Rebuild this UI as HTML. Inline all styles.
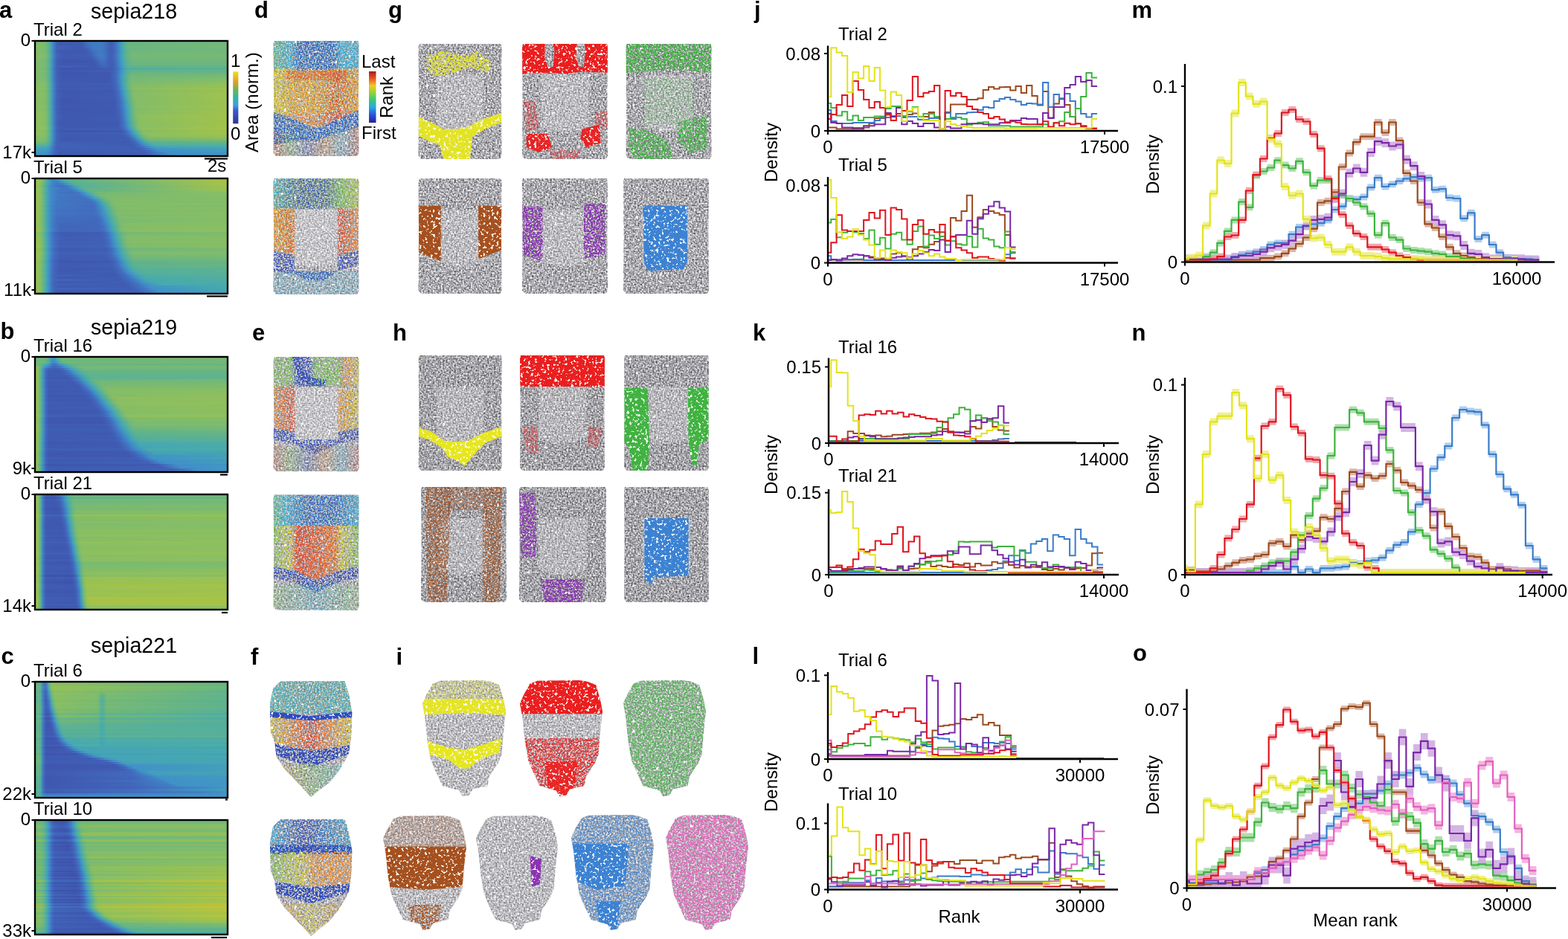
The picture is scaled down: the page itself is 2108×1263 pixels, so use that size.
<!DOCTYPE html>
<html><head><meta charset="utf-8"><style>
html,body{margin:0;padding:0;background:#fff;width:2108px;height:1263px;overflow:hidden}
svg{display:block}
text{font-family:"Liberation Sans",Arial,Helvetica,sans-serif;fill:#000}
.b{font-weight:bold}
</style></head><body>
<svg width="2108" height="1263" viewBox="0 0 2108 1263">
<defs><linearGradient id="h0_0"><stop offset="0" stop-color="#80bc6b"/><stop offset="0.0429" stop-color="#7fbc6c"/><stop offset="0.0571" stop-color="#76b975"/><stop offset="0.0714" stop-color="#5db290"/><stop offset="0.0857" stop-color="#439fba"/><stop offset="0.1" stop-color="#4178c2"/><stop offset="0.114" stop-color="#4061b7"/><stop offset="0.229" stop-color="#3f59b1"/><stop offset="0.286" stop-color="#417ac3"/><stop offset="0.343" stop-color="#417bc3"/><stop offset="0.357" stop-color="#4276c2"/><stop offset="0.386" stop-color="#4061b7"/><stop offset="0.4" stop-color="#4061b6"/><stop offset="0.414" stop-color="#416abd"/><stop offset="0.429" stop-color="#4180c4"/><stop offset="0.443" stop-color="#4299c0"/><stop offset="0.457" stop-color="#49abaa"/><stop offset="0.471" stop-color="#5db291"/><stop offset="0.486" stop-color="#6ab681"/><stop offset="1" stop-color="#72b879"/></linearGradient><linearGradient id="h0_1"><stop offset="0" stop-color="#80bc6b"/><stop offset="0.0429" stop-color="#7ebb6d"/><stop offset="0.0571" stop-color="#75b976"/><stop offset="0.0714" stop-color="#5cb191"/><stop offset="0.0857" stop-color="#439fba"/><stop offset="0.1" stop-color="#4178c2"/><stop offset="0.114" stop-color="#4061b7"/><stop offset="0.129" stop-color="#3f59b1"/><stop offset="0.243" stop-color="#3f5bb3"/><stop offset="0.286" stop-color="#4276c2"/><stop offset="0.343" stop-color="#417ac3"/><stop offset="0.357" stop-color="#4275c2"/><stop offset="0.386" stop-color="#4061b6"/><stop offset="0.4" stop-color="#4060b6"/><stop offset="0.414" stop-color="#416abd"/><stop offset="0.429" stop-color="#417fc4"/><stop offset="0.443" stop-color="#4298c1"/><stop offset="0.457" stop-color="#48abac"/><stop offset="0.471" stop-color="#5bb192"/><stop offset="0.486" stop-color="#69b582"/><stop offset="1" stop-color="#72b879"/></linearGradient><linearGradient id="h0_2"><stop offset="0" stop-color="#82bd69"/><stop offset="0.0429" stop-color="#81bc6a"/><stop offset="0.0571" stop-color="#78ba73"/><stop offset="0.0714" stop-color="#5eb28f"/><stop offset="0.0857" stop-color="#44a0b9"/><stop offset="0.1" stop-color="#417ac3"/><stop offset="0.114" stop-color="#4062b8"/><stop offset="0.243" stop-color="#3f5ab2"/><stop offset="0.3" stop-color="#417bc3"/><stop offset="0.343" stop-color="#417cc3"/><stop offset="0.357" stop-color="#4177c2"/><stop offset="0.386" stop-color="#4062b7"/><stop offset="0.4" stop-color="#4062b7"/><stop offset="0.414" stop-color="#426bbe"/><stop offset="0.429" stop-color="#4180c4"/><stop offset="0.443" stop-color="#4299c0"/><stop offset="0.457" stop-color="#4aabaa"/><stop offset="0.471" stop-color="#5db290"/><stop offset="0.486" stop-color="#6bb680"/><stop offset="1" stop-color="#74b977"/></linearGradient><linearGradient id="h0_3"><stop offset="0" stop-color="#80bc6b"/><stop offset="0.0429" stop-color="#7fbc6c"/><stop offset="0.0571" stop-color="#76b975"/><stop offset="0.0714" stop-color="#5db290"/><stop offset="0.0857" stop-color="#439fba"/><stop offset="0.1" stop-color="#4178c2"/><stop offset="0.114" stop-color="#4061b7"/><stop offset="0.243" stop-color="#3f58b1"/><stop offset="0.271" stop-color="#4061b7"/><stop offset="0.3" stop-color="#4276c2"/><stop offset="0.343" stop-color="#417bc3"/><stop offset="0.386" stop-color="#4061b7"/><stop offset="0.4" stop-color="#4060b6"/><stop offset="0.414" stop-color="#416abd"/><stop offset="0.429" stop-color="#417ec4"/><stop offset="0.443" stop-color="#4197c2"/><stop offset="0.457" stop-color="#48abad"/><stop offset="0.471" stop-color="#5bb193"/><stop offset="0.486" stop-color="#69b582"/><stop offset="1" stop-color="#72b879"/></linearGradient><linearGradient id="h0_4"><stop offset="0" stop-color="#7ebb6d"/><stop offset="0.0429" stop-color="#7dbb6e"/><stop offset="0.0571" stop-color="#74b977"/><stop offset="0.0714" stop-color="#5bb192"/><stop offset="0.0857" stop-color="#439ebb"/><stop offset="0.1" stop-color="#4277c2"/><stop offset="0.114" stop-color="#4060b6"/><stop offset="0.129" stop-color="#3f58b1"/><stop offset="0.257" stop-color="#3f58b0"/><stop offset="0.314" stop-color="#4276c2"/><stop offset="0.343" stop-color="#4179c2"/><stop offset="0.357" stop-color="#4274c1"/><stop offset="0.386" stop-color="#4060b6"/><stop offset="0.4" stop-color="#405fb5"/><stop offset="0.414" stop-color="#4168bc"/><stop offset="0.443" stop-color="#4195c4"/><stop offset="0.457" stop-color="#46a9b0"/><stop offset="0.471" stop-color="#59b096"/><stop offset="0.486" stop-color="#66b585"/><stop offset="0.514" stop-color="#70b77b"/><stop offset="1" stop-color="#70b77b"/></linearGradient><linearGradient id="h0_5"><stop offset="0" stop-color="#81bc6a"/><stop offset="0.0429" stop-color="#80bc6b"/><stop offset="0.0571" stop-color="#77b974"/><stop offset="0.0714" stop-color="#5eb28f"/><stop offset="0.0857" stop-color="#43a0b9"/><stop offset="0.1" stop-color="#4179c3"/><stop offset="0.114" stop-color="#4062b7"/><stop offset="0.143" stop-color="#3f58b1"/><stop offset="0.271" stop-color="#3f5ab2"/><stop offset="0.329" stop-color="#417ac3"/><stop offset="0.357" stop-color="#4276c2"/><stop offset="0.386" stop-color="#4061b7"/><stop offset="0.4" stop-color="#4061b7"/><stop offset="0.414" stop-color="#416abd"/><stop offset="0.429" stop-color="#417ec4"/><stop offset="0.443" stop-color="#4197c2"/><stop offset="0.457" stop-color="#47aaae"/><stop offset="0.471" stop-color="#5bb194"/><stop offset="0.486" stop-color="#69b582"/><stop offset="0.514" stop-color="#73b878"/><stop offset="1" stop-color="#73b878"/></linearGradient><linearGradient id="h0_6"><stop offset="0" stop-color="#85bd66"/><stop offset="0.0429" stop-color="#83bd68"/><stop offset="0.0571" stop-color="#7aba71"/><stop offset="0.0714" stop-color="#60b38c"/><stop offset="0.0857" stop-color="#44a2b7"/><stop offset="0.1" stop-color="#417cc3"/><stop offset="0.114" stop-color="#4164b9"/><stop offset="0.143" stop-color="#3f5ab2"/><stop offset="0.286" stop-color="#405eb5"/><stop offset="0.329" stop-color="#417ac3"/><stop offset="0.343" stop-color="#417dc3"/><stop offset="0.357" stop-color="#4179c2"/><stop offset="0.386" stop-color="#4063b8"/><stop offset="0.4" stop-color="#4062b8"/><stop offset="0.414" stop-color="#426bbe"/><stop offset="0.429" stop-color="#4180c4"/><stop offset="0.443" stop-color="#4298c1"/><stop offset="0.457" stop-color="#49abab"/><stop offset="0.471" stop-color="#5cb191"/><stop offset="0.486" stop-color="#6bb680"/><stop offset="0.5" stop-color="#74b977"/><stop offset="1" stop-color="#77b974"/></linearGradient><linearGradient id="h0_7"><stop offset="0" stop-color="#83bd68"/><stop offset="0.0429" stop-color="#82bc69"/><stop offset="0.0571" stop-color="#79ba72"/><stop offset="0.0714" stop-color="#5fb28e"/><stop offset="0.0857" stop-color="#44a1b8"/><stop offset="0.1" stop-color="#417bc3"/><stop offset="0.114" stop-color="#4063b8"/><stop offset="0.129" stop-color="#3f5bb3"/><stop offset="0.286" stop-color="#3f5bb2"/><stop offset="0.343" stop-color="#417ac3"/><stop offset="0.357" stop-color="#4177c2"/><stop offset="0.386" stop-color="#4062b8"/><stop offset="0.4" stop-color="#4062b7"/><stop offset="0.414" stop-color="#426bbe"/><stop offset="0.429" stop-color="#417fc4"/><stop offset="0.443" stop-color="#4197c2"/><stop offset="0.457" stop-color="#47aaad"/><stop offset="0.471" stop-color="#5bb193"/><stop offset="0.486" stop-color="#6ab681"/><stop offset="0.514" stop-color="#75b976"/><stop offset="1" stop-color="#75b976"/></linearGradient><linearGradient id="h0_8"><stop offset="0" stop-color="#7ebb6d"/><stop offset="0.0429" stop-color="#7cbb6f"/><stop offset="0.0571" stop-color="#73b878"/><stop offset="0.0714" stop-color="#5bb193"/><stop offset="0.0857" stop-color="#439dbc"/><stop offset="0.1" stop-color="#4276c2"/><stop offset="0.114" stop-color="#4060b6"/><stop offset="0.143" stop-color="#3f56af"/><stop offset="0.3" stop-color="#3f59b1"/><stop offset="0.343" stop-color="#4272c1"/><stop offset="0.357" stop-color="#4272c1"/><stop offset="0.386" stop-color="#405fb6"/><stop offset="0.4" stop-color="#405fb5"/><stop offset="0.414" stop-color="#4167bb"/><stop offset="0.443" stop-color="#4193c6"/><stop offset="0.457" stop-color="#45a7b2"/><stop offset="0.471" stop-color="#56af99"/><stop offset="0.486" stop-color="#64b488"/><stop offset="0.514" stop-color="#6fb77c"/><stop offset="1" stop-color="#6fb77c"/></linearGradient><linearGradient id="h0_9"><stop offset="0" stop-color="#7cbb6f"/><stop offset="0.0429" stop-color="#7aba71"/><stop offset="0.0571" stop-color="#71b87a"/><stop offset="0.0714" stop-color="#5ab195"/><stop offset="0.0857" stop-color="#439cbd"/><stop offset="0.1" stop-color="#4275c2"/><stop offset="0.114" stop-color="#405fb5"/><stop offset="0.143" stop-color="#3e55ae"/><stop offset="0.3" stop-color="#3f56af"/><stop offset="0.343" stop-color="#426cbe"/><stop offset="0.357" stop-color="#426ec0"/><stop offset="0.386" stop-color="#405eb5"/><stop offset="0.4" stop-color="#405db4"/><stop offset="0.414" stop-color="#4166ba"/><stop offset="0.429" stop-color="#4178c2"/><stop offset="0.443" stop-color="#4091c8"/><stop offset="0.457" stop-color="#45a5b4"/><stop offset="0.486" stop-color="#61b38b"/><stop offset="0.514" stop-color="#6cb67f"/><stop offset="1" stop-color="#6db67e"/></linearGradient><linearGradient id="h0_10"><stop offset="0" stop-color="#7ebb6d"/><stop offset="0.0429" stop-color="#7cbb6f"/><stop offset="0.0571" stop-color="#73b878"/><stop offset="0.0714" stop-color="#5bb193"/><stop offset="0.0857" stop-color="#439ebb"/><stop offset="0.1" stop-color="#4276c2"/><stop offset="0.114" stop-color="#4060b6"/><stop offset="0.129" stop-color="#3f58b0"/><stop offset="0.314" stop-color="#3f59b1"/><stop offset="0.357" stop-color="#426cbf"/><stop offset="0.386" stop-color="#405fb5"/><stop offset="0.4" stop-color="#405eb5"/><stop offset="0.414" stop-color="#4167bb"/><stop offset="0.429" stop-color="#4178c2"/><stop offset="0.443" stop-color="#4091c8"/><stop offset="0.457" stop-color="#45a4b5"/><stop offset="0.486" stop-color="#60b38d"/><stop offset="0.514" stop-color="#6ab681"/><stop offset="1" stop-color="#6ab681"/></linearGradient><linearGradient id="h0_11"><stop offset="0" stop-color="#80bc6b"/><stop offset="0.0429" stop-color="#7fbc6c"/><stop offset="0.0571" stop-color="#76b975"/><stop offset="0.0714" stop-color="#5db291"/><stop offset="0.0857" stop-color="#439fba"/><stop offset="0.1" stop-color="#4178c2"/><stop offset="0.114" stop-color="#4061b7"/><stop offset="0.314" stop-color="#3f58b1"/><stop offset="0.357" stop-color="#4168bc"/><stop offset="0.4" stop-color="#405fb5"/><stop offset="0.414" stop-color="#4167bb"/><stop offset="0.429" stop-color="#4177c2"/><stop offset="0.443" stop-color="#408fc7"/><stop offset="0.471" stop-color="#4eada4"/><stop offset="0.486" stop-color="#5bb193"/><stop offset="0.5" stop-color="#62b38a"/><stop offset="1" stop-color="#64b487"/></linearGradient><linearGradient id="h0_12"><stop offset="0" stop-color="#78ba73"/><stop offset="0.0429" stop-color="#76b975"/><stop offset="0.0571" stop-color="#6eb77d"/><stop offset="0.0714" stop-color="#57b098"/><stop offset="0.0857" stop-color="#429abf"/><stop offset="0.1" stop-color="#4272c1"/><stop offset="0.114" stop-color="#405db4"/><stop offset="0.143" stop-color="#3e53ad"/><stop offset="0.343" stop-color="#3f58b0"/><stop offset="0.371" stop-color="#405db4"/><stop offset="0.4" stop-color="#3f5ab2"/><stop offset="0.429" stop-color="#426fc0"/><stop offset="0.443" stop-color="#4185c5"/><stop offset="0.457" stop-color="#4299c0"/><stop offset="0.471" stop-color="#46a8b1"/><stop offset="0.486" stop-color="#50ada1"/><stop offset="1" stop-color="#59b095"/></linearGradient><linearGradient id="h0_13"><stop offset="0" stop-color="#7fbc6c"/><stop offset="0.0429" stop-color="#7ebb6d"/><stop offset="0.0571" stop-color="#75b976"/><stop offset="0.0714" stop-color="#5cb191"/><stop offset="0.0857" stop-color="#439ebb"/><stop offset="0.1" stop-color="#4177c2"/><stop offset="0.114" stop-color="#4061b7"/><stop offset="0.143" stop-color="#3f57b0"/><stop offset="0.4" stop-color="#405eb4"/><stop offset="0.414" stop-color="#4166ba"/><stop offset="0.429" stop-color="#4275c2"/><stop offset="0.443" stop-color="#408cc7"/><stop offset="0.471" stop-color="#4baca8"/><stop offset="0.486" stop-color="#58b097"/><stop offset="0.514" stop-color="#61b38b"/><stop offset="1" stop-color="#61b38a"/></linearGradient><linearGradient id="h0_14"><stop offset="0" stop-color="#7cbb6f"/><stop offset="0.0429" stop-color="#7aba71"/><stop offset="0.0571" stop-color="#71b87a"/><stop offset="0.0714" stop-color="#5ab195"/><stop offset="0.0857" stop-color="#439cbd"/><stop offset="0.1" stop-color="#4275c2"/><stop offset="0.114" stop-color="#405fb5"/><stop offset="0.143" stop-color="#3e55ae"/><stop offset="0.386" stop-color="#3f58b0"/><stop offset="0.414" stop-color="#4165b9"/><stop offset="0.429" stop-color="#4275c2"/><stop offset="0.443" stop-color="#408dc7"/><stop offset="0.457" stop-color="#44a1b8"/><stop offset="0.471" stop-color="#4fada3"/><stop offset="0.486" stop-color="#5db290"/><stop offset="0.514" stop-color="#69b582"/><stop offset="1" stop-color="#69b682"/></linearGradient><linearGradient id="h0_15"><stop offset="0" stop-color="#7dbb6e"/><stop offset="0.0429" stop-color="#7cbb6f"/><stop offset="0.0571" stop-color="#73b878"/><stop offset="0.0714" stop-color="#5bb193"/><stop offset="0.0857" stop-color="#439dbc"/><stop offset="0.1" stop-color="#4276c2"/><stop offset="0.114" stop-color="#4060b6"/><stop offset="0.143" stop-color="#3f56af"/><stop offset="0.386" stop-color="#3f58b0"/><stop offset="0.414" stop-color="#4166ba"/><stop offset="0.429" stop-color="#4177c2"/><stop offset="0.443" stop-color="#4091c8"/><stop offset="0.457" stop-color="#45a5b4"/><stop offset="0.486" stop-color="#64b487"/><stop offset="0.5" stop-color="#70b77b"/><stop offset="1" stop-color="#76b975"/></linearGradient><linearGradient id="h0_16"><stop offset="0" stop-color="#7ebb6d"/><stop offset="0.0429" stop-color="#7dbb6e"/><stop offset="0.0571" stop-color="#74b977"/><stop offset="0.0714" stop-color="#5bb192"/><stop offset="0.0857" stop-color="#439ebb"/><stop offset="0.1" stop-color="#4277c2"/><stop offset="0.114" stop-color="#4060b6"/><stop offset="0.129" stop-color="#3f58b1"/><stop offset="0.386" stop-color="#3f58b0"/><stop offset="0.414" stop-color="#4165ba"/><stop offset="0.429" stop-color="#4276c2"/><stop offset="0.443" stop-color="#4090c8"/><stop offset="0.457" stop-color="#45a5b4"/><stop offset="0.486" stop-color="#67b584"/><stop offset="0.5" stop-color="#74b977"/><stop offset="1" stop-color="#7cbb6f"/></linearGradient><linearGradient id="h0_17"><stop offset="0" stop-color="#7fbc6c"/><stop offset="0.0429" stop-color="#7ebb6d"/><stop offset="0.0571" stop-color="#75b976"/><stop offset="0.0714" stop-color="#5cb191"/><stop offset="0.0857" stop-color="#439ebb"/><stop offset="0.1" stop-color="#4177c2"/><stop offset="0.114" stop-color="#4061b6"/><stop offset="0.143" stop-color="#3f57b0"/><stop offset="0.386" stop-color="#3f58b0"/><stop offset="0.414" stop-color="#4164b9"/><stop offset="0.429" stop-color="#4274c1"/><stop offset="0.443" stop-color="#408ec7"/><stop offset="0.457" stop-color="#44a3b6"/><stop offset="0.486" stop-color="#68b583"/><stop offset="0.5" stop-color="#77b974"/><stop offset="1" stop-color="#83bd68"/></linearGradient><linearGradient id="h0_18"><stop offset="0" stop-color="#83bd68"/><stop offset="0.0429" stop-color="#82bd69"/><stop offset="0.0571" stop-color="#79ba72"/><stop offset="0.0714" stop-color="#5fb28e"/><stop offset="0.0857" stop-color="#44a0b9"/><stop offset="0.1" stop-color="#417ac3"/><stop offset="0.114" stop-color="#4062b7"/><stop offset="0.129" stop-color="#3f5ab2"/><stop offset="0.386" stop-color="#3f59b1"/><stop offset="0.414" stop-color="#4164b9"/><stop offset="0.429" stop-color="#4273c1"/><stop offset="0.443" stop-color="#408cc7"/><stop offset="0.457" stop-color="#44a3b6"/><stop offset="0.486" stop-color="#69b682"/><stop offset="0.5" stop-color="#7aba71"/><stop offset="1" stop-color="#8bbf60"/></linearGradient><linearGradient id="h0_19"><stop offset="0" stop-color="#88be63"/><stop offset="0.0429" stop-color="#86be65"/><stop offset="0.0571" stop-color="#7dbb6e"/><stop offset="0.0714" stop-color="#62b38a"/><stop offset="0.0857" stop-color="#44a2b7"/><stop offset="0.1" stop-color="#417cc3"/><stop offset="0.114" stop-color="#4063b8"/><stop offset="0.129" stop-color="#3f5bb3"/><stop offset="0.4" stop-color="#405db4"/><stop offset="0.414" stop-color="#4164b9"/><stop offset="0.429" stop-color="#4272c1"/><stop offset="0.443" stop-color="#408bc7"/><stop offset="0.457" stop-color="#44a2b7"/><stop offset="0.471" stop-color="#54af9c"/><stop offset="0.486" stop-color="#6ab681"/><stop offset="0.5" stop-color="#7dbb6e"/><stop offset="1" stop-color="#93c059"/></linearGradient><linearGradient id="h0_20"><stop offset="0" stop-color="#86be65"/><stop offset="0.0429" stop-color="#84bd67"/><stop offset="0.0571" stop-color="#7bbb70"/><stop offset="0.0714" stop-color="#60b38c"/><stop offset="0.0857" stop-color="#44a1b8"/><stop offset="0.1" stop-color="#4179c3"/><stop offset="0.114" stop-color="#4061b7"/><stop offset="0.129" stop-color="#3f59b1"/><stop offset="0.4" stop-color="#3f5ab2"/><stop offset="0.429" stop-color="#426dbf"/><stop offset="0.443" stop-color="#4185c5"/><stop offset="0.457" stop-color="#439dbc"/><stop offset="0.471" stop-color="#4fada3"/><stop offset="0.486" stop-color="#64b487"/><stop offset="0.5" stop-color="#79ba72"/><stop offset="0.514" stop-color="#83bd68"/><stop offset="1" stop-color="#94c057"/></linearGradient><linearGradient id="h0_21"><stop offset="0" stop-color="#8bbf60"/><stop offset="0.0429" stop-color="#8abe61"/><stop offset="0.0571" stop-color="#81bc6a"/><stop offset="0.0714" stop-color="#64b487"/><stop offset="0.0857" stop-color="#45a4b5"/><stop offset="0.1" stop-color="#417dc3"/><stop offset="0.114" stop-color="#4164b9"/><stop offset="0.143" stop-color="#3f5ab2"/><stop offset="0.4" stop-color="#405db4"/><stop offset="0.414" stop-color="#4062b8"/><stop offset="0.429" stop-color="#426ec0"/><stop offset="0.443" stop-color="#4185c5"/><stop offset="0.457" stop-color="#439dbc"/><stop offset="0.471" stop-color="#50ada2"/><stop offset="0.486" stop-color="#66b585"/><stop offset="0.5" stop-color="#7dbb6e"/><stop offset="0.514" stop-color="#88be63"/><stop offset="1" stop-color="#9dc24f"/></linearGradient><linearGradient id="h0_22"><stop offset="0" stop-color="#85be66"/><stop offset="0.0429" stop-color="#84bd67"/><stop offset="0.0571" stop-color="#7bba70"/><stop offset="0.0714" stop-color="#5fb28d"/><stop offset="0.0857" stop-color="#44a0b9"/><stop offset="0.1" stop-color="#4178c2"/><stop offset="0.114" stop-color="#4060b6"/><stop offset="0.129" stop-color="#3f58b0"/><stop offset="0.4" stop-color="#3f58b1"/><stop offset="0.429" stop-color="#4168bc"/><stop offset="0.443" stop-color="#417cc3"/><stop offset="0.457" stop-color="#4196c3"/><stop offset="0.471" stop-color="#47aaad"/><stop offset="0.486" stop-color="#5eb28f"/><stop offset="0.5" stop-color="#73b878"/><stop offset="0.514" stop-color="#81bc6a"/><stop offset="1" stop-color="#99c153"/></linearGradient><linearGradient id="h0_23"><stop offset="0" stop-color="#89be62"/><stop offset="0.0429" stop-color="#87be64"/><stop offset="0.0571" stop-color="#7ebc6d"/><stop offset="0.0714" stop-color="#62b389"/><stop offset="0.0857" stop-color="#44a2b7"/><stop offset="0.1" stop-color="#417bc3"/><stop offset="0.114" stop-color="#4062b8"/><stop offset="0.143" stop-color="#3f58b1"/><stop offset="0.4" stop-color="#3f5ab2"/><stop offset="0.414" stop-color="#405eb5"/><stop offset="0.429" stop-color="#4168bc"/><stop offset="0.443" stop-color="#417bc3"/><stop offset="0.457" stop-color="#4195c4"/><stop offset="0.471" stop-color="#46aaaf"/><stop offset="0.486" stop-color="#5eb28f"/><stop offset="0.5" stop-color="#74b977"/><stop offset="0.514" stop-color="#83bd68"/><stop offset="1" stop-color="#9ec24f"/></linearGradient><linearGradient id="h0_24"><stop offset="0" stop-color="#8bbf60"/><stop offset="0.0429" stop-color="#89be62"/><stop offset="0.0571" stop-color="#81bc6a"/><stop offset="0.0714" stop-color="#64b487"/><stop offset="0.0857" stop-color="#44a3b6"/><stop offset="0.1" stop-color="#417cc3"/><stop offset="0.114" stop-color="#4063b8"/><stop offset="0.143" stop-color="#3f59b1"/><stop offset="0.4" stop-color="#3f5bb2"/><stop offset="0.429" stop-color="#4167bb"/><stop offset="0.443" stop-color="#4179c3"/><stop offset="0.457" stop-color="#4093c6"/><stop offset="0.471" stop-color="#46a8b1"/><stop offset="0.5" stop-color="#73b878"/><stop offset="0.514" stop-color="#84bd67"/><stop offset="1" stop-color="#a0c24d"/></linearGradient><linearGradient id="h0_25"><stop offset="0" stop-color="#89be62"/><stop offset="0.0429" stop-color="#87be64"/><stop offset="0.0571" stop-color="#7ebb6d"/><stop offset="0.0714" stop-color="#62b38a"/><stop offset="0.0857" stop-color="#44a2b7"/><stop offset="0.1" stop-color="#417ac3"/><stop offset="0.114" stop-color="#4062b7"/><stop offset="0.143" stop-color="#3f58b0"/><stop offset="0.414" stop-color="#3f5cb3"/><stop offset="0.429" stop-color="#4164b9"/><stop offset="0.443" stop-color="#4274c1"/><stop offset="0.457" stop-color="#408dc7"/><stop offset="0.471" stop-color="#44a4b5"/><stop offset="0.5" stop-color="#6eb77d"/><stop offset="0.514" stop-color="#80bc6b"/><stop offset="1" stop-color="#9ec24f"/></linearGradient><linearGradient id="h0_26"><stop offset="0" stop-color="#86be65"/><stop offset="0.0429" stop-color="#85bd66"/><stop offset="0.0571" stop-color="#7cbb6f"/><stop offset="0.0714" stop-color="#60b38c"/><stop offset="0.0857" stop-color="#44a0b9"/><stop offset="0.1" stop-color="#4178c2"/><stop offset="0.114" stop-color="#4060b6"/><stop offset="0.143" stop-color="#3f56af"/><stop offset="0.414" stop-color="#3f5ab2"/><stop offset="0.443" stop-color="#426fc0"/><stop offset="0.457" stop-color="#4188c6"/><stop offset="0.471" stop-color="#439fba"/><stop offset="0.486" stop-color="#52ae9f"/><stop offset="0.5" stop-color="#68b583"/><stop offset="0.514" stop-color="#7bbb70"/><stop offset="0.529" stop-color="#85bd66"/><stop offset="1" stop-color="#9bc151"/></linearGradient><linearGradient id="h0_27"><stop offset="0" stop-color="#86be65"/><stop offset="0.0429" stop-color="#84bd67"/><stop offset="0.0571" stop-color="#7bbb70"/><stop offset="0.0714" stop-color="#60b38d"/><stop offset="0.0857" stop-color="#44a0b9"/><stop offset="0.1" stop-color="#4178c2"/><stop offset="0.114" stop-color="#4060b6"/><stop offset="0.143" stop-color="#3f56af"/><stop offset="0.414" stop-color="#3f59b1"/><stop offset="0.443" stop-color="#426cbf"/><stop offset="0.457" stop-color="#4184c5"/><stop offset="0.471" stop-color="#439cbd"/><stop offset="0.486" stop-color="#4fada3"/><stop offset="0.5" stop-color="#64b487"/><stop offset="0.514" stop-color="#79ba72"/><stop offset="0.529" stop-color="#84bd67"/><stop offset="1" stop-color="#9bc151"/></linearGradient><linearGradient id="h0_28"><stop offset="0" stop-color="#88be63"/><stop offset="0.0429" stop-color="#86be65"/><stop offset="0.0571" stop-color="#7dbb6e"/><stop offset="0.0714" stop-color="#61b38b"/><stop offset="0.0857" stop-color="#44a1b8"/><stop offset="0.1" stop-color="#4179c2"/><stop offset="0.114" stop-color="#4061b7"/><stop offset="0.143" stop-color="#3f57b0"/><stop offset="0.414" stop-color="#3f5ab1"/><stop offset="0.443" stop-color="#426cbe"/><stop offset="0.457" stop-color="#4182c5"/><stop offset="0.471" stop-color="#429bbe"/><stop offset="0.486" stop-color="#4daca5"/><stop offset="0.5" stop-color="#63b488"/><stop offset="0.514" stop-color="#79ba72"/><stop offset="0.529" stop-color="#85bd66"/><stop offset="1" stop-color="#9dc250"/></linearGradient><linearGradient id="h0_29"><stop offset="0" stop-color="#8abf61"/><stop offset="0.0429" stop-color="#89be62"/><stop offset="0.0571" stop-color="#80bc6b"/><stop offset="0.0714" stop-color="#63b488"/><stop offset="0.0857" stop-color="#44a3b6"/><stop offset="0.1" stop-color="#417bc3"/><stop offset="0.114" stop-color="#4062b8"/><stop offset="0.143" stop-color="#3f58b0"/><stop offset="0.414" stop-color="#3f5ab2"/><stop offset="0.443" stop-color="#426bbe"/><stop offset="0.457" stop-color="#4181c4"/><stop offset="0.471" stop-color="#429abf"/><stop offset="0.486" stop-color="#4caca7"/><stop offset="0.514" stop-color="#7aba71"/><stop offset="0.529" stop-color="#87be64"/><stop offset="1" stop-color="#9fc24d"/></linearGradient><linearGradient id="h0_30"><stop offset="0" stop-color="#87be64"/><stop offset="0.0429" stop-color="#85bd66"/><stop offset="0.0571" stop-color="#7cbb6f"/><stop offset="0.0714" stop-color="#60b38c"/><stop offset="0.0857" stop-color="#44a0b9"/><stop offset="0.1" stop-color="#4177c2"/><stop offset="0.114" stop-color="#4060b6"/><stop offset="0.143" stop-color="#3f56af"/><stop offset="0.414" stop-color="#3f58b0"/><stop offset="0.443" stop-color="#4167bb"/><stop offset="0.457" stop-color="#417bc3"/><stop offset="0.471" stop-color="#4195c4"/><stop offset="0.486" stop-color="#46aaaf"/><stop offset="0.5" stop-color="#5db290"/><stop offset="0.514" stop-color="#73b878"/><stop offset="0.529" stop-color="#82bd69"/><stop offset="1" stop-color="#9cc151"/></linearGradient><linearGradient id="h0_31"><stop offset="0" stop-color="#8abe62"/><stop offset="0.0429" stop-color="#88be63"/><stop offset="0.0571" stop-color="#7fbc6c"/><stop offset="0.0714" stop-color="#62b389"/><stop offset="0.0857" stop-color="#44a2b7"/><stop offset="0.1" stop-color="#417ac3"/><stop offset="0.114" stop-color="#4061b7"/><stop offset="0.143" stop-color="#3f57b0"/><stop offset="0.414" stop-color="#3f59b1"/><stop offset="0.443" stop-color="#4168bb"/><stop offset="0.457" stop-color="#417ac3"/><stop offset="0.471" stop-color="#4194c5"/><stop offset="0.486" stop-color="#46a9b0"/><stop offset="0.5" stop-color="#5db290"/><stop offset="0.514" stop-color="#74b977"/><stop offset="0.529" stop-color="#84bd67"/><stop offset="1" stop-color="#9fc24e"/></linearGradient><linearGradient id="h0_32"><stop offset="0" stop-color="#8abe61"/><stop offset="0.0429" stop-color="#89be63"/><stop offset="0.0571" stop-color="#80bc6b"/><stop offset="0.0714" stop-color="#63b489"/><stop offset="0.0857" stop-color="#44a2b7"/><stop offset="0.1" stop-color="#417ac3"/><stop offset="0.114" stop-color="#4061b7"/><stop offset="0.129" stop-color="#3f59b1"/><stop offset="0.414" stop-color="#3f59b1"/><stop offset="0.443" stop-color="#4166ba"/><stop offset="0.457" stop-color="#4178c2"/><stop offset="0.471" stop-color="#4092c7"/><stop offset="0.486" stop-color="#45a7b2"/><stop offset="0.514" stop-color="#72b879"/><stop offset="0.529" stop-color="#83bd68"/><stop offset="1" stop-color="#9fc24e"/></linearGradient><linearGradient id="h0_33"><stop offset="0" stop-color="#8cbf5f"/><stop offset="0.0429" stop-color="#8bbf60"/><stop offset="0.0571" stop-color="#82bd69"/><stop offset="0.0714" stop-color="#65b486"/><stop offset="0.0857" stop-color="#44a4b5"/><stop offset="0.1" stop-color="#417cc3"/><stop offset="0.114" stop-color="#4063b8"/><stop offset="0.143" stop-color="#3f59b1"/><stop offset="0.414" stop-color="#3f5ab2"/><stop offset="0.443" stop-color="#4166ba"/><stop offset="0.457" stop-color="#4177c2"/><stop offset="0.471" stop-color="#4090c8"/><stop offset="0.486" stop-color="#45a6b3"/><stop offset="0.514" stop-color="#72b879"/><stop offset="0.529" stop-color="#84bd67"/><stop offset="0.557" stop-color="#8fbf5d"/><stop offset="1" stop-color="#a1c24b"/></linearGradient><linearGradient id="h0_34"><stop offset="0" stop-color="#8cbf60"/><stop offset="0.0429" stop-color="#8abf61"/><stop offset="0.0571" stop-color="#81bc6a"/><stop offset="0.0714" stop-color="#64b487"/><stop offset="0.0857" stop-color="#44a3b6"/><stop offset="0.1" stop-color="#417bc3"/><stop offset="0.114" stop-color="#4062b8"/><stop offset="0.143" stop-color="#3f58b0"/><stop offset="0.429" stop-color="#3f5cb3"/><stop offset="0.443" stop-color="#4164b9"/><stop offset="0.457" stop-color="#4273c1"/><stop offset="0.471" stop-color="#408cc7"/><stop offset="0.486" stop-color="#44a3b6"/><stop offset="0.5" stop-color="#56af99"/><stop offset="0.514" stop-color="#6eb77d"/><stop offset="0.529" stop-color="#81bc6a"/><stop offset="0.543" stop-color="#8bbf60"/><stop offset="1" stop-color="#a1c24c"/></linearGradient><linearGradient id="h0_35"><stop offset="0" stop-color="#8cbf5f"/><stop offset="0.0429" stop-color="#8bbf60"/><stop offset="0.0571" stop-color="#82bd69"/><stop offset="0.0714" stop-color="#65b486"/><stop offset="0.0857" stop-color="#44a4b5"/><stop offset="0.1" stop-color="#417cc3"/><stop offset="0.114" stop-color="#4062b8"/><stop offset="0.143" stop-color="#3f58b1"/><stop offset="0.429" stop-color="#3f5cb3"/><stop offset="0.443" stop-color="#4063b8"/><stop offset="0.457" stop-color="#4271c1"/><stop offset="0.471" stop-color="#408ac6"/><stop offset="0.486" stop-color="#44a1b8"/><stop offset="0.5" stop-color="#54af9c"/><stop offset="0.514" stop-color="#6bb680"/><stop offset="0.529" stop-color="#80bc6b"/><stop offset="0.543" stop-color="#8bbf60"/><stop offset="1" stop-color="#a1c24b"/></linearGradient><linearGradient id="h0_36"><stop offset="0" stop-color="#8abe62"/><stop offset="0.0429" stop-color="#88be63"/><stop offset="0.0571" stop-color="#7fbc6c"/><stop offset="0.0714" stop-color="#62b389"/><stop offset="0.0857" stop-color="#44a2b7"/><stop offset="0.1" stop-color="#4179c2"/><stop offset="0.114" stop-color="#4061b6"/><stop offset="0.129" stop-color="#3f58b1"/><stop offset="0.429" stop-color="#3f5ab1"/><stop offset="0.443" stop-color="#4060b6"/><stop offset="0.457" stop-color="#426dbf"/><stop offset="0.471" stop-color="#4184c5"/><stop offset="0.486" stop-color="#439cbd"/><stop offset="0.5" stop-color="#4fada3"/><stop offset="0.514" stop-color="#65b486"/><stop offset="0.529" stop-color="#7bbb70"/><stop offset="0.543" stop-color="#88be63"/><stop offset="1" stop-color="#9fc24e"/></linearGradient><linearGradient id="h0_37"><stop offset="0" stop-color="#8bbf60"/><stop offset="0.0429" stop-color="#8abf61"/><stop offset="0.0571" stop-color="#81bc6a"/><stop offset="0.0714" stop-color="#64b487"/><stop offset="0.0857" stop-color="#44a3b6"/><stop offset="0.1" stop-color="#417ac3"/><stop offset="0.114" stop-color="#4062b7"/><stop offset="0.129" stop-color="#3f59b1"/><stop offset="0.429" stop-color="#3f5ab2"/><stop offset="0.457" stop-color="#426cbe"/><stop offset="0.471" stop-color="#4182c5"/><stop offset="0.486" stop-color="#429abf"/><stop offset="0.5" stop-color="#4daca6"/><stop offset="0.514" stop-color="#63b488"/><stop offset="0.529" stop-color="#7bbb70"/><stop offset="0.543" stop-color="#88be63"/><stop offset="1" stop-color="#a0c24c"/></linearGradient><linearGradient id="h0_38"><stop offset="0" stop-color="#8fbf5d"/><stop offset="0.0429" stop-color="#8dbf5e"/><stop offset="0.0571" stop-color="#85bd66"/><stop offset="0.0714" stop-color="#67b584"/><stop offset="0.0857" stop-color="#45a5b4"/><stop offset="0.1" stop-color="#417dc3"/><stop offset="0.114" stop-color="#4063b8"/><stop offset="0.143" stop-color="#3f59b1"/><stop offset="0.429" stop-color="#3f5bb3"/><stop offset="0.457" stop-color="#426bbe"/><stop offset="0.471" stop-color="#417fc4"/><stop offset="0.486" stop-color="#4298c1"/><stop offset="0.5" stop-color="#4aabaa"/><stop offset="0.514" stop-color="#61b38b"/><stop offset="0.529" stop-color="#79ba72"/><stop offset="0.543" stop-color="#89be62"/><stop offset="1" stop-color="#a4c349"/></linearGradient><linearGradient id="h0_39"><stop offset="0" stop-color="#91c05b"/><stop offset="0.0429" stop-color="#8fbf5c"/><stop offset="0.0571" stop-color="#87be64"/><stop offset="0.0714" stop-color="#6ab681"/><stop offset="0.0857" stop-color="#45a6b3"/><stop offset="0.1" stop-color="#417fc4"/><stop offset="0.114" stop-color="#4165b9"/><stop offset="0.129" stop-color="#3f5cb3"/><stop offset="0.443" stop-color="#405fb5"/><stop offset="0.457" stop-color="#4167bb"/><stop offset="0.471" stop-color="#4178c2"/><stop offset="0.486" stop-color="#4090c8"/><stop offset="0.5" stop-color="#45a5b4"/><stop offset="0.529" stop-color="#72b879"/><stop offset="0.543" stop-color="#86be65"/><stop offset="0.557" stop-color="#90bf5c"/><stop offset="1" stop-color="#a6c347"/></linearGradient><linearGradient id="h0_40"><stop offset="0" stop-color="#88be63"/><stop offset="0.0429" stop-color="#87be64"/><stop offset="0.0571" stop-color="#7ebb6d"/><stop offset="0.0714" stop-color="#61b38b"/><stop offset="0.0857" stop-color="#44a0b9"/><stop offset="0.1" stop-color="#4177c2"/><stop offset="0.114" stop-color="#405fb6"/><stop offset="0.143" stop-color="#3e55ae"/><stop offset="0.443" stop-color="#3f58b0"/><stop offset="0.471" stop-color="#4167bb"/><stop offset="0.5" stop-color="#4193c6"/><stop offset="0.514" stop-color="#46a8b1"/><stop offset="0.543" stop-color="#71b87a"/><stop offset="0.557" stop-color="#82bd69"/><stop offset="1" stop-color="#9dc24f"/></linearGradient><linearGradient id="h0_41"><stop offset="0" stop-color="#8ebf5d"/><stop offset="0.0429" stop-color="#8dbf5f"/><stop offset="0.0571" stop-color="#85bd66"/><stop offset="0.0714" stop-color="#67b584"/><stop offset="0.0857" stop-color="#45a5b4"/><stop offset="0.1" stop-color="#417ec4"/><stop offset="0.114" stop-color="#4165b9"/><stop offset="0.129" stop-color="#3f5cb3"/><stop offset="0.457" stop-color="#405eb5"/><stop offset="0.486" stop-color="#4273c1"/><stop offset="0.5" stop-color="#408ac6"/><stop offset="0.514" stop-color="#44a0b9"/><stop offset="0.529" stop-color="#53ae9e"/><stop offset="0.543" stop-color="#6ab681"/><stop offset="0.557" stop-color="#80bc6b"/><stop offset="0.571" stop-color="#8cbf5f"/><stop offset="1" stop-color="#a2c34b"/></linearGradient><linearGradient id="h0_42"><stop offset="0" stop-color="#89be62"/><stop offset="0.0429" stop-color="#88be63"/><stop offset="0.0571" stop-color="#7fbc6c"/><stop offset="0.0714" stop-color="#63b488"/><stop offset="0.0857" stop-color="#44a3b6"/><stop offset="0.1" stop-color="#417dc3"/><stop offset="0.114" stop-color="#4164b9"/><stop offset="0.143" stop-color="#3f5ab2"/><stop offset="0.457" stop-color="#3f5cb3"/><stop offset="0.486" stop-color="#4169bc"/><stop offset="0.5" stop-color="#417ac3"/><stop offset="0.514" stop-color="#4092c7"/><stop offset="0.529" stop-color="#45a6b3"/><stop offset="0.557" stop-color="#6db77e"/><stop offset="0.571" stop-color="#7fbc6c"/><stop offset="0.6" stop-color="#8cbf5f"/><stop offset="1" stop-color="#99c153"/></linearGradient><linearGradient id="h0_43"><stop offset="0" stop-color="#84bd67"/><stop offset="0.0429" stop-color="#82bd69"/><stop offset="0.0571" stop-color="#79ba72"/><stop offset="0.0714" stop-color="#5fb28d"/><stop offset="0.0857" stop-color="#44a1b8"/><stop offset="0.1" stop-color="#417ac3"/><stop offset="0.114" stop-color="#4063b8"/><stop offset="0.143" stop-color="#3f59b1"/><stop offset="0.471" stop-color="#3f5cb3"/><stop offset="0.5" stop-color="#426bbe"/><stop offset="0.529" stop-color="#4195c4"/><stop offset="0.543" stop-color="#46a8b1"/><stop offset="0.571" stop-color="#6bb680"/><stop offset="0.586" stop-color="#79ba72"/><stop offset="1" stop-color="#8cbf60"/></linearGradient><linearGradient id="h0_44"><stop offset="0" stop-color="#80bc6b"/><stop offset="0.0429" stop-color="#7ebc6d"/><stop offset="0.0571" stop-color="#76b975"/><stop offset="0.0714" stop-color="#5db290"/><stop offset="0.0857" stop-color="#439fba"/><stop offset="0.1" stop-color="#4179c2"/><stop offset="0.114" stop-color="#4062b7"/><stop offset="0.143" stop-color="#3f58b0"/><stop offset="0.486" stop-color="#3f5cb3"/><stop offset="0.514" stop-color="#426ec0"/><stop offset="0.529" stop-color="#4182c5"/><stop offset="0.543" stop-color="#4297c2"/><stop offset="0.557" stop-color="#46a9b0"/><stop offset="0.586" stop-color="#64b488"/><stop offset="0.6" stop-color="#6eb77d"/><stop offset="1" stop-color="#7aba71"/></linearGradient><linearGradient id="h0_45"><stop offset="0" stop-color="#75b976"/><stop offset="0.0429" stop-color="#73b878"/><stop offset="0.0571" stop-color="#6bb680"/><stop offset="0.0714" stop-color="#56af9a"/><stop offset="0.0857" stop-color="#429bbe"/><stop offset="0.1" stop-color="#4275c2"/><stop offset="0.114" stop-color="#4060b6"/><stop offset="0.486" stop-color="#3f59b1"/><stop offset="0.514" stop-color="#4164b9"/><stop offset="0.529" stop-color="#426fc0"/><stop offset="0.557" stop-color="#4195c4"/><stop offset="0.571" stop-color="#45a5b4"/><stop offset="0.6" stop-color="#59b096"/><stop offset="1" stop-color="#63b488"/></linearGradient><linearGradient id="h0_46"><stop offset="0" stop-color="#61b38c"/><stop offset="0.0429" stop-color="#60b38d"/><stop offset="0.0571" stop-color="#5bb193"/><stop offset="0.0714" stop-color="#4baca9"/><stop offset="0.0857" stop-color="#4195c4"/><stop offset="0.1" stop-color="#4274c1"/><stop offset="0.114" stop-color="#4062b8"/><stop offset="0.5" stop-color="#3f5cb3"/><stop offset="0.529" stop-color="#4167bb"/><stop offset="0.557" stop-color="#4183c5"/><stop offset="0.571" stop-color="#4194c5"/><stop offset="0.6" stop-color="#46aaae"/><stop offset="0.629" stop-color="#53ae9d"/><stop offset="1" stop-color="#57b099"/></linearGradient><linearGradient id="h0_47"><stop offset="0" stop-color="#4baca8"/><stop offset="0.0429" stop-color="#4aaba9"/><stop offset="0.0571" stop-color="#46aaae"/><stop offset="0.0714" stop-color="#43a0b9"/><stop offset="0.0857" stop-color="#408ac7"/><stop offset="0.1" stop-color="#426fc0"/><stop offset="0.114" stop-color="#4062b7"/><stop offset="0.514" stop-color="#405db4"/><stop offset="0.557" stop-color="#4270c0"/><stop offset="0.586" stop-color="#408bc7"/><stop offset="0.629" stop-color="#45a5b4"/><stop offset="1" stop-color="#49abab"/></linearGradient><linearGradient id="h0_48"><stop offset="0" stop-color="#44a3b6"/><stop offset="0.0571" stop-color="#439fba"/><stop offset="0.0714" stop-color="#4196c3"/><stop offset="0.0857" stop-color="#4182c5"/><stop offset="0.1" stop-color="#426bbe"/><stop offset="0.114" stop-color="#4060b6"/><stop offset="0.543" stop-color="#4060b6"/><stop offset="0.571" stop-color="#426bbe"/><stop offset="0.629" stop-color="#4193c6"/><stop offset="1" stop-color="#44a2b7"/></linearGradient><linearGradient id="h0_49"><stop offset="0" stop-color="#429bbe"/><stop offset="0.0571" stop-color="#4298c1"/><stop offset="0.0714" stop-color="#408fc8"/><stop offset="0.1" stop-color="#4169bc"/><stop offset="0.129" stop-color="#3f5bb2"/><stop offset="0.557" stop-color="#405fb5"/><stop offset="0.6" stop-color="#426ec0"/><stop offset="0.657" stop-color="#4090c8"/><stop offset="1" stop-color="#429bbe"/></linearGradient><linearGradient id="h0_50"><stop offset="0" stop-color="#4194c5"/><stop offset="0.0571" stop-color="#4091c8"/><stop offset="0.0714" stop-color="#4187c6"/><stop offset="0.1" stop-color="#4166ba"/><stop offset="0.129" stop-color="#3f59b1"/><stop offset="0.571" stop-color="#405db4"/><stop offset="0.7" stop-color="#4090c8"/><stop offset="1" stop-color="#4194c5"/></linearGradient><linearGradient id="h0_51"><stop offset="0" stop-color="#408cc7"/><stop offset="0.0571" stop-color="#4089c6"/><stop offset="0.0714" stop-color="#4180c4"/><stop offset="0.1" stop-color="#4062b7"/><stop offset="0.129" stop-color="#3f56af"/><stop offset="0.586" stop-color="#3f5bb3"/><stop offset="0.729" stop-color="#408bc7"/><stop offset="1" stop-color="#408cc7"/></linearGradient><linearGradient id="h1_0"><stop offset="0" stop-color="#9ac153"/><stop offset="0.0143" stop-color="#97c155"/><stop offset="0.0286" stop-color="#8ebf5e"/><stop offset="0.0429" stop-color="#75b976"/><stop offset="0.0571" stop-color="#54af9d"/><stop offset="0.0714" stop-color="#439cbd"/><stop offset="0.0857" stop-color="#4088c6"/><stop offset="0.1" stop-color="#4184c5"/><stop offset="0.114" stop-color="#408fc8"/><stop offset="0.143" stop-color="#48abad"/><stop offset="0.171" stop-color="#5ab194"/><stop offset="1" stop-color="#a6c347"/></linearGradient><linearGradient id="h1_1"><stop offset="0" stop-color="#9bc151"/><stop offset="0.0143" stop-color="#99c154"/><stop offset="0.0286" stop-color="#8fbf5d"/><stop offset="0.0429" stop-color="#78ba73"/><stop offset="0.0571" stop-color="#59b095"/><stop offset="0.0714" stop-color="#44a3b6"/><stop offset="0.0857" stop-color="#408fc8"/><stop offset="0.1" stop-color="#4181c4"/><stop offset="0.114" stop-color="#4180c4"/><stop offset="0.143" stop-color="#4297c2"/><stop offset="0.157" stop-color="#45a5b4"/><stop offset="0.186" stop-color="#57b098"/><stop offset="0.229" stop-color="#61b38b"/><stop offset="1" stop-color="#a8c346"/></linearGradient><linearGradient id="h1_2"><stop offset="0" stop-color="#9ac153"/><stop offset="0.0143" stop-color="#96c156"/><stop offset="0.0286" stop-color="#8bbf61"/><stop offset="0.0429" stop-color="#70b77b"/><stop offset="0.0571" stop-color="#51aea0"/><stop offset="0.0714" stop-color="#439dbc"/><stop offset="0.0857" stop-color="#408bc7"/><stop offset="0.1" stop-color="#417dc3"/><stop offset="0.114" stop-color="#4276c2"/><stop offset="0.143" stop-color="#417ec4"/><stop offset="0.157" stop-color="#408cc7"/><stop offset="0.186" stop-color="#45a8b1"/><stop offset="0.214" stop-color="#58b097"/><stop offset="1" stop-color="#a6c348"/></linearGradient><linearGradient id="h1_3"><stop offset="0" stop-color="#94c058"/><stop offset="0.0143" stop-color="#90bf5c"/><stop offset="0.0286" stop-color="#83bd68"/><stop offset="0.0429" stop-color="#65b486"/><stop offset="0.0571" stop-color="#48abac"/><stop offset="0.0714" stop-color="#4196c3"/><stop offset="0.0857" stop-color="#4184c5"/><stop offset="0.114" stop-color="#4272c1"/><stop offset="0.143" stop-color="#426ec0"/><stop offset="0.171" stop-color="#417ec4"/><stop offset="0.186" stop-color="#408ec7"/><stop offset="0.214" stop-color="#46a9b0"/><stop offset="0.243" stop-color="#57b099"/><stop offset="1" stop-color="#9ec24f"/></linearGradient><linearGradient id="h1_4"><stop offset="0" stop-color="#9cc151"/><stop offset="0.0143" stop-color="#98c154"/><stop offset="0.0286" stop-color="#8cbf60"/><stop offset="0.0429" stop-color="#6fb77c"/><stop offset="0.0571" stop-color="#4fada4"/><stop offset="0.0714" stop-color="#429bbe"/><stop offset="0.0857" stop-color="#408bc7"/><stop offset="0.143" stop-color="#4275c2"/><stop offset="0.171" stop-color="#4277c2"/><stop offset="0.2" stop-color="#408dc7"/><stop offset="0.229" stop-color="#46a9b0"/><stop offset="0.257" stop-color="#5db291"/><stop offset="1" stop-color="#a0c24d"/></linearGradient><linearGradient id="h1_5"><stop offset="0" stop-color="#9ac152"/><stop offset="0.0143" stop-color="#96c156"/><stop offset="0.0286" stop-color="#8abf61"/><stop offset="0.0429" stop-color="#6db77e"/><stop offset="0.0571" stop-color="#4daca5"/><stop offset="0.0714" stop-color="#429abf"/><stop offset="0.0857" stop-color="#4089c6"/><stop offset="0.114" stop-color="#417ac3"/><stop offset="0.186" stop-color="#4273c1"/><stop offset="0.2" stop-color="#4178c2"/><stop offset="0.229" stop-color="#4194c5"/><stop offset="0.257" stop-color="#4daca6"/><stop offset="0.286" stop-color="#63b488"/><stop offset="1" stop-color="#96c156"/></linearGradient><linearGradient id="h1_6"><stop offset="0" stop-color="#96c156"/><stop offset="0.0143" stop-color="#93c059"/><stop offset="0.0286" stop-color="#87be64"/><stop offset="0.0429" stop-color="#69b582"/><stop offset="0.0571" stop-color="#4baca9"/><stop offset="0.0714" stop-color="#4298c1"/><stop offset="0.0857" stop-color="#4186c6"/><stop offset="0.129" stop-color="#4274c1"/><stop offset="0.2" stop-color="#426ec0"/><stop offset="0.229" stop-color="#417ac3"/><stop offset="0.243" stop-color="#4089c6"/><stop offset="0.257" stop-color="#4299c0"/><stop offset="0.271" stop-color="#46a9b0"/><stop offset="0.3" stop-color="#61b38c"/><stop offset="0.329" stop-color="#72b879"/><stop offset="1" stop-color="#8abf61"/></linearGradient><linearGradient id="h1_7"><stop offset="0" stop-color="#9ac152"/><stop offset="0.0143" stop-color="#97c155"/><stop offset="0.0286" stop-color="#8bbf60"/><stop offset="0.0429" stop-color="#6eb77d"/><stop offset="0.0571" stop-color="#4eada4"/><stop offset="0.0714" stop-color="#429abf"/><stop offset="0.0857" stop-color="#408ac6"/><stop offset="0.114" stop-color="#417ac3"/><stop offset="0.229" stop-color="#4273c1"/><stop offset="0.257" stop-color="#4185c5"/><stop offset="0.271" stop-color="#4195c4"/><stop offset="0.286" stop-color="#45a5b4"/><stop offset="0.314" stop-color="#61b38b"/><stop offset="0.343" stop-color="#79ba72"/><stop offset="1" stop-color="#88be64"/></linearGradient><linearGradient id="h1_8"><stop offset="0" stop-color="#9ac153"/><stop offset="0.0143" stop-color="#96c156"/><stop offset="0.0286" stop-color="#8abf61"/><stop offset="0.0429" stop-color="#6db77e"/><stop offset="0.0571" stop-color="#4eada5"/><stop offset="0.0714" stop-color="#429abf"/><stop offset="0.0857" stop-color="#4089c6"/><stop offset="0.114" stop-color="#4178c2"/><stop offset="0.243" stop-color="#4270c1"/><stop offset="0.271" stop-color="#417dc3"/><stop offset="0.286" stop-color="#408cc7"/><stop offset="0.3" stop-color="#439dbc"/><stop offset="0.314" stop-color="#49abab"/><stop offset="0.343" stop-color="#69b582"/><stop offset="0.371" stop-color="#7dbb6e"/><stop offset="1" stop-color="#83bd68"/></linearGradient><linearGradient id="h1_9"><stop offset="0" stop-color="#99c153"/><stop offset="0.0143" stop-color="#96c056"/><stop offset="0.0286" stop-color="#8abf61"/><stop offset="0.0429" stop-color="#6db77e"/><stop offset="0.0571" stop-color="#4daca5"/><stop offset="0.0714" stop-color="#429abf"/><stop offset="0.0857" stop-color="#4088c6"/><stop offset="0.129" stop-color="#4274c1"/><stop offset="0.271" stop-color="#4271c1"/><stop offset="0.286" stop-color="#4177c2"/><stop offset="0.314" stop-color="#4195c4"/><stop offset="0.329" stop-color="#45a5b4"/><stop offset="0.357" stop-color="#62b389"/><stop offset="0.371" stop-color="#72b879"/><stop offset="0.4" stop-color="#80bc6b"/><stop offset="1" stop-color="#83bd68"/></linearGradient><linearGradient id="h1_10"><stop offset="0" stop-color="#98c154"/><stop offset="0.0143" stop-color="#95c057"/><stop offset="0.0286" stop-color="#89be62"/><stop offset="0.0429" stop-color="#6cb67f"/><stop offset="0.0571" stop-color="#4daca6"/><stop offset="0.0714" stop-color="#4299c0"/><stop offset="0.0857" stop-color="#4187c6"/><stop offset="0.114" stop-color="#4276c2"/><stop offset="0.286" stop-color="#426ec0"/><stop offset="0.3" stop-color="#4273c1"/><stop offset="0.314" stop-color="#417fc4"/><stop offset="0.329" stop-color="#4092c7"/><stop offset="0.343" stop-color="#44a2b7"/><stop offset="0.357" stop-color="#51aea1"/><stop offset="0.371" stop-color="#61b38a"/><stop offset="0.386" stop-color="#72b879"/><stop offset="0.414" stop-color="#81bc6a"/><stop offset="1" stop-color="#83bd68"/></linearGradient><linearGradient id="h1_11"><stop offset="0" stop-color="#9ac152"/><stop offset="0.0143" stop-color="#97c155"/><stop offset="0.0286" stop-color="#8bbf60"/><stop offset="0.0429" stop-color="#6eb77d"/><stop offset="0.0571" stop-color="#4eada4"/><stop offset="0.0714" stop-color="#429abf"/><stop offset="0.0857" stop-color="#4089c6"/><stop offset="0.114" stop-color="#4177c2"/><stop offset="0.3" stop-color="#426fc0"/><stop offset="0.314" stop-color="#4177c2"/><stop offset="0.329" stop-color="#4187c6"/><stop offset="0.343" stop-color="#4299c0"/><stop offset="0.357" stop-color="#46aaae"/><stop offset="0.386" stop-color="#6bb680"/><stop offset="0.4" stop-color="#7aba71"/><stop offset="0.429" stop-color="#85bd66"/><stop offset="1" stop-color="#86be65"/></linearGradient><linearGradient id="h1_12"><stop offset="0" stop-color="#96c056"/><stop offset="0.0143" stop-color="#92c059"/><stop offset="0.0286" stop-color="#86be65"/><stop offset="0.0429" stop-color="#69b582"/><stop offset="0.0571" stop-color="#4aaba9"/><stop offset="0.0714" stop-color="#4197c2"/><stop offset="0.1" stop-color="#4179c2"/><stop offset="0.3" stop-color="#426bbe"/><stop offset="0.314" stop-color="#4271c1"/><stop offset="0.343" stop-color="#4090c8"/><stop offset="0.357" stop-color="#44a1b8"/><stop offset="0.371" stop-color="#4eada4"/><stop offset="0.4" stop-color="#70b77b"/><stop offset="0.429" stop-color="#7fbc6c"/><stop offset="1" stop-color="#81bc6a"/></linearGradient><linearGradient id="h1_13"><stop offset="0" stop-color="#98c154"/><stop offset="0.0143" stop-color="#94c058"/><stop offset="0.0286" stop-color="#89be62"/><stop offset="0.0429" stop-color="#6bb680"/><stop offset="0.0571" stop-color="#4caca7"/><stop offset="0.0714" stop-color="#4298c1"/><stop offset="0.0857" stop-color="#4186c6"/><stop offset="0.114" stop-color="#4273c1"/><stop offset="0.3" stop-color="#426ec0"/><stop offset="0.314" stop-color="#4272c1"/><stop offset="0.343" stop-color="#408cc7"/><stop offset="0.357" stop-color="#439cbd"/><stop offset="0.371" stop-color="#49abab"/><stop offset="0.4" stop-color="#6cb67f"/><stop offset="0.414" stop-color="#7aba71"/><stop offset="0.443" stop-color="#84bd67"/><stop offset="1" stop-color="#85bd66"/></linearGradient><linearGradient id="h1_14"><stop offset="0" stop-color="#97c155"/><stop offset="0.0143" stop-color="#93c059"/><stop offset="0.0286" stop-color="#88be64"/><stop offset="0.0429" stop-color="#6ab681"/><stop offset="0.0571" stop-color="#4baca8"/><stop offset="0.0714" stop-color="#4298c1"/><stop offset="0.0857" stop-color="#4185c5"/><stop offset="0.114" stop-color="#4271c1"/><stop offset="0.3" stop-color="#426dbf"/><stop offset="0.329" stop-color="#4178c2"/><stop offset="0.357" stop-color="#4196c3"/><stop offset="0.371" stop-color="#45a6b3"/><stop offset="0.4" stop-color="#64b487"/><stop offset="0.429" stop-color="#7ebb6d"/><stop offset="1" stop-color="#84bd67"/></linearGradient><linearGradient id="h1_15"><stop offset="0" stop-color="#9bc152"/><stop offset="0.0143" stop-color="#97c155"/><stop offset="0.0286" stop-color="#8bbf60"/><stop offset="0.0429" stop-color="#6fb77c"/><stop offset="0.0571" stop-color="#4fada4"/><stop offset="0.0714" stop-color="#429abf"/><stop offset="0.0857" stop-color="#4188c6"/><stop offset="0.114" stop-color="#4274c1"/><stop offset="0.3" stop-color="#426ec0"/><stop offset="0.329" stop-color="#4178c2"/><stop offset="0.357" stop-color="#4194c5"/><stop offset="0.371" stop-color="#44a3b6"/><stop offset="0.414" stop-color="#74b977"/><stop offset="0.429" stop-color="#80bc6b"/><stop offset="1" stop-color="#89be62"/></linearGradient><linearGradient id="h1_16"><stop offset="0" stop-color="#99c154"/><stop offset="0.0143" stop-color="#95c057"/><stop offset="0.0286" stop-color="#89be62"/><stop offset="0.0429" stop-color="#6cb67f"/><stop offset="0.0571" stop-color="#4daca6"/><stop offset="0.0714" stop-color="#4299c0"/><stop offset="0.0857" stop-color="#4186c5"/><stop offset="0.114" stop-color="#4270c1"/><stop offset="0.314" stop-color="#426dbf"/><stop offset="0.329" stop-color="#4272c1"/><stop offset="0.357" stop-color="#408dc7"/><stop offset="0.386" stop-color="#49abab"/><stop offset="0.414" stop-color="#6db67e"/><stop offset="0.429" stop-color="#7bbb70"/><stop offset="1" stop-color="#87be64"/></linearGradient><linearGradient id="h1_17"><stop offset="0" stop-color="#97c155"/><stop offset="0.0143" stop-color="#94c058"/><stop offset="0.0286" stop-color="#88be63"/><stop offset="0.0429" stop-color="#6bb680"/><stop offset="0.0571" stop-color="#4caca7"/><stop offset="0.0714" stop-color="#4298c1"/><stop offset="0.0857" stop-color="#4185c5"/><stop offset="0.114" stop-color="#426ec0"/><stop offset="0.314" stop-color="#416abd"/><stop offset="0.343" stop-color="#4177c2"/><stop offset="0.357" stop-color="#4186c6"/><stop offset="0.371" stop-color="#4197c2"/><stop offset="0.386" stop-color="#45a7b2"/><stop offset="0.414" stop-color="#66b585"/><stop offset="0.429" stop-color="#76b975"/><stop offset="0.457" stop-color="#84bd67"/><stop offset="1" stop-color="#86be65"/></linearGradient><linearGradient id="h1_18"><stop offset="0" stop-color="#96c056"/><stop offset="0.0143" stop-color="#92c05a"/><stop offset="0.0286" stop-color="#86be65"/><stop offset="0.0429" stop-color="#69b582"/><stop offset="0.0571" stop-color="#4aaba9"/><stop offset="0.0714" stop-color="#4197c2"/><stop offset="0.0857" stop-color="#4182c5"/><stop offset="0.114" stop-color="#426cbe"/><stop offset="0.329" stop-color="#416abd"/><stop offset="0.343" stop-color="#4271c1"/><stop offset="0.371" stop-color="#4091c8"/><stop offset="0.386" stop-color="#44a1b8"/><stop offset="0.4" stop-color="#4fada3"/><stop offset="0.429" stop-color="#70b87b"/><stop offset="0.443" stop-color="#7cbb6f"/><stop offset="1" stop-color="#84bd67"/></linearGradient><linearGradient id="h1_19"><stop offset="0" stop-color="#97c155"/><stop offset="0.0143" stop-color="#94c058"/><stop offset="0.0286" stop-color="#88be63"/><stop offset="0.0429" stop-color="#6bb680"/><stop offset="0.0571" stop-color="#4caca7"/><stop offset="0.0714" stop-color="#4298c1"/><stop offset="0.0857" stop-color="#4184c5"/><stop offset="0.114" stop-color="#426cbf"/><stop offset="0.314" stop-color="#4167bb"/><stop offset="0.343" stop-color="#426fc0"/><stop offset="0.371" stop-color="#408dc7"/><stop offset="0.386" stop-color="#439ebb"/><stop offset="0.4" stop-color="#4baca8"/><stop offset="0.429" stop-color="#6eb77d"/><stop offset="0.443" stop-color="#7cbb6f"/><stop offset="1" stop-color="#86be65"/></linearGradient><linearGradient id="h1_20"><stop offset="0" stop-color="#98c154"/><stop offset="0.0143" stop-color="#95c057"/><stop offset="0.0286" stop-color="#89be62"/><stop offset="0.0429" stop-color="#6cb67f"/><stop offset="0.0571" stop-color="#4daca6"/><stop offset="0.0714" stop-color="#4298c1"/><stop offset="0.0857" stop-color="#4184c5"/><stop offset="0.1" stop-color="#4274c1"/><stop offset="0.129" stop-color="#4167bb"/><stop offset="0.329" stop-color="#4168bc"/><stop offset="0.357" stop-color="#4178c2"/><stop offset="0.371" stop-color="#4188c6"/><stop offset="0.386" stop-color="#429abf"/><stop offset="0.4" stop-color="#46aaaf"/><stop offset="0.429" stop-color="#6ab681"/><stop offset="0.443" stop-color="#7aba71"/><stop offset="0.471" stop-color="#86be65"/><stop offset="1" stop-color="#87be64"/></linearGradient><linearGradient id="h1_21"><stop offset="0" stop-color="#97c155"/><stop offset="0.0143" stop-color="#94c058"/><stop offset="0.0286" stop-color="#88be63"/><stop offset="0.0429" stop-color="#6bb680"/><stop offset="0.0571" stop-color="#4caca7"/><stop offset="0.0714" stop-color="#4297c2"/><stop offset="0.0857" stop-color="#4182c5"/><stop offset="0.1" stop-color="#4272c1"/><stop offset="0.143" stop-color="#4164b9"/><stop offset="0.343" stop-color="#4169bd"/><stop offset="0.357" stop-color="#4272c1"/><stop offset="0.386" stop-color="#4194c5"/><stop offset="0.4" stop-color="#45a5b4"/><stop offset="0.429" stop-color="#64b487"/><stop offset="0.443" stop-color="#75b976"/><stop offset="0.471" stop-color="#84bd67"/><stop offset="1" stop-color="#86be65"/></linearGradient><linearGradient id="h1_22"><stop offset="0" stop-color="#9dc24f"/><stop offset="0.0143" stop-color="#9ac153"/><stop offset="0.0286" stop-color="#8ebf5e"/><stop offset="0.0429" stop-color="#72b879"/><stop offset="0.0571" stop-color="#50ada1"/><stop offset="0.0714" stop-color="#429bbe"/><stop offset="0.0857" stop-color="#4187c6"/><stop offset="0.1" stop-color="#4276c2"/><stop offset="0.129" stop-color="#4168bc"/><stop offset="0.329" stop-color="#4167bb"/><stop offset="0.357" stop-color="#4272c1"/><stop offset="0.386" stop-color="#4193c6"/><stop offset="0.4" stop-color="#45a4b5"/><stop offset="0.443" stop-color="#78ba73"/><stop offset="0.457" stop-color="#84bd67"/><stop offset="1" stop-color="#8cbf60"/></linearGradient><linearGradient id="h1_23"><stop offset="0" stop-color="#9cc150"/><stop offset="0.0143" stop-color="#99c154"/><stop offset="0.0286" stop-color="#8dbf5e"/><stop offset="0.0429" stop-color="#70b87b"/><stop offset="0.0571" stop-color="#4fada2"/><stop offset="0.0714" stop-color="#429abf"/><stop offset="0.0857" stop-color="#4185c5"/><stop offset="0.1" stop-color="#4274c1"/><stop offset="0.129" stop-color="#4166ba"/><stop offset="0.343" stop-color="#4168bc"/><stop offset="0.357" stop-color="#426dc0"/><stop offset="0.386" stop-color="#408dc7"/><stop offset="0.4" stop-color="#439ebb"/><stop offset="0.414" stop-color="#4caca6"/><stop offset="0.443" stop-color="#72b879"/><stop offset="0.457" stop-color="#80bc6b"/><stop offset="0.486" stop-color="#8abe61"/><stop offset="1" stop-color="#8bbf61"/></linearGradient><linearGradient id="h1_24"><stop offset="0" stop-color="#8fbf5d"/><stop offset="0.0143" stop-color="#8bbf60"/><stop offset="0.0286" stop-color="#7ebc6d"/><stop offset="0.0429" stop-color="#62b38a"/><stop offset="0.0571" stop-color="#46a9b0"/><stop offset="0.0714" stop-color="#4091c8"/><stop offset="0.0857" stop-color="#4179c2"/><stop offset="0.1" stop-color="#4169bc"/><stop offset="0.129" stop-color="#3f5cb3"/><stop offset="0.343" stop-color="#405db4"/><stop offset="0.371" stop-color="#426bbe"/><stop offset="0.4" stop-color="#4090c8"/><stop offset="0.414" stop-color="#44a2b7"/><stop offset="0.429" stop-color="#4fada3"/><stop offset="0.443" stop-color="#5fb28d"/><stop offset="0.471" stop-color="#76b975"/><stop offset="1" stop-color="#7cbb6f"/></linearGradient><linearGradient id="h1_25"><stop offset="0" stop-color="#92c05a"/><stop offset="0.0143" stop-color="#8ebf5d"/><stop offset="0.0286" stop-color="#82bc69"/><stop offset="0.0429" stop-color="#64b487"/><stop offset="0.0571" stop-color="#47aaae"/><stop offset="0.0714" stop-color="#4093c6"/><stop offset="0.0857" stop-color="#417bc3"/><stop offset="0.1" stop-color="#416abd"/><stop offset="0.143" stop-color="#3f5bb3"/><stop offset="0.343" stop-color="#405db4"/><stop offset="0.371" stop-color="#4169bd"/><stop offset="0.4" stop-color="#408dc7"/><stop offset="0.414" stop-color="#439fba"/><stop offset="0.429" stop-color="#4daca6"/><stop offset="0.457" stop-color="#6db77e"/><stop offset="0.486" stop-color="#7dbb6e"/><stop offset="1" stop-color="#7fbc6c"/></linearGradient><linearGradient id="h1_26"><stop offset="0" stop-color="#98c154"/><stop offset="0.0143" stop-color="#94c058"/><stop offset="0.0286" stop-color="#89be62"/><stop offset="0.0429" stop-color="#6bb680"/><stop offset="0.0571" stop-color="#4caca7"/><stop offset="0.0714" stop-color="#4197c2"/><stop offset="0.0857" stop-color="#417fc4"/><stop offset="0.1" stop-color="#426dbf"/><stop offset="0.129" stop-color="#405fb6"/><stop offset="0.343" stop-color="#405fb5"/><stop offset="0.371" stop-color="#416abd"/><stop offset="0.4" stop-color="#408cc7"/><stop offset="0.414" stop-color="#439fba"/><stop offset="0.429" stop-color="#4daca6"/><stop offset="0.457" stop-color="#71b87a"/><stop offset="0.486" stop-color="#83bd68"/><stop offset="1" stop-color="#86be65"/></linearGradient><linearGradient id="h1_27"><stop offset="0" stop-color="#97c155"/><stop offset="0.0143" stop-color="#93c058"/><stop offset="0.0286" stop-color="#88be63"/><stop offset="0.0429" stop-color="#6ab681"/><stop offset="0.0571" stop-color="#4baca8"/><stop offset="0.0714" stop-color="#4196c3"/><stop offset="0.0857" stop-color="#417ec4"/><stop offset="0.1" stop-color="#426bbe"/><stop offset="0.143" stop-color="#3f5cb3"/><stop offset="0.357" stop-color="#4060b6"/><stop offset="0.386" stop-color="#4272c1"/><stop offset="0.4" stop-color="#4185c5"/><stop offset="0.414" stop-color="#4299c0"/><stop offset="0.429" stop-color="#47aaae"/><stop offset="0.457" stop-color="#6bb680"/><stop offset="0.486" stop-color="#81bc6a"/><stop offset="1" stop-color="#85bd66"/></linearGradient><linearGradient id="h1_28"><stop offset="0" stop-color="#99c153"/><stop offset="0.0143" stop-color="#96c056"/><stop offset="0.0286" stop-color="#8abf61"/><stop offset="0.0429" stop-color="#6db77e"/><stop offset="0.0571" stop-color="#4daca6"/><stop offset="0.0714" stop-color="#4197c2"/><stop offset="0.0857" stop-color="#417fc4"/><stop offset="0.1" stop-color="#426cbf"/><stop offset="0.129" stop-color="#405eb5"/><stop offset="0.357" stop-color="#4060b6"/><stop offset="0.386" stop-color="#426fc0"/><stop offset="0.414" stop-color="#4196c3"/><stop offset="0.429" stop-color="#45a7b2"/><stop offset="0.457" stop-color="#68b583"/><stop offset="0.471" stop-color="#78ba73"/><stop offset="0.514" stop-color="#87be64"/><stop offset="1" stop-color="#87be64"/></linearGradient><linearGradient id="h1_29"><stop offset="0" stop-color="#99c153"/><stop offset="0.0143" stop-color="#96c056"/><stop offset="0.0286" stop-color="#8abe61"/><stop offset="0.0429" stop-color="#6db77e"/><stop offset="0.0571" stop-color="#4daca6"/><stop offset="0.0714" stop-color="#4197c2"/><stop offset="0.0857" stop-color="#417fc4"/><stop offset="0.1" stop-color="#426cbe"/><stop offset="0.129" stop-color="#405eb4"/><stop offset="0.357" stop-color="#405fb5"/><stop offset="0.386" stop-color="#426cbf"/><stop offset="0.414" stop-color="#4091c8"/><stop offset="0.429" stop-color="#44a3b6"/><stop offset="0.471" stop-color="#73b878"/><stop offset="0.486" stop-color="#7ebb6d"/><stop offset="1" stop-color="#85bd66"/></linearGradient><linearGradient id="h1_30"><stop offset="0" stop-color="#a0c24d"/><stop offset="0.0143" stop-color="#9dc250"/><stop offset="0.0286" stop-color="#91c05b"/><stop offset="0.0429" stop-color="#75b976"/><stop offset="0.0571" stop-color="#52ae9f"/><stop offset="0.0714" stop-color="#439cbd"/><stop offset="0.0857" stop-color="#4184c5"/><stop offset="0.1" stop-color="#4270c0"/><stop offset="0.129" stop-color="#4062b7"/><stop offset="0.357" stop-color="#4062b7"/><stop offset="0.386" stop-color="#426ec0"/><stop offset="0.414" stop-color="#4091c8"/><stop offset="0.429" stop-color="#44a2b7"/><stop offset="0.471" stop-color="#75b976"/><stop offset="0.486" stop-color="#81bc6a"/><stop offset="1" stop-color="#8abe61"/></linearGradient><linearGradient id="h1_31"><stop offset="0" stop-color="#94c058"/><stop offset="0.0143" stop-color="#91c05b"/><stop offset="0.0286" stop-color="#85bd66"/><stop offset="0.0429" stop-color="#67b584"/><stop offset="0.0571" stop-color="#48abac"/><stop offset="0.0714" stop-color="#4193c6"/><stop offset="0.0857" stop-color="#417ac3"/><stop offset="0.1" stop-color="#4168bc"/><stop offset="0.129" stop-color="#3f5ab2"/><stop offset="0.371" stop-color="#405db4"/><stop offset="0.4" stop-color="#426ec0"/><stop offset="0.429" stop-color="#4195c4"/><stop offset="0.443" stop-color="#45a6b3"/><stop offset="0.471" stop-color="#62b38a"/><stop offset="0.486" stop-color="#6fb77c"/><stop offset="1" stop-color="#7aba71"/></linearGradient><linearGradient id="h1_32"><stop offset="0" stop-color="#97c155"/><stop offset="0.0143" stop-color="#93c058"/><stop offset="0.0286" stop-color="#87be64"/><stop offset="0.0429" stop-color="#6ab681"/><stop offset="0.0571" stop-color="#4aaba9"/><stop offset="0.0714" stop-color="#4195c4"/><stop offset="0.0857" stop-color="#417bc3"/><stop offset="0.1" stop-color="#4169bd"/><stop offset="0.129" stop-color="#3f5bb3"/><stop offset="0.371" stop-color="#405eb4"/><stop offset="0.4" stop-color="#426dbf"/><stop offset="0.429" stop-color="#4093c6"/><stop offset="0.443" stop-color="#44a3b6"/><stop offset="0.471" stop-color="#5fb28d"/><stop offset="0.5" stop-color="#75b976"/><stop offset="1" stop-color="#7aba71"/></linearGradient><linearGradient id="h1_33"><stop offset="0" stop-color="#a0c24d"/><stop offset="0.0143" stop-color="#9cc250"/><stop offset="0.0286" stop-color="#90c05c"/><stop offset="0.0429" stop-color="#74b877"/><stop offset="0.0571" stop-color="#51aea0"/><stop offset="0.0714" stop-color="#429bbe"/><stop offset="0.0857" stop-color="#4183c5"/><stop offset="0.1" stop-color="#426ec0"/><stop offset="0.129" stop-color="#4061b6"/><stop offset="0.371" stop-color="#4062b8"/><stop offset="0.4" stop-color="#4270c1"/><stop offset="0.429" stop-color="#4194c5"/><stop offset="0.443" stop-color="#45a4b5"/><stop offset="0.486" stop-color="#71b87a"/><stop offset="0.514" stop-color="#80bc6b"/><stop offset="1" stop-color="#82bd69"/></linearGradient><linearGradient id="h1_34"><stop offset="0" stop-color="#9bc152"/><stop offset="0.0143" stop-color="#97c155"/><stop offset="0.0286" stop-color="#8bbf60"/><stop offset="0.0429" stop-color="#6eb77d"/><stop offset="0.0571" stop-color="#4daca6"/><stop offset="0.0714" stop-color="#4197c2"/><stop offset="0.0857" stop-color="#417ec4"/><stop offset="0.1" stop-color="#426bbe"/><stop offset="0.129" stop-color="#405db4"/><stop offset="0.371" stop-color="#405eb5"/><stop offset="0.4" stop-color="#416abd"/><stop offset="0.414" stop-color="#4177c2"/><stop offset="0.429" stop-color="#408ac6"/><stop offset="0.443" stop-color="#429bbe"/><stop offset="0.457" stop-color="#47aaae"/><stop offset="0.486" stop-color="#64b487"/><stop offset="0.514" stop-color="#76b975"/><stop offset="1" stop-color="#79ba72"/></linearGradient><linearGradient id="h1_35"><stop offset="0" stop-color="#9bc152"/><stop offset="0.0143" stop-color="#97c155"/><stop offset="0.0286" stop-color="#8bbf60"/><stop offset="0.0429" stop-color="#6db77e"/><stop offset="0.0571" stop-color="#4daca6"/><stop offset="0.0714" stop-color="#4197c2"/><stop offset="0.0857" stop-color="#417dc4"/><stop offset="0.1" stop-color="#416abd"/><stop offset="0.129" stop-color="#405db4"/><stop offset="0.371" stop-color="#405db4"/><stop offset="0.4" stop-color="#4167bb"/><stop offset="0.414" stop-color="#4271c1"/><stop offset="0.443" stop-color="#4195c4"/><stop offset="0.457" stop-color="#45a5b4"/><stop offset="0.486" stop-color="#5fb28e"/><stop offset="0.514" stop-color="#72b879"/><stop offset="1" stop-color="#76b975"/></linearGradient><linearGradient id="h1_36"><stop offset="0" stop-color="#96c156"/><stop offset="0.0143" stop-color="#93c059"/><stop offset="0.0286" stop-color="#86be65"/><stop offset="0.0429" stop-color="#68b583"/><stop offset="0.0571" stop-color="#49abab"/><stop offset="0.0714" stop-color="#4194c5"/><stop offset="0.0857" stop-color="#4179c3"/><stop offset="0.1" stop-color="#4167bb"/><stop offset="0.129" stop-color="#3f5ab2"/><stop offset="0.386" stop-color="#405db4"/><stop offset="0.414" stop-color="#416abd"/><stop offset="0.443" stop-color="#408cc7"/><stop offset="0.471" stop-color="#47aaae"/><stop offset="0.486" stop-color="#55af9a"/><stop offset="0.514" stop-color="#68b583"/><stop offset="1" stop-color="#6eb77d"/></linearGradient><linearGradient id="h1_37"><stop offset="0" stop-color="#92c059"/><stop offset="0.0143" stop-color="#8fbf5d"/><stop offset="0.0286" stop-color="#81bc6a"/><stop offset="0.0429" stop-color="#63b488"/><stop offset="0.0571" stop-color="#46a9b0"/><stop offset="0.0714" stop-color="#4090c8"/><stop offset="0.0857" stop-color="#4275c2"/><stop offset="0.1" stop-color="#4164b9"/><stop offset="0.143" stop-color="#3f56af"/><stop offset="0.386" stop-color="#3f59b1"/><stop offset="0.414" stop-color="#4164b9"/><stop offset="0.429" stop-color="#426fc0"/><stop offset="0.457" stop-color="#4193c6"/><stop offset="0.486" stop-color="#4baca8"/><stop offset="0.514" stop-color="#5fb28e"/><stop offset="1" stop-color="#65b486"/></linearGradient><linearGradient id="h1_38"><stop offset="0" stop-color="#99c153"/><stop offset="0.0143" stop-color="#95c057"/><stop offset="0.0286" stop-color="#88be63"/><stop offset="0.0429" stop-color="#6ab681"/><stop offset="0.0571" stop-color="#4aaba9"/><stop offset="0.0714" stop-color="#4195c4"/><stop offset="0.0857" stop-color="#417ac3"/><stop offset="0.1" stop-color="#4168bc"/><stop offset="0.129" stop-color="#3f5bb3"/><stop offset="0.4" stop-color="#405fb6"/><stop offset="0.429" stop-color="#426fc0"/><stop offset="0.457" stop-color="#4092c7"/><stop offset="0.486" stop-color="#4aabaa"/><stop offset="0.514" stop-color="#5fb28d"/><stop offset="1" stop-color="#68b583"/></linearGradient><linearGradient id="h1_39"><stop offset="0" stop-color="#99c154"/><stop offset="0.0143" stop-color="#95c057"/><stop offset="0.0286" stop-color="#88be63"/><stop offset="0.0429" stop-color="#6ab681"/><stop offset="0.0571" stop-color="#4aabaa"/><stop offset="0.0714" stop-color="#4194c5"/><stop offset="0.0857" stop-color="#417ac3"/><stop offset="0.1" stop-color="#4167bb"/><stop offset="0.129" stop-color="#3f5bb2"/><stop offset="0.4" stop-color="#405eb4"/><stop offset="0.429" stop-color="#426bbe"/><stop offset="0.457" stop-color="#408bc7"/><stop offset="0.486" stop-color="#45a7b2"/><stop offset="0.514" stop-color="#5ab195"/><stop offset="0.543" stop-color="#62b389"/><stop offset="1" stop-color="#64b488"/></linearGradient><linearGradient id="h1_40"><stop offset="0" stop-color="#94c058"/><stop offset="0.0143" stop-color="#90bf5c"/><stop offset="0.0286" stop-color="#82bd69"/><stop offset="0.0429" stop-color="#64b487"/><stop offset="0.0571" stop-color="#46aaaf"/><stop offset="0.0714" stop-color="#4090c8"/><stop offset="0.0857" stop-color="#4275c2"/><stop offset="0.1" stop-color="#4164b9"/><stop offset="0.129" stop-color="#3f58b0"/><stop offset="0.4" stop-color="#3f5ab1"/><stop offset="0.443" stop-color="#426fc0"/><stop offset="0.471" stop-color="#4090c8"/><stop offset="0.5" stop-color="#46a9b0"/><stop offset="0.529" stop-color="#57b099"/><stop offset="1" stop-color="#5cb191"/></linearGradient><linearGradient id="h1_41"><stop offset="0" stop-color="#96c056"/><stop offset="0.0143" stop-color="#92c05a"/><stop offset="0.0286" stop-color="#84bd67"/><stop offset="0.0429" stop-color="#66b485"/><stop offset="0.0571" stop-color="#47aaae"/><stop offset="0.0714" stop-color="#4092c7"/><stop offset="0.0857" stop-color="#4276c2"/><stop offset="0.1" stop-color="#4165b9"/><stop offset="0.129" stop-color="#3f59b1"/><stop offset="0.414" stop-color="#405db4"/><stop offset="0.443" stop-color="#416abd"/><stop offset="0.471" stop-color="#4188c6"/><stop offset="0.486" stop-color="#4196c3"/><stop offset="0.514" stop-color="#48abac"/><stop offset="0.543" stop-color="#56af99"/><stop offset="1" stop-color="#5bb193"/></linearGradient><linearGradient id="h1_42"><stop offset="0" stop-color="#98c154"/><stop offset="0.0143" stop-color="#94c058"/><stop offset="0.0286" stop-color="#87be64"/><stop offset="0.0429" stop-color="#68b583"/><stop offset="0.0571" stop-color="#48abac"/><stop offset="0.0714" stop-color="#4093c6"/><stop offset="0.0857" stop-color="#4177c2"/><stop offset="0.1" stop-color="#4166ba"/><stop offset="0.129" stop-color="#3f5ab2"/><stop offset="0.414" stop-color="#3f5cb3"/><stop offset="0.457" stop-color="#426ec0"/><stop offset="0.486" stop-color="#408cc7"/><stop offset="0.529" stop-color="#48abac"/><stop offset="0.557" stop-color="#55af9b"/><stop offset="1" stop-color="#59b095"/></linearGradient><linearGradient id="h1_43"><stop offset="0" stop-color="#95c057"/><stop offset="0.0143" stop-color="#91c05b"/><stop offset="0.0286" stop-color="#83bd68"/><stop offset="0.0429" stop-color="#64b487"/><stop offset="0.0571" stop-color="#46aaaf"/><stop offset="0.0714" stop-color="#4090c8"/><stop offset="0.0857" stop-color="#4274c1"/><stop offset="0.1" stop-color="#4063b8"/><stop offset="0.414" stop-color="#3f58b0"/><stop offset="0.471" stop-color="#426dbf"/><stop offset="0.5" stop-color="#4188c6"/><stop offset="0.514" stop-color="#4195c4"/><stop offset="0.543" stop-color="#45a7b2"/><stop offset="0.586" stop-color="#51aea0"/><stop offset="1" stop-color="#54af9d"/></linearGradient><linearGradient id="h1_44"><stop offset="0" stop-color="#98c154"/><stop offset="0.0143" stop-color="#94c058"/><stop offset="0.0286" stop-color="#86be65"/><stop offset="0.0429" stop-color="#67b584"/><stop offset="0.0571" stop-color="#48abad"/><stop offset="0.0714" stop-color="#4092c7"/><stop offset="0.0857" stop-color="#4276c2"/><stop offset="0.1" stop-color="#4165b9"/><stop offset="0.129" stop-color="#3f59b1"/><stop offset="0.443" stop-color="#405db4"/><stop offset="0.486" stop-color="#4270c1"/><stop offset="0.529" stop-color="#4195c4"/><stop offset="0.571" stop-color="#48abac"/><stop offset="1" stop-color="#53ae9e"/></linearGradient><linearGradient id="h1_45"><stop offset="0" stop-color="#98c154"/><stop offset="0.0143" stop-color="#94c058"/><stop offset="0.0286" stop-color="#87be64"/><stop offset="0.0429" stop-color="#67b584"/><stop offset="0.0571" stop-color="#48abad"/><stop offset="0.0714" stop-color="#4092c7"/><stop offset="0.0857" stop-color="#4276c2"/><stop offset="0.1" stop-color="#4165b9"/><stop offset="0.443" stop-color="#3f5bb3"/><stop offset="0.5" stop-color="#4271c1"/><stop offset="0.543" stop-color="#4194c5"/><stop offset="0.586" stop-color="#46a9b0"/><stop offset="1" stop-color="#50ada1"/></linearGradient><linearGradient id="h1_46"><stop offset="0" stop-color="#98c154"/><stop offset="0.0143" stop-color="#94c058"/><stop offset="0.0286" stop-color="#86be65"/><stop offset="0.0429" stop-color="#67b584"/><stop offset="0.0571" stop-color="#47aaad"/><stop offset="0.0714" stop-color="#4091c8"/><stop offset="0.0857" stop-color="#4275c2"/><stop offset="0.1" stop-color="#4164b9"/><stop offset="0.129" stop-color="#3f59b1"/><stop offset="0.471" stop-color="#405fb5"/><stop offset="0.514" stop-color="#4271c1"/><stop offset="0.557" stop-color="#4092c7"/><stop offset="0.614" stop-color="#46aaaf"/><stop offset="1" stop-color="#4daca6"/></linearGradient><linearGradient id="h1_47"><stop offset="0" stop-color="#96c156"/><stop offset="0.0143" stop-color="#92c05a"/><stop offset="0.0286" stop-color="#84bd67"/><stop offset="0.0429" stop-color="#64b487"/><stop offset="0.0571" stop-color="#46a9b0"/><stop offset="0.0714" stop-color="#408fc8"/><stop offset="0.0857" stop-color="#4272c1"/><stop offset="0.1" stop-color="#4062b8"/><stop offset="0.471" stop-color="#3f5bb2"/><stop offset="0.529" stop-color="#426fc0"/><stop offset="0.571" stop-color="#408dc7"/><stop offset="0.657" stop-color="#46aaaf"/><stop offset="1" stop-color="#48abac"/></linearGradient><linearGradient id="h1_48"><stop offset="0" stop-color="#9ac152"/><stop offset="0.0143" stop-color="#96c056"/><stop offset="0.0286" stop-color="#88be63"/><stop offset="0.0429" stop-color="#68b583"/><stop offset="0.0571" stop-color="#48abac"/><stop offset="0.0714" stop-color="#4092c7"/><stop offset="0.0857" stop-color="#4275c2"/><stop offset="0.1" stop-color="#4164b9"/><stop offset="0.129" stop-color="#3f5ab2"/><stop offset="0.486" stop-color="#405db4"/><stop offset="0.543" stop-color="#4271c1"/><stop offset="0.6" stop-color="#4194c5"/><stop offset="1" stop-color="#48abac"/></linearGradient><linearGradient id="h1_49"><stop offset="0" stop-color="#9bc151"/><stop offset="0.0143" stop-color="#97c155"/><stop offset="0.0286" stop-color="#89be63"/><stop offset="0.0429" stop-color="#68b583"/><stop offset="0.0571" stop-color="#48abac"/><stop offset="0.0714" stop-color="#4092c7"/><stop offset="0.0857" stop-color="#4275c2"/><stop offset="0.1" stop-color="#4165b9"/><stop offset="0.5" stop-color="#405eb5"/><stop offset="0.571" stop-color="#4178c2"/><stop offset="0.614" stop-color="#4091c8"/><stop offset="1" stop-color="#46aaaf"/></linearGradient><linearGradient id="h1_50"><stop offset="0" stop-color="#99c153"/><stop offset="0.0143" stop-color="#95c057"/><stop offset="0.0286" stop-color="#86be65"/><stop offset="0.0429" stop-color="#65b486"/><stop offset="0.0571" stop-color="#46aaaf"/><stop offset="0.0714" stop-color="#408fc8"/><stop offset="0.0857" stop-color="#4272c1"/><stop offset="0.1" stop-color="#4063b8"/><stop offset="0.129" stop-color="#3f59b1"/><stop offset="0.529" stop-color="#405fb6"/><stop offset="0.643" stop-color="#4092c7"/><stop offset="1" stop-color="#45a6b3"/></linearGradient><linearGradient id="h1_51"><stop offset="0" stop-color="#95c057"/><stop offset="0.0143" stop-color="#90c05b"/><stop offset="0.0286" stop-color="#81bc6a"/><stop offset="0.0429" stop-color="#61b38b"/><stop offset="0.0571" stop-color="#45a6b3"/><stop offset="0.0714" stop-color="#408ac6"/><stop offset="0.0857" stop-color="#426ec0"/><stop offset="0.1" stop-color="#4060b6"/><stop offset="0.129" stop-color="#3f56af"/><stop offset="0.557" stop-color="#4061b7"/><stop offset="0.657" stop-color="#408ec7"/><stop offset="1" stop-color="#44a1b8"/></linearGradient><linearGradient id="h2_0"><stop offset="0" stop-color="#73b878"/><stop offset="0.0429" stop-color="#72b879"/><stop offset="0.0571" stop-color="#6bb680"/><stop offset="0.0714" stop-color="#54af9d"/><stop offset="0.0857" stop-color="#4299c0"/><stop offset="0.1" stop-color="#4194c5"/><stop offset="0.114" stop-color="#4aaba9"/><stop offset="0.129" stop-color="#68b583"/><stop offset="0.143" stop-color="#76b975"/><stop offset="1" stop-color="#78ba73"/></linearGradient><linearGradient id="h2_1"><stop offset="0" stop-color="#70b77b"/><stop offset="0.0429" stop-color="#6fb77c"/><stop offset="0.0571" stop-color="#68b583"/><stop offset="0.0714" stop-color="#51aea0"/><stop offset="0.0857" stop-color="#4197c2"/><stop offset="0.1" stop-color="#408ec7"/><stop offset="0.114" stop-color="#45a6b3"/><stop offset="0.129" stop-color="#5fb28e"/><stop offset="0.143" stop-color="#6eb77d"/><stop offset="1" stop-color="#74b877"/></linearGradient><linearGradient id="h2_2"><stop offset="0" stop-color="#71b87a"/><stop offset="0.0429" stop-color="#6db77e"/><stop offset="0.0571" stop-color="#64b487"/><stop offset="0.0714" stop-color="#4fada3"/><stop offset="0.0857" stop-color="#4194c5"/><stop offset="0.1" stop-color="#4186c6"/><stop offset="0.114" stop-color="#439cbd"/><stop offset="0.129" stop-color="#51aea0"/><stop offset="0.143" stop-color="#61b38b"/><stop offset="0.171" stop-color="#6fb77c"/><stop offset="1" stop-color="#72b879"/></linearGradient><linearGradient id="h2_3"><stop offset="0" stop-color="#71b87a"/><stop offset="0.0143" stop-color="#6eb77d"/><stop offset="0.0286" stop-color="#64b487"/><stop offset="0.0571" stop-color="#49abac"/><stop offset="0.0714" stop-color="#429bbe"/><stop offset="0.0857" stop-color="#417dc4"/><stop offset="0.1" stop-color="#426dbf"/><stop offset="0.114" stop-color="#417ac3"/><stop offset="0.129" stop-color="#4092c7"/><stop offset="0.157" stop-color="#4aaba9"/><stop offset="0.186" stop-color="#5db291"/><stop offset="0.229" stop-color="#67b584"/><stop offset="1" stop-color="#68b583"/></linearGradient><linearGradient id="h2_4"><stop offset="0" stop-color="#92c059"/><stop offset="0.0143" stop-color="#8bbf60"/><stop offset="0.0286" stop-color="#6fb77c"/><stop offset="0.0429" stop-color="#47aaad"/><stop offset="0.0571" stop-color="#4091c8"/><stop offset="0.0857" stop-color="#426cbf"/><stop offset="0.1" stop-color="#4165ba"/><stop offset="0.129" stop-color="#4273c1"/><stop offset="0.157" stop-color="#4196c3"/><stop offset="0.171" stop-color="#45a5b4"/><stop offset="0.214" stop-color="#6ab681"/><stop offset="0.243" stop-color="#76b975"/><stop offset="1" stop-color="#77b974"/></linearGradient><linearGradient id="h2_5"><stop offset="0" stop-color="#9ac153"/><stop offset="0.0143" stop-color="#90bf5c"/><stop offset="0.0286" stop-color="#67b584"/><stop offset="0.0429" stop-color="#429abf"/><stop offset="0.0571" stop-color="#426fc0"/><stop offset="0.0714" stop-color="#4061b7"/><stop offset="0.114" stop-color="#405db4"/><stop offset="0.143" stop-color="#4169bc"/><stop offset="0.171" stop-color="#408ac6"/><stop offset="0.186" stop-color="#439cbd"/><stop offset="0.2" stop-color="#47aaad"/><stop offset="0.229" stop-color="#62b389"/><stop offset="0.271" stop-color="#71b87a"/><stop offset="1" stop-color="#71b87a"/></linearGradient><linearGradient id="h2_6"><stop offset="0" stop-color="#96c156"/><stop offset="0.0143" stop-color="#8bbf60"/><stop offset="0.0286" stop-color="#60b38c"/><stop offset="0.0429" stop-color="#4093c6"/><stop offset="0.0571" stop-color="#4167bb"/><stop offset="0.0714" stop-color="#3f5ab2"/><stop offset="0.129" stop-color="#3f59b1"/><stop offset="0.157" stop-color="#4165ba"/><stop offset="0.171" stop-color="#4271c1"/><stop offset="0.2" stop-color="#4196c3"/><stop offset="0.214" stop-color="#45a5b4"/><stop offset="0.243" stop-color="#5bb193"/><stop offset="0.271" stop-color="#64b487"/><stop offset="1" stop-color="#65b486"/></linearGradient><linearGradient id="h2_7"><stop offset="0" stop-color="#9ac152"/><stop offset="0.0143" stop-color="#8fbf5d"/><stop offset="0.0286" stop-color="#63b488"/><stop offset="0.0429" stop-color="#4195c4"/><stop offset="0.0571" stop-color="#4169bc"/><stop offset="0.0714" stop-color="#3f5cb3"/><stop offset="0.143" stop-color="#3f5cb3"/><stop offset="0.171" stop-color="#4168bb"/><stop offset="0.2" stop-color="#4186c6"/><stop offset="0.214" stop-color="#4298c1"/><stop offset="0.229" stop-color="#45a6b3"/><stop offset="0.257" stop-color="#5ab194"/><stop offset="0.286" stop-color="#63b488"/><stop offset="1" stop-color="#64b487"/></linearGradient><linearGradient id="h2_8"><stop offset="0" stop-color="#98c154"/><stop offset="0.0143" stop-color="#8dbf5e"/><stop offset="0.0286" stop-color="#61b38b"/><stop offset="0.0429" stop-color="#4193c6"/><stop offset="0.0571" stop-color="#4168bb"/><stop offset="0.0714" stop-color="#3f5bb2"/><stop offset="0.157" stop-color="#3f5bb2"/><stop offset="0.186" stop-color="#4167bb"/><stop offset="0.214" stop-color="#4184c5"/><stop offset="0.229" stop-color="#4196c3"/><stop offset="0.257" stop-color="#4caca6"/><stop offset="0.286" stop-color="#5db290"/><stop offset="1" stop-color="#61b38b"/></linearGradient><linearGradient id="h2_9"><stop offset="0" stop-color="#95c057"/><stop offset="0.0143" stop-color="#8abf61"/><stop offset="0.0286" stop-color="#5fb28d"/><stop offset="0.0429" stop-color="#4092c7"/><stop offset="0.0571" stop-color="#4166ba"/><stop offset="0.0714" stop-color="#3f59b1"/><stop offset="0.171" stop-color="#3f59b1"/><stop offset="0.2" stop-color="#4166ba"/><stop offset="0.229" stop-color="#4184c5"/><stop offset="0.243" stop-color="#4196c3"/><stop offset="0.271" stop-color="#4daca6"/><stop offset="0.3" stop-color="#5eb28f"/><stop offset="1" stop-color="#62b38a"/></linearGradient><linearGradient id="h2_10"><stop offset="0" stop-color="#9bc151"/><stop offset="0.0143" stop-color="#90c05b"/><stop offset="0.0286" stop-color="#66b485"/><stop offset="0.0429" stop-color="#4197c2"/><stop offset="0.0571" stop-color="#416abd"/><stop offset="0.0714" stop-color="#405db4"/><stop offset="0.186" stop-color="#405db4"/><stop offset="0.214" stop-color="#426bbe"/><stop offset="0.243" stop-color="#408dc7"/><stop offset="0.271" stop-color="#49abab"/><stop offset="0.286" stop-color="#58b096"/><stop offset="0.314" stop-color="#6db67e"/><stop offset="1" stop-color="#72b879"/></linearGradient><linearGradient id="h2_11"><stop offset="0" stop-color="#97c156"/><stop offset="0.0143" stop-color="#8cbf5f"/><stop offset="0.0286" stop-color="#62b389"/><stop offset="0.0429" stop-color="#4195c4"/><stop offset="0.0571" stop-color="#4168bb"/><stop offset="0.0714" stop-color="#3f5ab2"/><stop offset="0.2" stop-color="#3f5bb2"/><stop offset="0.229" stop-color="#416abd"/><stop offset="0.257" stop-color="#408fc7"/><stop offset="0.286" stop-color="#4caca7"/><stop offset="0.314" stop-color="#68b583"/><stop offset="0.343" stop-color="#75b976"/><stop offset="1" stop-color="#76b975"/></linearGradient><linearGradient id="h2_12"><stop offset="0" stop-color="#97c156"/><stop offset="0.0143" stop-color="#8dbf5f"/><stop offset="0.0286" stop-color="#63b488"/><stop offset="0.0429" stop-color="#4195c4"/><stop offset="0.0571" stop-color="#4168bc"/><stop offset="0.0714" stop-color="#3f5ab2"/><stop offset="0.214" stop-color="#3f5bb3"/><stop offset="0.243" stop-color="#426cbf"/><stop offset="0.271" stop-color="#4092c7"/><stop offset="0.286" stop-color="#44a3b6"/><stop offset="0.314" stop-color="#60b38d"/><stop offset="0.343" stop-color="#76b975"/><stop offset="1" stop-color="#7cbb6f"/></linearGradient><linearGradient id="h2_13"><stop offset="0" stop-color="#95c057"/><stop offset="0.0143" stop-color="#8bbf60"/><stop offset="0.0286" stop-color="#62b38a"/><stop offset="0.0429" stop-color="#4194c5"/><stop offset="0.0571" stop-color="#4167bb"/><stop offset="0.0714" stop-color="#3f59b1"/><stop offset="0.229" stop-color="#3f5bb3"/><stop offset="0.257" stop-color="#426dbf"/><stop offset="0.286" stop-color="#4194c5"/><stop offset="0.3" stop-color="#45a5b4"/><stop offset="0.329" stop-color="#61b38a"/><stop offset="0.343" stop-color="#70b77b"/><stop offset="0.371" stop-color="#7cbb6f"/><stop offset="1" stop-color="#7dbb6e"/></linearGradient><linearGradient id="h2_14"><stop offset="0" stop-color="#99c153"/><stop offset="0.0143" stop-color="#90bf5c"/><stop offset="0.0286" stop-color="#67b584"/><stop offset="0.0429" stop-color="#4298c1"/><stop offset="0.0571" stop-color="#416abd"/><stop offset="0.0714" stop-color="#3f5cb3"/><stop offset="0.229" stop-color="#3f5bb2"/><stop offset="0.257" stop-color="#4166bb"/><stop offset="0.271" stop-color="#4273c1"/><stop offset="0.286" stop-color="#4187c6"/><stop offset="0.3" stop-color="#429abf"/><stop offset="0.314" stop-color="#47aaae"/><stop offset="0.343" stop-color="#6ab681"/><stop offset="0.371" stop-color="#82bc69"/><stop offset="1" stop-color="#86be65"/></linearGradient><linearGradient id="h2_15"><stop offset="0" stop-color="#97c155"/><stop offset="0.0143" stop-color="#8ebf5d"/><stop offset="0.0286" stop-color="#65b486"/><stop offset="0.0429" stop-color="#4197c2"/><stop offset="0.0571" stop-color="#4169bc"/><stop offset="0.0714" stop-color="#3f5ab2"/><stop offset="0.243" stop-color="#3f5ab2"/><stop offset="0.271" stop-color="#4167bb"/><stop offset="0.286" stop-color="#4274c1"/><stop offset="0.3" stop-color="#4188c6"/><stop offset="0.314" stop-color="#429bbe"/><stop offset="0.329" stop-color="#48abac"/><stop offset="0.357" stop-color="#6cb67f"/><stop offset="0.371" stop-color="#7bbb70"/><stop offset="0.4" stop-color="#87be64"/><stop offset="1" stop-color="#88be63"/></linearGradient><linearGradient id="h2_16"><stop offset="0" stop-color="#9ac152"/><stop offset="0.0143" stop-color="#91c05b"/><stop offset="0.0286" stop-color="#69b582"/><stop offset="0.0429" stop-color="#4299c0"/><stop offset="0.0571" stop-color="#416abd"/><stop offset="0.0714" stop-color="#3f5cb3"/><stop offset="0.257" stop-color="#3f5cb3"/><stop offset="0.286" stop-color="#416abd"/><stop offset="0.314" stop-color="#408fc8"/><stop offset="0.329" stop-color="#44a1b8"/><stop offset="0.343" stop-color="#4fada3"/><stop offset="0.371" stop-color="#75b976"/><stop offset="0.386" stop-color="#83bd68"/><stop offset="1" stop-color="#8dbf5e"/></linearGradient><linearGradient id="h2_17"><stop offset="0" stop-color="#96c056"/><stop offset="0.0143" stop-color="#8dbf5f"/><stop offset="0.0286" stop-color="#64b487"/><stop offset="0.0429" stop-color="#4196c3"/><stop offset="0.0571" stop-color="#4168bc"/><stop offset="0.0714" stop-color="#3f59b1"/><stop offset="0.257" stop-color="#3f57b0"/><stop offset="0.286" stop-color="#4061b7"/><stop offset="0.3" stop-color="#426bbe"/><stop offset="0.329" stop-color="#4093c6"/><stop offset="0.343" stop-color="#45a4b5"/><stop offset="0.371" stop-color="#65b486"/><stop offset="0.386" stop-color="#78ba73"/><stop offset="0.4" stop-color="#84bd67"/><stop offset="1" stop-color="#8cbf60"/></linearGradient><linearGradient id="h2_18"><stop offset="0" stop-color="#98c154"/><stop offset="0.0143" stop-color="#8fbf5c"/><stop offset="0.0286" stop-color="#68b583"/><stop offset="0.0429" stop-color="#4298c1"/><stop offset="0.0571" stop-color="#416abd"/><stop offset="0.0714" stop-color="#3f5bb2"/><stop offset="0.271" stop-color="#3f5ab2"/><stop offset="0.3" stop-color="#4167bb"/><stop offset="0.314" stop-color="#4274c1"/><stop offset="0.329" stop-color="#4088c6"/><stop offset="0.343" stop-color="#439bbe"/><stop offset="0.357" stop-color="#49abaa"/><stop offset="0.386" stop-color="#71b87a"/><stop offset="0.4" stop-color="#82bc69"/><stop offset="0.429" stop-color="#8fbf5d"/><stop offset="1" stop-color="#90bf5c"/></linearGradient><linearGradient id="h2_19"><stop offset="0" stop-color="#95c057"/><stop offset="0.0143" stop-color="#8cbf60"/><stop offset="0.0286" stop-color="#64b487"/><stop offset="0.0429" stop-color="#4196c3"/><stop offset="0.0571" stop-color="#4167bb"/><stop offset="0.0714" stop-color="#3f59b1"/><stop offset="0.286" stop-color="#3f59b1"/><stop offset="0.314" stop-color="#4169bc"/><stop offset="0.329" stop-color="#4178c2"/><stop offset="0.343" stop-color="#408dc7"/><stop offset="0.357" stop-color="#43a0b9"/><stop offset="0.371" stop-color="#4eada5"/><stop offset="0.4" stop-color="#73b878"/><stop offset="0.429" stop-color="#89be62"/><stop offset="1" stop-color="#8cbf5f"/></linearGradient><linearGradient id="h2_20"><stop offset="0" stop-color="#9bc151"/><stop offset="0.0143" stop-color="#92c05a"/><stop offset="0.0286" stop-color="#6bb680"/><stop offset="0.0429" stop-color="#429abf"/><stop offset="0.0571" stop-color="#426bbe"/><stop offset="0.0714" stop-color="#405db4"/><stop offset="0.286" stop-color="#3f5bb3"/><stop offset="0.314" stop-color="#4166bb"/><stop offset="0.329" stop-color="#4273c1"/><stop offset="0.343" stop-color="#4186c5"/><stop offset="0.357" stop-color="#4299c0"/><stop offset="0.371" stop-color="#46aaaf"/><stop offset="0.4" stop-color="#6db77e"/><stop offset="0.414" stop-color="#80bc6b"/><stop offset="0.429" stop-color="#8bbf61"/><stop offset="1" stop-color="#92c05a"/></linearGradient><linearGradient id="h2_21"><stop offset="0" stop-color="#99c154"/><stop offset="0.0143" stop-color="#8fbf5c"/><stop offset="0.0286" stop-color="#68b583"/><stop offset="0.0429" stop-color="#4298c1"/><stop offset="0.0571" stop-color="#416abd"/><stop offset="0.0714" stop-color="#3f5bb3"/><stop offset="0.3" stop-color="#3f5bb2"/><stop offset="0.329" stop-color="#4169bc"/><stop offset="0.357" stop-color="#408cc7"/><stop offset="0.371" stop-color="#439ebb"/><stop offset="0.386" stop-color="#4baca8"/><stop offset="0.414" stop-color="#71b87a"/><stop offset="0.429" stop-color="#81bc6a"/><stop offset="0.457" stop-color="#8ebf5e"/><stop offset="1" stop-color="#8fbf5d"/></linearGradient><linearGradient id="h2_22"><stop offset="0" stop-color="#99c153"/><stop offset="0.0143" stop-color="#90bf5c"/><stop offset="0.0286" stop-color="#68b583"/><stop offset="0.0429" stop-color="#4299c0"/><stop offset="0.0571" stop-color="#416abd"/><stop offset="0.0714" stop-color="#3f5cb3"/><stop offset="0.314" stop-color="#405db4"/><stop offset="0.343" stop-color="#426dc0"/><stop offset="0.371" stop-color="#4193c6"/><stop offset="0.386" stop-color="#45a4b5"/><stop offset="0.429" stop-color="#77ba74"/><stop offset="0.443" stop-color="#85bd66"/><stop offset="1" stop-color="#8fbf5d"/></linearGradient><linearGradient id="h2_23"><stop offset="0" stop-color="#99c153"/><stop offset="0.0143" stop-color="#90c05b"/><stop offset="0.0286" stop-color="#69b582"/><stop offset="0.0429" stop-color="#4299c0"/><stop offset="0.0571" stop-color="#416abd"/><stop offset="0.0714" stop-color="#3f5cb3"/><stop offset="0.314" stop-color="#3f5bb2"/><stop offset="0.343" stop-color="#4167bb"/><stop offset="0.357" stop-color="#4274c1"/><stop offset="0.371" stop-color="#4187c6"/><stop offset="0.386" stop-color="#429abf"/><stop offset="0.4" stop-color="#46aaaf"/><stop offset="0.429" stop-color="#6bb680"/><stop offset="0.443" stop-color="#7dbb6e"/><stop offset="0.457" stop-color="#88be63"/><stop offset="1" stop-color="#8ebf5d"/></linearGradient><linearGradient id="h2_24"><stop offset="0" stop-color="#94c058"/><stop offset="0.0143" stop-color="#8bbf60"/><stop offset="0.0286" stop-color="#63b488"/><stop offset="0.0429" stop-color="#4195c4"/><stop offset="0.0571" stop-color="#4167bb"/><stop offset="0.0714" stop-color="#3f58b1"/><stop offset="0.329" stop-color="#3f59b1"/><stop offset="0.357" stop-color="#4168bc"/><stop offset="0.386" stop-color="#408bc7"/><stop offset="0.4" stop-color="#439cbd"/><stop offset="0.414" stop-color="#49abab"/><stop offset="0.443" stop-color="#6bb680"/><stop offset="0.457" stop-color="#7bba70"/><stop offset="0.486" stop-color="#87be64"/><stop offset="1" stop-color="#89be62"/></linearGradient><linearGradient id="h2_25"><stop offset="0" stop-color="#9bc152"/><stop offset="0.0143" stop-color="#91c05a"/><stop offset="0.0286" stop-color="#6ab681"/><stop offset="0.0429" stop-color="#429abf"/><stop offset="0.0571" stop-color="#426bbe"/><stop offset="0.0714" stop-color="#3f5cb3"/><stop offset="0.329" stop-color="#3f5bb3"/><stop offset="0.357" stop-color="#4167bb"/><stop offset="0.371" stop-color="#4272c1"/><stop offset="0.386" stop-color="#4184c5"/><stop offset="0.4" stop-color="#4197c2"/><stop offset="0.414" stop-color="#45a7b2"/><stop offset="0.457" stop-color="#79ba72"/><stop offset="0.471" stop-color="#86be65"/><stop offset="1" stop-color="#8fbf5d"/></linearGradient><linearGradient id="h2_26"><stop offset="0" stop-color="#9fc24d"/><stop offset="0.0143" stop-color="#96c056"/><stop offset="0.0286" stop-color="#6fb77c"/><stop offset="0.0429" stop-color="#439dbc"/><stop offset="0.0571" stop-color="#426ec0"/><stop offset="0.0714" stop-color="#405fb6"/><stop offset="0.343" stop-color="#4060b6"/><stop offset="0.371" stop-color="#426ec0"/><stop offset="0.4" stop-color="#4092c7"/><stop offset="0.414" stop-color="#44a2b7"/><stop offset="0.429" stop-color="#4fada3"/><stop offset="0.457" stop-color="#75b976"/><stop offset="0.471" stop-color="#85bd66"/><stop offset="0.5" stop-color="#91c05a"/><stop offset="1" stop-color="#93c059"/></linearGradient><linearGradient id="h2_27"><stop offset="0" stop-color="#92c05a"/><stop offset="0.0143" stop-color="#89be62"/><stop offset="0.0286" stop-color="#61b38b"/><stop offset="0.0429" stop-color="#4193c6"/><stop offset="0.0571" stop-color="#4166ba"/><stop offset="0.0714" stop-color="#3f57b0"/><stop offset="0.343" stop-color="#3f56af"/><stop offset="0.371" stop-color="#4061b7"/><stop offset="0.4" stop-color="#417dc3"/><stop offset="0.414" stop-color="#4091c8"/><stop offset="0.443" stop-color="#4eada5"/><stop offset="0.471" stop-color="#6eb77d"/><stop offset="0.486" stop-color="#7bbb70"/><stop offset="1" stop-color="#84bd67"/></linearGradient><linearGradient id="h2_28"><stop offset="0" stop-color="#92c05a"/><stop offset="0.0143" stop-color="#88be63"/><stop offset="0.0286" stop-color="#60b38c"/><stop offset="0.0429" stop-color="#4093c6"/><stop offset="0.0571" stop-color="#4165ba"/><stop offset="0.0714" stop-color="#3f57af"/><stop offset="0.357" stop-color="#3f58b0"/><stop offset="0.386" stop-color="#4166bb"/><stop offset="0.414" stop-color="#4187c6"/><stop offset="0.429" stop-color="#4299c0"/><stop offset="0.443" stop-color="#46a9b0"/><stop offset="0.471" stop-color="#65b486"/><stop offset="0.486" stop-color="#74b877"/><stop offset="0.514" stop-color="#80bc6b"/><stop offset="1" stop-color="#81bc6a"/></linearGradient><linearGradient id="h2_29"><stop offset="0" stop-color="#92c059"/><stop offset="0.0143" stop-color="#89be62"/><stop offset="0.0286" stop-color="#60b38c"/><stop offset="0.0429" stop-color="#4093c6"/><stop offset="0.0571" stop-color="#4165ba"/><stop offset="0.0714" stop-color="#3f57b0"/><stop offset="0.357" stop-color="#3f56af"/><stop offset="0.4" stop-color="#426cbf"/><stop offset="0.429" stop-color="#4091c8"/><stop offset="0.457" stop-color="#4daca6"/><stop offset="0.486" stop-color="#6ab681"/><stop offset="0.514" stop-color="#7bba70"/><stop offset="1" stop-color="#7dbb6e"/></linearGradient><linearGradient id="h2_30"><stop offset="0" stop-color="#9bc152"/><stop offset="0.0143" stop-color="#91c05b"/><stop offset="0.0286" stop-color="#67b584"/><stop offset="0.0429" stop-color="#4298c1"/><stop offset="0.0571" stop-color="#416abd"/><stop offset="0.0714" stop-color="#3f5cb3"/><stop offset="0.371" stop-color="#405eb4"/><stop offset="0.4" stop-color="#426cbf"/><stop offset="0.429" stop-color="#408ec7"/><stop offset="0.457" stop-color="#49abab"/><stop offset="0.486" stop-color="#68b583"/><stop offset="0.514" stop-color="#7cbb6f"/><stop offset="1" stop-color="#80bc6b"/></linearGradient><linearGradient id="h2_31"><stop offset="0" stop-color="#98c154"/><stop offset="0.0143" stop-color="#8ebf5e"/><stop offset="0.0286" stop-color="#64b488"/><stop offset="0.0429" stop-color="#4195c4"/><stop offset="0.0571" stop-color="#4168bc"/><stop offset="0.0714" stop-color="#3f5bb2"/><stop offset="0.371" stop-color="#3f5ab2"/><stop offset="0.4" stop-color="#4166ba"/><stop offset="0.414" stop-color="#4271c1"/><stop offset="0.443" stop-color="#4194c5"/><stop offset="0.471" stop-color="#4daca6"/><stop offset="0.5" stop-color="#67b584"/><stop offset="0.529" stop-color="#75b976"/><stop offset="1" stop-color="#76b975"/></linearGradient><linearGradient id="h2_32"><stop offset="0" stop-color="#9bc151"/><stop offset="0.0143" stop-color="#91c05b"/><stop offset="0.0286" stop-color="#66b585"/><stop offset="0.0429" stop-color="#4197c2"/><stop offset="0.0571" stop-color="#416abd"/><stop offset="0.0714" stop-color="#405db4"/><stop offset="0.386" stop-color="#405eb5"/><stop offset="0.414" stop-color="#426dbf"/><stop offset="0.443" stop-color="#408dc7"/><stop offset="0.471" stop-color="#46aaaf"/><stop offset="0.5" stop-color="#61b38c"/><stop offset="0.514" stop-color="#6bb680"/><stop offset="1" stop-color="#73b878"/></linearGradient><linearGradient id="h2_33"><stop offset="0" stop-color="#9ac152"/><stop offset="0.0143" stop-color="#8fbf5c"/><stop offset="0.0286" stop-color="#64b487"/><stop offset="0.0429" stop-color="#4195c4"/><stop offset="0.0571" stop-color="#4169bc"/><stop offset="0.0714" stop-color="#3f5cb3"/><stop offset="0.386" stop-color="#3f5cb3"/><stop offset="0.414" stop-color="#4167bb"/><stop offset="0.457" stop-color="#4193c6"/><stop offset="0.486" stop-color="#4aabaa"/><stop offset="0.514" stop-color="#60b38c"/><stop offset="1" stop-color="#6bb680"/></linearGradient><linearGradient id="h2_34"><stop offset="0" stop-color="#98c154"/><stop offset="0.0143" stop-color="#8dbf5e"/><stop offset="0.0286" stop-color="#61b38a"/><stop offset="0.0429" stop-color="#4193c6"/><stop offset="0.0571" stop-color="#4168bb"/><stop offset="0.0714" stop-color="#3f5bb2"/><stop offset="0.386" stop-color="#3f59b1"/><stop offset="0.414" stop-color="#4062b8"/><stop offset="0.443" stop-color="#4178c2"/><stop offset="0.457" stop-color="#4089c6"/><stop offset="0.471" stop-color="#4298c1"/><stop offset="0.5" stop-color="#4daca6"/><stop offset="0.529" stop-color="#5eb28f"/><stop offset="1" stop-color="#63b489"/></linearGradient><linearGradient id="h2_35"><stop offset="0" stop-color="#98c154"/><stop offset="0.0143" stop-color="#8dbf5f"/><stop offset="0.0286" stop-color="#61b38b"/><stop offset="0.0429" stop-color="#4093c6"/><stop offset="0.0571" stop-color="#4167bb"/><stop offset="0.0714" stop-color="#3f5bb2"/><stop offset="0.4" stop-color="#3f5bb2"/><stop offset="0.443" stop-color="#4271c1"/><stop offset="0.471" stop-color="#4090c8"/><stop offset="0.5" stop-color="#46a9b0"/><stop offset="0.529" stop-color="#58b097"/><stop offset="1" stop-color="#5eb28e"/></linearGradient><linearGradient id="h2_36"><stop offset="0" stop-color="#97c155"/><stop offset="0.0143" stop-color="#8bbf60"/><stop offset="0.0286" stop-color="#5fb28e"/><stop offset="0.0429" stop-color="#4091c8"/><stop offset="0.0571" stop-color="#4166ba"/><stop offset="0.0714" stop-color="#3f5ab2"/><stop offset="0.414" stop-color="#3f5cb3"/><stop offset="0.443" stop-color="#416abd"/><stop offset="0.471" stop-color="#4186c6"/><stop offset="0.486" stop-color="#4195c4"/><stop offset="0.514" stop-color="#47aaae"/><stop offset="0.543" stop-color="#56af9a"/><stop offset="1" stop-color="#59b096"/></linearGradient><linearGradient id="h2_37"><stop offset="0" stop-color="#9ac152"/><stop offset="0.0143" stop-color="#8ebf5d"/><stop offset="0.0286" stop-color="#61b38b"/><stop offset="0.0429" stop-color="#4193c6"/><stop offset="0.0571" stop-color="#4168bc"/><stop offset="0.0714" stop-color="#3f5cb3"/><stop offset="0.414" stop-color="#405db4"/><stop offset="0.443" stop-color="#4168bc"/><stop offset="0.486" stop-color="#4091c8"/><stop offset="0.514" stop-color="#45a7b2"/><stop offset="0.543" stop-color="#53ae9e"/><stop offset="1" stop-color="#58b097"/></linearGradient><linearGradient id="h2_38"><stop offset="0" stop-color="#93c059"/><stop offset="0.0143" stop-color="#87be64"/><stop offset="0.0286" stop-color="#5bb194"/><stop offset="0.0429" stop-color="#408dc7"/><stop offset="0.0571" stop-color="#4063b8"/><stop offset="0.0714" stop-color="#3f57b0"/><stop offset="0.429" stop-color="#3f5ab2"/><stop offset="0.471" stop-color="#4273c1"/><stop offset="0.5" stop-color="#4091c8"/><stop offset="0.543" stop-color="#47aaae"/><stop offset="1" stop-color="#4eada4"/></linearGradient><linearGradient id="h2_39"><stop offset="0" stop-color="#96c056"/><stop offset="0.0143" stop-color="#89be62"/><stop offset="0.0286" stop-color="#5cb192"/><stop offset="0.0429" stop-color="#408ec7"/><stop offset="0.0571" stop-color="#4165b9"/><stop offset="0.0714" stop-color="#3f59b1"/><stop offset="0.429" stop-color="#3f5ab2"/><stop offset="0.471" stop-color="#426ec0"/><stop offset="0.5" stop-color="#4089c6"/><stop offset="0.543" stop-color="#45a7b2"/><stop offset="1" stop-color="#4caca7"/></linearGradient><linearGradient id="h2_40"><stop offset="0" stop-color="#98c154"/><stop offset="0.0143" stop-color="#8bbf60"/><stop offset="0.0286" stop-color="#5db290"/><stop offset="0.0429" stop-color="#408fc8"/><stop offset="0.0571" stop-color="#4166ba"/><stop offset="0.0714" stop-color="#3f5ab2"/><stop offset="0.443" stop-color="#3f5cb3"/><stop offset="0.486" stop-color="#4271c1"/><stop offset="0.514" stop-color="#408cc7"/><stop offset="0.557" stop-color="#45a6b3"/><stop offset="1" stop-color="#4aabaa"/></linearGradient><linearGradient id="h2_41"><stop offset="0" stop-color="#9ec24f"/><stop offset="0.0143" stop-color="#90c05b"/><stop offset="0.0286" stop-color="#61b38a"/><stop offset="0.0429" stop-color="#4093c6"/><stop offset="0.0571" stop-color="#4169bd"/><stop offset="0.0714" stop-color="#405eb4"/><stop offset="0.457" stop-color="#4060b6"/><stop offset="0.5" stop-color="#4275c2"/><stop offset="0.529" stop-color="#408fc8"/><stop offset="0.586" stop-color="#48abad"/><stop offset="1" stop-color="#4baca8"/></linearGradient><linearGradient id="h2_42"><stop offset="0" stop-color="#94c058"/><stop offset="0.0143" stop-color="#87be64"/><stop offset="0.0286" stop-color="#59b095"/><stop offset="0.0429" stop-color="#408bc7"/><stop offset="0.0571" stop-color="#4063b8"/><stop offset="0.0714" stop-color="#3f58b0"/><stop offset="0.471" stop-color="#3f5ab2"/><stop offset="0.514" stop-color="#426cbf"/><stop offset="0.557" stop-color="#4090c8"/><stop offset="0.614" stop-color="#45a4b5"/><stop offset="1" stop-color="#45a5b4"/></linearGradient><linearGradient id="h2_43"><stop offset="0" stop-color="#93c059"/><stop offset="0.0143" stop-color="#85bd66"/><stop offset="0.0286" stop-color="#58b097"/><stop offset="0.0429" stop-color="#4089c6"/><stop offset="0.0571" stop-color="#4062b8"/><stop offset="0.0714" stop-color="#3f57b0"/><stop offset="0.486" stop-color="#3f59b1"/><stop offset="0.529" stop-color="#416abd"/><stop offset="0.571" stop-color="#408cc7"/><stop offset="0.629" stop-color="#44a0b9"/><stop offset="1" stop-color="#44a1b8"/></linearGradient><linearGradient id="h2_44"><stop offset="0" stop-color="#95c057"/><stop offset="0.0143" stop-color="#87be64"/><stop offset="0.0286" stop-color="#59b096"/><stop offset="0.0429" stop-color="#408ac6"/><stop offset="0.0571" stop-color="#4063b8"/><stop offset="0.0714" stop-color="#3f58b1"/><stop offset="0.5" stop-color="#3f59b1"/><stop offset="0.557" stop-color="#4272c1"/><stop offset="0.6" stop-color="#4093c6"/><stop offset="1" stop-color="#44a0b9"/></linearGradient><linearGradient id="h2_45"><stop offset="0" stop-color="#9ac152"/><stop offset="0.0143" stop-color="#8cbf5f"/><stop offset="0.0286" stop-color="#5db291"/><stop offset="0.0429" stop-color="#408ec7"/><stop offset="0.0571" stop-color="#4166bb"/><stop offset="0.0714" stop-color="#3f5cb3"/><stop offset="0.529" stop-color="#405fb5"/><stop offset="0.571" stop-color="#4273c1"/><stop offset="0.614" stop-color="#4194c5"/><stop offset="1" stop-color="#44a1b8"/></linearGradient><linearGradient id="h2_46"><stop offset="0" stop-color="#96c056"/><stop offset="0.0143" stop-color="#88be63"/><stop offset="0.0286" stop-color="#59b096"/><stop offset="0.0429" stop-color="#408ac6"/><stop offset="0.0571" stop-color="#4164b9"/><stop offset="0.0714" stop-color="#3f59b1"/><stop offset="0.557" stop-color="#405eb5"/><stop offset="0.6" stop-color="#4273c1"/><stop offset="0.643" stop-color="#4091c8"/><stop offset="1" stop-color="#429bbe"/></linearGradient><linearGradient id="h2_47"><stop offset="0" stop-color="#9cc151"/><stop offset="0.0143" stop-color="#8dbf5e"/><stop offset="0.0286" stop-color="#5db291"/><stop offset="0.0429" stop-color="#408ec7"/><stop offset="0.0571" stop-color="#4167bb"/><stop offset="0.0714" stop-color="#3f5cb3"/><stop offset="0.586" stop-color="#4061b7"/><stop offset="0.671" stop-color="#4090c8"/><stop offset="1" stop-color="#439dbc"/></linearGradient><linearGradient id="h2_48"><stop offset="0" stop-color="#90bf5c"/><stop offset="0.0143" stop-color="#80bc6b"/><stop offset="0.0286" stop-color="#53ae9e"/><stop offset="0.0429" stop-color="#4183c5"/><stop offset="0.0571" stop-color="#405fb6"/><stop offset="0.0714" stop-color="#3e55ae"/><stop offset="0.629" stop-color="#3f5bb2"/><stop offset="0.743" stop-color="#4090c8"/><stop offset="1" stop-color="#4093c6"/></linearGradient><linearGradient id="h2_49"><stop offset="0" stop-color="#9bc152"/><stop offset="0.0143" stop-color="#8cbf5f"/><stop offset="0.0286" stop-color="#5bb193"/><stop offset="0.0429" stop-color="#408dc7"/><stop offset="0.0571" stop-color="#4166ba"/><stop offset="0.0714" stop-color="#3f5cb3"/><stop offset="0.657" stop-color="#405fb5"/><stop offset="0.757" stop-color="#408fc7"/><stop offset="1" stop-color="#4298c1"/></linearGradient><linearGradient id="h2_50"><stop offset="0" stop-color="#9ac152"/><stop offset="0.0143" stop-color="#8bbf60"/><stop offset="0.0286" stop-color="#5bb193"/><stop offset="0.0429" stop-color="#408cc7"/><stop offset="0.0571" stop-color="#4166ba"/><stop offset="0.0714" stop-color="#3f5cb3"/><stop offset="0.714" stop-color="#4062b7"/><stop offset="0.843" stop-color="#4092c7"/><stop offset="1" stop-color="#4196c3"/></linearGradient><linearGradient id="h2_51"><stop offset="0" stop-color="#92c05a"/><stop offset="0.0143" stop-color="#82bc69"/><stop offset="0.0286" stop-color="#53ae9e"/><stop offset="0.0429" stop-color="#4184c5"/><stop offset="0.0571" stop-color="#4060b6"/><stop offset="0.0714" stop-color="#3f56af"/><stop offset="0.786" stop-color="#4060b6"/><stop offset="0.871" stop-color="#4089c6"/><stop offset="1" stop-color="#408ec7"/></linearGradient><linearGradient id="h3_0"><stop offset="0" stop-color="#a7c347"/><stop offset="0.0143" stop-color="#9ec24f"/><stop offset="0.0286" stop-color="#62b38a"/><stop offset="0.0429" stop-color="#417ec4"/><stop offset="0.0571" stop-color="#4060b6"/><stop offset="0.1" stop-color="#405fb5"/><stop offset="0.114" stop-color="#4165b9"/><stop offset="0.129" stop-color="#4273c1"/><stop offset="0.143" stop-color="#408dc7"/><stop offset="0.157" stop-color="#45a4b5"/><stop offset="0.186" stop-color="#6bb680"/><stop offset="0.2" stop-color="#77b974"/><stop offset="1" stop-color="#7aba71"/></linearGradient><linearGradient id="h3_1"><stop offset="0" stop-color="#94c058"/><stop offset="0.0143" stop-color="#8bbf61"/><stop offset="0.0286" stop-color="#52ae9f"/><stop offset="0.0429" stop-color="#426dbf"/><stop offset="0.0571" stop-color="#3e54ae"/><stop offset="0.1" stop-color="#3e52ac"/><stop offset="0.129" stop-color="#4062b8"/><stop offset="0.143" stop-color="#4177c2"/><stop offset="0.157" stop-color="#4193c6"/><stop offset="0.171" stop-color="#46a9b0"/><stop offset="0.186" stop-color="#58b097"/><stop offset="0.2" stop-color="#62b38a"/><stop offset="1" stop-color="#66b585"/></linearGradient><linearGradient id="h3_2"><stop offset="0" stop-color="#a0c24c"/><stop offset="0.0143" stop-color="#97c155"/><stop offset="0.0286" stop-color="#5cb191"/><stop offset="0.0429" stop-color="#4178c2"/><stop offset="0.0571" stop-color="#3f5cb3"/><stop offset="0.1" stop-color="#3f59b1"/><stop offset="0.129" stop-color="#4167bb"/><stop offset="0.143" stop-color="#417cc3"/><stop offset="0.157" stop-color="#4298c1"/><stop offset="0.171" stop-color="#4caca7"/><stop offset="0.186" stop-color="#61b38b"/><stop offset="0.2" stop-color="#71b87a"/><stop offset="1" stop-color="#77b974"/></linearGradient><linearGradient id="h3_3"><stop offset="0" stop-color="#9cc250"/><stop offset="0.0143" stop-color="#93c059"/><stop offset="0.0286" stop-color="#59b096"/><stop offset="0.0429" stop-color="#4274c1"/><stop offset="0.0571" stop-color="#3f59b1"/><stop offset="0.114" stop-color="#3f59b1"/><stop offset="0.129" stop-color="#4062b7"/><stop offset="0.143" stop-color="#4273c1"/><stop offset="0.157" stop-color="#4091c8"/><stop offset="0.171" stop-color="#46a9b0"/><stop offset="0.186" stop-color="#5cb191"/><stop offset="0.2" stop-color="#6db77e"/><stop offset="1" stop-color="#75b976"/></linearGradient><linearGradient id="h3_4"><stop offset="0" stop-color="#9dc250"/><stop offset="0.0143" stop-color="#93c058"/><stop offset="0.0286" stop-color="#59b095"/><stop offset="0.0429" stop-color="#4275c2"/><stop offset="0.0571" stop-color="#3f5ab1"/><stop offset="0.114" stop-color="#3f58b0"/><stop offset="0.129" stop-color="#405fb5"/><stop offset="0.143" stop-color="#426ec0"/><stop offset="0.157" stop-color="#408cc7"/><stop offset="0.171" stop-color="#45a6b3"/><stop offset="0.186" stop-color="#5bb193"/><stop offset="0.2" stop-color="#6eb77d"/><stop offset="0.214" stop-color="#77b974"/><stop offset="1" stop-color="#78ba73"/></linearGradient><linearGradient id="h3_5"><stop offset="0" stop-color="#9ec24f"/><stop offset="0.0143" stop-color="#94c057"/><stop offset="0.0286" stop-color="#5ab194"/><stop offset="0.0429" stop-color="#4276c2"/><stop offset="0.0571" stop-color="#3f5ab2"/><stop offset="0.114" stop-color="#3f58b0"/><stop offset="0.129" stop-color="#405eb4"/><stop offset="0.143" stop-color="#426bbe"/><stop offset="0.157" stop-color="#4188c6"/><stop offset="0.171" stop-color="#45a4b5"/><stop offset="0.186" stop-color="#5bb193"/><stop offset="0.2" stop-color="#71b87a"/><stop offset="0.214" stop-color="#7bbb70"/><stop offset="1" stop-color="#7dbb6e"/></linearGradient><linearGradient id="h3_6"><stop offset="0" stop-color="#96c156"/><stop offset="0.0143" stop-color="#8dbf5e"/><stop offset="0.0286" stop-color="#54af9c"/><stop offset="0.0429" stop-color="#426fc0"/><stop offset="0.0571" stop-color="#3f56af"/><stop offset="0.114" stop-color="#3e53ad"/><stop offset="0.129" stop-color="#3f58b0"/><stop offset="0.143" stop-color="#4164b9"/><stop offset="0.157" stop-color="#417dc4"/><stop offset="0.171" stop-color="#439dbc"/><stop offset="0.186" stop-color="#54af9d"/><stop offset="0.2" stop-color="#6ab681"/><stop offset="0.214" stop-color="#76b975"/><stop offset="1" stop-color="#78ba73"/></linearGradient><linearGradient id="h3_7"><stop offset="0" stop-color="#9ec24f"/><stop offset="0.0143" stop-color="#94c057"/><stop offset="0.0286" stop-color="#5ab194"/><stop offset="0.0429" stop-color="#4276c2"/><stop offset="0.0571" stop-color="#3f5ab2"/><stop offset="0.114" stop-color="#3f57b0"/><stop offset="0.129" stop-color="#3f5bb2"/><stop offset="0.143" stop-color="#4166ba"/><stop offset="0.157" stop-color="#4180c4"/><stop offset="0.171" stop-color="#43a0b9"/><stop offset="0.186" stop-color="#59b096"/><stop offset="0.2" stop-color="#73b878"/><stop offset="0.214" stop-color="#81bc6a"/><stop offset="1" stop-color="#84bd67"/></linearGradient><linearGradient id="h3_8"><stop offset="0" stop-color="#9bc151"/><stop offset="0.0143" stop-color="#92c05a"/><stop offset="0.0286" stop-color="#58b097"/><stop offset="0.0429" stop-color="#4274c1"/><stop offset="0.0571" stop-color="#3f59b1"/><stop offset="0.129" stop-color="#3f58b0"/><stop offset="0.143" stop-color="#4062b8"/><stop offset="0.157" stop-color="#4179c3"/><stop offset="0.171" stop-color="#429abf"/><stop offset="0.186" stop-color="#54af9c"/><stop offset="0.2" stop-color="#6fb77c"/><stop offset="0.214" stop-color="#7fbc6c"/><stop offset="1" stop-color="#83bd68"/></linearGradient><linearGradient id="h3_9"><stop offset="0" stop-color="#adc344"/><stop offset="0.0143" stop-color="#a3c349"/><stop offset="0.0286" stop-color="#68b583"/><stop offset="0.0429" stop-color="#4184c5"/><stop offset="0.0571" stop-color="#4164b9"/><stop offset="0.129" stop-color="#4062b8"/><stop offset="0.143" stop-color="#426bbe"/><stop offset="0.157" stop-color="#4184c5"/><stop offset="0.171" stop-color="#44a3b6"/><stop offset="0.2" stop-color="#82bd69"/><stop offset="0.214" stop-color="#91c05a"/><stop offset="1" stop-color="#95c056"/></linearGradient><linearGradient id="h3_10"><stop offset="0" stop-color="#a0c24d"/><stop offset="0.0143" stop-color="#96c156"/><stop offset="0.0286" stop-color="#5cb192"/><stop offset="0.0429" stop-color="#4178c2"/><stop offset="0.0571" stop-color="#3f5bb3"/><stop offset="0.129" stop-color="#3f5ab1"/><stop offset="0.143" stop-color="#4061b6"/><stop offset="0.157" stop-color="#4273c1"/><stop offset="0.171" stop-color="#4196c3"/><stop offset="0.186" stop-color="#51aea0"/><stop offset="0.2" stop-color="#70b77b"/><stop offset="0.214" stop-color="#84bd67"/><stop offset="1" stop-color="#89be62"/></linearGradient><linearGradient id="h3_11"><stop offset="0" stop-color="#9dc24f"/><stop offset="0.0143" stop-color="#94c058"/><stop offset="0.0286" stop-color="#5ab194"/><stop offset="0.0429" stop-color="#4276c2"/><stop offset="0.0571" stop-color="#3f5ab2"/><stop offset="0.129" stop-color="#3f58b0"/><stop offset="0.143" stop-color="#405db4"/><stop offset="0.157" stop-color="#426dbf"/><stop offset="0.171" stop-color="#4091c8"/><stop offset="0.186" stop-color="#4caca7"/><stop offset="0.2" stop-color="#6bb680"/><stop offset="0.214" stop-color="#80bc6b"/><stop offset="1" stop-color="#87be64"/></linearGradient><linearGradient id="h3_12"><stop offset="0" stop-color="#9dc24f"/><stop offset="0.0143" stop-color="#94c058"/><stop offset="0.0286" stop-color="#5ab194"/><stop offset="0.0429" stop-color="#4276c2"/><stop offset="0.0571" stop-color="#3f5ab2"/><stop offset="0.129" stop-color="#3f58b0"/><stop offset="0.143" stop-color="#3f5cb3"/><stop offset="0.157" stop-color="#426bbe"/><stop offset="0.171" stop-color="#408cc7"/><stop offset="0.186" stop-color="#49abab"/><stop offset="0.2" stop-color="#69b582"/><stop offset="0.214" stop-color="#80bc6b"/><stop offset="0.229" stop-color="#87be64"/><stop offset="1" stop-color="#87be64"/></linearGradient><linearGradient id="h3_13"><stop offset="0" stop-color="#9cc151"/><stop offset="0.0143" stop-color="#93c059"/><stop offset="0.0286" stop-color="#59b096"/><stop offset="0.0429" stop-color="#4275c1"/><stop offset="0.0571" stop-color="#3f59b1"/><stop offset="0.129" stop-color="#3f56af"/><stop offset="0.143" stop-color="#3f5ab2"/><stop offset="0.157" stop-color="#4167bb"/><stop offset="0.171" stop-color="#4186c5"/><stop offset="0.186" stop-color="#46a8b1"/><stop offset="0.2" stop-color="#64b487"/><stop offset="0.214" stop-color="#7ebb6d"/><stop offset="1" stop-color="#86be65"/></linearGradient><linearGradient id="h3_14"><stop offset="0" stop-color="#9ac152"/><stop offset="0.0143" stop-color="#91c05b"/><stop offset="0.0286" stop-color="#58b097"/><stop offset="0.0429" stop-color="#4273c1"/><stop offset="0.0571" stop-color="#3f58b0"/><stop offset="0.143" stop-color="#3f58b0"/><stop offset="0.157" stop-color="#4063b8"/><stop offset="0.171" stop-color="#4180c4"/><stop offset="0.186" stop-color="#45a4b5"/><stop offset="0.2" stop-color="#61b38b"/><stop offset="0.214" stop-color="#7bbb70"/><stop offset="0.229" stop-color="#83bd68"/><stop offset="1" stop-color="#84bd67"/></linearGradient><linearGradient id="h3_15"><stop offset="0" stop-color="#9dc24f"/><stop offset="0.0143" stop-color="#94c058"/><stop offset="0.0286" stop-color="#5ab194"/><stop offset="0.0429" stop-color="#4276c2"/><stop offset="0.0571" stop-color="#3f5ab2"/><stop offset="0.143" stop-color="#3f59b1"/><stop offset="0.157" stop-color="#4062b8"/><stop offset="0.171" stop-color="#417dc3"/><stop offset="0.186" stop-color="#44a2b7"/><stop offset="0.2" stop-color="#60b38c"/><stop offset="0.214" stop-color="#7dbb6e"/><stop offset="0.229" stop-color="#86be65"/><stop offset="1" stop-color="#88be63"/></linearGradient><linearGradient id="h3_16"><stop offset="0" stop-color="#a1c24c"/><stop offset="0.0143" stop-color="#97c155"/><stop offset="0.0286" stop-color="#5db290"/><stop offset="0.0429" stop-color="#4179c2"/><stop offset="0.0571" stop-color="#3f5cb3"/><stop offset="0.143" stop-color="#3f5ab2"/><stop offset="0.157" stop-color="#4062b8"/><stop offset="0.171" stop-color="#417ac3"/><stop offset="0.186" stop-color="#44a0b9"/><stop offset="0.2" stop-color="#5fb28d"/><stop offset="0.214" stop-color="#7fbc6c"/><stop offset="0.229" stop-color="#8abf61"/><stop offset="1" stop-color="#8cbf60"/></linearGradient><linearGradient id="h3_17"><stop offset="0" stop-color="#9ec24f"/><stop offset="0.0143" stop-color="#94c057"/><stop offset="0.0286" stop-color="#5bb194"/><stop offset="0.0429" stop-color="#4276c2"/><stop offset="0.0571" stop-color="#3f5ab2"/><stop offset="0.143" stop-color="#3f58b0"/><stop offset="0.157" stop-color="#405eb5"/><stop offset="0.171" stop-color="#4271c1"/><stop offset="0.186" stop-color="#4298c1"/><stop offset="0.2" stop-color="#58b097"/><stop offset="0.214" stop-color="#78ba73"/><stop offset="0.229" stop-color="#87be64"/><stop offset="1" stop-color="#89be62"/></linearGradient><linearGradient id="h3_18"><stop offset="0" stop-color="#a3c34a"/><stop offset="0.0143" stop-color="#9ac153"/><stop offset="0.0286" stop-color="#5fb28e"/><stop offset="0.0429" stop-color="#417bc3"/><stop offset="0.0571" stop-color="#405db4"/><stop offset="0.143" stop-color="#3f5bb2"/><stop offset="0.157" stop-color="#4060b6"/><stop offset="0.171" stop-color="#4270c1"/><stop offset="0.186" stop-color="#4196c3"/><stop offset="0.2" stop-color="#56af99"/><stop offset="0.214" stop-color="#7aba71"/><stop offset="0.229" stop-color="#8bbf60"/><stop offset="1" stop-color="#8ebf5d"/></linearGradient><linearGradient id="h3_19"><stop offset="0" stop-color="#9ec24f"/><stop offset="0.0143" stop-color="#95c057"/><stop offset="0.0286" stop-color="#5bb193"/><stop offset="0.0429" stop-color="#4276c2"/><stop offset="0.0571" stop-color="#3f5ab2"/><stop offset="0.143" stop-color="#3f57b0"/><stop offset="0.157" stop-color="#3f5bb3"/><stop offset="0.171" stop-color="#4169bc"/><stop offset="0.186" stop-color="#408cc7"/><stop offset="0.2" stop-color="#4daca6"/><stop offset="0.214" stop-color="#70b77b"/><stop offset="0.229" stop-color="#85bd66"/><stop offset="1" stop-color="#8abe62"/></linearGradient><linearGradient id="h3_20"><stop offset="0" stop-color="#9fc24e"/><stop offset="0.0143" stop-color="#96c056"/><stop offset="0.0286" stop-color="#5bb192"/><stop offset="0.0429" stop-color="#4177c2"/><stop offset="0.0571" stop-color="#3f5bb2"/><stop offset="0.157" stop-color="#3f5bb2"/><stop offset="0.171" stop-color="#4166ba"/><stop offset="0.186" stop-color="#4186c6"/><stop offset="0.2" stop-color="#47aaad"/><stop offset="0.214" stop-color="#6cb67f"/><stop offset="0.229" stop-color="#85bd66"/><stop offset="1" stop-color="#8bbf60"/></linearGradient><linearGradient id="h3_21"><stop offset="0" stop-color="#a5c348"/><stop offset="0.0143" stop-color="#9cc150"/><stop offset="0.0286" stop-color="#61b38b"/><stop offset="0.0429" stop-color="#417dc3"/><stop offset="0.0571" stop-color="#405fb5"/><stop offset="0.157" stop-color="#405eb4"/><stop offset="0.171" stop-color="#4167bb"/><stop offset="0.186" stop-color="#4185c5"/><stop offset="0.2" stop-color="#46aaaf"/><stop offset="0.214" stop-color="#6eb77d"/><stop offset="0.229" stop-color="#8abe61"/><stop offset="0.243" stop-color="#91c05b"/><stop offset="1" stop-color="#91c05a"/></linearGradient><linearGradient id="h3_22"><stop offset="0" stop-color="#a1c24c"/><stop offset="0.0143" stop-color="#98c154"/><stop offset="0.0286" stop-color="#5db290"/><stop offset="0.0429" stop-color="#4179c3"/><stop offset="0.0571" stop-color="#3f5cb3"/><stop offset="0.157" stop-color="#3f5ab2"/><stop offset="0.171" stop-color="#4062b8"/><stop offset="0.186" stop-color="#417bc3"/><stop offset="0.2" stop-color="#44a2b7"/><stop offset="0.214" stop-color="#63b489"/><stop offset="0.229" stop-color="#83bd68"/><stop offset="0.243" stop-color="#8cbf5f"/><stop offset="1" stop-color="#8ebf5e"/></linearGradient><linearGradient id="h3_23"><stop offset="0" stop-color="#9dc250"/><stop offset="0.0143" stop-color="#93c058"/><stop offset="0.0286" stop-color="#5ab195"/><stop offset="0.0429" stop-color="#4275c2"/><stop offset="0.0571" stop-color="#3f5ab1"/><stop offset="0.157" stop-color="#3f57b0"/><stop offset="0.171" stop-color="#405db4"/><stop offset="0.186" stop-color="#4270c1"/><stop offset="0.2" stop-color="#4299c0"/><stop offset="0.214" stop-color="#5ab194"/><stop offset="0.229" stop-color="#7bbb70"/><stop offset="0.243" stop-color="#88be63"/><stop offset="1" stop-color="#89be62"/></linearGradient><linearGradient id="h3_24"><stop offset="0" stop-color="#9ec24f"/><stop offset="0.0143" stop-color="#95c057"/><stop offset="0.0286" stop-color="#5bb193"/><stop offset="0.0429" stop-color="#4276c2"/><stop offset="0.0571" stop-color="#3f5ab2"/><stop offset="0.157" stop-color="#3f58b0"/><stop offset="0.171" stop-color="#3f5cb3"/><stop offset="0.186" stop-color="#426cbf"/><stop offset="0.2" stop-color="#4194c5"/><stop offset="0.214" stop-color="#56af9a"/><stop offset="0.229" stop-color="#79ba72"/><stop offset="0.243" stop-color="#89be63"/><stop offset="1" stop-color="#8bbf60"/></linearGradient><linearGradient id="h3_25"><stop offset="0" stop-color="#a1c24c"/><stop offset="0.0143" stop-color="#98c154"/><stop offset="0.0286" stop-color="#5db290"/><stop offset="0.0429" stop-color="#4179c3"/><stop offset="0.0571" stop-color="#3f5cb3"/><stop offset="0.157" stop-color="#3f59b1"/><stop offset="0.171" stop-color="#405db4"/><stop offset="0.186" stop-color="#426bbe"/><stop offset="0.2" stop-color="#4090c8"/><stop offset="0.214" stop-color="#52ae9f"/><stop offset="0.229" stop-color="#78ba73"/><stop offset="0.243" stop-color="#8bbf60"/><stop offset="1" stop-color="#8ebf5d"/></linearGradient><linearGradient id="h3_26"><stop offset="0" stop-color="#a7c347"/><stop offset="0.0143" stop-color="#9ec24f"/><stop offset="0.0286" stop-color="#62b389"/><stop offset="0.0429" stop-color="#417ec4"/><stop offset="0.0571" stop-color="#4060b6"/><stop offset="0.171" stop-color="#405fb6"/><stop offset="0.186" stop-color="#426bbe"/><stop offset="0.2" stop-color="#408fc8"/><stop offset="0.214" stop-color="#51aea0"/><stop offset="0.229" stop-color="#7bbb70"/><stop offset="0.243" stop-color="#90bf5c"/><stop offset="1" stop-color="#95c057"/></linearGradient><linearGradient id="h3_27"><stop offset="0" stop-color="#9ec24f"/><stop offset="0.0143" stop-color="#94c058"/><stop offset="0.0286" stop-color="#5bb194"/><stop offset="0.0429" stop-color="#4276c2"/><stop offset="0.0571" stop-color="#3f5ab2"/><stop offset="0.171" stop-color="#3f59b1"/><stop offset="0.186" stop-color="#4063b8"/><stop offset="0.2" stop-color="#4180c4"/><stop offset="0.214" stop-color="#46a8b1"/><stop offset="0.229" stop-color="#6bb680"/><stop offset="0.243" stop-color="#85bd66"/><stop offset="1" stop-color="#8cbf60"/></linearGradient><linearGradient id="h3_28"><stop offset="0" stop-color="#9ec24f"/><stop offset="0.0143" stop-color="#94c057"/><stop offset="0.0286" stop-color="#5bb194"/><stop offset="0.0429" stop-color="#4276c2"/><stop offset="0.0571" stop-color="#3f5ab2"/><stop offset="0.171" stop-color="#3f58b1"/><stop offset="0.186" stop-color="#4060b6"/><stop offset="0.2" stop-color="#417ac3"/><stop offset="0.214" stop-color="#44a3b6"/><stop offset="0.229" stop-color="#65b486"/><stop offset="0.243" stop-color="#82bd69"/><stop offset="0.257" stop-color="#8abe61"/><stop offset="1" stop-color="#8bbf61"/></linearGradient><linearGradient id="h3_29"><stop offset="0" stop-color="#a3c34a"/><stop offset="0.0143" stop-color="#9ac153"/><stop offset="0.0286" stop-color="#5fb28e"/><stop offset="0.0429" stop-color="#417bc3"/><stop offset="0.0571" stop-color="#405eb4"/><stop offset="0.171" stop-color="#3f5bb3"/><stop offset="0.186" stop-color="#4062b7"/><stop offset="0.2" stop-color="#4178c2"/><stop offset="0.214" stop-color="#44a0b9"/><stop offset="0.229" stop-color="#62b38a"/><stop offset="0.243" stop-color="#82bc69"/><stop offset="0.257" stop-color="#8bbf61"/><stop offset="1" stop-color="#8cbf60"/></linearGradient><linearGradient id="h3_30"><stop offset="0" stop-color="#9bc151"/><stop offset="0.0143" stop-color="#92c05a"/><stop offset="0.0286" stop-color="#58b097"/><stop offset="0.0429" stop-color="#4273c1"/><stop offset="0.0571" stop-color="#3f59b1"/><stop offset="0.171" stop-color="#3f56af"/><stop offset="0.186" stop-color="#3f5bb2"/><stop offset="0.2" stop-color="#426cbe"/><stop offset="0.214" stop-color="#4194c5"/><stop offset="0.229" stop-color="#54af9d"/><stop offset="0.243" stop-color="#70b87b"/><stop offset="0.257" stop-color="#7cbb6f"/><stop offset="1" stop-color="#7ebb6d"/></linearGradient><linearGradient id="h3_31"><stop offset="0" stop-color="#9dc24f"/><stop offset="0.0143" stop-color="#94c058"/><stop offset="0.0286" stop-color="#5ab194"/><stop offset="0.0429" stop-color="#4276c2"/><stop offset="0.0571" stop-color="#3f5ab2"/><stop offset="0.171" stop-color="#3f57b0"/><stop offset="0.186" stop-color="#3f5bb2"/><stop offset="0.2" stop-color="#4169bd"/><stop offset="0.214" stop-color="#408fc7"/><stop offset="0.229" stop-color="#4eada4"/><stop offset="0.243" stop-color="#6bb680"/><stop offset="0.257" stop-color="#79ba72"/><stop offset="1" stop-color="#7bbb70"/></linearGradient><linearGradient id="h3_32"><stop offset="0" stop-color="#a2c34a"/><stop offset="0.0143" stop-color="#99c153"/><stop offset="0.0286" stop-color="#5eb28f"/><stop offset="0.0429" stop-color="#417ac3"/><stop offset="0.0571" stop-color="#405db4"/><stop offset="0.186" stop-color="#405db4"/><stop offset="0.2" stop-color="#416abd"/><stop offset="0.214" stop-color="#408dc7"/><stop offset="0.229" stop-color="#4daca5"/><stop offset="0.243" stop-color="#6eb77d"/><stop offset="0.257" stop-color="#7ebc6d"/><stop offset="1" stop-color="#81bc6a"/></linearGradient><linearGradient id="h3_33"><stop offset="0" stop-color="#a1c24c"/><stop offset="0.0143" stop-color="#98c154"/><stop offset="0.0286" stop-color="#5db290"/><stop offset="0.0429" stop-color="#4179c3"/><stop offset="0.0571" stop-color="#3f5cb3"/><stop offset="0.186" stop-color="#3f5bb3"/><stop offset="0.2" stop-color="#4166bb"/><stop offset="0.214" stop-color="#4187c6"/><stop offset="0.229" stop-color="#4aabaa"/><stop offset="0.243" stop-color="#6eb77d"/><stop offset="0.257" stop-color="#82bc69"/><stop offset="1" stop-color="#86be65"/></linearGradient><linearGradient id="h3_34"><stop offset="0" stop-color="#9fc24e"/><stop offset="0.0143" stop-color="#96c056"/><stop offset="0.0286" stop-color="#5cb192"/><stop offset="0.0429" stop-color="#4177c2"/><stop offset="0.0571" stop-color="#3f5bb3"/><stop offset="0.186" stop-color="#3f59b1"/><stop offset="0.2" stop-color="#4063b8"/><stop offset="0.214" stop-color="#4181c4"/><stop offset="0.229" stop-color="#46a9b0"/><stop offset="0.243" stop-color="#6cb67f"/><stop offset="0.257" stop-color="#85bd66"/><stop offset="1" stop-color="#8abe62"/></linearGradient><linearGradient id="h3_35"><stop offset="0" stop-color="#a1c24b"/><stop offset="0.0143" stop-color="#98c154"/><stop offset="0.0286" stop-color="#5eb28f"/><stop offset="0.0429" stop-color="#417ac3"/><stop offset="0.0571" stop-color="#405db4"/><stop offset="0.186" stop-color="#3f5bb2"/><stop offset="0.2" stop-color="#4062b8"/><stop offset="0.214" stop-color="#417ec4"/><stop offset="0.229" stop-color="#46a8b1"/><stop offset="0.243" stop-color="#6fb77c"/><stop offset="0.257" stop-color="#8bbf60"/><stop offset="1" stop-color="#92c05a"/></linearGradient><linearGradient id="h3_36"><stop offset="0" stop-color="#93c059"/><stop offset="0.0143" stop-color="#8abe61"/><stop offset="0.0286" stop-color="#52ae9f"/><stop offset="0.0429" stop-color="#426dbf"/><stop offset="0.0571" stop-color="#3e54ad"/><stop offset="0.186" stop-color="#3e52ac"/><stop offset="0.2" stop-color="#3f58b0"/><stop offset="0.214" stop-color="#426cbf"/><stop offset="0.229" stop-color="#429abf"/><stop offset="0.243" stop-color="#5fb28e"/><stop offset="0.257" stop-color="#7ebc6d"/><stop offset="0.271" stop-color="#87be64"/><stop offset="1" stop-color="#88be63"/></linearGradient><linearGradient id="h3_37"><stop offset="0" stop-color="#a3c34a"/><stop offset="0.0143" stop-color="#9ac152"/><stop offset="0.0286" stop-color="#5fb28d"/><stop offset="0.0429" stop-color="#417bc3"/><stop offset="0.0571" stop-color="#405eb4"/><stop offset="0.186" stop-color="#3f5bb2"/><stop offset="0.2" stop-color="#4060b6"/><stop offset="0.214" stop-color="#4275c2"/><stop offset="0.229" stop-color="#44a2b7"/><stop offset="0.243" stop-color="#6db77e"/><stop offset="0.257" stop-color="#92c05a"/><stop offset="0.271" stop-color="#9cc150"/><stop offset="1" stop-color="#9dc24f"/></linearGradient><linearGradient id="h3_38"><stop offset="0" stop-color="#9bc152"/><stop offset="0.0143" stop-color="#92c05a"/><stop offset="0.0286" stop-color="#59b096"/><stop offset="0.0429" stop-color="#4274c1"/><stop offset="0.0571" stop-color="#3f58b1"/><stop offset="0.186" stop-color="#3e55ae"/><stop offset="0.2" stop-color="#3f5ab1"/><stop offset="0.214" stop-color="#426bbe"/><stop offset="0.229" stop-color="#4297c2"/><stop offset="0.243" stop-color="#61b38b"/><stop offset="0.257" stop-color="#8bbf60"/><stop offset="0.271" stop-color="#98c155"/><stop offset="1" stop-color="#99c153"/></linearGradient><linearGradient id="h3_39"><stop offset="0" stop-color="#98c154"/><stop offset="0.0143" stop-color="#8fbf5d"/><stop offset="0.0286" stop-color="#56af99"/><stop offset="0.0429" stop-color="#4272c1"/><stop offset="0.0571" stop-color="#3f57af"/><stop offset="0.186" stop-color="#3e53ad"/><stop offset="0.2" stop-color="#3f57af"/><stop offset="0.214" stop-color="#4165ba"/><stop offset="0.229" stop-color="#4090c8"/><stop offset="0.243" stop-color="#5ab195"/><stop offset="0.257" stop-color="#87be64"/><stop offset="0.271" stop-color="#96c156"/><stop offset="1" stop-color="#98c154"/></linearGradient><linearGradient id="h3_40"><stop offset="0" stop-color="#a0c24d"/><stop offset="0.0143" stop-color="#97c155"/><stop offset="0.0286" stop-color="#5db290"/><stop offset="0.0429" stop-color="#4179c2"/><stop offset="0.0571" stop-color="#3f5cb3"/><stop offset="0.186" stop-color="#3f58b1"/><stop offset="0.2" stop-color="#3f5bb2"/><stop offset="0.214" stop-color="#4167bb"/><stop offset="0.229" stop-color="#408fc8"/><stop offset="0.243" stop-color="#5ab194"/><stop offset="0.257" stop-color="#8cbf5f"/><stop offset="0.271" stop-color="#9ec24e"/><stop offset="1" stop-color="#a1c24c"/></linearGradient><linearGradient id="h3_41"><stop offset="0" stop-color="#a2c24b"/><stop offset="0.0143" stop-color="#99c154"/><stop offset="0.0286" stop-color="#5fb28e"/><stop offset="0.0429" stop-color="#417bc3"/><stop offset="0.0571" stop-color="#405db4"/><stop offset="0.2" stop-color="#3f5bb3"/><stop offset="0.214" stop-color="#4166ba"/><stop offset="0.229" stop-color="#408ac7"/><stop offset="0.243" stop-color="#56af99"/><stop offset="0.257" stop-color="#8abf61"/><stop offset="0.271" stop-color="#a0c24d"/><stop offset="1" stop-color="#a4c349"/></linearGradient><linearGradient id="h3_42"><stop offset="0" stop-color="#9dc250"/><stop offset="0.0143" stop-color="#94c058"/><stop offset="0.0286" stop-color="#5bb193"/><stop offset="0.0429" stop-color="#4276c2"/><stop offset="0.0571" stop-color="#3f5ab2"/><stop offset="0.2" stop-color="#3f58b0"/><stop offset="0.214" stop-color="#4061b7"/><stop offset="0.229" stop-color="#4181c4"/><stop offset="0.243" stop-color="#4eada4"/><stop offset="0.257" stop-color="#82bd69"/><stop offset="0.271" stop-color="#9bc152"/><stop offset="1" stop-color="#9fc24d"/></linearGradient><linearGradient id="h3_43"><stop offset="0" stop-color="#9ac152"/><stop offset="0.0143" stop-color="#91c05a"/><stop offset="0.0286" stop-color="#58b096"/><stop offset="0.0429" stop-color="#4274c1"/><stop offset="0.0571" stop-color="#3f58b0"/><stop offset="0.2" stop-color="#3f56af"/><stop offset="0.214" stop-color="#405eb4"/><stop offset="0.229" stop-color="#417bc3"/><stop offset="0.243" stop-color="#48abad"/><stop offset="0.257" stop-color="#7cbb6f"/><stop offset="0.271" stop-color="#98c154"/><stop offset="1" stop-color="#9dc24f"/></linearGradient><linearGradient id="h3_44"><stop offset="0" stop-color="#9fc24e"/><stop offset="0.0143" stop-color="#96c056"/><stop offset="0.0286" stop-color="#5cb191"/><stop offset="0.0429" stop-color="#4178c2"/><stop offset="0.0571" stop-color="#3f5bb2"/><stop offset="0.2" stop-color="#3f58b1"/><stop offset="0.214" stop-color="#405fb6"/><stop offset="0.229" stop-color="#417bc3"/><stop offset="0.243" stop-color="#47aaad"/><stop offset="0.257" stop-color="#7fbc6c"/><stop offset="0.271" stop-color="#9cc150"/><stop offset="1" stop-color="#a2c34a"/></linearGradient><linearGradient id="h3_45"><stop offset="0" stop-color="#9ec24e"/><stop offset="0.0143" stop-color="#96c056"/><stop offset="0.0286" stop-color="#5cb192"/><stop offset="0.0429" stop-color="#4178c2"/><stop offset="0.0571" stop-color="#3f5bb2"/><stop offset="0.2" stop-color="#3f58b0"/><stop offset="0.214" stop-color="#405eb5"/><stop offset="0.229" stop-color="#4276c2"/><stop offset="0.243" stop-color="#45a7b2"/><stop offset="0.257" stop-color="#7bbb70"/><stop offset="0.271" stop-color="#9bc151"/><stop offset="1" stop-color="#a3c34a"/></linearGradient><linearGradient id="h3_46"><stop offset="0" stop-color="#a5c348"/><stop offset="0.0143" stop-color="#9cc151"/><stop offset="0.0286" stop-color="#61b38b"/><stop offset="0.0429" stop-color="#417dc3"/><stop offset="0.0571" stop-color="#405fb5"/><stop offset="0.2" stop-color="#3f5cb3"/><stop offset="0.214" stop-color="#4061b7"/><stop offset="0.229" stop-color="#4178c2"/><stop offset="0.243" stop-color="#46a8b1"/><stop offset="0.257" stop-color="#7ebb6d"/><stop offset="0.271" stop-color="#a1c24c"/><stop offset="0.286" stop-color="#a9c346"/><stop offset="1" stop-color="#a9c346"/></linearGradient><linearGradient id="h3_47"><stop offset="0" stop-color="#a2c24b"/><stop offset="0.0143" stop-color="#99c153"/><stop offset="0.0286" stop-color="#5fb28e"/><stop offset="0.0429" stop-color="#417bc3"/><stop offset="0.0571" stop-color="#405db4"/><stop offset="0.2" stop-color="#3f5ab2"/><stop offset="0.214" stop-color="#405eb5"/><stop offset="0.229" stop-color="#4272c1"/><stop offset="0.243" stop-color="#44a2b7"/><stop offset="0.257" stop-color="#77b974"/><stop offset="0.271" stop-color="#9dc24f"/><stop offset="0.286" stop-color="#a6c347"/><stop offset="1" stop-color="#a7c347"/></linearGradient><linearGradient id="h3_48"><stop offset="0" stop-color="#9fc24d"/><stop offset="0.0143" stop-color="#97c155"/><stop offset="0.0286" stop-color="#5db290"/><stop offset="0.0429" stop-color="#4179c2"/><stop offset="0.0571" stop-color="#3f5cb3"/><stop offset="0.2" stop-color="#3f58b1"/><stop offset="0.214" stop-color="#3f5cb3"/><stop offset="0.229" stop-color="#426dbf"/><stop offset="0.243" stop-color="#439dbc"/><stop offset="0.257" stop-color="#6fb77c"/><stop offset="0.271" stop-color="#99c153"/><stop offset="0.286" stop-color="#a4c349"/><stop offset="1" stop-color="#a5c348"/></linearGradient><linearGradient id="h3_49"><stop offset="0" stop-color="#a3c34a"/><stop offset="0.0143" stop-color="#9ac152"/><stop offset="0.0286" stop-color="#60b38c"/><stop offset="0.0429" stop-color="#417cc3"/><stop offset="0.0571" stop-color="#405eb5"/><stop offset="0.214" stop-color="#405db4"/><stop offset="0.229" stop-color="#426cbf"/><stop offset="0.243" stop-color="#429abf"/><stop offset="0.257" stop-color="#6ab681"/><stop offset="0.271" stop-color="#96c056"/><stop offset="0.286" stop-color="#a1c24b"/><stop offset="1" stop-color="#a3c34a"/></linearGradient><linearGradient id="h3_50"><stop offset="0" stop-color="#9ec24f"/><stop offset="0.0143" stop-color="#95c057"/><stop offset="0.0286" stop-color="#5bb193"/><stop offset="0.0429" stop-color="#4277c2"/><stop offset="0.0571" stop-color="#3f5ab2"/><stop offset="0.214" stop-color="#3f59b1"/><stop offset="0.229" stop-color="#4166ba"/><stop offset="0.243" stop-color="#408ec7"/><stop offset="0.257" stop-color="#58b097"/><stop offset="0.271" stop-color="#82bd69"/><stop offset="0.286" stop-color="#8fbf5d"/><stop offset="1" stop-color="#90c05b"/></linearGradient><linearGradient id="h3_51"><stop offset="0" stop-color="#9bc152"/><stop offset="0.0143" stop-color="#92c05a"/><stop offset="0.0286" stop-color="#58b097"/><stop offset="0.0429" stop-color="#4274c1"/><stop offset="0.0571" stop-color="#3f58b1"/><stop offset="0.214" stop-color="#3f57b0"/><stop offset="0.229" stop-color="#4062b7"/><stop offset="0.243" stop-color="#4185c5"/><stop offset="0.257" stop-color="#4daca5"/><stop offset="0.271" stop-color="#72b879"/><stop offset="0.286" stop-color="#81bc6a"/><stop offset="1" stop-color="#83bd68"/></linearGradient><linearGradient id="h4_0"><stop offset="0" stop-color="#62b38a"/><stop offset="0.0143" stop-color="#61b38a"/><stop offset="0.0286" stop-color="#57b098"/><stop offset="0.0429" stop-color="#417cc3"/><stop offset="0.0571" stop-color="#4177c2"/><stop offset="0.0714" stop-color="#5bb192"/><stop offset="0.0857" stop-color="#8cbf5f"/><stop offset="1" stop-color="#64b487"/></linearGradient><linearGradient id="h4_1"><stop offset="0" stop-color="#63b488"/><stop offset="0.0143" stop-color="#63b488"/><stop offset="0.0286" stop-color="#59b095"/><stop offset="0.0429" stop-color="#417dc4"/><stop offset="0.0571" stop-color="#4272c1"/><stop offset="0.0714" stop-color="#54af9d"/><stop offset="0.0857" stop-color="#8bbf60"/><stop offset="1" stop-color="#65b486"/></linearGradient><linearGradient id="h4_2"><stop offset="0" stop-color="#6db67e"/><stop offset="0.0143" stop-color="#6db67e"/><stop offset="0.0286" stop-color="#60b38c"/><stop offset="0.0429" stop-color="#4184c5"/><stop offset="0.0571" stop-color="#4272c1"/><stop offset="0.0714" stop-color="#50ada2"/><stop offset="0.0857" stop-color="#8fbf5d"/><stop offset="0.1" stop-color="#98c154"/><stop offset="1" stop-color="#6eb77d"/></linearGradient><linearGradient id="h4_3"><stop offset="0" stop-color="#67b584"/><stop offset="0.0143" stop-color="#67b584"/><stop offset="0.0286" stop-color="#5cb191"/><stop offset="0.0429" stop-color="#417fc4"/><stop offset="0.0571" stop-color="#416abd"/><stop offset="0.0714" stop-color="#45a6b3"/><stop offset="0.0857" stop-color="#84bd67"/><stop offset="0.1" stop-color="#93c059"/><stop offset="1" stop-color="#68b583"/></linearGradient><linearGradient id="h4_4"><stop offset="0" stop-color="#5eb28f"/><stop offset="0.0143" stop-color="#5eb28f"/><stop offset="0.0286" stop-color="#54af9d"/><stop offset="0.0429" stop-color="#4276c2"/><stop offset="0.0571" stop-color="#4060b6"/><stop offset="0.0714" stop-color="#4196c3"/><stop offset="0.0857" stop-color="#70b77b"/><stop offset="0.1" stop-color="#87be64"/><stop offset="0.329" stop-color="#7bba70"/><stop offset="1" stop-color="#5eb290"/></linearGradient><linearGradient id="h4_5"><stop offset="0" stop-color="#64b487"/><stop offset="0.0143" stop-color="#64b487"/><stop offset="0.0286" stop-color="#5ab195"/><stop offset="0.0429" stop-color="#417cc3"/><stop offset="0.0571" stop-color="#4062b7"/><stop offset="0.0714" stop-color="#4193c6"/><stop offset="0.0857" stop-color="#6fb77c"/><stop offset="0.1" stop-color="#8dbf5e"/><stop offset="0.329" stop-color="#81bc6a"/><stop offset="0.343" stop-color="#67b584"/><stop offset="0.357" stop-color="#6bb680"/><stop offset="0.371" stop-color="#7dbb6e"/><stop offset="1" stop-color="#63b488"/></linearGradient><linearGradient id="h4_6"><stop offset="0" stop-color="#62b38a"/><stop offset="0.0143" stop-color="#62b38a"/><stop offset="0.0286" stop-color="#57b098"/><stop offset="0.0429" stop-color="#4179c3"/><stop offset="0.0571" stop-color="#405eb4"/><stop offset="0.0714" stop-color="#4188c6"/><stop offset="0.0857" stop-color="#61b38a"/><stop offset="0.1" stop-color="#88be63"/><stop offset="0.314" stop-color="#80bc6b"/><stop offset="0.329" stop-color="#7bbb70"/><stop offset="0.343" stop-color="#59b096"/><stop offset="0.357" stop-color="#5db290"/><stop offset="0.371" stop-color="#78ba73"/><stop offset="1" stop-color="#60b38c"/></linearGradient><linearGradient id="h4_7"><stop offset="0" stop-color="#65b486"/><stop offset="0.0143" stop-color="#65b486"/><stop offset="0.0286" stop-color="#5ab194"/><stop offset="0.0429" stop-color="#417cc3"/><stop offset="0.0571" stop-color="#405eb5"/><stop offset="0.0714" stop-color="#4182c4"/><stop offset="0.0857" stop-color="#5cb192"/><stop offset="0.1" stop-color="#89be63"/><stop offset="0.314" stop-color="#83bd68"/><stop offset="0.329" stop-color="#7ebb6d"/><stop offset="0.343" stop-color="#5bb193"/><stop offset="0.357" stop-color="#5fb28d"/><stop offset="0.371" stop-color="#7bbb70"/><stop offset="1" stop-color="#62b389"/></linearGradient><linearGradient id="h4_8"><stop offset="0" stop-color="#5eb28f"/><stop offset="0.0143" stop-color="#5eb28f"/><stop offset="0.0286" stop-color="#53ae9d"/><stop offset="0.0429" stop-color="#4275c2"/><stop offset="0.0571" stop-color="#3f58b0"/><stop offset="0.0714" stop-color="#4272c1"/><stop offset="0.0857" stop-color="#4caca7"/><stop offset="0.1" stop-color="#7aba71"/><stop offset="0.114" stop-color="#83bd68"/><stop offset="0.314" stop-color="#78ba73"/><stop offset="0.329" stop-color="#73b878"/><stop offset="0.343" stop-color="#53ae9d"/><stop offset="0.357" stop-color="#58b097"/><stop offset="0.371" stop-color="#70b77b"/><stop offset="1" stop-color="#5ab194"/></linearGradient><linearGradient id="h4_9"><stop offset="0" stop-color="#65b486"/><stop offset="0.0143" stop-color="#65b486"/><stop offset="0.0286" stop-color="#5ab194"/><stop offset="0.0429" stop-color="#417cc3"/><stop offset="0.0571" stop-color="#3f5cb3"/><stop offset="0.0714" stop-color="#4272c1"/><stop offset="0.0857" stop-color="#49abab"/><stop offset="0.1" stop-color="#7dbb6e"/><stop offset="0.114" stop-color="#8abe61"/><stop offset="0.314" stop-color="#7fbc6c"/><stop offset="0.329" stop-color="#7aba71"/><stop offset="0.343" stop-color="#59b096"/><stop offset="0.357" stop-color="#5eb290"/><stop offset="0.371" stop-color="#77b974"/><stop offset="1" stop-color="#5fb28d"/></linearGradient><linearGradient id="h4_10"><stop offset="0" stop-color="#65b486"/><stop offset="0.0143" stop-color="#65b486"/><stop offset="0.0286" stop-color="#5ab194"/><stop offset="0.0429" stop-color="#417cc3"/><stop offset="0.0571" stop-color="#3f5bb3"/><stop offset="0.0714" stop-color="#426cbf"/><stop offset="0.0857" stop-color="#44a3b6"/><stop offset="0.1" stop-color="#73b878"/><stop offset="0.114" stop-color="#87be64"/><stop offset="0.329" stop-color="#78ba73"/><stop offset="0.343" stop-color="#58b097"/><stop offset="0.357" stop-color="#5cb191"/><stop offset="0.371" stop-color="#74b977"/><stop offset="1" stop-color="#5db290"/></linearGradient><linearGradient id="h4_11"><stop offset="0" stop-color="#6cb67f"/><stop offset="0.0143" stop-color="#6cb67f"/><stop offset="0.0286" stop-color="#5fb28d"/><stop offset="0.0429" stop-color="#4181c4"/><stop offset="0.0571" stop-color="#405eb5"/><stop offset="0.0714" stop-color="#426bbe"/><stop offset="0.0857" stop-color="#439dbc"/><stop offset="0.1" stop-color="#6eb77d"/><stop offset="0.114" stop-color="#89be62"/><stop offset="0.314" stop-color="#80bc6b"/><stop offset="0.329" stop-color="#7cbb6f"/><stop offset="0.343" stop-color="#5cb192"/><stop offset="0.357" stop-color="#60b38c"/><stop offset="0.371" stop-color="#79ba72"/><stop offset="1" stop-color="#60b38c"/></linearGradient><linearGradient id="h4_12"><stop offset="0" stop-color="#66b485"/><stop offset="0.0143" stop-color="#66b485"/><stop offset="0.0286" stop-color="#5ab194"/><stop offset="0.0429" stop-color="#417cc3"/><stop offset="0.0571" stop-color="#3f5ab2"/><stop offset="0.0714" stop-color="#4063b8"/><stop offset="0.0857" stop-color="#408ec7"/><stop offset="0.1" stop-color="#5cb191"/><stop offset="0.114" stop-color="#7ebb6d"/><stop offset="0.314" stop-color="#77b974"/><stop offset="0.329" stop-color="#73b878"/><stop offset="0.343" stop-color="#56af9a"/><stop offset="0.357" stop-color="#5ab194"/><stop offset="0.371" stop-color="#70b77b"/><stop offset="1" stop-color="#5ab195"/></linearGradient><linearGradient id="h4_13"><stop offset="0" stop-color="#67b584"/><stop offset="0.0143" stop-color="#67b584"/><stop offset="0.0286" stop-color="#5bb193"/><stop offset="0.0429" stop-color="#417cc3"/><stop offset="0.0571" stop-color="#3f5bb2"/><stop offset="0.0714" stop-color="#4060b6"/><stop offset="0.0857" stop-color="#4183c5"/><stop offset="0.1" stop-color="#52ae9f"/><stop offset="0.114" stop-color="#79ba72"/><stop offset="0.129" stop-color="#81bc6a"/><stop offset="0.329" stop-color="#71b87a"/><stop offset="0.343" stop-color="#56af9a"/><stop offset="0.357" stop-color="#59b095"/><stop offset="0.371" stop-color="#6eb77d"/><stop offset="1" stop-color="#59b096"/></linearGradient><linearGradient id="h4_14"><stop offset="0" stop-color="#5eb28e"/><stop offset="0.0143" stop-color="#5eb28f"/><stop offset="0.0286" stop-color="#53ae9d"/><stop offset="0.0429" stop-color="#4274c1"/><stop offset="0.0571" stop-color="#3e55ae"/><stop offset="0.0714" stop-color="#3f58b0"/><stop offset="0.0857" stop-color="#4271c1"/><stop offset="0.1" stop-color="#45a4b5"/><stop offset="0.114" stop-color="#66b485"/><stop offset="0.129" stop-color="#73b878"/><stop offset="0.329" stop-color="#64b487"/><stop offset="0.343" stop-color="#4daca6"/><stop offset="0.357" stop-color="#51aea1"/><stop offset="0.371" stop-color="#62b38a"/><stop offset="1" stop-color="#4fada3"/></linearGradient><linearGradient id="h4_15"><stop offset="0" stop-color="#70b77b"/><stop offset="0.0143" stop-color="#70b77b"/><stop offset="0.0286" stop-color="#61b38b"/><stop offset="0.0429" stop-color="#4183c5"/><stop offset="0.0571" stop-color="#405fb5"/><stop offset="0.0714" stop-color="#4061b7"/><stop offset="0.0857" stop-color="#4277c2"/><stop offset="0.1" stop-color="#45a6b3"/><stop offset="0.114" stop-color="#6fb77c"/><stop offset="0.129" stop-color="#83bd68"/><stop offset="0.329" stop-color="#75b976"/><stop offset="0.343" stop-color="#5ab194"/><stop offset="0.357" stop-color="#5db290"/><stop offset="0.371" stop-color="#72b879"/><stop offset="1" stop-color="#5cb192"/></linearGradient><linearGradient id="h4_16"><stop offset="0" stop-color="#5db291"/><stop offset="0.0143" stop-color="#5db291"/><stop offset="0.0286" stop-color="#51aea0"/><stop offset="0.0429" stop-color="#4272c1"/><stop offset="0.0571" stop-color="#3e54ad"/><stop offset="0.0714" stop-color="#3e54ad"/><stop offset="0.0857" stop-color="#4063b8"/><stop offset="0.1" stop-color="#408fc7"/><stop offset="0.114" stop-color="#53ae9e"/><stop offset="0.129" stop-color="#67b584"/><stop offset="0.329" stop-color="#5eb28e"/><stop offset="0.343" stop-color="#49abab"/><stop offset="0.357" stop-color="#4daca6"/><stop offset="0.371" stop-color="#5cb191"/><stop offset="1" stop-color="#4caca7"/></linearGradient><linearGradient id="h4_17"><stop offset="0" stop-color="#6ab681"/><stop offset="0.0143" stop-color="#6ab681"/><stop offset="0.0286" stop-color="#5db291"/><stop offset="0.0429" stop-color="#417ec4"/><stop offset="0.0571" stop-color="#3f5cb3"/><stop offset="0.0714" stop-color="#3f5cb3"/><stop offset="0.0857" stop-color="#4167bb"/><stop offset="0.1" stop-color="#408fc8"/><stop offset="0.114" stop-color="#53ae9d"/><stop offset="0.129" stop-color="#70b77b"/><stop offset="0.329" stop-color="#69b582"/><stop offset="0.343" stop-color="#53ae9d"/><stop offset="0.357" stop-color="#57b099"/><stop offset="0.371" stop-color="#67b584"/><stop offset="1" stop-color="#58b097"/></linearGradient><linearGradient id="h4_18"><stop offset="0" stop-color="#63b489"/><stop offset="0.0143" stop-color="#63b489"/><stop offset="0.0286" stop-color="#57b098"/><stop offset="0.0429" stop-color="#4177c2"/><stop offset="0.0571" stop-color="#3f58b0"/><stop offset="0.0714" stop-color="#3f57b0"/><stop offset="0.0857" stop-color="#405fb5"/><stop offset="0.1" stop-color="#417ec4"/><stop offset="0.114" stop-color="#45a8b1"/><stop offset="0.129" stop-color="#61b38c"/><stop offset="0.143" stop-color="#69b582"/><stop offset="0.329" stop-color="#60b38c"/><stop offset="0.343" stop-color="#4daca6"/><stop offset="0.357" stop-color="#50ada2"/><stop offset="0.371" stop-color="#5fb28e"/><stop offset="1" stop-color="#53ae9d"/></linearGradient><linearGradient id="h4_19"><stop offset="0" stop-color="#61b38b"/><stop offset="0.0143" stop-color="#61b38c"/><stop offset="0.0286" stop-color="#55af9b"/><stop offset="0.0429" stop-color="#4275c2"/><stop offset="0.0571" stop-color="#3f56af"/><stop offset="0.0714" stop-color="#3e55ae"/><stop offset="0.0857" stop-color="#3f5bb2"/><stop offset="0.1" stop-color="#4272c1"/><stop offset="0.114" stop-color="#439dbc"/><stop offset="0.129" stop-color="#57b098"/><stop offset="0.143" stop-color="#61b38b"/><stop offset="0.329" stop-color="#5cb192"/><stop offset="0.343" stop-color="#49abab"/><stop offset="0.357" stop-color="#4daca6"/><stop offset="0.371" stop-color="#5bb193"/><stop offset="1" stop-color="#52ae9f"/></linearGradient><linearGradient id="h4_20"><stop offset="0" stop-color="#62b38a"/><stop offset="0.0143" stop-color="#61b38a"/><stop offset="0.0286" stop-color="#55af9a"/><stop offset="0.0429" stop-color="#4275c2"/><stop offset="0.0571" stop-color="#3f57b0"/><stop offset="0.0857" stop-color="#3f5ab1"/><stop offset="0.1" stop-color="#426cbe"/><stop offset="0.114" stop-color="#4195c4"/><stop offset="0.129" stop-color="#50ada2"/><stop offset="0.143" stop-color="#5eb28f"/><stop offset="0.329" stop-color="#5ab194"/><stop offset="0.343" stop-color="#49abab"/><stop offset="0.357" stop-color="#4caca7"/><stop offset="0.371" stop-color="#5ab195"/><stop offset="1" stop-color="#53ae9d"/></linearGradient><linearGradient id="h4_21"><stop offset="0" stop-color="#61b38a"/><stop offset="0.0143" stop-color="#61b38b"/><stop offset="0.0286" stop-color="#55af9b"/><stop offset="0.0429" stop-color="#4275c2"/><stop offset="0.0571" stop-color="#3f57b0"/><stop offset="0.0857" stop-color="#3f58b0"/><stop offset="0.1" stop-color="#4166ba"/><stop offset="0.114" stop-color="#4089c6"/><stop offset="0.129" stop-color="#46a9b0"/><stop offset="0.143" stop-color="#58b097"/><stop offset="0.329" stop-color="#58b097"/><stop offset="0.343" stop-color="#47aaad"/><stop offset="0.357" stop-color="#4baca9"/><stop offset="0.371" stop-color="#58b097"/><stop offset="1" stop-color="#54af9d"/></linearGradient><linearGradient id="h4_22"><stop offset="0" stop-color="#66b585"/><stop offset="0.0143" stop-color="#66b585"/><stop offset="0.0286" stop-color="#59b096"/><stop offset="0.0429" stop-color="#4179c2"/><stop offset="0.0571" stop-color="#3f5ab2"/><stop offset="0.0857" stop-color="#3f5ab2"/><stop offset="0.1" stop-color="#4164b9"/><stop offset="0.114" stop-color="#4181c4"/><stop offset="0.129" stop-color="#44a3b6"/><stop offset="0.143" stop-color="#56af9a"/><stop offset="0.157" stop-color="#5cb192"/><stop offset="0.329" stop-color="#5ab195"/><stop offset="0.343" stop-color="#4aaba9"/><stop offset="0.357" stop-color="#4daca5"/><stop offset="0.371" stop-color="#5ab194"/><stop offset="1" stop-color="#58b097"/></linearGradient><linearGradient id="h4_23"><stop offset="0" stop-color="#64b488"/><stop offset="0.0143" stop-color="#63b488"/><stop offset="0.0286" stop-color="#57b098"/><stop offset="0.0429" stop-color="#4276c2"/><stop offset="0.0571" stop-color="#3f58b1"/><stop offset="0.0857" stop-color="#3f58b0"/><stop offset="0.1" stop-color="#405eb5"/><stop offset="0.114" stop-color="#4273c1"/><stop offset="0.129" stop-color="#4197c2"/><stop offset="0.143" stop-color="#4baca9"/><stop offset="0.157" stop-color="#56af9a"/><stop offset="0.329" stop-color="#56af9a"/><stop offset="0.343" stop-color="#47aaae"/><stop offset="0.357" stop-color="#4aabaa"/><stop offset="0.371" stop-color="#56af99"/><stop offset="1" stop-color="#56af99"/></linearGradient><linearGradient id="h4_24"><stop offset="0" stop-color="#6cb67f"/><stop offset="0.0143" stop-color="#6cb67f"/><stop offset="0.0286" stop-color="#5db291"/><stop offset="0.0429" stop-color="#417cc3"/><stop offset="0.0571" stop-color="#405db4"/><stop offset="0.1" stop-color="#4060b6"/><stop offset="0.114" stop-color="#426ec0"/><stop offset="0.129" stop-color="#408fc8"/><stop offset="0.143" stop-color="#46a9b0"/><stop offset="0.157" stop-color="#56af9a"/><stop offset="0.329" stop-color="#59b095"/><stop offset="0.343" stop-color="#4caca7"/><stop offset="0.357" stop-color="#4fada4"/><stop offset="0.371" stop-color="#5ab195"/><stop offset="1" stop-color="#5ab194"/></linearGradient><linearGradient id="h4_25"><stop offset="0" stop-color="#5db290"/><stop offset="0.0143" stop-color="#5db290"/><stop offset="0.0286" stop-color="#50ada1"/><stop offset="0.0429" stop-color="#426fc0"/><stop offset="0.0571" stop-color="#3e54ad"/><stop offset="0.1" stop-color="#3e54ae"/><stop offset="0.114" stop-color="#405fb5"/><stop offset="0.129" stop-color="#4273c1"/><stop offset="0.143" stop-color="#4093c6"/><stop offset="0.157" stop-color="#45a5b4"/><stop offset="0.171" stop-color="#4aabaa"/><stop offset="0.329" stop-color="#4baca9"/><stop offset="0.343" stop-color="#44a3b6"/><stop offset="0.357" stop-color="#45a5b4"/><stop offset="0.371" stop-color="#4baca8"/><stop offset="1" stop-color="#4caca8"/></linearGradient><linearGradient id="h4_26"><stop offset="0" stop-color="#65b486"/><stop offset="0.0143" stop-color="#64b487"/><stop offset="0.0286" stop-color="#57b098"/><stop offset="0.0429" stop-color="#4276c2"/><stop offset="0.0571" stop-color="#3f59b1"/><stop offset="0.1" stop-color="#3f58b1"/><stop offset="0.114" stop-color="#405eb5"/><stop offset="0.129" stop-color="#426dbf"/><stop offset="0.143" stop-color="#4089c6"/><stop offset="0.157" stop-color="#439fba"/><stop offset="0.171" stop-color="#49abaa"/><stop offset="0.329" stop-color="#4fada3"/><stop offset="0.343" stop-color="#45a8b1"/><stop offset="0.357" stop-color="#46aaaf"/><stop offset="0.371" stop-color="#50ada2"/><stop offset="1" stop-color="#50ada2"/></linearGradient><linearGradient id="h4_27"><stop offset="0" stop-color="#62b38a"/><stop offset="0.0143" stop-color="#62b38a"/><stop offset="0.0286" stop-color="#55af9c"/><stop offset="0.0429" stop-color="#4272c1"/><stop offset="0.0571" stop-color="#3f56af"/><stop offset="0.114" stop-color="#3f57b0"/><stop offset="0.129" stop-color="#405fb5"/><stop offset="0.143" stop-color="#426ec0"/><stop offset="0.157" stop-color="#4188c6"/><stop offset="0.171" stop-color="#439cbd"/><stop offset="0.186" stop-color="#46a8b1"/><stop offset="0.329" stop-color="#49abaa"/><stop offset="0.343" stop-color="#45a4b5"/><stop offset="0.357" stop-color="#45a6b3"/><stop offset="0.371" stop-color="#4aabaa"/><stop offset="1" stop-color="#4aaba9"/></linearGradient><linearGradient id="h4_28"><stop offset="0" stop-color="#6bb680"/><stop offset="0.0143" stop-color="#6ab681"/><stop offset="0.0286" stop-color="#5bb193"/><stop offset="0.0429" stop-color="#4179c2"/><stop offset="0.0571" stop-color="#3f5bb2"/><stop offset="0.129" stop-color="#405db4"/><stop offset="0.143" stop-color="#4165b9"/><stop offset="0.157" stop-color="#4275c2"/><stop offset="0.171" stop-color="#408dc7"/><stop offset="0.186" stop-color="#439fba"/><stop offset="0.2" stop-color="#47aaae"/><stop offset="0.229" stop-color="#4eada4"/><stop offset="0.329" stop-color="#4eada5"/><stop offset="0.343" stop-color="#47aaad"/><stop offset="1" stop-color="#4eada4"/></linearGradient><linearGradient id="h4_29"><stop offset="0" stop-color="#5fb28e"/><stop offset="0.0143" stop-color="#5eb28e"/><stop offset="0.0286" stop-color="#51aea0"/><stop offset="0.0429" stop-color="#426dc0"/><stop offset="0.0571" stop-color="#3e53ad"/><stop offset="0.143" stop-color="#3e55ae"/><stop offset="0.171" stop-color="#426bbe"/><stop offset="0.2" stop-color="#4194c5"/><stop offset="0.229" stop-color="#45a4b5"/><stop offset="1" stop-color="#45a6b3"/></linearGradient><linearGradient id="h4_30"><stop offset="0" stop-color="#67b584"/><stop offset="0.0143" stop-color="#67b584"/><stop offset="0.0286" stop-color="#58b097"/><stop offset="0.0429" stop-color="#4274c1"/><stop offset="0.0571" stop-color="#3f58b0"/><stop offset="0.157" stop-color="#3f5ab2"/><stop offset="0.186" stop-color="#426bbe"/><stop offset="0.214" stop-color="#4090c8"/><stop offset="0.243" stop-color="#45a4b5"/><stop offset="1" stop-color="#46aaaf"/></linearGradient><linearGradient id="h4_31"><stop offset="0" stop-color="#6bb680"/><stop offset="0.0143" stop-color="#6ab681"/><stop offset="0.0286" stop-color="#5bb193"/><stop offset="0.0429" stop-color="#4276c2"/><stop offset="0.0571" stop-color="#3f59b1"/><stop offset="0.186" stop-color="#3f5cb3"/><stop offset="0.214" stop-color="#426cbf"/><stop offset="0.243" stop-color="#408fc8"/><stop offset="0.271" stop-color="#44a4b5"/><stop offset="1" stop-color="#46aaaf"/></linearGradient><linearGradient id="h4_32"><stop offset="0" stop-color="#63b488"/><stop offset="0.0143" stop-color="#63b488"/><stop offset="0.0286" stop-color="#55af9b"/><stop offset="0.0429" stop-color="#4270c0"/><stop offset="0.0571" stop-color="#3e54ae"/><stop offset="0.214" stop-color="#3f57b0"/><stop offset="0.243" stop-color="#4167bb"/><stop offset="0.271" stop-color="#4185c5"/><stop offset="0.286" stop-color="#4194c5"/><stop offset="0.314" stop-color="#44a1b8"/><stop offset="1" stop-color="#44a3b6"/></linearGradient><linearGradient id="h4_33"><stop offset="0" stop-color="#71b87a"/><stop offset="0.0143" stop-color="#71b87a"/><stop offset="0.0286" stop-color="#5fb28e"/><stop offset="0.0429" stop-color="#417ac3"/><stop offset="0.0571" stop-color="#3f5bb3"/><stop offset="0.243" stop-color="#405eb4"/><stop offset="0.271" stop-color="#416abd"/><stop offset="0.314" stop-color="#4093c6"/><stop offset="0.357" stop-color="#45a6b3"/><stop offset="1" stop-color="#46a9b0"/></linearGradient><linearGradient id="h4_34"><stop offset="0" stop-color="#6eb77d"/><stop offset="0.0143" stop-color="#6db77e"/><stop offset="0.0286" stop-color="#5cb191"/><stop offset="0.0429" stop-color="#4276c2"/><stop offset="0.0571" stop-color="#3f59b1"/><stop offset="0.286" stop-color="#3f5cb3"/><stop offset="0.329" stop-color="#426ec0"/><stop offset="0.371" stop-color="#4194c5"/><stop offset="0.429" stop-color="#45a5b4"/><stop offset="1" stop-color="#45a6b3"/></linearGradient><linearGradient id="h4_35"><stop offset="0" stop-color="#73b878"/><stop offset="0.0143" stop-color="#73b878"/><stop offset="0.0286" stop-color="#60b38d"/><stop offset="0.0429" stop-color="#417ac3"/><stop offset="0.0571" stop-color="#3f5bb3"/><stop offset="0.343" stop-color="#4060b6"/><stop offset="0.371" stop-color="#426cbe"/><stop offset="0.414" stop-color="#4092c7"/><stop offset="0.457" stop-color="#45a5b4"/><stop offset="1" stop-color="#45a7b2"/></linearGradient><linearGradient id="h4_36"><stop offset="0" stop-color="#73b878"/><stop offset="0.0143" stop-color="#72b879"/><stop offset="0.0286" stop-color="#60b38d"/><stop offset="0.0429" stop-color="#4179c3"/><stop offset="0.0571" stop-color="#3f5bb3"/><stop offset="0.386" stop-color="#405fb5"/><stop offset="0.414" stop-color="#426dbf"/><stop offset="0.443" stop-color="#408cc7"/><stop offset="0.471" stop-color="#44a0b9"/><stop offset="1" stop-color="#45a6b3"/></linearGradient><linearGradient id="h4_37"><stop offset="0" stop-color="#67b584"/><stop offset="0.0143" stop-color="#67b584"/><stop offset="0.0286" stop-color="#57b098"/><stop offset="0.0429" stop-color="#4271c1"/><stop offset="0.0571" stop-color="#3f56af"/><stop offset="0.414" stop-color="#3f59b1"/><stop offset="0.443" stop-color="#4168bc"/><stop offset="0.486" stop-color="#4092c7"/><stop offset="1" stop-color="#439fba"/></linearGradient><linearGradient id="h4_38"><stop offset="0" stop-color="#66b485"/><stop offset="0.0143" stop-color="#65b486"/><stop offset="0.0286" stop-color="#57b099"/><stop offset="0.0429" stop-color="#4271c1"/><stop offset="0.0571" stop-color="#3f56af"/><stop offset="0.429" stop-color="#3f59b1"/><stop offset="0.471" stop-color="#416abd"/><stop offset="0.514" stop-color="#4093c6"/><stop offset="1" stop-color="#439ebb"/></linearGradient><linearGradient id="h4_39"><stop offset="0" stop-color="#66b585"/><stop offset="0.0143" stop-color="#66b585"/><stop offset="0.0286" stop-color="#57b098"/><stop offset="0.0429" stop-color="#4273c1"/><stop offset="0.0571" stop-color="#3f58b0"/><stop offset="0.457" stop-color="#405eb5"/><stop offset="0.5" stop-color="#426fc0"/><stop offset="0.543" stop-color="#4194c5"/><stop offset="1" stop-color="#439fba"/></linearGradient><linearGradient id="h4_40"><stop offset="0" stop-color="#69b582"/><stop offset="0.0143" stop-color="#69b582"/><stop offset="0.0286" stop-color="#59b095"/><stop offset="0.0429" stop-color="#4276c2"/><stop offset="0.0571" stop-color="#3f5bb2"/><stop offset="0.486" stop-color="#4166ba"/><stop offset="0.514" stop-color="#426ec0"/><stop offset="0.557" stop-color="#408ec7"/><stop offset="0.6" stop-color="#44a0b9"/><stop offset="1" stop-color="#44a1b8"/></linearGradient><linearGradient id="h4_41"><stop offset="0" stop-color="#68b583"/><stop offset="0.0143" stop-color="#67b584"/><stop offset="0.0286" stop-color="#58b096"/><stop offset="0.0429" stop-color="#4276c2"/><stop offset="0.0571" stop-color="#3f5bb2"/><stop offset="0.5" stop-color="#4169bd"/><stop offset="0.557" stop-color="#417dc3"/><stop offset="0.586" stop-color="#4090c8"/><stop offset="0.629" stop-color="#439fba"/><stop offset="1" stop-color="#44a0b9"/></linearGradient><linearGradient id="h4_42"><stop offset="0" stop-color="#5fb28e"/><stop offset="0.0143" stop-color="#5fb28e"/><stop offset="0.0286" stop-color="#51aea0"/><stop offset="0.0429" stop-color="#4270c0"/><stop offset="0.0571" stop-color="#3f57af"/><stop offset="0.514" stop-color="#4168bc"/><stop offset="0.6" stop-color="#4181c4"/><stop offset="0.629" stop-color="#4093c6"/><stop offset="1" stop-color="#429abf"/></linearGradient><linearGradient id="h4_43"><stop offset="0" stop-color="#5eb28f"/><stop offset="0.0143" stop-color="#5eb28f"/><stop offset="0.0286" stop-color="#50ada2"/><stop offset="0.0429" stop-color="#426fc0"/><stop offset="0.0571" stop-color="#3f57af"/><stop offset="0.5" stop-color="#4165ba"/><stop offset="0.629" stop-color="#4182c5"/><stop offset="0.657" stop-color="#4092c7"/><stop offset="1" stop-color="#4299c0"/></linearGradient><linearGradient id="h4_44"><stop offset="0" stop-color="#5cb192"/><stop offset="0.0143" stop-color="#5bb193"/><stop offset="0.0286" stop-color="#4eada4"/><stop offset="0.0429" stop-color="#426ec0"/><stop offset="0.0571" stop-color="#3f56af"/><stop offset="0.543" stop-color="#426ec0"/><stop offset="0.657" stop-color="#4181c4"/><stop offset="0.686" stop-color="#4091c8"/><stop offset="1" stop-color="#4297c2"/></linearGradient><linearGradient id="h4_45"><stop offset="0" stop-color="#5bb193"/><stop offset="0.0143" stop-color="#5bb194"/><stop offset="0.0286" stop-color="#4daca5"/><stop offset="0.0429" stop-color="#426ec0"/><stop offset="0.0571" stop-color="#3f57af"/><stop offset="0.5" stop-color="#4165ba"/><stop offset="0.686" stop-color="#4182c5"/><stop offset="0.714" stop-color="#4092c7"/><stop offset="1" stop-color="#4197c2"/></linearGradient><linearGradient id="h4_46"><stop offset="0" stop-color="#5ab194"/><stop offset="0.0143" stop-color="#5ab194"/><stop offset="0.0286" stop-color="#4daca5"/><stop offset="0.0429" stop-color="#426fc0"/><stop offset="0.0571" stop-color="#3f58b0"/><stop offset="0.5" stop-color="#4166bb"/><stop offset="0.7" stop-color="#417ec4"/><stop offset="0.743" stop-color="#4091c8"/><stop offset="1" stop-color="#4197c2"/></linearGradient><linearGradient id="h4_47"><stop offset="0" stop-color="#59b095"/><stop offset="0.0143" stop-color="#59b096"/><stop offset="0.0286" stop-color="#4caca7"/><stop offset="0.0429" stop-color="#426fc0"/><stop offset="0.0571" stop-color="#3f58b0"/><stop offset="0.486" stop-color="#4063b8"/><stop offset="1" stop-color="#4196c3"/></linearGradient><linearGradient id="h4_48"><stop offset="0" stop-color="#60b38d"/><stop offset="0.0143" stop-color="#60b38d"/><stop offset="0.0286" stop-color="#53ae9e"/><stop offset="0.0429" stop-color="#4178c2"/><stop offset="0.0571" stop-color="#405eb5"/><stop offset="0.5" stop-color="#426dbf"/><stop offset="0.843" stop-color="#4093c6"/><stop offset="1" stop-color="#439cbd"/></linearGradient><linearGradient id="h4_49"><stop offset="0" stop-color="#55af9c"/><stop offset="0.0143" stop-color="#54af9c"/><stop offset="0.0286" stop-color="#48abac"/><stop offset="0.0429" stop-color="#4270c0"/><stop offset="0.0571" stop-color="#3f5ab2"/><stop offset="0.529" stop-color="#426ec0"/><stop offset="0.871" stop-color="#4181c4"/><stop offset="1" stop-color="#4194c5"/></linearGradient><linearGradient id="h4_50"><stop offset="0" stop-color="#54af9d"/><stop offset="0.0143" stop-color="#54af9d"/><stop offset="0.0286" stop-color="#4baca8"/><stop offset="0.0429" stop-color="#4089c6"/><stop offset="0.0571" stop-color="#4277c2"/><stop offset="1" stop-color="#4193c6"/></linearGradient><linearGradient id="h4_51"><stop offset="0" stop-color="#55af9b"/><stop offset="0.0143" stop-color="#55af9b"/><stop offset="0.0286" stop-color="#4fada3"/><stop offset="0.0429" stop-color="#429abf"/><stop offset="0.0571" stop-color="#4092c7"/><stop offset="1" stop-color="#4193c6"/></linearGradient><linearGradient id="h5_0"><stop offset="0" stop-color="#6cb67f"/><stop offset="0.0286" stop-color="#6ab681"/><stop offset="0.0429" stop-color="#60b38d"/><stop offset="0.0571" stop-color="#48abad"/><stop offset="0.0714" stop-color="#408ec7"/><stop offset="0.0857" stop-color="#426bbe"/><stop offset="0.1" stop-color="#3f5ab2"/><stop offset="0.129" stop-color="#3e52ac"/><stop offset="0.157" stop-color="#3f57b0"/><stop offset="0.171" stop-color="#4063b8"/><stop offset="0.186" stop-color="#417cc3"/><stop offset="0.2" stop-color="#439dbc"/><stop offset="0.214" stop-color="#54af9d"/><stop offset="0.229" stop-color="#69b582"/><stop offset="0.243" stop-color="#74b877"/><stop offset="1" stop-color="#76b975"/></linearGradient><linearGradient id="h5_1"><stop offset="0" stop-color="#66b485"/><stop offset="0.0286" stop-color="#64b487"/><stop offset="0.0429" stop-color="#5bb193"/><stop offset="0.0571" stop-color="#45a8b1"/><stop offset="0.0714" stop-color="#4089c6"/><stop offset="0.0857" stop-color="#4168bc"/><stop offset="0.1" stop-color="#3f57af"/><stop offset="0.157" stop-color="#3e53ad"/><stop offset="0.171" stop-color="#405eb5"/><stop offset="0.186" stop-color="#4274c1"/><stop offset="0.2" stop-color="#4196c3"/><stop offset="0.214" stop-color="#4daca6"/><stop offset="0.229" stop-color="#61b38b"/><stop offset="0.243" stop-color="#6db77e"/><stop offset="1" stop-color="#70b77b"/></linearGradient><linearGradient id="h5_2"><stop offset="0" stop-color="#73b878"/><stop offset="0.0286" stop-color="#71b87a"/><stop offset="0.0429" stop-color="#65b486"/><stop offset="0.0571" stop-color="#4daca6"/><stop offset="0.0714" stop-color="#4093c6"/><stop offset="0.0857" stop-color="#426fc0"/><stop offset="0.1" stop-color="#405eb4"/><stop offset="0.143" stop-color="#3f56af"/><stop offset="0.171" stop-color="#4164b9"/><stop offset="0.186" stop-color="#417ac3"/><stop offset="0.2" stop-color="#429bbe"/><stop offset="0.214" stop-color="#53ae9e"/><stop offset="0.229" stop-color="#6bb680"/><stop offset="0.243" stop-color="#79ba72"/><stop offset="1" stop-color="#7ebb6d"/></linearGradient><linearGradient id="h5_3"><stop offset="0" stop-color="#7bbb70"/><stop offset="0.0286" stop-color="#79ba72"/><stop offset="0.0429" stop-color="#6db77e"/><stop offset="0.0571" stop-color="#52ae9e"/><stop offset="0.0714" stop-color="#4297c2"/><stop offset="0.0857" stop-color="#4276c2"/><stop offset="0.1" stop-color="#4062b7"/><stop offset="0.129" stop-color="#3f5ab2"/><stop offset="0.157" stop-color="#405db4"/><stop offset="0.171" stop-color="#4166bb"/><stop offset="0.186" stop-color="#417dc3"/><stop offset="0.2" stop-color="#439cbd"/><stop offset="0.214" stop-color="#55af9b"/><stop offset="0.229" stop-color="#71b87a"/><stop offset="0.243" stop-color="#81bc6a"/><stop offset="1" stop-color="#86be65"/></linearGradient><linearGradient id="h5_4"><stop offset="0" stop-color="#84bd67"/><stop offset="0.0286" stop-color="#82bd69"/><stop offset="0.0429" stop-color="#76b975"/><stop offset="0.0571" stop-color="#59b096"/><stop offset="0.0714" stop-color="#439dbc"/><stop offset="0.0857" stop-color="#417cc3"/><stop offset="0.1" stop-color="#4167bb"/><stop offset="0.143" stop-color="#405fb6"/><stop offset="0.171" stop-color="#416abd"/><stop offset="0.186" stop-color="#4180c4"/><stop offset="0.2" stop-color="#439ebb"/><stop offset="0.214" stop-color="#58b097"/><stop offset="0.229" stop-color="#77b974"/><stop offset="0.243" stop-color="#88be63"/><stop offset="1" stop-color="#8ebf5d"/></linearGradient><linearGradient id="h5_5"><stop offset="0" stop-color="#78ba73"/><stop offset="0.0286" stop-color="#76b975"/><stop offset="0.0429" stop-color="#6ab681"/><stop offset="0.0571" stop-color="#50ada2"/><stop offset="0.0714" stop-color="#4195c4"/><stop offset="0.0857" stop-color="#4273c1"/><stop offset="0.1" stop-color="#4060b6"/><stop offset="0.129" stop-color="#3f58b1"/><stop offset="0.157" stop-color="#3f5ab2"/><stop offset="0.171" stop-color="#4062b7"/><stop offset="0.186" stop-color="#4273c1"/><stop offset="0.2" stop-color="#4194c5"/><stop offset="0.214" stop-color="#4caca7"/><stop offset="0.229" stop-color="#67b584"/><stop offset="0.243" stop-color="#7bbb70"/><stop offset="1" stop-color="#83bd68"/></linearGradient><linearGradient id="h5_6"><stop offset="0" stop-color="#70b77b"/><stop offset="0.0286" stop-color="#6eb77d"/><stop offset="0.0429" stop-color="#62b389"/><stop offset="0.0571" stop-color="#4aabaa"/><stop offset="0.0714" stop-color="#4090c8"/><stop offset="0.0857" stop-color="#426dbf"/><stop offset="0.1" stop-color="#3f5cb3"/><stop offset="0.143" stop-color="#3e54ae"/><stop offset="0.171" stop-color="#3f5cb3"/><stop offset="0.186" stop-color="#426bbe"/><stop offset="0.2" stop-color="#408ac6"/><stop offset="0.214" stop-color="#45a7b2"/><stop offset="0.229" stop-color="#5eb28f"/><stop offset="0.243" stop-color="#72b879"/><stop offset="0.257" stop-color="#7aba71"/><stop offset="1" stop-color="#7bbb70"/></linearGradient><linearGradient id="h5_7"><stop offset="0" stop-color="#6db77e"/><stop offset="0.0286" stop-color="#6bb680"/><stop offset="0.0429" stop-color="#60b38c"/><stop offset="0.0571" stop-color="#48abac"/><stop offset="0.0714" stop-color="#408ec7"/><stop offset="0.0857" stop-color="#426bbe"/><stop offset="0.1" stop-color="#3f5ab2"/><stop offset="0.157" stop-color="#3e54ad"/><stop offset="0.171" stop-color="#3f59b1"/><stop offset="0.186" stop-color="#4167bb"/><stop offset="0.2" stop-color="#4184c5"/><stop offset="0.214" stop-color="#44a2b7"/><stop offset="0.229" stop-color="#59b096"/><stop offset="0.243" stop-color="#6db77e"/><stop offset="0.257" stop-color="#77b974"/><stop offset="1" stop-color="#79ba72"/></linearGradient><linearGradient id="h5_8"><stop offset="0" stop-color="#80bc6b"/><stop offset="0.0286" stop-color="#7ebb6d"/><stop offset="0.0429" stop-color="#72b879"/><stop offset="0.0571" stop-color="#55af9a"/><stop offset="0.0714" stop-color="#429abf"/><stop offset="0.0857" stop-color="#4179c2"/><stop offset="0.1" stop-color="#4164b9"/><stop offset="0.157" stop-color="#405eb4"/><stop offset="0.171" stop-color="#4063b8"/><stop offset="0.186" stop-color="#4270c0"/><stop offset="0.2" stop-color="#408ec7"/><stop offset="0.214" stop-color="#46aaae"/><stop offset="0.229" stop-color="#64b487"/><stop offset="0.243" stop-color="#7ebb6d"/><stop offset="0.257" stop-color="#89be62"/><stop offset="1" stop-color="#8bbf60"/></linearGradient><linearGradient id="h5_9"><stop offset="0" stop-color="#8abf61"/><stop offset="0.0286" stop-color="#89be62"/><stop offset="0.0429" stop-color="#7dbb6e"/><stop offset="0.0571" stop-color="#5db290"/><stop offset="0.0714" stop-color="#44a0b9"/><stop offset="0.0857" stop-color="#4181c4"/><stop offset="0.1" stop-color="#416abd"/><stop offset="0.157" stop-color="#4063b8"/><stop offset="0.171" stop-color="#4167bb"/><stop offset="0.186" stop-color="#4276c2"/><stop offset="0.2" stop-color="#4092c7"/><stop offset="0.214" stop-color="#4aaba9"/><stop offset="0.229" stop-color="#6ab681"/><stop offset="0.243" stop-color="#87be64"/><stop offset="0.257" stop-color="#92c05a"/><stop offset="1" stop-color="#95c057"/></linearGradient><linearGradient id="h5_10"><stop offset="0" stop-color="#7aba71"/><stop offset="0.0286" stop-color="#78ba73"/><stop offset="0.0429" stop-color="#6cb67f"/><stop offset="0.0571" stop-color="#51aea0"/><stop offset="0.0714" stop-color="#4196c3"/><stop offset="0.0857" stop-color="#4274c1"/><stop offset="0.1" stop-color="#4061b7"/><stop offset="0.157" stop-color="#3f5ab2"/><stop offset="0.171" stop-color="#405eb4"/><stop offset="0.186" stop-color="#4169bc"/><stop offset="0.2" stop-color="#4182c5"/><stop offset="0.214" stop-color="#44a1b8"/><stop offset="0.229" stop-color="#5ab195"/><stop offset="0.243" stop-color="#74b977"/><stop offset="0.257" stop-color="#82bd69"/><stop offset="1" stop-color="#87be64"/></linearGradient><linearGradient id="h5_11"><stop offset="0" stop-color="#68b583"/><stop offset="0.0286" stop-color="#66b585"/><stop offset="0.0429" stop-color="#5db290"/><stop offset="0.0571" stop-color="#46a9b0"/><stop offset="0.0714" stop-color="#408ac6"/><stop offset="0.0857" stop-color="#4169bc"/><stop offset="0.1" stop-color="#3f57b0"/><stop offset="0.171" stop-color="#3e53ad"/><stop offset="0.186" stop-color="#405db4"/><stop offset="0.2" stop-color="#4270c1"/><stop offset="0.214" stop-color="#4092c7"/><stop offset="0.229" stop-color="#49abab"/><stop offset="0.243" stop-color="#60b38c"/><stop offset="0.257" stop-color="#6fb77c"/><stop offset="1" stop-color="#74b977"/></linearGradient><linearGradient id="h5_12"><stop offset="0" stop-color="#6cb67f"/><stop offset="0.0286" stop-color="#6ab681"/><stop offset="0.0429" stop-color="#5fb28d"/><stop offset="0.0571" stop-color="#47aaae"/><stop offset="0.0714" stop-color="#408cc7"/><stop offset="0.0857" stop-color="#416abd"/><stop offset="0.1" stop-color="#3f59b1"/><stop offset="0.114" stop-color="#3e52ac"/><stop offset="0.171" stop-color="#3e54ae"/><stop offset="0.186" stop-color="#405db4"/><stop offset="0.2" stop-color="#4270c0"/><stop offset="0.214" stop-color="#4091c8"/><stop offset="0.229" stop-color="#48abac"/><stop offset="0.243" stop-color="#61b38b"/><stop offset="0.257" stop-color="#71b87a"/><stop offset="1" stop-color="#78ba73"/></linearGradient><linearGradient id="h5_13"><stop offset="0" stop-color="#8bbf61"/><stop offset="0.0286" stop-color="#89be62"/><stop offset="0.0429" stop-color="#7dbb6e"/><stop offset="0.0571" stop-color="#5db290"/><stop offset="0.0714" stop-color="#44a0b9"/><stop offset="0.0857" stop-color="#4181c4"/><stop offset="0.1" stop-color="#416abd"/><stop offset="0.157" stop-color="#4062b8"/><stop offset="0.186" stop-color="#426dbf"/><stop offset="0.2" stop-color="#4184c5"/><stop offset="0.214" stop-color="#44a1b8"/><stop offset="0.229" stop-color="#5bb193"/><stop offset="0.243" stop-color="#7cbb6f"/><stop offset="0.257" stop-color="#8ebf5d"/><stop offset="1" stop-color="#95c057"/></linearGradient><linearGradient id="h5_14"><stop offset="0" stop-color="#7aba71"/><stop offset="0.0286" stop-color="#78ba73"/><stop offset="0.0429" stop-color="#6cb67f"/><stop offset="0.0571" stop-color="#51aea0"/><stop offset="0.0714" stop-color="#4196c3"/><stop offset="0.0857" stop-color="#4274c1"/><stop offset="0.1" stop-color="#4061b6"/><stop offset="0.157" stop-color="#3f59b1"/><stop offset="0.186" stop-color="#4062b8"/><stop offset="0.2" stop-color="#4274c1"/><stop offset="0.214" stop-color="#4194c5"/><stop offset="0.229" stop-color="#4baca8"/><stop offset="0.243" stop-color="#67b584"/><stop offset="0.257" stop-color="#7dbb6e"/><stop offset="0.286" stop-color="#87be64"/><stop offset="1" stop-color="#87be64"/></linearGradient><linearGradient id="h5_15"><stop offset="0" stop-color="#63b488"/><stop offset="0.0286" stop-color="#62b38a"/><stop offset="0.0429" stop-color="#59b096"/><stop offset="0.0571" stop-color="#45a5b4"/><stop offset="0.0714" stop-color="#4185c5"/><stop offset="0.0857" stop-color="#4165ba"/><stop offset="0.1" stop-color="#3e54ad"/><stop offset="0.186" stop-color="#3e54ae"/><stop offset="0.2" stop-color="#4063b8"/><stop offset="0.214" stop-color="#417ec4"/><stop offset="0.229" stop-color="#439dbc"/><stop offset="0.243" stop-color="#53ae9e"/><stop offset="0.257" stop-color="#64b487"/><stop offset="0.271" stop-color="#6db77e"/><stop offset="1" stop-color="#6fb77c"/></linearGradient><linearGradient id="h5_16"><stop offset="0" stop-color="#77b974"/><stop offset="0.0286" stop-color="#75b976"/><stop offset="0.0429" stop-color="#69b582"/><stop offset="0.0571" stop-color="#4fada4"/><stop offset="0.0714" stop-color="#4194c5"/><stop offset="0.0857" stop-color="#4271c1"/><stop offset="0.1" stop-color="#405fb5"/><stop offset="0.171" stop-color="#3f58b1"/><stop offset="0.186" stop-color="#405eb5"/><stop offset="0.2" stop-color="#426cbe"/><stop offset="0.214" stop-color="#408ac6"/><stop offset="0.229" stop-color="#45a6b3"/><stop offset="0.243" stop-color="#5eb28f"/><stop offset="0.257" stop-color="#76b975"/><stop offset="0.271" stop-color="#81bc6a"/><stop offset="1" stop-color="#84bd67"/></linearGradient><linearGradient id="h5_17"><stop offset="0" stop-color="#6ab681"/><stop offset="0.0286" stop-color="#68b583"/><stop offset="0.0429" stop-color="#5eb28f"/><stop offset="0.0571" stop-color="#46a9b0"/><stop offset="0.0714" stop-color="#408bc7"/><stop offset="0.0857" stop-color="#4169bc"/><stop offset="0.1" stop-color="#3f58b0"/><stop offset="0.171" stop-color="#3e52ac"/><stop offset="0.186" stop-color="#3f56af"/><stop offset="0.2" stop-color="#4063b8"/><stop offset="0.214" stop-color="#417cc3"/><stop offset="0.229" stop-color="#439bbe"/><stop offset="0.243" stop-color="#52ae9f"/><stop offset="0.257" stop-color="#67b584"/><stop offset="0.271" stop-color="#74b877"/><stop offset="1" stop-color="#77b974"/></linearGradient><linearGradient id="h5_18"><stop offset="0" stop-color="#71b87a"/><stop offset="0.0286" stop-color="#6fb77c"/><stop offset="0.0429" stop-color="#63b489"/><stop offset="0.0571" stop-color="#4aabaa"/><stop offset="0.0714" stop-color="#4090c8"/><stop offset="0.0857" stop-color="#426cbf"/><stop offset="0.1" stop-color="#3f5bb3"/><stop offset="0.171" stop-color="#3e54ae"/><stop offset="0.2" stop-color="#4164b9"/><stop offset="0.214" stop-color="#417dc3"/><stop offset="0.229" stop-color="#439cbd"/><stop offset="0.243" stop-color="#54af9d"/><stop offset="0.257" stop-color="#6bb680"/><stop offset="0.271" stop-color="#7aba71"/><stop offset="1" stop-color="#7ebb6d"/></linearGradient><linearGradient id="h5_19"><stop offset="0" stop-color="#72b879"/><stop offset="0.0286" stop-color="#70b87b"/><stop offset="0.0429" stop-color="#64b487"/><stop offset="0.0571" stop-color="#4baca8"/><stop offset="0.0714" stop-color="#4091c8"/><stop offset="0.0857" stop-color="#426dc0"/><stop offset="0.1" stop-color="#3f5cb3"/><stop offset="0.171" stop-color="#3e55ae"/><stop offset="0.186" stop-color="#3f59b1"/><stop offset="0.2" stop-color="#4164b9"/><stop offset="0.214" stop-color="#417bc3"/><stop offset="0.229" stop-color="#429abf"/><stop offset="0.243" stop-color="#52ae9f"/><stop offset="0.257" stop-color="#6ab681"/><stop offset="0.271" stop-color="#7bba70"/><stop offset="1" stop-color="#80bc6b"/></linearGradient><linearGradient id="h5_20"><stop offset="0" stop-color="#70b77b"/><stop offset="0.0286" stop-color="#6eb77d"/><stop offset="0.0429" stop-color="#62b389"/><stop offset="0.0571" stop-color="#49abab"/><stop offset="0.0714" stop-color="#408fc8"/><stop offset="0.0857" stop-color="#426cbf"/><stop offset="0.1" stop-color="#3f5bb2"/><stop offset="0.171" stop-color="#3e53ad"/><stop offset="0.2" stop-color="#4061b6"/><stop offset="0.214" stop-color="#4275c2"/><stop offset="0.229" stop-color="#4195c4"/><stop offset="0.243" stop-color="#4daca6"/><stop offset="0.257" stop-color="#65b486"/><stop offset="0.271" stop-color="#77b974"/><stop offset="1" stop-color="#7dbb6e"/></linearGradient><linearGradient id="h5_21"><stop offset="0" stop-color="#80bc6b"/><stop offset="0.0286" stop-color="#7dbb6e"/><stop offset="0.0429" stop-color="#71b87a"/><stop offset="0.0571" stop-color="#54af9c"/><stop offset="0.0714" stop-color="#4299c0"/><stop offset="0.0857" stop-color="#4177c2"/><stop offset="0.1" stop-color="#4063b8"/><stop offset="0.186" stop-color="#405eb5"/><stop offset="0.2" stop-color="#4167bb"/><stop offset="0.214" stop-color="#417dc3"/><stop offset="0.229" stop-color="#439cbd"/><stop offset="0.243" stop-color="#54af9c"/><stop offset="0.257" stop-color="#71b87a"/><stop offset="0.271" stop-color="#85be66"/><stop offset="1" stop-color="#8cbf5f"/></linearGradient><linearGradient id="h5_22"><stop offset="0" stop-color="#78ba73"/><stop offset="0.0286" stop-color="#76b975"/><stop offset="0.0429" stop-color="#6ab681"/><stop offset="0.0571" stop-color="#4fada3"/><stop offset="0.0714" stop-color="#4194c5"/><stop offset="0.0857" stop-color="#4271c1"/><stop offset="0.1" stop-color="#405fb5"/><stop offset="0.186" stop-color="#3f5ab2"/><stop offset="0.2" stop-color="#4062b7"/><stop offset="0.214" stop-color="#4274c1"/><stop offset="0.229" stop-color="#4194c5"/><stop offset="0.243" stop-color="#4baca8"/><stop offset="0.257" stop-color="#66b585"/><stop offset="0.271" stop-color="#7cbb6f"/><stop offset="0.3" stop-color="#86be65"/><stop offset="1" stop-color="#86be65"/></linearGradient><linearGradient id="h5_23"><stop offset="0" stop-color="#72b879"/><stop offset="0.0286" stop-color="#70b77b"/><stop offset="0.0429" stop-color="#63b488"/><stop offset="0.0571" stop-color="#4aaba9"/><stop offset="0.0714" stop-color="#4090c8"/><stop offset="0.0857" stop-color="#426dbf"/><stop offset="0.1" stop-color="#3f5bb3"/><stop offset="0.186" stop-color="#3f56af"/><stop offset="0.2" stop-color="#405db4"/><stop offset="0.214" stop-color="#426dbf"/><stop offset="0.229" stop-color="#408cc7"/><stop offset="0.243" stop-color="#45a8b1"/><stop offset="0.257" stop-color="#5fb28e"/><stop offset="0.271" stop-color="#75b976"/><stop offset="0.286" stop-color="#7ebb6d"/><stop offset="1" stop-color="#80bc6b"/></linearGradient><linearGradient id="h5_24"><stop offset="0" stop-color="#7ebb6d"/><stop offset="0.0286" stop-color="#7cbb6f"/><stop offset="0.0429" stop-color="#70b77b"/><stop offset="0.0571" stop-color="#53ae9d"/><stop offset="0.0714" stop-color="#4298c1"/><stop offset="0.0857" stop-color="#4276c2"/><stop offset="0.1" stop-color="#4062b7"/><stop offset="0.186" stop-color="#3f5cb3"/><stop offset="0.2" stop-color="#4062b8"/><stop offset="0.214" stop-color="#4272c1"/><stop offset="0.229" stop-color="#4091c8"/><stop offset="0.243" stop-color="#48abac"/><stop offset="0.257" stop-color="#65b486"/><stop offset="0.271" stop-color="#7fbc6c"/><stop offset="0.286" stop-color="#8abe61"/><stop offset="1" stop-color="#8dbf5f"/></linearGradient><linearGradient id="h5_25"><stop offset="0" stop-color="#84bd67"/><stop offset="0.0286" stop-color="#81bc6a"/><stop offset="0.0429" stop-color="#75b976"/><stop offset="0.0571" stop-color="#57b099"/><stop offset="0.0714" stop-color="#429bbe"/><stop offset="0.0857" stop-color="#417ac3"/><stop offset="0.1" stop-color="#4165b9"/><stop offset="0.186" stop-color="#405eb5"/><stop offset="0.2" stop-color="#4164b9"/><stop offset="0.214" stop-color="#4273c1"/><stop offset="0.229" stop-color="#4091c8"/><stop offset="0.243" stop-color="#49abac"/><stop offset="0.257" stop-color="#67b584"/><stop offset="0.271" stop-color="#83bd68"/><stop offset="0.286" stop-color="#8ebf5d"/><stop offset="1" stop-color="#93c059"/></linearGradient><linearGradient id="h5_26"><stop offset="0" stop-color="#65b486"/><stop offset="0.0286" stop-color="#63b488"/><stop offset="0.0429" stop-color="#5bb194"/><stop offset="0.0571" stop-color="#45a6b3"/><stop offset="0.0714" stop-color="#4186c6"/><stop offset="0.0857" stop-color="#4166ba"/><stop offset="0.1" stop-color="#3e55ae"/><stop offset="0.2" stop-color="#3e53ad"/><stop offset="0.214" stop-color="#405fb6"/><stop offset="0.229" stop-color="#4276c2"/><stop offset="0.243" stop-color="#4197c2"/><stop offset="0.257" stop-color="#4daca5"/><stop offset="0.271" stop-color="#63b488"/><stop offset="0.286" stop-color="#71b87a"/><stop offset="1" stop-color="#78ba73"/></linearGradient><linearGradient id="h5_27"><stop offset="0" stop-color="#77b974"/><stop offset="0.0286" stop-color="#74b977"/><stop offset="0.0429" stop-color="#68b583"/><stop offset="0.0571" stop-color="#4daca5"/><stop offset="0.0714" stop-color="#4093c6"/><stop offset="0.0857" stop-color="#426fc0"/><stop offset="0.1" stop-color="#405eb4"/><stop offset="0.186" stop-color="#3f57af"/><stop offset="0.2" stop-color="#3f5bb2"/><stop offset="0.214" stop-color="#4167bb"/><stop offset="0.229" stop-color="#417fc4"/><stop offset="0.243" stop-color="#439ebb"/><stop offset="0.257" stop-color="#56af99"/><stop offset="0.271" stop-color="#71b87a"/><stop offset="0.286" stop-color="#82bd69"/><stop offset="1" stop-color="#8bbf60"/></linearGradient><linearGradient id="h5_28"><stop offset="0" stop-color="#6eb77d"/><stop offset="0.0286" stop-color="#6cb67f"/><stop offset="0.0429" stop-color="#60b38c"/><stop offset="0.0571" stop-color="#47aaad"/><stop offset="0.0714" stop-color="#408cc7"/><stop offset="0.0857" stop-color="#416abd"/><stop offset="0.1" stop-color="#3f59b1"/><stop offset="0.114" stop-color="#3e52ac"/><stop offset="0.186" stop-color="#3e52ac"/><stop offset="0.214" stop-color="#4060b6"/><stop offset="0.229" stop-color="#4275c2"/><stop offset="0.243" stop-color="#4196c3"/><stop offset="0.257" stop-color="#4daca6"/><stop offset="0.271" stop-color="#66b585"/><stop offset="0.286" stop-color="#79ba72"/><stop offset="1" stop-color="#85be66"/></linearGradient><linearGradient id="h5_29"><stop offset="0" stop-color="#78ba73"/><stop offset="0.0286" stop-color="#76b975"/><stop offset="0.0429" stop-color="#69b582"/><stop offset="0.0571" stop-color="#4eada4"/><stop offset="0.0714" stop-color="#4193c6"/><stop offset="0.0857" stop-color="#4270c0"/><stop offset="0.1" stop-color="#405eb5"/><stop offset="0.186" stop-color="#3f57b0"/><stop offset="0.2" stop-color="#3f5ab2"/><stop offset="0.214" stop-color="#4164b9"/><stop offset="0.229" stop-color="#4179c2"/><stop offset="0.243" stop-color="#4298c1"/><stop offset="0.257" stop-color="#51aea1"/><stop offset="0.271" stop-color="#6db77e"/><stop offset="0.286" stop-color="#82bc69"/><stop offset="1" stop-color="#90c05b"/></linearGradient><linearGradient id="h5_30"><stop offset="0" stop-color="#6ab681"/><stop offset="0.0286" stop-color="#68b583"/><stop offset="0.0429" stop-color="#5eb28f"/><stop offset="0.0571" stop-color="#46a9b0"/><stop offset="0.0714" stop-color="#408ac6"/><stop offset="0.0857" stop-color="#4168bc"/><stop offset="0.1" stop-color="#3f57b0"/><stop offset="0.2" stop-color="#3e52ac"/><stop offset="0.214" stop-color="#3f5bb2"/><stop offset="0.229" stop-color="#426cbe"/><stop offset="0.243" stop-color="#408cc7"/><stop offset="0.257" stop-color="#45a8b1"/><stop offset="0.271" stop-color="#5eb28e"/><stop offset="0.286" stop-color="#73b878"/><stop offset="0.3" stop-color="#7cbb6f"/><stop offset="1" stop-color="#87be64"/></linearGradient><linearGradient id="h5_31"><stop offset="0" stop-color="#7bba70"/><stop offset="0.0286" stop-color="#78ba73"/><stop offset="0.0429" stop-color="#6cb67f"/><stop offset="0.0571" stop-color="#50ada2"/><stop offset="0.0714" stop-color="#4195c4"/><stop offset="0.0857" stop-color="#4272c1"/><stop offset="0.1" stop-color="#405fb6"/><stop offset="0.2" stop-color="#3f5ab2"/><stop offset="0.214" stop-color="#4062b7"/><stop offset="0.229" stop-color="#4274c1"/><stop offset="0.243" stop-color="#4193c6"/><stop offset="0.257" stop-color="#4baca8"/><stop offset="0.271" stop-color="#69b582"/><stop offset="0.286" stop-color="#82bd69"/><stop offset="0.3" stop-color="#8cbf60"/><stop offset="1" stop-color="#97c155"/></linearGradient><linearGradient id="h5_32"><stop offset="0" stop-color="#7aba71"/><stop offset="0.0286" stop-color="#78ba73"/><stop offset="0.0429" stop-color="#6bb680"/><stop offset="0.0571" stop-color="#50ada2"/><stop offset="0.0714" stop-color="#4194c5"/><stop offset="0.0857" stop-color="#4271c1"/><stop offset="0.1" stop-color="#405fb5"/><stop offset="0.2" stop-color="#3f59b1"/><stop offset="0.214" stop-color="#4060b6"/><stop offset="0.229" stop-color="#4270c0"/><stop offset="0.243" stop-color="#4090c8"/><stop offset="0.257" stop-color="#47aaad"/><stop offset="0.271" stop-color="#64b487"/><stop offset="0.286" stop-color="#80bc6b"/><stop offset="0.3" stop-color="#8bbf60"/><stop offset="1" stop-color="#9ac153"/></linearGradient><linearGradient id="h5_33"><stop offset="0" stop-color="#77b974"/><stop offset="0.0286" stop-color="#75b976"/><stop offset="0.0429" stop-color="#68b583"/><stop offset="0.0571" stop-color="#4daca5"/><stop offset="0.0714" stop-color="#4092c7"/><stop offset="0.0857" stop-color="#426fc0"/><stop offset="0.1" stop-color="#405db4"/><stop offset="0.2" stop-color="#3f57b0"/><stop offset="0.214" stop-color="#405db4"/><stop offset="0.229" stop-color="#426bbe"/><stop offset="0.243" stop-color="#4089c6"/><stop offset="0.257" stop-color="#45a6b3"/><stop offset="0.271" stop-color="#5fb28d"/><stop offset="0.286" stop-color="#7aba71"/><stop offset="0.3" stop-color="#88be63"/><stop offset="1" stop-color="#99c153"/></linearGradient><linearGradient id="h5_34"><stop offset="0" stop-color="#6eb77d"/><stop offset="0.0286" stop-color="#6cb67f"/><stop offset="0.0429" stop-color="#60b38c"/><stop offset="0.0571" stop-color="#47aaae"/><stop offset="0.0714" stop-color="#408cc7"/><stop offset="0.0857" stop-color="#416abd"/><stop offset="0.1" stop-color="#3f59b1"/><stop offset="0.114" stop-color="#3e52ac"/><stop offset="0.2" stop-color="#3e52ac"/><stop offset="0.214" stop-color="#3f57b0"/><stop offset="0.229" stop-color="#4164b9"/><stop offset="0.243" stop-color="#417ec4"/><stop offset="0.257" stop-color="#439dbc"/><stop offset="0.271" stop-color="#56af9a"/><stop offset="0.286" stop-color="#6fb77c"/><stop offset="0.3" stop-color="#7fbc6c"/><stop offset="1" stop-color="#94c058"/></linearGradient><linearGradient id="h5_35"><stop offset="0" stop-color="#76b975"/><stop offset="0.0286" stop-color="#74b977"/><stop offset="0.0429" stop-color="#67b584"/><stop offset="0.0571" stop-color="#4daca6"/><stop offset="0.0714" stop-color="#4092c7"/><stop offset="0.0857" stop-color="#426ec0"/><stop offset="0.1" stop-color="#405db4"/><stop offset="0.2" stop-color="#3f56af"/><stop offset="0.214" stop-color="#3f5bb2"/><stop offset="0.229" stop-color="#4167bb"/><stop offset="0.243" stop-color="#4180c4"/><stop offset="0.257" stop-color="#439fba"/><stop offset="0.271" stop-color="#58b097"/><stop offset="0.286" stop-color="#75b976"/><stop offset="0.3" stop-color="#87be64"/><stop offset="1" stop-color="#9ec24f"/></linearGradient><linearGradient id="h5_36"><stop offset="0" stop-color="#6eb77d"/><stop offset="0.0286" stop-color="#6bb680"/><stop offset="0.0429" stop-color="#60b38c"/><stop offset="0.0571" stop-color="#46aaae"/><stop offset="0.0714" stop-color="#408bc7"/><stop offset="0.0857" stop-color="#416abd"/><stop offset="0.1" stop-color="#3f58b0"/><stop offset="0.2" stop-color="#3e52ac"/><stop offset="0.214" stop-color="#3e55ae"/><stop offset="0.229" stop-color="#4060b6"/><stop offset="0.243" stop-color="#4276c2"/><stop offset="0.257" stop-color="#4197c2"/><stop offset="0.271" stop-color="#4fada3"/><stop offset="0.286" stop-color="#6ab681"/><stop offset="0.3" stop-color="#7dbb6e"/><stop offset="1" stop-color="#99c154"/></linearGradient><linearGradient id="h5_37"><stop offset="0" stop-color="#6bb680"/><stop offset="0.0286" stop-color="#68b583"/><stop offset="0.0429" stop-color="#5eb28f"/><stop offset="0.0571" stop-color="#46a9b0"/><stop offset="0.0714" stop-color="#4089c6"/><stop offset="0.0857" stop-color="#4168bc"/><stop offset="0.1" stop-color="#3f57af"/><stop offset="0.214" stop-color="#3e53ad"/><stop offset="0.229" stop-color="#405db4"/><stop offset="0.243" stop-color="#4270c0"/><stop offset="0.257" stop-color="#4092c7"/><stop offset="0.271" stop-color="#49abab"/><stop offset="0.286" stop-color="#64b488"/><stop offset="0.3" stop-color="#79ba72"/><stop offset="0.314" stop-color="#82bc69"/><stop offset="1" stop-color="#98c154"/></linearGradient><linearGradient id="h5_38"><stop offset="0" stop-color="#7ebb6d"/><stop offset="0.0286" stop-color="#7cbb6f"/><stop offset="0.0429" stop-color="#6fb77c"/><stop offset="0.0571" stop-color="#52ae9f"/><stop offset="0.0714" stop-color="#4196c3"/><stop offset="0.0857" stop-color="#4274c1"/><stop offset="0.1" stop-color="#4061b7"/><stop offset="0.214" stop-color="#3f5cb3"/><stop offset="0.229" stop-color="#4166ba"/><stop offset="0.243" stop-color="#417bc3"/><stop offset="0.257" stop-color="#429abf"/><stop offset="0.271" stop-color="#54af9d"/><stop offset="0.286" stop-color="#73b878"/><stop offset="0.3" stop-color="#8bbf60"/><stop offset="0.314" stop-color="#93c059"/><stop offset="1" stop-color="#abc345"/></linearGradient><linearGradient id="h5_39"><stop offset="0" stop-color="#6eb77d"/><stop offset="0.0286" stop-color="#6cb67f"/><stop offset="0.0429" stop-color="#60b38c"/><stop offset="0.0571" stop-color="#46aaae"/><stop offset="0.0714" stop-color="#408bc7"/><stop offset="0.0857" stop-color="#4169bd"/><stop offset="0.1" stop-color="#3f58b0"/><stop offset="0.214" stop-color="#3e53ad"/><stop offset="0.229" stop-color="#3f5cb3"/><stop offset="0.243" stop-color="#426dbf"/><stop offset="0.257" stop-color="#408dc7"/><stop offset="0.271" stop-color="#46a9b0"/><stop offset="0.286" stop-color="#61b38b"/><stop offset="0.3" stop-color="#7aba71"/><stop offset="0.314" stop-color="#85bd66"/><stop offset="1" stop-color="#9ec24f"/></linearGradient><linearGradient id="h5_40"><stop offset="0" stop-color="#8abe62"/><stop offset="0.0286" stop-color="#88be63"/><stop offset="0.0429" stop-color="#7bbb70"/><stop offset="0.0571" stop-color="#5ab194"/><stop offset="0.0714" stop-color="#439dbc"/><stop offset="0.0857" stop-color="#417dc3"/><stop offset="0.1" stop-color="#4167bb"/><stop offset="0.214" stop-color="#4062b7"/><stop offset="0.229" stop-color="#416abd"/><stop offset="0.243" stop-color="#417fc4"/><stop offset="0.257" stop-color="#439cbd"/><stop offset="0.271" stop-color="#56af9a"/><stop offset="0.286" stop-color="#78ba73"/><stop offset="0.3" stop-color="#92c05a"/><stop offset="0.314" stop-color="#9dc250"/><stop offset="1" stop-color="#b7c33e"/></linearGradient><linearGradient id="h5_41"><stop offset="0" stop-color="#85bd66"/><stop offset="0.0286" stop-color="#82bd69"/><stop offset="0.0429" stop-color="#75b976"/><stop offset="0.0571" stop-color="#56af99"/><stop offset="0.0714" stop-color="#429abf"/><stop offset="0.0857" stop-color="#4179c2"/><stop offset="0.1" stop-color="#4164b9"/><stop offset="0.214" stop-color="#405eb5"/><stop offset="0.229" stop-color="#4166ba"/><stop offset="0.243" stop-color="#4178c2"/><stop offset="0.257" stop-color="#4196c3"/><stop offset="0.271" stop-color="#4fada3"/><stop offset="0.286" stop-color="#6fb77c"/><stop offset="0.3" stop-color="#8cbf60"/><stop offset="0.314" stop-color="#97c155"/><stop offset="1" stop-color="#b3c340"/></linearGradient><linearGradient id="h5_42"><stop offset="0" stop-color="#64b488"/><stop offset="0.0286" stop-color="#62b38a"/><stop offset="0.0429" stop-color="#59b096"/><stop offset="0.0571" stop-color="#45a4b5"/><stop offset="0.0714" stop-color="#4183c5"/><stop offset="0.0857" stop-color="#4164b9"/><stop offset="0.1" stop-color="#3e52ac"/><stop offset="0.229" stop-color="#3e53ad"/><stop offset="0.243" stop-color="#4061b7"/><stop offset="0.257" stop-color="#417bc3"/><stop offset="0.271" stop-color="#429bbe"/><stop offset="0.286" stop-color="#52ae9f"/><stop offset="0.3" stop-color="#69b582"/><stop offset="0.314" stop-color="#78ba73"/><stop offset="1" stop-color="#96c156"/></linearGradient><linearGradient id="h5_43"><stop offset="0" stop-color="#7fbc6c"/><stop offset="0.0286" stop-color="#7dbb6e"/><stop offset="0.0429" stop-color="#70b77b"/><stop offset="0.0571" stop-color="#53ae9e"/><stop offset="0.0714" stop-color="#4197c2"/><stop offset="0.0857" stop-color="#4274c1"/><stop offset="0.1" stop-color="#4061b7"/><stop offset="0.214" stop-color="#3f5bb2"/><stop offset="0.229" stop-color="#4061b7"/><stop offset="0.243" stop-color="#426fc0"/><stop offset="0.257" stop-color="#408dc7"/><stop offset="0.271" stop-color="#46a9b0"/><stop offset="0.286" stop-color="#63b488"/><stop offset="0.3" stop-color="#82bd69"/><stop offset="0.314" stop-color="#91c05a"/><stop offset="1" stop-color="#aec343"/></linearGradient><linearGradient id="h5_44"><stop offset="0" stop-color="#6fb77c"/><stop offset="0.0286" stop-color="#6db67e"/><stop offset="0.0429" stop-color="#61b38b"/><stop offset="0.0571" stop-color="#47aaae"/><stop offset="0.0714" stop-color="#408bc7"/><stop offset="0.0857" stop-color="#416abd"/><stop offset="0.1" stop-color="#3f58b0"/><stop offset="0.214" stop-color="#3e52ac"/><stop offset="0.229" stop-color="#3f57b0"/><stop offset="0.243" stop-color="#4164b9"/><stop offset="0.257" stop-color="#417dc3"/><stop offset="0.271" stop-color="#439cbd"/><stop offset="0.286" stop-color="#54af9c"/><stop offset="0.3" stop-color="#6fb77c"/><stop offset="0.314" stop-color="#81bc6a"/><stop offset="1" stop-color="#a0c24d"/></linearGradient><linearGradient id="h5_45"><stop offset="0" stop-color="#7dbb6e"/><stop offset="0.0286" stop-color="#7bba70"/><stop offset="0.0429" stop-color="#6db77e"/><stop offset="0.0571" stop-color="#51aea1"/><stop offset="0.0714" stop-color="#4195c4"/><stop offset="0.0857" stop-color="#4272c1"/><stop offset="0.1" stop-color="#4060b6"/><stop offset="0.214" stop-color="#3f59b1"/><stop offset="0.229" stop-color="#405eb4"/><stop offset="0.243" stop-color="#416abd"/><stop offset="0.257" stop-color="#4185c5"/><stop offset="0.271" stop-color="#44a2b7"/><stop offset="0.286" stop-color="#5cb192"/><stop offset="0.3" stop-color="#7bba70"/><stop offset="0.314" stop-color="#8dbf5e"/><stop offset="1" stop-color="#acc344"/></linearGradient><linearGradient id="h5_46"><stop offset="0" stop-color="#7dbb6e"/><stop offset="0.0286" stop-color="#7bbb70"/><stop offset="0.0429" stop-color="#6eb77d"/><stop offset="0.0571" stop-color="#51aea1"/><stop offset="0.0714" stop-color="#4195c4"/><stop offset="0.0857" stop-color="#4272c1"/><stop offset="0.1" stop-color="#4060b6"/><stop offset="0.214" stop-color="#3f59b1"/><stop offset="0.229" stop-color="#405db4"/><stop offset="0.243" stop-color="#4169bc"/><stop offset="0.257" stop-color="#4182c4"/><stop offset="0.271" stop-color="#439fba"/><stop offset="0.286" stop-color="#59b096"/><stop offset="0.3" stop-color="#78ba73"/><stop offset="0.314" stop-color="#8cbf5f"/><stop offset="1" stop-color="#acc344"/></linearGradient><linearGradient id="h5_47"><stop offset="0" stop-color="#64b487"/><stop offset="0.0286" stop-color="#63b489"/><stop offset="0.0429" stop-color="#59b095"/><stop offset="0.0571" stop-color="#45a4b5"/><stop offset="0.0714" stop-color="#4183c5"/><stop offset="0.0857" stop-color="#4164b9"/><stop offset="0.1" stop-color="#3e52ac"/><stop offset="0.229" stop-color="#3e52ac"/><stop offset="0.243" stop-color="#3f5ab2"/><stop offset="0.257" stop-color="#426cbf"/><stop offset="0.271" stop-color="#408dc7"/><stop offset="0.286" stop-color="#46a9b0"/><stop offset="0.3" stop-color="#5eb28e"/><stop offset="0.314" stop-color="#73b878"/><stop offset="0.329" stop-color="#7cbb6f"/><stop offset="1" stop-color="#97c155"/></linearGradient><linearGradient id="h5_48"><stop offset="0" stop-color="#7aba71"/><stop offset="0.0286" stop-color="#78ba73"/><stop offset="0.0429" stop-color="#6bb680"/><stop offset="0.0571" stop-color="#4eada4"/><stop offset="0.0714" stop-color="#4093c6"/><stop offset="0.0857" stop-color="#4270c0"/><stop offset="0.1" stop-color="#405eb4"/><stop offset="0.214" stop-color="#3f57af"/><stop offset="0.229" stop-color="#3f5ab2"/><stop offset="0.243" stop-color="#4164b9"/><stop offset="0.257" stop-color="#4179c3"/><stop offset="0.271" stop-color="#4298c1"/><stop offset="0.286" stop-color="#51aea1"/><stop offset="0.3" stop-color="#6fb77c"/><stop offset="0.314" stop-color="#87be64"/><stop offset="0.343" stop-color="#91c05a"/><stop offset="1" stop-color="#aac345"/></linearGradient><linearGradient id="h5_49"><stop offset="0" stop-color="#7aba71"/><stop offset="0.0286" stop-color="#78ba73"/><stop offset="0.0429" stop-color="#6ab681"/><stop offset="0.0571" stop-color="#4eada4"/><stop offset="0.0714" stop-color="#4093c6"/><stop offset="0.0857" stop-color="#4270c0"/><stop offset="0.1" stop-color="#405eb4"/><stop offset="0.214" stop-color="#3f56af"/><stop offset="0.229" stop-color="#3f59b1"/><stop offset="0.243" stop-color="#4063b8"/><stop offset="0.257" stop-color="#4276c2"/><stop offset="0.271" stop-color="#4196c3"/><stop offset="0.286" stop-color="#4eada5"/><stop offset="0.3" stop-color="#6bb680"/><stop offset="0.314" stop-color="#85bd66"/><stop offset="0.329" stop-color="#8fbf5d"/><stop offset="1" stop-color="#aac345"/></linearGradient><linearGradient id="h5_50"><stop offset="0" stop-color="#89be62"/><stop offset="0.0286" stop-color="#87be64"/><stop offset="0.0429" stop-color="#79ba72"/><stop offset="0.0571" stop-color="#59b096"/><stop offset="0.0714" stop-color="#439cbd"/><stop offset="0.0857" stop-color="#417bc3"/><stop offset="0.1" stop-color="#4166ba"/><stop offset="0.214" stop-color="#405eb5"/><stop offset="0.243" stop-color="#416abd"/><stop offset="0.257" stop-color="#417fc4"/><stop offset="0.271" stop-color="#439cbd"/><stop offset="0.286" stop-color="#55af9b"/><stop offset="0.3" stop-color="#77b974"/><stop offset="0.314" stop-color="#90c05b"/><stop offset="0.329" stop-color="#9bc151"/><stop offset="1" stop-color="#b6c33e"/></linearGradient><linearGradient id="h5_51"><stop offset="0" stop-color="#6fb77c"/><stop offset="0.0286" stop-color="#6db67e"/><stop offset="0.0429" stop-color="#61b38c"/><stop offset="0.0571" stop-color="#46aaaf"/><stop offset="0.0714" stop-color="#408bc7"/><stop offset="0.0857" stop-color="#4169bc"/><stop offset="0.1" stop-color="#3f58b0"/><stop offset="0.229" stop-color="#3e53ac"/><stop offset="0.243" stop-color="#3f5ab2"/><stop offset="0.257" stop-color="#416abd"/><stop offset="0.271" stop-color="#4188c6"/><stop offset="0.286" stop-color="#45a5b4"/><stop offset="0.3" stop-color="#5cb191"/><stop offset="0.314" stop-color="#76b975"/><stop offset="0.329" stop-color="#84bd67"/><stop offset="1" stop-color="#a0c24d"/></linearGradient><linearGradient id="h5_52"><stop offset="0" stop-color="#86be65"/><stop offset="0.0286" stop-color="#84bd67"/><stop offset="0.0429" stop-color="#77b974"/><stop offset="0.0571" stop-color="#57b098"/><stop offset="0.0714" stop-color="#429abf"/><stop offset="0.0857" stop-color="#4179c2"/><stop offset="0.1" stop-color="#4164b9"/><stop offset="0.229" stop-color="#405fb5"/><stop offset="0.243" stop-color="#4166ba"/><stop offset="0.257" stop-color="#4178c2"/><stop offset="0.271" stop-color="#4195c4"/><stop offset="0.286" stop-color="#4daca5"/><stop offset="0.3" stop-color="#6db77e"/><stop offset="0.314" stop-color="#8bbf61"/><stop offset="0.329" stop-color="#98c154"/><stop offset="1" stop-color="#b4c33f"/></linearGradient><linearGradient id="h5_53"><stop offset="0" stop-color="#70b77b"/><stop offset="0.0286" stop-color="#6eb77d"/><stop offset="0.0429" stop-color="#61b38a"/><stop offset="0.0571" stop-color="#47aaae"/><stop offset="0.0714" stop-color="#408cc7"/><stop offset="0.0857" stop-color="#416abd"/><stop offset="0.1" stop-color="#3f58b0"/><stop offset="0.229" stop-color="#3e52ac"/><stop offset="0.243" stop-color="#3f59b1"/><stop offset="0.257" stop-color="#4167bb"/><stop offset="0.271" stop-color="#4182c5"/><stop offset="0.286" stop-color="#44a0b9"/><stop offset="0.3" stop-color="#58b097"/><stop offset="0.314" stop-color="#72b879"/><stop offset="0.329" stop-color="#83bd68"/><stop offset="1" stop-color="#a1c24c"/></linearGradient><linearGradient id="h5_54"><stop offset="0" stop-color="#7aba71"/><stop offset="0.0286" stop-color="#77ba74"/><stop offset="0.0429" stop-color="#6ab681"/><stop offset="0.0571" stop-color="#4eada5"/><stop offset="0.0714" stop-color="#4092c7"/><stop offset="0.0857" stop-color="#426fc0"/><stop offset="0.1" stop-color="#405db4"/><stop offset="0.229" stop-color="#3f57b0"/><stop offset="0.243" stop-color="#405db4"/><stop offset="0.257" stop-color="#426bbe"/><stop offset="0.271" stop-color="#4186c6"/><stop offset="0.286" stop-color="#44a3b6"/><stop offset="0.314" stop-color="#79ba72"/><stop offset="0.329" stop-color="#8bbf60"/><stop offset="1" stop-color="#a9c346"/></linearGradient><linearGradient id="h5_55"><stop offset="0" stop-color="#74b877"/><stop offset="0.0286" stop-color="#71b87a"/><stop offset="0.0429" stop-color="#64b487"/><stop offset="0.0571" stop-color="#49abaa"/><stop offset="0.0714" stop-color="#408ec7"/><stop offset="0.0857" stop-color="#426bbe"/><stop offset="0.1" stop-color="#3f5ab2"/><stop offset="0.229" stop-color="#3e54ad"/><stop offset="0.243" stop-color="#3f59b1"/><stop offset="0.257" stop-color="#4166ba"/><stop offset="0.271" stop-color="#417fc4"/><stop offset="0.286" stop-color="#439dbc"/><stop offset="0.3" stop-color="#55af9b"/><stop offset="0.314" stop-color="#71b87a"/><stop offset="0.329" stop-color="#84bd67"/><stop offset="1" stop-color="#a4c349"/></linearGradient><linearGradient id="h5_56"><stop offset="0" stop-color="#8fbf5d"/><stop offset="0.0286" stop-color="#8dbf5f"/><stop offset="0.0429" stop-color="#80bc6b"/><stop offset="0.0571" stop-color="#5db290"/><stop offset="0.0714" stop-color="#439fba"/><stop offset="0.0857" stop-color="#4180c4"/><stop offset="0.1" stop-color="#4169bc"/><stop offset="0.229" stop-color="#4062b8"/><stop offset="0.243" stop-color="#4167bb"/><stop offset="0.257" stop-color="#4276c2"/><stop offset="0.271" stop-color="#4091c8"/><stop offset="0.286" stop-color="#47aaad"/><stop offset="0.3" stop-color="#67b584"/><stop offset="0.314" stop-color="#8abe62"/><stop offset="0.329" stop-color="#9cc151"/><stop offset="1" stop-color="#bcc33b"/></linearGradient><linearGradient id="h5_57"><stop offset="0" stop-color="#85bd66"/><stop offset="0.0286" stop-color="#83bd68"/><stop offset="0.0429" stop-color="#75b976"/><stop offset="0.0571" stop-color="#56af9a"/><stop offset="0.0714" stop-color="#4299c0"/><stop offset="0.0857" stop-color="#4177c2"/><stop offset="0.1" stop-color="#4063b8"/><stop offset="0.229" stop-color="#3f5cb3"/><stop offset="0.257" stop-color="#426cbf"/><stop offset="0.271" stop-color="#4186c6"/><stop offset="0.286" stop-color="#44a2b7"/><stop offset="0.3" stop-color="#5cb192"/><stop offset="0.314" stop-color="#7cbb6f"/><stop offset="0.329" stop-color="#91c05a"/><stop offset="0.357" stop-color="#9bc151"/><stop offset="1" stop-color="#b3c340"/></linearGradient><linearGradient id="h5_58"><stop offset="0" stop-color="#99c153"/><stop offset="0.0286" stop-color="#97c155"/><stop offset="0.0429" stop-color="#8cbf60"/><stop offset="0.0571" stop-color="#67b584"/><stop offset="0.0714" stop-color="#45a7b2"/><stop offset="0.0857" stop-color="#4089c6"/><stop offset="0.1" stop-color="#4270c0"/><stop offset="0.229" stop-color="#4168bc"/><stop offset="0.243" stop-color="#426cbf"/><stop offset="0.257" stop-color="#417bc3"/><stop offset="0.271" stop-color="#4194c5"/><stop offset="0.286" stop-color="#4aabaa"/><stop offset="0.3" stop-color="#6bb680"/><stop offset="0.314" stop-color="#8fbf5d"/><stop offset="0.329" stop-color="#a3c34a"/><stop offset="0.357" stop-color="#afc343"/><stop offset="1" stop-color="#c6c436"/></linearGradient><linearGradient id="h5_59"><stop offset="0" stop-color="#86be65"/><stop offset="0.0286" stop-color="#84bd67"/><stop offset="0.0429" stop-color="#77b974"/><stop offset="0.0571" stop-color="#57b099"/><stop offset="0.0714" stop-color="#429abf"/><stop offset="0.0857" stop-color="#4178c2"/><stop offset="0.1" stop-color="#4164b9"/><stop offset="0.229" stop-color="#3f5cb3"/><stop offset="0.257" stop-color="#4168bc"/><stop offset="0.271" stop-color="#417ec4"/><stop offset="0.286" stop-color="#429bbe"/><stop offset="0.3" stop-color="#53ae9e"/><stop offset="0.314" stop-color="#73b878"/><stop offset="0.329" stop-color="#8dbf5e"/><stop offset="0.343" stop-color="#98c154"/><stop offset="1" stop-color="#b4c33f"/></linearGradient><linearGradient id="h5_60"><stop offset="0" stop-color="#89be62"/><stop offset="0.0286" stop-color="#87be64"/><stop offset="0.0429" stop-color="#79ba72"/><stop offset="0.0571" stop-color="#58b097"/><stop offset="0.0714" stop-color="#429bbe"/><stop offset="0.0857" stop-color="#417ac3"/><stop offset="0.1" stop-color="#4165ba"/><stop offset="0.243" stop-color="#405fb5"/><stop offset="0.257" stop-color="#4165ba"/><stop offset="0.271" stop-color="#4275c2"/><stop offset="0.286" stop-color="#4091c8"/><stop offset="0.3" stop-color="#47aaad"/><stop offset="0.314" stop-color="#66b585"/><stop offset="0.329" stop-color="#86be65"/><stop offset="0.343" stop-color="#97c155"/><stop offset="1" stop-color="#b6c33e"/></linearGradient><linearGradient id="h5_61"><stop offset="0" stop-color="#89be62"/><stop offset="0.0286" stop-color="#87be64"/><stop offset="0.0429" stop-color="#79ba72"/><stop offset="0.0571" stop-color="#58b097"/><stop offset="0.0714" stop-color="#429bbe"/><stop offset="0.0857" stop-color="#417ac3"/><stop offset="0.1" stop-color="#4165b9"/><stop offset="0.243" stop-color="#405eb5"/><stop offset="0.271" stop-color="#426bbe"/><stop offset="0.286" stop-color="#4183c5"/><stop offset="0.3" stop-color="#439fba"/><stop offset="0.314" stop-color="#57b098"/><stop offset="0.329" stop-color="#78ba73"/><stop offset="0.343" stop-color="#90c05b"/><stop offset="0.357" stop-color="#9bc151"/><stop offset="1" stop-color="#b6c33e"/></linearGradient><linearGradient id="h5_62"><stop offset="0" stop-color="#78ba73"/><stop offset="0.0286" stop-color="#75b976"/><stop offset="0.0429" stop-color="#68b583"/><stop offset="0.0571" stop-color="#4caca7"/><stop offset="0.0714" stop-color="#4090c8"/><stop offset="0.0857" stop-color="#426dbf"/><stop offset="0.1" stop-color="#3f5bb3"/><stop offset="0.257" stop-color="#3f56af"/><stop offset="0.271" stop-color="#3f5cb3"/><stop offset="0.286" stop-color="#416abd"/><stop offset="0.3" stop-color="#4184c5"/><stop offset="0.314" stop-color="#44a0b9"/><stop offset="0.329" stop-color="#57b098"/><stop offset="0.343" stop-color="#72b879"/><stop offset="0.357" stop-color="#86be65"/><stop offset="0.371" stop-color="#8ebf5e"/><stop offset="1" stop-color="#a7c347"/></linearGradient><linearGradient id="h5_63"><stop offset="0" stop-color="#7ebc6d"/><stop offset="0.0286" stop-color="#7cbb6f"/><stop offset="0.0429" stop-color="#6eb77d"/><stop offset="0.0571" stop-color="#50ada1"/><stop offset="0.0714" stop-color="#4194c5"/><stop offset="0.0857" stop-color="#4271c1"/><stop offset="0.1" stop-color="#405fb5"/><stop offset="0.257" stop-color="#3f58b0"/><stop offset="0.286" stop-color="#4165ba"/><stop offset="0.3" stop-color="#4179c3"/><stop offset="0.314" stop-color="#4196c3"/><stop offset="0.329" stop-color="#4baca8"/><stop offset="0.343" stop-color="#67b584"/><stop offset="0.357" stop-color="#82bd69"/><stop offset="0.371" stop-color="#90bf5c"/><stop offset="1" stop-color="#adc343"/></linearGradient><linearGradient id="h5_64"><stop offset="0" stop-color="#8fbf5d"/><stop offset="0.0286" stop-color="#8dbf5f"/><stop offset="0.0429" stop-color="#80bc6b"/><stop offset="0.0571" stop-color="#5db290"/><stop offset="0.0714" stop-color="#439fba"/><stop offset="0.0857" stop-color="#417fc4"/><stop offset="0.1" stop-color="#4168bc"/><stop offset="0.271" stop-color="#4063b8"/><stop offset="0.286" stop-color="#4169bc"/><stop offset="0.3" stop-color="#4179c3"/><stop offset="0.314" stop-color="#4093c6"/><stop offset="0.329" stop-color="#47aaae"/><stop offset="0.357" stop-color="#84bd67"/><stop offset="0.371" stop-color="#98c154"/><stop offset="0.4" stop-color="#a4c349"/><stop offset="1" stop-color="#bcc33b"/></linearGradient><linearGradient id="h5_65"><stop offset="0" stop-color="#7bba70"/><stop offset="0.0286" stop-color="#78ba73"/><stop offset="0.0429" stop-color="#6ab681"/><stop offset="0.0571" stop-color="#4eada5"/><stop offset="0.0714" stop-color="#4092c7"/><stop offset="0.0857" stop-color="#426ec0"/><stop offset="0.1" stop-color="#405db4"/><stop offset="0.271" stop-color="#3f56af"/><stop offset="0.3" stop-color="#4062b7"/><stop offset="0.314" stop-color="#4272c1"/><stop offset="0.329" stop-color="#408ec7"/><stop offset="0.343" stop-color="#45a6b3"/><stop offset="0.371" stop-color="#75b976"/><stop offset="0.386" stop-color="#87be64"/><stop offset="0.414" stop-color="#91c05b"/><stop offset="1" stop-color="#a8c346"/></linearGradient><linearGradient id="h5_66"><stop offset="0" stop-color="#82bd69"/><stop offset="0.0286" stop-color="#80bc6b"/><stop offset="0.0429" stop-color="#72b879"/><stop offset="0.0571" stop-color="#53ae9e"/><stop offset="0.0714" stop-color="#4196c3"/><stop offset="0.0857" stop-color="#4274c1"/><stop offset="0.1" stop-color="#4061b6"/><stop offset="0.286" stop-color="#3f5ab2"/><stop offset="0.314" stop-color="#4168bc"/><stop offset="0.343" stop-color="#4195c4"/><stop offset="0.357" stop-color="#47aaad"/><stop offset="0.386" stop-color="#79ba72"/><stop offset="0.4" stop-color="#89be62"/><stop offset="1" stop-color="#a8c346"/></linearGradient><linearGradient id="h5_67"><stop offset="0" stop-color="#7fbc6c"/><stop offset="0.0286" stop-color="#7dbb6e"/><stop offset="0.0429" stop-color="#6fb77c"/><stop offset="0.0571" stop-color="#51aea0"/><stop offset="0.0714" stop-color="#4195c4"/><stop offset="0.0857" stop-color="#4272c1"/><stop offset="0.1" stop-color="#405fb5"/><stop offset="0.3" stop-color="#3f59b1"/><stop offset="0.329" stop-color="#4169bc"/><stop offset="0.357" stop-color="#4194c5"/><stop offset="0.371" stop-color="#46a9b0"/><stop offset="0.4" stop-color="#71b87a"/><stop offset="0.414" stop-color="#80bc6b"/><stop offset="1" stop-color="#9ec24f"/></linearGradient><linearGradient id="h5_68"><stop offset="0" stop-color="#87be64"/><stop offset="0.0286" stop-color="#85bd66"/><stop offset="0.0429" stop-color="#77b974"/><stop offset="0.0571" stop-color="#57b099"/><stop offset="0.0714" stop-color="#4299c0"/><stop offset="0.0857" stop-color="#4177c2"/><stop offset="0.1" stop-color="#4063b8"/><stop offset="0.314" stop-color="#405eb5"/><stop offset="0.343" stop-color="#426ec0"/><stop offset="0.357" stop-color="#4183c5"/><stop offset="0.371" stop-color="#4299c0"/><stop offset="0.386" stop-color="#49abab"/><stop offset="0.414" stop-color="#73b878"/><stop offset="0.429" stop-color="#81bc6a"/><stop offset="1" stop-color="#9ac152"/></linearGradient><linearGradient id="h5_69"><stop offset="0" stop-color="#7aba71"/><stop offset="0.0286" stop-color="#78ba73"/><stop offset="0.0429" stop-color="#6ab681"/><stop offset="0.0571" stop-color="#4eada5"/><stop offset="0.0714" stop-color="#4092c7"/><stop offset="0.0857" stop-color="#426ec0"/><stop offset="0.1" stop-color="#405db4"/><stop offset="0.329" stop-color="#3f58b0"/><stop offset="0.357" stop-color="#4169bc"/><stop offset="0.386" stop-color="#4092c7"/><stop offset="0.4" stop-color="#45a4b5"/><stop offset="0.429" stop-color="#62b38a"/><stop offset="0.443" stop-color="#6eb77d"/><stop offset="1" stop-color="#84bd67"/></linearGradient><linearGradient id="h5_70"><stop offset="0" stop-color="#79ba72"/><stop offset="0.0286" stop-color="#77b974"/><stop offset="0.0429" stop-color="#6ab681"/><stop offset="0.0571" stop-color="#4fada4"/><stop offset="0.0714" stop-color="#4193c6"/><stop offset="0.0857" stop-color="#4270c0"/><stop offset="0.1" stop-color="#405eb5"/><stop offset="0.329" stop-color="#3f57b0"/><stop offset="0.357" stop-color="#4061b6"/><stop offset="0.371" stop-color="#426bbe"/><stop offset="0.4" stop-color="#4093c6"/><stop offset="0.414" stop-color="#44a4b5"/><stop offset="0.443" stop-color="#5fb28e"/><stop offset="0.471" stop-color="#6fb77c"/><stop offset="1" stop-color="#79ba72"/></linearGradient><linearGradient id="h5_71"><stop offset="0" stop-color="#79ba72"/><stop offset="0.0286" stop-color="#77b974"/><stop offset="0.0429" stop-color="#6bb680"/><stop offset="0.0571" stop-color="#51aea1"/><stop offset="0.0714" stop-color="#4196c3"/><stop offset="0.0857" stop-color="#4274c1"/><stop offset="0.1" stop-color="#4061b6"/><stop offset="0.343" stop-color="#3f5ab2"/><stop offset="0.371" stop-color="#4164b9"/><stop offset="0.386" stop-color="#426ec0"/><stop offset="0.414" stop-color="#4194c5"/><stop offset="0.429" stop-color="#45a4b5"/><stop offset="0.457" stop-color="#5db290"/><stop offset="0.471" stop-color="#67b584"/><stop offset="1" stop-color="#72b879"/></linearGradient><linearGradient id="h5_72"><stop offset="0" stop-color="#73b878"/><stop offset="0.0286" stop-color="#71b87a"/><stop offset="0.0429" stop-color="#66b585"/><stop offset="0.0571" stop-color="#4eada4"/><stop offset="0.0714" stop-color="#4195c4"/><stop offset="0.0857" stop-color="#4272c1"/><stop offset="0.1" stop-color="#4060b6"/><stop offset="0.357" stop-color="#3f59b1"/><stop offset="0.4" stop-color="#426cbf"/><stop offset="0.429" stop-color="#4091c8"/><stop offset="0.457" stop-color="#4aaba9"/><stop offset="0.486" stop-color="#60b38c"/><stop offset="1" stop-color="#67b584"/></linearGradient><linearGradient id="h5_73"><stop offset="0" stop-color="#63b489"/><stop offset="0.0286" stop-color="#62b38a"/><stop offset="0.0429" stop-color="#5bb194"/><stop offset="0.0571" stop-color="#46a9b0"/><stop offset="0.0714" stop-color="#408cc7"/><stop offset="0.0857" stop-color="#416abd"/><stop offset="0.1" stop-color="#3f59b1"/><stop offset="0.371" stop-color="#3e53ad"/><stop offset="0.4" stop-color="#3f5cb3"/><stop offset="0.429" stop-color="#4273c1"/><stop offset="0.457" stop-color="#4196c3"/><stop offset="0.486" stop-color="#4aaba9"/><stop offset="0.514" stop-color="#57b098"/><stop offset="1" stop-color="#59b095"/></linearGradient><linearGradient id="h5_74"><stop offset="0" stop-color="#73b878"/><stop offset="0.0286" stop-color="#72b879"/><stop offset="0.0429" stop-color="#69b582"/><stop offset="0.0571" stop-color="#53ae9e"/><stop offset="0.0714" stop-color="#429abf"/><stop offset="0.0857" stop-color="#4179c2"/><stop offset="0.1" stop-color="#4165b9"/><stop offset="0.114" stop-color="#405eb5"/><stop offset="0.4" stop-color="#4062b7"/><stop offset="0.429" stop-color="#4272c1"/><stop offset="0.457" stop-color="#4093c6"/><stop offset="0.486" stop-color="#49abab"/><stop offset="0.514" stop-color="#5eb28f"/><stop offset="1" stop-color="#65b486"/></linearGradient><linearGradient id="h5_75"><stop offset="0" stop-color="#59b096"/><stop offset="0.0286" stop-color="#58b097"/><stop offset="0.0429" stop-color="#52ae9f"/><stop offset="0.0571" stop-color="#45a4b5"/><stop offset="0.0714" stop-color="#4187c6"/><stop offset="0.0857" stop-color="#4167bb"/><stop offset="0.1" stop-color="#3f56af"/><stop offset="0.414" stop-color="#3e53ad"/><stop offset="0.457" stop-color="#426cbf"/><stop offset="0.486" stop-color="#408cc7"/><stop offset="0.514" stop-color="#44a3b6"/><stop offset="0.543" stop-color="#4baca8"/><stop offset="1" stop-color="#4daca5"/></linearGradient><linearGradient id="h5_76"><stop offset="0" stop-color="#56af99"/><stop offset="0.0286" stop-color="#56af9a"/><stop offset="0.0429" stop-color="#50ada1"/><stop offset="0.0571" stop-color="#44a4b5"/><stop offset="0.0714" stop-color="#4188c6"/><stop offset="0.0857" stop-color="#4168bb"/><stop offset="0.1" stop-color="#3f57af"/><stop offset="0.429" stop-color="#3e54ae"/><stop offset="0.471" stop-color="#426dbf"/><stop offset="0.5" stop-color="#408cc7"/><stop offset="0.529" stop-color="#44a2b7"/><stop offset="0.557" stop-color="#48abac"/><stop offset="1" stop-color="#4aaba9"/></linearGradient>
<filter id="gtex" x="0" y="0" width="1" height="1" color-interpolation-filters="sRGB">
<feTurbulence type="fractalNoise" baseFrequency="0.45" numOctaves="2" seed="3"/>
<feColorMatrix type="matrix" values="1.15 0 0 0 0.09  1.15 0 0 0 0.09  1.15 0 0 0 0.11  0 0 0 0 1"/>
<feGaussianBlur stdDeviation="0.5"/>
</filter>
<filter id="ctex" x="0" y="0" width="1" height="1" color-interpolation-filters="sRGB">
<feTurbulence type="fractalNoise" baseFrequency="0.28" numOctaves="2" seed="7" result="n"/>
<feColorMatrix in="n" type="matrix" values="0 0 0 0 1  0 0 0 0 1  0 0 0 0 1  11 0 0 0 -6.6" result="sp"/>
<feComposite in="sp" in2="SourceAlpha" operator="in" result="sp2"/>
<feMerge><feMergeNode in="SourceGraphic"/><feMergeNode in="sp2"/></feMerge>
</filter>
<filter id="ctex2" x="0" y="0" width="1" height="1" color-interpolation-filters="sRGB">
<feTurbulence type="fractalNoise" baseFrequency="0.4" numOctaves="2" seed="11" result="n"/>
<feColorMatrix in="n" type="matrix" values="0 0 0 0 0  0 0 0 0 0  0 0 0 0 0  -10 0 0 0 5.6" result="m"/>
<feComposite in="SourceGraphic" in2="m" operator="in"/>
</filter>
<filter id="ctex3" x="0" y="0" width="1" height="1" color-interpolation-filters="sRGB">
<feTurbulence type="fractalNoise" baseFrequency="0.4" numOctaves="2" seed="29" result="n"/>
<feColorMatrix in="n" type="matrix" values="0 0 0 0 0  0 0 0 0 0  0 0 0 0 0  -10 0 0 0 5.3" result="m"/>
<feComposite in="SourceGraphic" in2="m" operator="in"/>
</filter>
<filter id="ctex4" x="0" y="0" width="1" height="1" color-interpolation-filters="sRGB">
<feTurbulence type="fractalNoise" baseFrequency="0.5" numOctaves="2" seed="41" result="n"/>
<feColorMatrix in="n" type="matrix" values="0 0 0 0 0  0 0 0 0 0  0 0 0 0 0  -12 0 0 0 6.3" result="m"/>
<feComposite in="SourceGraphic" in2="m" operator="in"/>
</filter>
<filter id="wtex" x="0" y="0" width="1" height="1" color-interpolation-filters="sRGB">
<feTurbulence type="fractalNoise" baseFrequency="0.22" numOctaves="1" seed="21" result="n"/>
<feColorMatrix in="n" type="matrix" values="0 0 0 0 1  0 0 0 0 1  0 0 0 0 1  12 0 0 0 -8.2"/>
</filter>
<clipPath id="cp1"><path d="M563.6 59.0 L673.4 59.0 L674.5 63.6 L673.9 136.5 L674.5 209.3 L672.3 214.0 L565.9 214.0 L562.5 209.3 L563.1 136.5 L562.5 63.6Z"/></clipPath><clipPath id="cp2"><path d="M703.1 59.0 L815.9 59.0 L817.0 63.6 L816.4 136.5 L817.0 209.3 L814.7 214.0 L705.5 214.0 L702.0 209.3 L702.6 136.5 L702.0 63.6Z"/></clipPath><clipPath id="cp3"><path d="M842.6 59.0 L955.4 59.0 L956.5 63.6 L955.9 136.5 L956.5 209.3 L954.2 214.0 L845.0 214.0 L841.5 209.3 L842.1 136.5 L841.5 63.6Z"/></clipPath><clipPath id="cp4"><path d="M563.6 240.0 L673.4 240.0 L674.5 244.7 L673.9 317.5 L674.5 390.4 L672.3 395.0 L565.9 395.0 L562.5 390.4 L563.1 317.5 L562.5 244.7Z"/></clipPath><clipPath id="cp5"><path d="M703.1 240.0 L815.9 240.0 L817.0 244.7 L816.4 317.5 L817.0 390.4 L814.7 395.0 L705.5 395.0 L702.0 390.4 L702.6 317.5 L702.0 244.7Z"/></clipPath><clipPath id="cp6"><path d="M839.1 240.0 L951.9 240.0 L953.0 244.7 L952.4 317.5 L953.0 390.4 L950.7 395.0 L841.5 395.0 L838.0 390.4 L838.6 317.5 L838.0 244.7Z"/></clipPath><clipPath id="cp7"><path d="M563.8 478.0 L673.6 478.0 L674.7 482.6 L674.1 555.5 L674.7 628.4 L672.5 633.0 L566.1 633.0 L562.7 628.4 L563.3 555.5 L562.7 482.6Z"/></clipPath><clipPath id="cp8"><path d="M700.1 478.0 L811.9 478.0 L813.0 482.6 L812.4 555.5 L813.0 628.4 L810.7 633.0 L702.4 633.0 L699.0 628.4 L699.6 555.5 L699.0 482.6Z"/></clipPath><clipPath id="cp9"><path d="M840.1 478.0 L951.9 478.0 L953.0 482.6 L952.4 555.5 L953.0 628.4 L950.7 633.0 L842.4 633.0 L839.0 628.4 L839.6 555.5 L839.0 482.6Z"/></clipPath><clipPath id="cp10"><path d="M567.1 655.0 L679.9 655.0 L681.0 659.6 L680.4 732.5 L681.0 805.4 L678.7 810.0 L569.5 810.0 L566.0 805.4 L566.6 732.5 L566.0 659.6Z"/></clipPath><clipPath id="cp11"><path d="M699.2 655.0 L813.8 655.0 L815.0 659.6 L814.4 732.5 L815.0 805.4 L812.7 810.0 L701.5 810.0 L698.0 805.4 L698.6 732.5 L698.0 659.6Z"/></clipPath><clipPath id="cp12"><path d="M840.1 655.0 L951.9 655.0 L953.0 659.6 L952.4 732.5 L953.0 805.4 L950.7 810.0 L842.4 810.0 L839.0 805.4 L839.6 732.5 L839.0 659.6Z"/></clipPath><clipPath id="cp13"><path d="M581.4 919.7 L591.5 915.8 L647.5 915.0 L658.7 916.6 L671.0 921.2 L676.6 940.0 L680.0 957.1 L676.6 986.8 L674.4 1014.8 L669.9 1025.8 L657.6 1044.5 L655.4 1057.0 L635.2 1061.6 L630.7 1069.4 L621.8 1071.0 L617.3 1063.2 L594.9 1057.0 L585.9 1038.2 L579.2 1022.6 L574.7 997.7 L571.4 964.9 L568.0 946.2 L573.6 933.7 L579.2 924.4Z"/></clipPath><clipPath id="cp14"><path d="M712.3 919.7 L722.3 915.8 L777.8 915.0 L788.9 916.6 L801.1 921.2 L806.7 940.0 L810.0 957.1 L806.7 986.8 L804.5 1014.8 L800.0 1025.8 L787.8 1044.5 L785.6 1057.0 L765.6 1061.6 L761.2 1069.4 L752.3 1071.0 L747.8 1063.2 L725.6 1057.0 L716.8 1038.2 L710.1 1022.6 L705.7 997.7 L702.3 964.9 L699.0 946.2 L704.5 933.7 L710.1 924.4Z"/></clipPath><clipPath id="cp15"><path d="M851.3 919.7 L861.3 915.8 L916.8 915.0 L927.9 916.6 L940.1 921.2 L945.7 940.0 L949.0 957.1 L945.7 986.8 L943.5 1014.8 L939.0 1025.8 L926.8 1044.5 L924.6 1057.0 L904.6 1061.6 L900.2 1069.4 L891.3 1071.0 L886.8 1063.2 L864.6 1057.0 L855.8 1038.2 L849.1 1022.6 L844.7 997.7 L841.3 964.9 L838.0 946.2 L843.5 933.7 L849.1 924.4Z"/></clipPath><clipPath id="cp16"><path d="M528.4 1101.6 L538.5 1097.8 L594.5 1097.0 L605.7 1098.5 L618.0 1103.2 L623.6 1121.6 L627.0 1138.6 L623.6 1167.8 L621.4 1195.6 L616.9 1206.3 L604.6 1224.8 L602.4 1237.1 L582.2 1241.8 L577.7 1249.5 L568.8 1251.0 L564.3 1243.3 L541.9 1237.1 L532.9 1218.7 L526.2 1203.3 L521.7 1178.6 L518.4 1146.3 L515.0 1127.8 L520.6 1115.5 L526.2 1106.2Z"/></clipPath><clipPath id="cp17"><path d="M653.2 1101.6 L663.1 1097.8 L718.1 1097.0 L729.1 1098.5 L741.2 1103.2 L746.7 1121.6 L750.0 1138.6 L746.7 1167.8 L744.5 1195.6 L740.1 1206.3 L728.0 1224.8 L725.8 1237.1 L706.0 1241.8 L701.6 1249.5 L692.8 1251.0 L688.4 1243.3 L666.4 1237.1 L657.6 1218.7 L651.0 1203.3 L646.6 1178.6 L643.3 1146.3 L640.0 1127.8 L645.5 1115.5 L651.0 1106.2Z"/></clipPath><clipPath id="cp18"><path d="M781.3 1100.7 L791.3 1096.8 L846.8 1096.0 L857.9 1097.5 L870.1 1102.2 L875.7 1120.8 L879.0 1137.8 L875.7 1167.3 L873.5 1195.2 L869.0 1206.0 L856.8 1224.7 L854.6 1237.0 L834.6 1241.7 L830.2 1249.5 L821.3 1251.0 L816.8 1243.2 L794.6 1237.0 L785.8 1218.5 L779.1 1203.0 L774.7 1178.2 L771.3 1145.6 L768.0 1127.0 L773.5 1114.6 L779.1 1105.3Z"/></clipPath><clipPath id="cp19"><path d="M908.3 1100.7 L918.3 1096.8 L973.8 1096.0 L984.9 1097.5 L997.1 1102.2 L1002.7 1120.8 L1006.0 1137.8 L1002.7 1167.3 L1000.5 1195.2 L996.0 1206.0 L983.8 1224.7 L981.6 1237.0 L961.6 1241.7 L957.2 1249.5 L948.3 1251.0 L943.8 1243.2 L921.6 1237.0 L912.8 1218.5 L906.1 1203.0 L901.7 1178.2 L898.3 1145.6 L895.0 1127.0 L900.5 1114.6 L906.1 1105.3Z"/></clipPath><clipPath id="cp20"><path d="M368.6 55.0 L481.4 55.0 L482.5 59.6 L481.9 132.5 L482.5 205.3 L480.2 210.0 L370.9 210.0 L367.5 205.3 L368.1 132.5 L367.5 59.6Z"/></clipPath><linearGradient id="lg21" x1="0" y1="0" x2="1" y2="0"><stop offset="0" stop-color="#78c850"/><stop offset="0.2" stop-color="#32b4dc"/><stop offset="0.3" stop-color="#2846be"/><stop offset="0.7" stop-color="#2846be"/><stop offset="0.8" stop-color="#32b4dc"/><stop offset="1" stop-color="#32b4dc"/></linearGradient><linearGradient id="lg22" x1="0" y1="0" x2="1" y2="0"><stop offset="0" stop-color="#dcd228"/><stop offset="0.25" stop-color="#f08c28"/><stop offset="0.5" stop-color="#f08c28"/><stop offset="0.75" stop-color="#e63c1e"/><stop offset="1" stop-color="#f08c28"/></linearGradient><linearGradient id="lg23" x1="0" y1="0" x2="1" y2="0"><stop offset="0" stop-color="#e63c1e"/><stop offset="0.2" stop-color="#78c850"/><stop offset="0.4" stop-color="#2846be"/><stop offset="0.6" stop-color="#f08c28"/><stop offset="0.8" stop-color="#32b4dc"/><stop offset="1" stop-color="#e63c1e"/></linearGradient><clipPath id="cp24"><path d="M368.6 240.0 L481.4 240.0 L482.5 244.7 L481.9 318.0 L482.5 391.3 L480.2 396.0 L370.9 396.0 L367.5 391.3 L368.1 318.0 L367.5 244.7Z"/></clipPath><linearGradient id="lg25" x1="0" y1="0" x2="1" y2="0"><stop offset="0" stop-color="#32b4dc"/><stop offset="0.3" stop-color="#2846be"/><stop offset="0.6" stop-color="#2846be"/><stop offset="0.8" stop-color="#78c850"/><stop offset="1" stop-color="#dcd228"/></linearGradient><linearGradient id="lg26" x1="0" y1="0" x2="1" y2="0"><stop offset="0" stop-color="#f08c28"/><stop offset="1" stop-color="#e63c1e"/></linearGradient><linearGradient id="lg27" x1="0" y1="0" x2="1" y2="0"><stop offset="0" stop-color="#e63c1e"/><stop offset="1" stop-color="#f08c28"/></linearGradient><clipPath id="cp28"><path d="M368.8 480.0 L481.5 480.0 L482.6 484.6 L482.0 557.0 L482.6 629.4 L480.3 634.0 L371.1 634.0 L367.6 629.4 L368.2 557.0 L367.6 484.6Z"/></clipPath><linearGradient id="lg29" x1="0" y1="0" x2="1" y2="0"><stop offset="0" stop-color="#78c850"/><stop offset="0.2" stop-color="#78c850"/><stop offset="0.28" stop-color="#2846be"/><stop offset="0.42" stop-color="#2846be"/><stop offset="0.5" stop-color="#78c850"/><stop offset="0.75" stop-color="#78c850"/><stop offset="0.85" stop-color="#f08c28"/><stop offset="1" stop-color="#dcd228"/></linearGradient><linearGradient id="lg30" x1="0" y1="0" x2="1" y2="0"><stop offset="0" stop-color="#f08c28"/><stop offset="1" stop-color="#e63c1e"/></linearGradient><linearGradient id="lg31" x1="0" y1="0" x2="1" y2="0"><stop offset="0" stop-color="#f08c28"/><stop offset="1" stop-color="#dcd228"/></linearGradient><linearGradient id="lg32" x1="0" y1="0" x2="1" y2="0"><stop offset="0" stop-color="#e63c1e"/><stop offset="0.2" stop-color="#78c850"/><stop offset="0.4" stop-color="#2846be"/><stop offset="0.6" stop-color="#f08c28"/><stop offset="0.8" stop-color="#32b4dc"/><stop offset="1" stop-color="#e63c1e"/></linearGradient><clipPath id="cp33"><path d="M368.8 665.4 L481.5 665.4 L482.6 670.1 L482.0 743.0 L482.6 816.0 L480.3 820.7 L371.1 820.7 L367.6 816.0 L368.2 743.0 L367.6 670.1Z"/></clipPath><linearGradient id="lg34" x1="0" y1="0" x2="1" y2="0"><stop offset="0" stop-color="#78c850"/><stop offset="0.15" stop-color="#32b4dc"/><stop offset="0.4" stop-color="#2846be"/><stop offset="0.7" stop-color="#2846be"/><stop offset="1" stop-color="#32b4dc"/></linearGradient><linearGradient id="lg35" x1="0" y1="0" x2="1" y2="0"><stop offset="0" stop-color="#78c850"/><stop offset="0.2" stop-color="#dcd228"/><stop offset="0.28" stop-color="#e63c1e"/><stop offset="0.7" stop-color="#f08c28"/><stop offset="0.8" stop-color="#dcd228"/><stop offset="1" stop-color="#78c850"/></linearGradient><linearGradient id="lg36" x1="0" y1="0" x2="1" y2="0"><stop offset="0" stop-color="#78c850"/><stop offset="0.5" stop-color="#32b4dc"/><stop offset="1" stop-color="#78c850"/></linearGradient><clipPath id="cp37"><path d="M377.2 916.3 L463.4 916.3 L469.0 933.5 L473.4 958.4 L472.3 989.6 L469.0 1013.0 L463.4 1023.9 L454.6 1038.0 L443.5 1052.0 L426.9 1064.5 L418.1 1072.3 L412.6 1066.1 L394.9 1047.3 L381.6 1033.3 L371.6 1017.7 L369.4 999.0 L363.9 984.9 L362.8 947.5 L367.2 925.7Z"/></clipPath><linearGradient id="lg38" x1="0" y1="0" x2="1" y2="0"><stop offset="0" stop-color="#32b4dc"/><stop offset="0.5" stop-color="#3ca0d2"/><stop offset="1" stop-color="#32b4dc"/></linearGradient><linearGradient id="lg39" x1="0" y1="0" x2="1" y2="0"><stop offset="0" stop-color="#dcd228"/><stop offset="0.25" stop-color="#f08c28"/><stop offset="0.5" stop-color="#e63c1e"/><stop offset="0.75" stop-color="#f08c28"/><stop offset="1" stop-color="#dcd228"/></linearGradient><linearGradient id="lg40" x1="0" y1="0" x2="1" y2="0"><stop offset="0" stop-color="#f08c28"/><stop offset="0.5" stop-color="#78c850"/><stop offset="1" stop-color="#32b4dc"/></linearGradient><clipPath id="cp41"><path d="M377.2 1102.0 L463.4 1102.0 L469.0 1119.3 L473.4 1144.4 L472.3 1175.8 L469.0 1199.3 L463.4 1210.3 L454.6 1224.5 L443.5 1238.6 L426.9 1251.2 L418.1 1259.0 L412.6 1252.7 L394.9 1233.9 L381.6 1219.8 L371.6 1204.0 L369.4 1185.2 L363.9 1171.1 L362.8 1133.4 L367.2 1111.4Z"/></clipPath><linearGradient id="lg42" x1="0" y1="0" x2="1" y2="0"><stop offset="0" stop-color="#32b4dc"/><stop offset="0.4" stop-color="#2846be"/><stop offset="1" stop-color="#32b4dc"/></linearGradient><linearGradient id="lg43" x1="0" y1="0" x2="1" y2="0"><stop offset="0" stop-color="#78c850"/><stop offset="0.4" stop-color="#dcd228"/><stop offset="0.55" stop-color="#f08c28"/><stop offset="1" stop-color="#f08c28"/></linearGradient><linearGradient id="lg44" x1="0" y1="0" x2="1" y2="0"><stop offset="0" stop-color="#f08c28"/><stop offset="0.5" stop-color="#dcd228"/><stop offset="1" stop-color="#f08c28"/></linearGradient></defs>
<rect x="47" y="55" width="259" height="3.6" fill="url(#h0_0)"/><rect x="47" y="58" width="259" height="3.6" fill="url(#h0_1)"/><rect x="47" y="61" width="259" height="3.6" fill="url(#h0_2)"/><rect x="47" y="64" width="259" height="3.6" fill="url(#h0_3)"/><rect x="47" y="67" width="259" height="3.6" fill="url(#h0_4)"/><rect x="47" y="70" width="259" height="3.6" fill="url(#h0_5)"/><rect x="47" y="73" width="259" height="3.6" fill="url(#h0_6)"/><rect x="47" y="76" width="259" height="3.6" fill="url(#h0_7)"/><rect x="47" y="79" width="259" height="3.6" fill="url(#h0_8)"/><rect x="47" y="82" width="259" height="3.6" fill="url(#h0_9)"/><rect x="47" y="85" width="259" height="3.6" fill="url(#h0_10)"/><rect x="47" y="88" width="259" height="3.6" fill="url(#h0_11)"/><rect x="47" y="91" width="259" height="3.6" fill="url(#h0_12)"/><rect x="47" y="94" width="259" height="3.6" fill="url(#h0_13)"/><rect x="47" y="97" width="259" height="3.6" fill="url(#h0_14)"/><rect x="47" y="100" width="259" height="3.6" fill="url(#h0_15)"/><rect x="47" y="103" width="259" height="3.6" fill="url(#h0_16)"/><rect x="47" y="106" width="259" height="3.6" fill="url(#h0_17)"/><rect x="47" y="109" width="259" height="3.6" fill="url(#h0_18)"/><rect x="47" y="112" width="259" height="3.6" fill="url(#h0_19)"/><rect x="47" y="115" width="259" height="3.6" fill="url(#h0_20)"/><rect x="47" y="118" width="259" height="3.6" fill="url(#h0_21)"/><rect x="47" y="121" width="259" height="3.6" fill="url(#h0_22)"/><rect x="47" y="124" width="259" height="3.6" fill="url(#h0_23)"/><rect x="47" y="127" width="259" height="3.6" fill="url(#h0_24)"/><rect x="47" y="130" width="259" height="3.6" fill="url(#h0_25)"/><rect x="47" y="133" width="259" height="3.6" fill="url(#h0_26)"/><rect x="47" y="136" width="259" height="3.6" fill="url(#h0_27)"/><rect x="47" y="139" width="259" height="3.6" fill="url(#h0_28)"/><rect x="47" y="142" width="259" height="3.6" fill="url(#h0_29)"/><rect x="47" y="145" width="259" height="3.6" fill="url(#h0_30)"/><rect x="47" y="148" width="259" height="3.6" fill="url(#h0_31)"/><rect x="47" y="151" width="259" height="3.6" fill="url(#h0_32)"/><rect x="47" y="154" width="259" height="3.6" fill="url(#h0_33)"/><rect x="47" y="157" width="259" height="3.6" fill="url(#h0_34)"/><rect x="47" y="160" width="259" height="3.6" fill="url(#h0_35)"/><rect x="47" y="163" width="259" height="3.6" fill="url(#h0_36)"/><rect x="47" y="166" width="259" height="3.6" fill="url(#h0_37)"/><rect x="47" y="169" width="259" height="3.6" fill="url(#h0_38)"/><rect x="47" y="172" width="259" height="3.6" fill="url(#h0_39)"/><rect x="47" y="175" width="259" height="3.6" fill="url(#h0_40)"/><rect x="47" y="178" width="259" height="3.6" fill="url(#h0_41)"/><rect x="47" y="181" width="259" height="3.6" fill="url(#h0_42)"/><rect x="47" y="184" width="259" height="3.6" fill="url(#h0_43)"/><rect x="47" y="187" width="259" height="3.6" fill="url(#h0_44)"/><rect x="47" y="190" width="259" height="3.6" fill="url(#h0_45)"/><rect x="47" y="193" width="259" height="3.6" fill="url(#h0_46)"/><rect x="47" y="196" width="259" height="3.6" fill="url(#h0_47)"/><rect x="47" y="199" width="259" height="3.6" fill="url(#h0_48)"/><rect x="47" y="202" width="259" height="3.6" fill="url(#h0_49)"/><rect x="47" y="205" width="259" height="3.6" fill="url(#h0_50)"/><rect x="47" y="208" width="259" height="2" fill="url(#h0_51)"/>
<rect x="47" y="55" width="259" height="155" fill="none" stroke="#000" stroke-width="2.4"/>
<rect x="47" y="240" width="259" height="3.6" fill="url(#h1_0)"/><rect x="47" y="243" width="259" height="3.6" fill="url(#h1_1)"/><rect x="47" y="246" width="259" height="3.6" fill="url(#h1_2)"/><rect x="47" y="249" width="259" height="3.6" fill="url(#h1_3)"/><rect x="47" y="252" width="259" height="3.6" fill="url(#h1_4)"/><rect x="47" y="255" width="259" height="3.6" fill="url(#h1_5)"/><rect x="47" y="258" width="259" height="3.6" fill="url(#h1_6)"/><rect x="47" y="261" width="259" height="3.6" fill="url(#h1_7)"/><rect x="47" y="264" width="259" height="3.6" fill="url(#h1_8)"/><rect x="47" y="267" width="259" height="3.6" fill="url(#h1_9)"/><rect x="47" y="270" width="259" height="3.6" fill="url(#h1_10)"/><rect x="47" y="273" width="259" height="3.6" fill="url(#h1_11)"/><rect x="47" y="276" width="259" height="3.6" fill="url(#h1_12)"/><rect x="47" y="279" width="259" height="3.6" fill="url(#h1_13)"/><rect x="47" y="282" width="259" height="3.6" fill="url(#h1_14)"/><rect x="47" y="285" width="259" height="3.6" fill="url(#h1_15)"/><rect x="47" y="288" width="259" height="3.6" fill="url(#h1_16)"/><rect x="47" y="291" width="259" height="3.6" fill="url(#h1_17)"/><rect x="47" y="294" width="259" height="3.6" fill="url(#h1_18)"/><rect x="47" y="297" width="259" height="3.6" fill="url(#h1_19)"/><rect x="47" y="300" width="259" height="3.6" fill="url(#h1_20)"/><rect x="47" y="303" width="259" height="3.6" fill="url(#h1_21)"/><rect x="47" y="306" width="259" height="3.6" fill="url(#h1_22)"/><rect x="47" y="309" width="259" height="3.6" fill="url(#h1_23)"/><rect x="47" y="312" width="259" height="3.6" fill="url(#h1_24)"/><rect x="47" y="315" width="259" height="3.6" fill="url(#h1_25)"/><rect x="47" y="318" width="259" height="3.6" fill="url(#h1_26)"/><rect x="47" y="321" width="259" height="3.6" fill="url(#h1_27)"/><rect x="47" y="324" width="259" height="3.6" fill="url(#h1_28)"/><rect x="47" y="327" width="259" height="3.6" fill="url(#h1_29)"/><rect x="47" y="330" width="259" height="3.6" fill="url(#h1_30)"/><rect x="47" y="333" width="259" height="3.6" fill="url(#h1_31)"/><rect x="47" y="336" width="259" height="3.6" fill="url(#h1_32)"/><rect x="47" y="339" width="259" height="3.6" fill="url(#h1_33)"/><rect x="47" y="342" width="259" height="3.6" fill="url(#h1_34)"/><rect x="47" y="345" width="259" height="3.6" fill="url(#h1_35)"/><rect x="47" y="348" width="259" height="3.6" fill="url(#h1_36)"/><rect x="47" y="351" width="259" height="3.6" fill="url(#h1_37)"/><rect x="47" y="354" width="259" height="3.6" fill="url(#h1_38)"/><rect x="47" y="357" width="259" height="3.6" fill="url(#h1_39)"/><rect x="47" y="360" width="259" height="3.6" fill="url(#h1_40)"/><rect x="47" y="363" width="259" height="3.6" fill="url(#h1_41)"/><rect x="47" y="366" width="259" height="3.6" fill="url(#h1_42)"/><rect x="47" y="369" width="259" height="3.6" fill="url(#h1_43)"/><rect x="47" y="372" width="259" height="3.6" fill="url(#h1_44)"/><rect x="47" y="375" width="259" height="3.6" fill="url(#h1_45)"/><rect x="47" y="378" width="259" height="3.6" fill="url(#h1_46)"/><rect x="47" y="381" width="259" height="3.6" fill="url(#h1_47)"/><rect x="47" y="384" width="259" height="3.6" fill="url(#h1_48)"/><rect x="47" y="387" width="259" height="3.6" fill="url(#h1_49)"/><rect x="47" y="390" width="259" height="3.6" fill="url(#h1_50)"/><rect x="47" y="393" width="259" height="2" fill="url(#h1_51)"/>
<rect x="47" y="240" width="259" height="155" fill="none" stroke="#000" stroke-width="2.4"/>
<rect x="47" y="480" width="259" height="3.6" fill="url(#h2_0)"/><rect x="47" y="483" width="259" height="3.6" fill="url(#h2_1)"/><rect x="47" y="486" width="259" height="3.6" fill="url(#h2_2)"/><rect x="47" y="489" width="259" height="3.6" fill="url(#h2_3)"/><rect x="47" y="492" width="259" height="3.6" fill="url(#h2_4)"/><rect x="47" y="495" width="259" height="3.6" fill="url(#h2_5)"/><rect x="47" y="498" width="259" height="3.6" fill="url(#h2_6)"/><rect x="47" y="501" width="259" height="3.6" fill="url(#h2_7)"/><rect x="47" y="504" width="259" height="3.6" fill="url(#h2_8)"/><rect x="47" y="507" width="259" height="3.6" fill="url(#h2_9)"/><rect x="47" y="510" width="259" height="3.6" fill="url(#h2_10)"/><rect x="47" y="513" width="259" height="3.6" fill="url(#h2_11)"/><rect x="47" y="516" width="259" height="3.6" fill="url(#h2_12)"/><rect x="47" y="519" width="259" height="3.6" fill="url(#h2_13)"/><rect x="47" y="522" width="259" height="3.6" fill="url(#h2_14)"/><rect x="47" y="525" width="259" height="3.6" fill="url(#h2_15)"/><rect x="47" y="528" width="259" height="3.6" fill="url(#h2_16)"/><rect x="47" y="531" width="259" height="3.6" fill="url(#h2_17)"/><rect x="47" y="534" width="259" height="3.6" fill="url(#h2_18)"/><rect x="47" y="537" width="259" height="3.6" fill="url(#h2_19)"/><rect x="47" y="540" width="259" height="3.6" fill="url(#h2_20)"/><rect x="47" y="543" width="259" height="3.6" fill="url(#h2_21)"/><rect x="47" y="546" width="259" height="3.6" fill="url(#h2_22)"/><rect x="47" y="549" width="259" height="3.6" fill="url(#h2_23)"/><rect x="47" y="552" width="259" height="3.6" fill="url(#h2_24)"/><rect x="47" y="555" width="259" height="3.6" fill="url(#h2_25)"/><rect x="47" y="558" width="259" height="3.6" fill="url(#h2_26)"/><rect x="47" y="561" width="259" height="3.6" fill="url(#h2_27)"/><rect x="47" y="564" width="259" height="3.6" fill="url(#h2_28)"/><rect x="47" y="567" width="259" height="3.6" fill="url(#h2_29)"/><rect x="47" y="570" width="259" height="3.6" fill="url(#h2_30)"/><rect x="47" y="573" width="259" height="3.6" fill="url(#h2_31)"/><rect x="47" y="576" width="259" height="3.6" fill="url(#h2_32)"/><rect x="47" y="579" width="259" height="3.6" fill="url(#h2_33)"/><rect x="47" y="582" width="259" height="3.6" fill="url(#h2_34)"/><rect x="47" y="585" width="259" height="3.6" fill="url(#h2_35)"/><rect x="47" y="588" width="259" height="3.6" fill="url(#h2_36)"/><rect x="47" y="591" width="259" height="3.6" fill="url(#h2_37)"/><rect x="47" y="594" width="259" height="3.6" fill="url(#h2_38)"/><rect x="47" y="597" width="259" height="3.6" fill="url(#h2_39)"/><rect x="47" y="600" width="259" height="3.6" fill="url(#h2_40)"/><rect x="47" y="603" width="259" height="3.6" fill="url(#h2_41)"/><rect x="47" y="606" width="259" height="3.6" fill="url(#h2_42)"/><rect x="47" y="609" width="259" height="3.6" fill="url(#h2_43)"/><rect x="47" y="612" width="259" height="3.6" fill="url(#h2_44)"/><rect x="47" y="615" width="259" height="3.6" fill="url(#h2_45)"/><rect x="47" y="618" width="259" height="3.6" fill="url(#h2_46)"/><rect x="47" y="621" width="259" height="3.6" fill="url(#h2_47)"/><rect x="47" y="624" width="259" height="3.6" fill="url(#h2_48)"/><rect x="47" y="627" width="259" height="3.6" fill="url(#h2_49)"/><rect x="47" y="630" width="259" height="3.6" fill="url(#h2_50)"/><rect x="47" y="633" width="259" height="2" fill="url(#h2_51)"/>
<rect x="47" y="480" width="259" height="155" fill="none" stroke="#000" stroke-width="2.4"/>
<rect x="47" y="665" width="259" height="3.6" fill="url(#h3_0)"/><rect x="47" y="668" width="259" height="3.6" fill="url(#h3_1)"/><rect x="47" y="671" width="259" height="3.6" fill="url(#h3_2)"/><rect x="47" y="674" width="259" height="3.6" fill="url(#h3_3)"/><rect x="47" y="677" width="259" height="3.6" fill="url(#h3_4)"/><rect x="47" y="680" width="259" height="3.6" fill="url(#h3_5)"/><rect x="47" y="683" width="259" height="3.6" fill="url(#h3_6)"/><rect x="47" y="686" width="259" height="3.6" fill="url(#h3_7)"/><rect x="47" y="689" width="259" height="3.6" fill="url(#h3_8)"/><rect x="47" y="692" width="259" height="3.6" fill="url(#h3_9)"/><rect x="47" y="695" width="259" height="3.6" fill="url(#h3_10)"/><rect x="47" y="698" width="259" height="3.6" fill="url(#h3_11)"/><rect x="47" y="701" width="259" height="3.6" fill="url(#h3_12)"/><rect x="47" y="704" width="259" height="3.6" fill="url(#h3_13)"/><rect x="47" y="707" width="259" height="3.6" fill="url(#h3_14)"/><rect x="47" y="710" width="259" height="3.6" fill="url(#h3_15)"/><rect x="47" y="713" width="259" height="3.6" fill="url(#h3_16)"/><rect x="47" y="716" width="259" height="3.6" fill="url(#h3_17)"/><rect x="47" y="719" width="259" height="3.6" fill="url(#h3_18)"/><rect x="47" y="722" width="259" height="3.6" fill="url(#h3_19)"/><rect x="47" y="725" width="259" height="3.6" fill="url(#h3_20)"/><rect x="47" y="728" width="259" height="3.6" fill="url(#h3_21)"/><rect x="47" y="731" width="259" height="3.6" fill="url(#h3_22)"/><rect x="47" y="734" width="259" height="3.6" fill="url(#h3_23)"/><rect x="47" y="737" width="259" height="3.6" fill="url(#h3_24)"/><rect x="47" y="740" width="259" height="3.6" fill="url(#h3_25)"/><rect x="47" y="743" width="259" height="3.6" fill="url(#h3_26)"/><rect x="47" y="746" width="259" height="3.6" fill="url(#h3_27)"/><rect x="47" y="749" width="259" height="3.6" fill="url(#h3_28)"/><rect x="47" y="752" width="259" height="3.6" fill="url(#h3_29)"/><rect x="47" y="755" width="259" height="3.6" fill="url(#h3_30)"/><rect x="47" y="758" width="259" height="3.6" fill="url(#h3_31)"/><rect x="47" y="761" width="259" height="3.6" fill="url(#h3_32)"/><rect x="47" y="764" width="259" height="3.6" fill="url(#h3_33)"/><rect x="47" y="767" width="259" height="3.6" fill="url(#h3_34)"/><rect x="47" y="770" width="259" height="3.6" fill="url(#h3_35)"/><rect x="47" y="773" width="259" height="3.6" fill="url(#h3_36)"/><rect x="47" y="776" width="259" height="3.6" fill="url(#h3_37)"/><rect x="47" y="779" width="259" height="3.6" fill="url(#h3_38)"/><rect x="47" y="782" width="259" height="3.6" fill="url(#h3_39)"/><rect x="47" y="785" width="259" height="3.6" fill="url(#h3_40)"/><rect x="47" y="788" width="259" height="3.6" fill="url(#h3_41)"/><rect x="47" y="791" width="259" height="3.6" fill="url(#h3_42)"/><rect x="47" y="794" width="259" height="3.6" fill="url(#h3_43)"/><rect x="47" y="797" width="259" height="3.6" fill="url(#h3_44)"/><rect x="47" y="800" width="259" height="3.6" fill="url(#h3_45)"/><rect x="47" y="803" width="259" height="3.6" fill="url(#h3_46)"/><rect x="47" y="806" width="259" height="3.6" fill="url(#h3_47)"/><rect x="47" y="809" width="259" height="3.6" fill="url(#h3_48)"/><rect x="47" y="812" width="259" height="3.6" fill="url(#h3_49)"/><rect x="47" y="815" width="259" height="3.6" fill="url(#h3_50)"/><rect x="47" y="818" width="259" height="2" fill="url(#h3_51)"/>
<rect x="47" y="665" width="259" height="155" fill="none" stroke="#000" stroke-width="2.4"/>
<rect x="47" y="917" width="259" height="3.6" fill="url(#h4_0)"/><rect x="47" y="920" width="259" height="3.6" fill="url(#h4_1)"/><rect x="47" y="923" width="259" height="3.6" fill="url(#h4_2)"/><rect x="47" y="926" width="259" height="3.6" fill="url(#h4_3)"/><rect x="47" y="929" width="259" height="3.6" fill="url(#h4_4)"/><rect x="47" y="932" width="259" height="3.6" fill="url(#h4_5)"/><rect x="47" y="935" width="259" height="3.6" fill="url(#h4_6)"/><rect x="47" y="938" width="259" height="3.6" fill="url(#h4_7)"/><rect x="47" y="941" width="259" height="3.6" fill="url(#h4_8)"/><rect x="47" y="944" width="259" height="3.6" fill="url(#h4_9)"/><rect x="47" y="947" width="259" height="3.6" fill="url(#h4_10)"/><rect x="47" y="950" width="259" height="3.6" fill="url(#h4_11)"/><rect x="47" y="953" width="259" height="3.6" fill="url(#h4_12)"/><rect x="47" y="956" width="259" height="3.6" fill="url(#h4_13)"/><rect x="47" y="959" width="259" height="3.6" fill="url(#h4_14)"/><rect x="47" y="962" width="259" height="3.6" fill="url(#h4_15)"/><rect x="47" y="965" width="259" height="3.6" fill="url(#h4_16)"/><rect x="47" y="968" width="259" height="3.6" fill="url(#h4_17)"/><rect x="47" y="971" width="259" height="3.6" fill="url(#h4_18)"/><rect x="47" y="974" width="259" height="3.6" fill="url(#h4_19)"/><rect x="47" y="977" width="259" height="3.6" fill="url(#h4_20)"/><rect x="47" y="980" width="259" height="3.6" fill="url(#h4_21)"/><rect x="47" y="983" width="259" height="3.6" fill="url(#h4_22)"/><rect x="47" y="986" width="259" height="3.6" fill="url(#h4_23)"/><rect x="47" y="989" width="259" height="3.6" fill="url(#h4_24)"/><rect x="47" y="992" width="259" height="3.6" fill="url(#h4_25)"/><rect x="47" y="995" width="259" height="3.6" fill="url(#h4_26)"/><rect x="47" y="998" width="259" height="3.6" fill="url(#h4_27)"/><rect x="47" y="1001" width="259" height="3.6" fill="url(#h4_28)"/><rect x="47" y="1004" width="259" height="3.6" fill="url(#h4_29)"/><rect x="47" y="1007" width="259" height="3.6" fill="url(#h4_30)"/><rect x="47" y="1010" width="259" height="3.6" fill="url(#h4_31)"/><rect x="47" y="1013" width="259" height="3.6" fill="url(#h4_32)"/><rect x="47" y="1016" width="259" height="3.6" fill="url(#h4_33)"/><rect x="47" y="1019" width="259" height="3.6" fill="url(#h4_34)"/><rect x="47" y="1022" width="259" height="3.6" fill="url(#h4_35)"/><rect x="47" y="1025" width="259" height="3.6" fill="url(#h4_36)"/><rect x="47" y="1028" width="259" height="3.6" fill="url(#h4_37)"/><rect x="47" y="1031" width="259" height="3.6" fill="url(#h4_38)"/><rect x="47" y="1034" width="259" height="3.6" fill="url(#h4_39)"/><rect x="47" y="1037" width="259" height="3.6" fill="url(#h4_40)"/><rect x="47" y="1040" width="259" height="3.6" fill="url(#h4_41)"/><rect x="47" y="1043" width="259" height="3.6" fill="url(#h4_42)"/><rect x="47" y="1046" width="259" height="3.6" fill="url(#h4_43)"/><rect x="47" y="1049" width="259" height="3.6" fill="url(#h4_44)"/><rect x="47" y="1052" width="259" height="3.6" fill="url(#h4_45)"/><rect x="47" y="1055" width="259" height="3.6" fill="url(#h4_46)"/><rect x="47" y="1058" width="259" height="3.6" fill="url(#h4_47)"/><rect x="47" y="1061" width="259" height="3.6" fill="url(#h4_48)"/><rect x="47" y="1064" width="259" height="3.6" fill="url(#h4_49)"/><rect x="47" y="1067" width="259" height="3.6" fill="url(#h4_50)"/><rect x="47" y="1070" width="259" height="3" fill="url(#h4_51)"/>
<rect x="47" y="917" width="259" height="156" fill="none" stroke="#000" stroke-width="2.4"/>
<rect x="47" y="1103" width="259" height="2.6" fill="url(#h5_0)"/><rect x="47" y="1105" width="259" height="2.6" fill="url(#h5_1)"/><rect x="47" y="1107" width="259" height="2.6" fill="url(#h5_2)"/><rect x="47" y="1109" width="259" height="2.6" fill="url(#h5_3)"/><rect x="47" y="1111" width="259" height="2.6" fill="url(#h5_4)"/><rect x="47" y="1113" width="259" height="2.6" fill="url(#h5_5)"/><rect x="47" y="1115" width="259" height="2.6" fill="url(#h5_6)"/><rect x="47" y="1117" width="259" height="2.6" fill="url(#h5_7)"/><rect x="47" y="1119" width="259" height="2.6" fill="url(#h5_8)"/><rect x="47" y="1121" width="259" height="2.6" fill="url(#h5_9)"/><rect x="47" y="1123" width="259" height="2.6" fill="url(#h5_10)"/><rect x="47" y="1125" width="259" height="2.6" fill="url(#h5_11)"/><rect x="47" y="1127" width="259" height="2.6" fill="url(#h5_12)"/><rect x="47" y="1129" width="259" height="2.6" fill="url(#h5_13)"/><rect x="47" y="1131" width="259" height="2.6" fill="url(#h5_14)"/><rect x="47" y="1133" width="259" height="2.6" fill="url(#h5_15)"/><rect x="47" y="1135" width="259" height="2.6" fill="url(#h5_16)"/><rect x="47" y="1137" width="259" height="2.6" fill="url(#h5_17)"/><rect x="47" y="1139" width="259" height="2.6" fill="url(#h5_18)"/><rect x="47" y="1141" width="259" height="2.6" fill="url(#h5_19)"/><rect x="47" y="1143" width="259" height="2.6" fill="url(#h5_20)"/><rect x="47" y="1145" width="259" height="2.6" fill="url(#h5_21)"/><rect x="47" y="1147" width="259" height="2.6" fill="url(#h5_22)"/><rect x="47" y="1149" width="259" height="2.6" fill="url(#h5_23)"/><rect x="47" y="1151" width="259" height="2.6" fill="url(#h5_24)"/><rect x="47" y="1153" width="259" height="2.6" fill="url(#h5_25)"/><rect x="47" y="1155" width="259" height="2.6" fill="url(#h5_26)"/><rect x="47" y="1157" width="259" height="2.6" fill="url(#h5_27)"/><rect x="47" y="1159" width="259" height="2.6" fill="url(#h5_28)"/><rect x="47" y="1161" width="259" height="2.6" fill="url(#h5_29)"/><rect x="47" y="1163" width="259" height="2.6" fill="url(#h5_30)"/><rect x="47" y="1165" width="259" height="2.6" fill="url(#h5_31)"/><rect x="47" y="1167" width="259" height="2.6" fill="url(#h5_32)"/><rect x="47" y="1169" width="259" height="2.6" fill="url(#h5_33)"/><rect x="47" y="1171" width="259" height="2.6" fill="url(#h5_34)"/><rect x="47" y="1173" width="259" height="2.6" fill="url(#h5_35)"/><rect x="47" y="1175" width="259" height="2.6" fill="url(#h5_36)"/><rect x="47" y="1177" width="259" height="2.6" fill="url(#h5_37)"/><rect x="47" y="1179" width="259" height="2.6" fill="url(#h5_38)"/><rect x="47" y="1181" width="259" height="2.6" fill="url(#h5_39)"/><rect x="47" y="1183" width="259" height="2.6" fill="url(#h5_40)"/><rect x="47" y="1185" width="259" height="2.6" fill="url(#h5_41)"/><rect x="47" y="1187" width="259" height="2.6" fill="url(#h5_42)"/><rect x="47" y="1189" width="259" height="2.6" fill="url(#h5_43)"/><rect x="47" y="1191" width="259" height="2.6" fill="url(#h5_44)"/><rect x="47" y="1193" width="259" height="2.6" fill="url(#h5_45)"/><rect x="47" y="1195" width="259" height="2.6" fill="url(#h5_46)"/><rect x="47" y="1197" width="259" height="2.6" fill="url(#h5_47)"/><rect x="47" y="1199" width="259" height="2.6" fill="url(#h5_48)"/><rect x="47" y="1201" width="259" height="2.6" fill="url(#h5_49)"/><rect x="47" y="1203" width="259" height="2.6" fill="url(#h5_50)"/><rect x="47" y="1205" width="259" height="2.6" fill="url(#h5_51)"/><rect x="47" y="1207" width="259" height="2.6" fill="url(#h5_52)"/><rect x="47" y="1209" width="259" height="2.6" fill="url(#h5_53)"/><rect x="47" y="1211" width="259" height="2.6" fill="url(#h5_54)"/><rect x="47" y="1213" width="259" height="2.6" fill="url(#h5_55)"/><rect x="47" y="1215" width="259" height="2.6" fill="url(#h5_56)"/><rect x="47" y="1217" width="259" height="2.6" fill="url(#h5_57)"/><rect x="47" y="1219" width="259" height="2.6" fill="url(#h5_58)"/><rect x="47" y="1221" width="259" height="2.6" fill="url(#h5_59)"/><rect x="47" y="1223" width="259" height="2.6" fill="url(#h5_60)"/><rect x="47" y="1225" width="259" height="2.6" fill="url(#h5_61)"/><rect x="47" y="1227" width="259" height="2.6" fill="url(#h5_62)"/><rect x="47" y="1229" width="259" height="2.6" fill="url(#h5_63)"/><rect x="47" y="1231" width="259" height="2.6" fill="url(#h5_64)"/><rect x="47" y="1233" width="259" height="2.6" fill="url(#h5_65)"/><rect x="47" y="1235" width="259" height="2.6" fill="url(#h5_66)"/><rect x="47" y="1237" width="259" height="2.6" fill="url(#h5_67)"/><rect x="47" y="1239" width="259" height="2.6" fill="url(#h5_68)"/><rect x="47" y="1241" width="259" height="2.6" fill="url(#h5_69)"/><rect x="47" y="1243" width="259" height="2.6" fill="url(#h5_70)"/><rect x="47" y="1245" width="259" height="2.6" fill="url(#h5_71)"/><rect x="47" y="1247" width="259" height="2.6" fill="url(#h5_72)"/><rect x="47" y="1249" width="259" height="2.6" fill="url(#h5_73)"/><rect x="47" y="1251" width="259" height="2.6" fill="url(#h5_74)"/><rect x="47" y="1253" width="259" height="2.6" fill="url(#h5_75)"/><rect x="47" y="1255" width="259" height="2" fill="url(#h5_76)"/>
<rect x="47" y="1103" width="259" height="154" fill="none" stroke="#000" stroke-width="2.4"/>
<text x="-1" y="24" font-size="31" class="b">a</text>
<text x="0.5" y="456" font-size="31" class="b">b</text>
<text x="1.5" y="893" font-size="31" class="b">c</text>
<text x="342" y="24" font-size="31" class="b">d</text>
<text x="339" y="458" font-size="31" class="b">e</text>
<text x="337" y="894" font-size="31" class="b">f</text>
<text x="522" y="24" font-size="31" class="b">g</text>
<text x="528" y="458" font-size="31" class="b">h</text>
<text x="532.5" y="894" font-size="31" class="b">i</text>
<text x="1014" y="24" font-size="31" class="b">j</text>
<text x="1012" y="458" font-size="31" class="b">k</text>
<text x="1011.5" y="893" font-size="31" class="b">l</text>
<text x="1521.5" y="24" font-size="31" class="b">m</text>
<text x="1521.5" y="458" font-size="31" class="b">n</text>
<text x="1523" y="889" font-size="31" class="b">o</text>
<text x="122" y="25" font-size="28.6">sepia218</text>
<text x="122" y="450" font-size="28.6">sepia219</text>
<text x="122" y="878" font-size="28.6">sepia221</text>
<text x="45" y="47.5" font-size="24">Trial 2</text>
<text x="41" y="62" font-size="24" text-anchor="end">0</text>
<text x="42" y="213" font-size="24" text-anchor="end">17k</text>
<line x1="42.5" y1="205" x2="47" y2="205" stroke="#000" stroke-width="2"/>
<line x1="42.5" y1="55" x2="47" y2="55" stroke="#000" stroke-width="2"/>
<text x="45" y="232.5" font-size="24">Trial 5</text>
<text x="41" y="247" font-size="24" text-anchor="end">0</text>
<text x="42" y="398" font-size="24" text-anchor="end">11k</text>
<line x1="42.5" y1="390" x2="47" y2="390" stroke="#000" stroke-width="2"/>
<line x1="42.5" y1="240" x2="47" y2="240" stroke="#000" stroke-width="2"/>
<text x="45" y="472.5" font-size="24">Trial 16</text>
<text x="41" y="487" font-size="24" text-anchor="end">0</text>
<text x="42" y="638" font-size="24" text-anchor="end">9k</text>
<line x1="42.5" y1="630" x2="47" y2="630" stroke="#000" stroke-width="2"/>
<line x1="42.5" y1="480" x2="47" y2="480" stroke="#000" stroke-width="2"/>
<text x="45" y="657.5" font-size="24">Trial 21</text>
<text x="41" y="672" font-size="24" text-anchor="end">0</text>
<text x="42" y="823" font-size="24" text-anchor="end">14k</text>
<line x1="42.5" y1="815" x2="47" y2="815" stroke="#000" stroke-width="2"/>
<line x1="42.5" y1="665" x2="47" y2="665" stroke="#000" stroke-width="2"/>
<text x="45" y="909.5" font-size="24">Trial 6</text>
<text x="41" y="924" font-size="24" text-anchor="end">0</text>
<text x="42" y="1076" font-size="24" text-anchor="end">22k</text>
<line x1="42.5" y1="1068" x2="47" y2="1068" stroke="#000" stroke-width="2"/>
<line x1="42.5" y1="917" x2="47" y2="917" stroke="#000" stroke-width="2"/>
<text x="45" y="1095.5" font-size="24">Trial 10</text>
<text x="41" y="1110" font-size="24" text-anchor="end">0</text>
<text x="42" y="1260" font-size="24" text-anchor="end">33k</text>
<line x1="42.5" y1="1252" x2="47" y2="1252" stroke="#000" stroke-width="2"/>
<line x1="42.5" y1="1103" x2="47" y2="1103" stroke="#000" stroke-width="2"/>
<line x1="275" y1="213.5" x2="306" y2="213.5" stroke="#000" stroke-width="2.2"/>
<line x1="278" y1="398.5" x2="306" y2="398.5" stroke="#000" stroke-width="2.2"/>
<line x1="296" y1="638.5" x2="306" y2="638.5" stroke="#000" stroke-width="2.2"/>
<line x1="298" y1="824" x2="306" y2="824" stroke="#000" stroke-width="2.2"/>
<line x1="303" y1="1075.5" x2="306" y2="1075.5" stroke="#000" stroke-width="2.2"/>
<line x1="284" y1="1261" x2="305" y2="1261" stroke="#000" stroke-width="2.2"/>
<text x="279" y="231" font-size="24">2s</text>
<defs><linearGradient id="cbA" x1="0" y1="1" x2="0" y2="0"><stop offset="0" stop-color="#2d3796"/><stop offset="0.25" stop-color="#3c5ac8"/><stop offset="0.35" stop-color="#3ca0dc"/><stop offset="0.5" stop-color="#32b4aa"/><stop offset="0.65" stop-color="#6eb450"/><stop offset="0.82" stop-color="#e6a028"/><stop offset="1" stop-color="#ebe028"/></linearGradient><linearGradient id="cbR" x1="0" y1="1" x2="0" y2="0"><stop offset="0" stop-color="#28238c"/><stop offset="0.15" stop-color="#2850dc"/><stop offset="0.3" stop-color="#28aadc"/><stop offset="0.45" stop-color="#3cc878"/><stop offset="0.6" stop-color="#a0d232"/><stop offset="0.72" stop-color="#f0c828"/><stop offset="0.85" stop-color="#f05a1e"/><stop offset="1" stop-color="#a01e1e"/></linearGradient></defs>
<rect x="313.2" y="96.3" width="7.2" height="70" fill="url(#cbA)"/>
<text x="316.8" y="90" font-size="24" text-anchor="middle">1</text>
<text x="316.8" y="188" font-size="24" text-anchor="middle">0</text>
<text x="0" y="0" font-size="24" transform="translate(347,205) rotate(-90)">Area (norm.)</text>
<rect x="496" y="96" width="9.5" height="69" fill="url(#cbR)"/>
<text x="486" y="91" font-size="24">Last</text>
<text x="486" y="187" font-size="24">First</text>
<text x="0" y="0" font-size="24" transform="translate(528,159) rotate(-90)">Rank</text>
<g clip-path="url(#cp1)"><rect x="562.5" y="59" width="112" height="155" filter="url(#gtex)"/><path d="M587.1 100.8 L649.9 100.8 L649.9 170.6 L629.7 176.8 L607.3 176.8 L587.1 170.6Z" fill="#fff" opacity="0.22"/><path d="M573.7 74.5 L596.1 68.3 L618.5 74.5 L640.9 69.8 L661.1 82.2 L657.7 97.8 L629.7 90.0 L607.3 99.3 L579.3 102.4 L573.7 90.0Z" fill="#e6e61e" opacity="0.85" filter="url(#ctex2)"/><path d="M562.5 156.7 L579.3 164.4 L596.1 173.7 L612.9 173.7 L629.7 170.6 L649.9 159.8 L674.5 152.0 L674.5 164.4 L652.1 173.7 L635.3 183.0 L631.9 214.0 L596.1 214.0 L591.6 195.4 L575.9 189.2 L562.5 183.0Z" fill="#e6e61e" opacity="0.95" filter="url(#ctex)"/><rect x="562.5" y="59" width="112" height="155" filter="url(#wtex)"/></g>
<g clip-path="url(#cp2)"><rect x="702" y="59" width="115" height="155" filter="url(#gtex)"/><path d="M727.3 100.8 L791.7 100.8 L791.7 170.6 L771.0 176.8 L748.0 176.8 L727.3 170.6Z" fill="#fff" opacity="0.22"/><path d="M702.0 59.0 L733.0 59.0 L731.9 77.6 L736.5 90.0 L743.4 90.0 L745.7 68.3 L743.4 59.0 L775.6 59.0 L774.5 74.5 L777.9 90.0 L784.8 90.0 L787.1 68.3 L786.0 59.0 L817.0 59.0 L817.0 97.8 L782.5 96.2 L759.5 99.3 L736.5 97.8 L702.0 99.3Z" fill="#eb1e1e" opacity="1" filter="url(#ctex)"/><path d="M707.8 179.9 L736.5 179.9 L742.2 198.5 L725.0 204.7 L707.8 198.5Z" fill="#eb1e1e" opacity="0.95" filter="url(#ctex)"/><path d="M782.5 173.7 L805.5 167.5 L807.8 192.3 L788.2 198.5 L780.2 186.1Z" fill="#eb1e1e" opacity="0.95" filter="url(#ctex)"/><path d="M702.0 136.5 L719.2 136.5 L725.0 175.2 L707.8 175.2Z" fill="#eb1e1e" opacity="0.5" filter="url(#ctex2)"/><path d="M799.8 152.0 L817.0 148.9 L817.0 175.2 L799.8 170.6Z" fill="#eb1e1e" opacity="0.5" filter="url(#ctex2)"/><path d="M736.5 201.6 L782.5 201.6 L776.8 214.0 L742.2 214.0Z" fill="#eb1e1e" opacity="0.45" filter="url(#ctex2)"/><rect x="702" y="59" width="115" height="155" filter="url(#wtex)"/></g>
<g clip-path="url(#cp3)"><rect x="841.5" y="59" width="115" height="155" filter="url(#gtex)"/><path d="M866.8 100.8 L931.2 100.8 L931.2 170.6 L910.5 176.8 L887.5 176.8 L866.8 170.6Z" fill="#fff" opacity="0.22"/><path d="M841.5 59.0 L956.5 59.0 L956.5 97.8 L899.0 93.1 L841.5 99.3Z" fill="#3cb43c" opacity="0.9" filter="url(#ctex2)"/><path d="M845.0 170.6 L876.0 176.8 L899.0 190.8 L904.8 214.0 L853.0 214.0 L845.0 198.5Z" fill="#3cb43c" opacity="0.85" filter="url(#ctex2)"/><path d="M910.5 164.4 L950.8 155.1 L950.8 198.5 L927.8 206.2 L910.5 190.8Z" fill="#3cb43c" opacity="0.85" filter="url(#ctex2)"/><path d="M864.5 105.5 L933.5 105.5 L933.5 167.5 L864.5 167.5Z" fill="#3cb43c" opacity="0.3" filter="url(#ctex3)"/><rect x="841.5" y="59" width="115" height="155" filter="url(#wtex)"/></g>
<g clip-path="url(#cp4)"><rect x="562.5" y="240" width="112" height="155" filter="url(#gtex)"/><path d="M587.1 281.9 L649.9 281.9 L649.9 351.6 L629.7 357.8 L607.3 357.8 L587.1 351.6Z" fill="#fff" opacity="0.22"/><path d="M562.5 276.4 L592.7 276.4 L592.7 351.6 L562.5 339.2Z" fill="#a5501e" opacity="1" filter="url(#ctex)"/><path d="M643.1 276.4 L674.5 276.4 L674.5 336.1 L643.1 348.5Z" fill="#a5501e" opacity="1" filter="url(#ctex)"/><rect x="562.5" y="240" width="112" height="155" filter="url(#wtex)"/></g>
<g clip-path="url(#cp5)"><rect x="702" y="240" width="115" height="155" filter="url(#gtex)"/><path d="M727.3 281.9 L791.7 281.9 L791.7 351.6 L771.0 357.8 L748.0 357.8 L727.3 351.6Z" fill="#fff" opacity="0.22"/><path d="M702.0 277.2 L729.6 277.2 L729.6 351.6 L702.0 342.3Z" fill="#8c32b4" opacity="0.95" filter="url(#ctex2)"/><path d="M784.8 274.1 L813.5 274.1 L813.5 342.3 L784.8 348.5Z" fill="#8c32b4" opacity="0.95" filter="url(#ctex2)"/><rect x="702" y="240" width="115" height="155" filter="url(#wtex)"/></g>
<g clip-path="url(#cp6)"><rect x="838" y="240" width="115" height="155" filter="url(#gtex)"/><path d="M863.3 281.9 L927.7 281.9 L927.7 351.6 L907.0 357.8 L884.0 357.8 L863.3 351.6Z" fill="#fff" opacity="0.22"/><path d="M864.5 276.4 L924.2 276.4 L924.2 351.6 L918.5 362.4 L872.5 364.0 L865.6 354.7Z" fill="#3c82d2" opacity="1" filter="url(#ctex)"/><rect x="838" y="240" width="115" height="155" filter="url(#wtex)"/></g>
<g clip-path="url(#cp7)"><rect x="562.7" y="478" width="112" height="155" filter="url(#gtex)"/><rect x="562.7" y="478" width="112" height="155" fill="#000" opacity="0.03"/><path d="M587.3 519.9 L650.1 519.9 L650.1 589.6 L629.9 595.8 L607.5 595.8 L587.3 589.6Z" fill="#fff" opacity="0.22"/><path d="M562.7 575.6 L579.5 580.3 L596.3 592.7 L613.1 594.2 L629.9 592.7 L646.7 583.4 L674.7 574.1 L674.7 586.5 L652.3 595.8 L643.3 605.1 L632.1 617.5 L624.3 626.8 L616.5 620.6 L601.9 614.4 L594.1 602.0 L579.5 592.7 L562.7 586.5Z" fill="#e6e61e" opacity="1" filter="url(#ctex)"/><rect x="562.7" y="478" width="112" height="155" filter="url(#wtex)"/></g>
<g clip-path="url(#cp8)"><rect x="699" y="478" width="114" height="155" filter="url(#gtex)"/><rect x="699" y="478" width="114" height="155" fill="#000" opacity="0.03"/><path d="M724.1 519.9 L787.9 519.9 L787.9 589.6 L767.4 595.8 L744.6 595.8 L724.1 589.6Z" fill="#fff" opacity="0.22"/><path d="M699.0 478.0 L813.0 478.0 L813.0 519.9 L699.0 519.9Z" fill="#eb1e1e" opacity="1" filter="url(#ctex)"/><path d="M702.4 574.1 L721.8 574.1 L724.1 609.8 L708.1 609.8Z" fill="#eb1e1e" opacity="0.5" filter="url(#ctex2)"/><path d="M790.2 574.1 L809.6 574.1 L803.9 602.0 L790.2 602.0Z" fill="#eb1e1e" opacity="0.5" filter="url(#ctex2)"/><rect x="699" y="478" width="114" height="155" filter="url(#wtex)"/></g>
<g clip-path="url(#cp9)"><rect x="839" y="478" width="114" height="155" filter="url(#gtex)"/><rect x="839" y="478" width="114" height="155" fill="#000" opacity="0.03"/><path d="M864.1 519.9 L927.9 519.9 L927.9 589.6 L907.4 595.8 L884.6 595.8 L864.1 589.6Z" fill="#fff" opacity="0.22"/><path d="M839.0 521.4 L870.9 521.4 L873.2 594.2 L870.9 633.0 L850.4 633.0 L845.8 602.0 L839.0 594.2Z" fill="#3cb43c" opacity="0.95" filter="url(#ctex)"/><path d="M924.5 521.4 L953.0 521.4 L953.0 589.6 L939.3 598.9 L937.0 625.2 L930.2 625.2 L925.6 594.2Z" fill="#3cb43c" opacity="0.95" filter="url(#ctex)"/><rect x="839" y="478" width="114" height="155" filter="url(#wtex)"/></g>
<g clip-path="url(#cp10)"><rect x="566" y="655" width="115" height="155" filter="url(#gtex)"/><rect x="566" y="655" width="115" height="155" fill="#000" opacity="0.03"/><path d="M591.3 696.9 L655.7 696.9 L655.7 766.6 L635.0 772.8 L612.0 772.8 L591.3 766.6Z" fill="#fff" opacity="0.22"/><path d="M571.8 655.0 L606.2 655.0 L600.5 810.0 L575.2 810.0Z" fill="#a5501e" opacity="0.75" filter="url(#ctex2)"/><path d="M648.8 655.0 L675.2 655.0 L671.8 810.0 L648.8 810.0Z" fill="#a5501e" opacity="0.75" filter="url(#ctex2)"/><path d="M600.5 655.0 L648.8 655.0 L648.8 686.0 L600.5 686.0Z" fill="#a5501e" opacity="0.55" filter="url(#ctex2)"/><rect x="566" y="655" width="115" height="155" filter="url(#wtex)"/></g>
<g clip-path="url(#cp11)"><rect x="698" y="655" width="117" height="155" filter="url(#gtex)"/><rect x="698" y="655" width="117" height="155" fill="#000" opacity="0.03"/><path d="M723.7 696.9 L789.3 696.9 L789.3 766.6 L768.2 772.8 L744.8 772.8 L723.7 766.6Z" fill="#fff" opacity="0.22"/><path d="M698.0 662.8 L720.2 662.8 L721.4 748.0 L700.3 751.1Z" fill="#8c32b4" opacity="0.9" filter="url(#ctex2)"/><path d="M727.2 779.0 L785.8 779.0 L782.2 810.0 L730.8 810.0Z" fill="#8c32b4" opacity="0.95" filter="url(#ctex2)"/><rect x="698" y="655" width="117" height="155" filter="url(#wtex)"/></g>
<g clip-path="url(#cp12)"><rect x="839" y="655" width="114" height="155" filter="url(#gtex)"/><rect x="839" y="655" width="114" height="155" fill="#000" opacity="0.03"/><path d="M864.1 696.9 L927.9 696.9 L927.9 766.6 L907.4 772.8 L884.6 772.8 L864.1 766.6Z" fill="#fff" opacity="0.22"/><path d="M866.4 696.9 L925.6 696.9 L925.6 774.4 L878.9 775.9 L876.6 786.8 L866.4 779.0Z" fill="#3c82d2" opacity="1" filter="url(#ctex)"/><rect x="839" y="655" width="114" height="155" filter="url(#wtex)"/></g>
<g clip-path="url(#cp13)"><rect x="568" y="915" width="112" height="156" filter="url(#gtex)"/><rect x="568" y="915" width="112" height="156" fill="#fff" opacity="0.22"/><path d="M568.0 940.0 L680.0 940.0 L680.0 961.8 L624.0 958.7 L568.0 961.8Z" fill="#e6e61e" opacity="0.95" filter="url(#ctex)"/><path d="M573.6 996.1 L601.6 1005.5 L624.0 1008.6 L646.4 1002.4 L674.4 993.0 L671.0 1011.7 L646.4 1021.1 L629.6 1033.6 L618.4 1033.6 L601.6 1021.1 L577.0 1014.8Z" fill="#e6e61e" opacity="1" filter="url(#ctex)"/><path d="M568.0 915.0 L680.0 915.0 L680.0 940.0 L568.0 940.0Z" fill="#e6e61e" opacity="0.35" filter="url(#ctex2)"/><rect x="568" y="915" width="112" height="156" filter="url(#wtex)"/></g>
<g clip-path="url(#cp14)"><rect x="699" y="915" width="111" height="156" filter="url(#gtex)"/><rect x="699" y="915" width="111" height="156" fill="#fff" opacity="0.22"/><path d="M699.0 915.0 L810.0 915.0 L810.0 960.2 L699.0 960.2Z" fill="#eb1e1e" opacity="1" filter="url(#ctex)"/><path d="M699.0 993.0 L810.0 993.0 L810.0 1071.0 L699.0 1071.0Z" fill="#eb1e1e" opacity="0.8" filter="url(#ctex2)"/><path d="M732.3 1024.2 L776.7 1024.2 L771.1 1071.0 L737.9 1071.0Z" fill="#eb1e1e" opacity="0.9" filter="url(#ctex)"/><rect x="699" y="915" width="111" height="156" filter="url(#wtex)"/></g>
<g clip-path="url(#cp15)"><rect x="838" y="915" width="111" height="156" filter="url(#gtex)"/><rect x="838" y="915" width="111" height="156" fill="#fff" opacity="0.22"/><path d="M838.0 915.0 L949.0 915.0 L949.0 1071.0 L838.0 1071.0Z" fill="#3cb43c" opacity="0.65" filter="url(#ctex2)"/><rect x="838" y="915" width="111" height="156" filter="url(#wtex)"/></g>
<g clip-path="url(#cp16)"><rect x="515" y="1097" width="112" height="154" filter="url(#gtex)"/><rect x="515" y="1097" width="112" height="154" fill="#fff" opacity="0.22"/><path d="M515.0 1138.6 L627.0 1138.6 L627.0 1192.5 L571.0 1197.1 L515.0 1192.5Z" fill="#a5501e" opacity="1" filter="url(#ctex)"/><path d="M548.6 1217.1 L593.4 1217.1 L587.8 1251.0 L554.2 1251.0Z" fill="#a5501e" opacity="0.85" filter="url(#ctex2)"/><path d="M515.0 1097.0 L627.0 1097.0 L627.0 1138.6 L515.0 1138.6Z" fill="#a5501e" opacity="0.3" filter="url(#ctex2)"/><rect x="515" y="1097" width="112" height="154" filter="url(#wtex)"/></g>
<g clip-path="url(#cp17)"><rect x="640" y="1097" width="110" height="154" filter="url(#gtex)"/><rect x="640" y="1097" width="110" height="154" fill="#fff" opacity="0.22"/><path d="M712.6 1150.9 L728.0 1155.5 L725.8 1189.4 L714.8 1192.5Z" fill="#8c32b4" opacity="1" filter="url(#ctex)"/><rect x="640" y="1097" width="110" height="154" filter="url(#wtex)"/></g>
<g clip-path="url(#cp18)"><rect x="768" y="1096" width="111" height="155" filter="url(#gtex)"/><rect x="768" y="1096" width="111" height="155" fill="#fff" opacity="0.22"/><path d="M768.0 1096.0 L879.0 1096.0 L879.0 1251.0 L768.0 1251.0Z" fill="#3c82d2" opacity="0.65" filter="url(#ctex2)"/><path d="M768.0 1134.8 L845.7 1134.8 L840.1 1192.1 L801.3 1196.8 L768.0 1181.2Z" fill="#3c82d2" opacity="1" filter="url(#ctex)"/><path d="M801.3 1212.2 L834.6 1212.2 L829.0 1251.0 L806.9 1251.0Z" fill="#3c82d2" opacity="1" filter="url(#ctex)"/><rect x="768" y="1096" width="111" height="155" filter="url(#wtex)"/></g>
<g clip-path="url(#cp19)"><rect x="895" y="1096" width="111" height="155" filter="url(#gtex)"/><rect x="895" y="1096" width="111" height="155" fill="#fff" opacity="0.22"/><path d="M895.0 1096.0 L1006.0 1096.0 L1006.0 1251.0 L895.0 1251.0Z" fill="#e664be" opacity="0.85" filter="url(#ctex2)"/><rect x="895" y="1096" width="111" height="155" filter="url(#wtex)"/></g>
<g clip-path="url(#cp20)"><rect x="367.5" y="55" width="115" height="155" filter="url(#gtex)"/><rect x="367.5" y="55" width="115" height="155" fill="#fff" opacity="0.15"/><path d="M367.5 55.0 L482.5 55.0 L482.5 92.2 L448.0 93.8 L402.0 95.3 L367.5 92.2Z" fill="url(#lg21)" opacity="0.9" filter="url(#ctex4)"/><path d="M367.5 55.0 L482.5 55.0 L482.5 92.2 L367.5 92.2Z" fill="#32b4dc" opacity="0.45" filter="url(#ctex3)"/><path d="M367.5 92.2 L402.0 95.3 L448.0 93.8 L482.5 92.2 L482.5 151.1 L453.8 163.5 L425.0 172.8 L396.2 160.4 L367.5 154.2Z" fill="url(#lg22)" opacity="0.9" filter="url(#ctex4)"/><path d="M367.5 92.2 L482.5 92.2 L482.5 151.1 L367.5 154.2Z" fill="#dcd228" opacity="0.45" filter="url(#ctex3)"/><path d="M384.8 95.3 L465.2 95.3 L465.2 107.7 L384.8 107.7Z" fill="#e63c1e" opacity="0.5" filter="url(#ctex2)"/><path d="M367.5 151.1 L396.2 160.4 L425.0 172.8 L453.8 160.4 L482.5 148.0 L482.5 171.2 L453.8 179.0 L425.0 189.8 L402.0 188.3 L367.5 194.5Z" fill="#2846be" opacity="0.9" filter="url(#ctex4)"/><path d="M367.5 151.1 L396.2 160.4 L425.0 172.8 L453.8 160.4 L482.5 148.0 L482.5 171.2 L453.8 179.0 L425.0 189.8 L402.0 188.3 L367.5 194.5Z" fill="#32b4dc" opacity="0.4" filter="url(#ctex3)"/><path d="M367.5 175.9 L396.2 179.0 L425.0 188.3 L453.8 177.4 L482.5 166.6 L482.5 210.0 L367.5 210.0Z" fill="url(#lg23)" opacity="0.35" filter="url(#ctex2)"/><rect x="367.5" y="55" width="115" height="155" filter="url(#wtex)"/></g>
<g clip-path="url(#cp24)"><rect x="367.5" y="240" width="115" height="156" filter="url(#gtex)"/><rect x="367.5" y="240" width="115" height="156" fill="#fff" opacity="0.15"/><path d="M392.8 282.1 L457.2 282.1 L457.2 352.3 L436.5 358.6 L413.5 358.6 L392.8 352.3Z" fill="#fff" opacity="0.22"/><path d="M367.5 240.0 L482.5 240.0 L482.5 280.6 L367.5 280.6Z" fill="url(#lg25)" opacity="0.85" filter="url(#ctex4)"/><path d="M367.5 240.0 L482.5 240.0 L482.5 280.6 L367.5 280.6Z" fill="#78c850" opacity="0.4" filter="url(#ctex3)"/><path d="M367.5 280.6 L396.2 280.6 L396.2 343.0 L367.5 336.7Z" fill="url(#lg26)" opacity="0.9" filter="url(#ctex4)"/><path d="M453.8 280.6 L482.5 280.6 L482.5 336.7 L453.8 343.0Z" fill="url(#lg27)" opacity="0.9" filter="url(#ctex4)"/><path d="M367.5 280.6 L396.2 280.6 L396.2 343.0 L367.5 336.7Z" fill="#dcd228" opacity="0.4" filter="url(#ctex3)"/><path d="M367.5 336.7 L396.2 343.0 L396.2 364.8 L453.8 364.8 L453.8 343.0 L482.5 336.7 L482.5 355.4 L453.8 364.8 L436.5 377.3 L413.5 377.3 L396.2 367.9 L367.5 364.8Z" fill="#2846be" opacity="0.85" filter="url(#ctex4)"/><path d="M367.5 364.8 L482.5 364.8 L482.5 396.0 L367.5 396.0Z" fill="#32b4dc" opacity="0.3" filter="url(#ctex2)"/><rect x="367.5" y="240" width="115" height="156" filter="url(#wtex)"/></g>
<g clip-path="url(#cp28)"><rect x="367.6" y="480" width="115" height="154" filter="url(#gtex)"/><rect x="367.6" y="480" width="115" height="154" fill="#fff" opacity="0.15"/><path d="M392.9 521.6 L457.3 521.6 L457.3 590.9 L436.6 597.0 L413.6 597.0 L392.9 590.9Z" fill="#fff" opacity="0.22"/><path d="M367.6 480.0 L482.6 480.0 L482.6 520.0 L367.6 520.0Z" fill="url(#lg29)" opacity="0.85" filter="url(#ctex4)"/><path d="M392.9 480.0 L401.0 480.0 L407.9 500.0 L419.4 507.7 L438.9 510.8 L438.9 520.0 L415.9 518.5 L402.1 509.3Z" fill="#2846be" opacity="0.85" filter="url(#ctex2)"/><path d="M367.6 520.0 L396.4 520.0 L396.4 581.6 L367.6 575.5Z" fill="url(#lg30)" opacity="0.85" filter="url(#ctex4)"/><path d="M453.9 523.1 L482.6 523.1 L482.6 575.5 L453.9 581.6Z" fill="url(#lg31)" opacity="0.85" filter="url(#ctex4)"/><path d="M367.6 575.5 L396.4 581.6 L396.4 590.9 L453.9 590.9 L453.9 581.6 L482.6 575.5 L482.6 590.9 L453.9 597.0 L425.1 610.9 L396.4 597.0 L367.6 590.9Z" fill="#2846be" opacity="0.85" filter="url(#ctex4)"/><path d="M367.6 600.1 L482.6 600.1 L482.6 634.0 L367.6 634.0Z" fill="url(#lg32)" opacity="0.35" filter="url(#ctex2)"/><rect x="367.6" y="480" width="115" height="154" filter="url(#wtex)"/></g>
<g clip-path="url(#cp33)"><rect x="367.6" y="665.4" width="115" height="155.3" filter="url(#gtex)"/><rect x="367.6" y="665.4" width="115" height="155.3" fill="#fff" opacity="0.15"/><path d="M367.6 665.4 L482.6 665.4 L482.6 707.3 L367.6 707.3Z" fill="url(#lg34)" opacity="0.85" filter="url(#ctex4)"/><path d="M367.6 665.4 L482.6 665.4 L482.6 707.3 L367.6 707.3Z" fill="#32b4dc" opacity="0.4" filter="url(#ctex3)"/><path d="M367.6 707.3 L482.6 707.3 L482.6 761.7 L453.9 767.9 L425.1 780.3 L396.4 767.9 L367.6 761.7Z" fill="url(#lg35)" opacity="0.9" filter="url(#ctex4)"/><path d="M396.4 707.3 L453.9 707.3 L453.9 767.9 L425.1 780.3 L396.4 767.9Z" fill="#e63c1e" opacity="0.45" filter="url(#ctex3)"/><path d="M367.6 761.7 L396.4 767.9 L425.1 780.3 L453.9 767.9 L482.6 761.7 L482.6 777.2 L453.9 783.4 L425.1 797.4 L396.4 783.4 L367.6 777.2Z" fill="#2846be" opacity="0.9" filter="url(#ctex4)"/><path d="M367.6 786.5 L482.6 786.5 L482.6 820.7 L367.6 820.7Z" fill="url(#lg36)" opacity="0.4" filter="url(#ctex2)"/><rect x="367.6" y="665.4" width="115" height="155.3" filter="url(#wtex)"/></g>
<g clip-path="url(#cp37)"><rect x="362.8" y="916.3" width="110.6" height="156" filter="url(#gtex)"/><rect x="362.8" y="916.3" width="110.6" height="156" fill="#fff" opacity="0.15"/><path d="M362.8 916.3 L473.4 916.3 L473.4 960.0 L362.8 960.0Z" fill="url(#lg38)" opacity="0.85" filter="url(#ctex4)"/><path d="M362.8 916.3 L473.4 916.3 L473.4 960.0 L362.8 960.0Z" fill="#78c850" opacity="0.3" filter="url(#ctex3)"/><path d="M362.8 956.9 L418.1 963.1 L473.4 956.9 L473.4 964.7 L418.1 969.3 L362.8 964.7Z" fill="#2846be" opacity="0.95" filter="url(#ctex)"/><path d="M362.8 964.7 L418.1 969.3 L473.4 964.7 L473.4 1002.1 L418.1 1009.9 L362.8 999.0Z" fill="url(#lg39)" opacity="0.9" filter="url(#ctex4)"/><path d="M362.8 999.0 L418.1 1009.9 L473.4 1002.1 L473.4 1013.0 L418.1 1031.7 L362.8 1013.0Z" fill="#2846be" opacity="0.95" filter="url(#ctex2)"/><path d="M362.8 1028.6 L473.4 1028.6 L473.4 1072.3 L362.8 1072.3Z" fill="url(#lg40)" opacity="0.6" filter="url(#ctex4)"/><rect x="362.8" y="916.3" width="110.6" height="156" filter="url(#wtex)"/></g>
<g clip-path="url(#cp41)"><rect x="362.8" y="1102" width="110.6" height="157" filter="url(#gtex)"/><rect x="362.8" y="1102" width="110.6" height="157" fill="#fff" opacity="0.15"/><path d="M362.8 1102.0 L473.4 1102.0 L473.4 1146.0 L362.8 1146.0Z" fill="url(#lg42)" opacity="0.9" filter="url(#ctex4)"/><path d="M362.8 1136.5 L473.4 1136.5 L473.4 1149.1 L362.8 1149.1Z" fill="#2846be" opacity="0.9" filter="url(#ctex2)"/><path d="M362.8 1146.0 L473.4 1146.0 L473.4 1188.3 L418.1 1193.1 L362.8 1185.2Z" fill="url(#lg43)" opacity="0.9" filter="url(#ctex4)"/><path d="M362.8 1185.2 L418.1 1193.1 L473.4 1188.3 L473.4 1199.3 L418.1 1215.0 L362.8 1199.3Z" fill="#2846be" opacity="0.95" filter="url(#ctex2)"/><path d="M362.8 1215.0 L473.4 1215.0 L473.4 1259.0 L362.8 1259.0Z" fill="url(#lg44)" opacity="0.6" filter="url(#ctex4)"/><rect x="362.8" y="1102" width="110.6" height="157" filter="url(#wtex)"/></g>
<path d="M1113 61.5 V176 H1503" fill="none" stroke="#000" stroke-width="2.4"/><line x1="1108" y1="176" x2="1113" y2="176" stroke="#000" stroke-width="2"/><text x="1103" y="184.5" font-size="24" text-anchor="end">0</text><line x1="1108" y1="72" x2="1113" y2="72" stroke="#000" stroke-width="2"/><text x="1103" y="80.5" font-size="24" text-anchor="end">0.08</text><line x1="1113" y1="176" x2="1113" y2="181" stroke="#000" stroke-width="2"/><text x="1113" y="206" font-size="24" text-anchor="middle">0</text><line x1="1485" y1="176" x2="1485" y2="181" stroke="#000" stroke-width="2"/><text x="1485" y="206" font-size="24" text-anchor="middle">17500</text>
<path d="M1114.0 171.4 1117.3 171.4 1117.3 171.4 1124.6 171.4 1124.6 173.5 1131.9 173.5 1131.9 173.5 1139.2 173.5 1139.2 173.5 1146.5 173.5 1146.5 172.0 1153.8 172.0 1153.8 172.0 1161.1 172.0 1161.1 171.4 1168.4 171.4 1168.4 166.0 1175.7 166.0 1175.7 159.0 1183.0 159.0 1183.0 159.0 1190.3 159.0 1190.3 154.4 1197.6 154.4 1197.6 156.0 1204.9 156.0 1204.9 153.0 1212.2 153.0 1212.2 156.5 1219.5 156.5 1219.5 154.0 1226.8 154.0 1226.8 152.4 1234.1 152.4 1234.1 157.0 1241.4 157.0 1241.4 157.0 1248.7 157.0 1248.7 151.0 1256.0 151.0 1256.0 157.0 1263.3 157.0 1263.3 174.0 1270.6 174.0 1270.6 151.0 1277.9 151.0 1277.9 140.5 1285.2 140.5 1285.2 140.5 1292.5 140.5 1292.5 140.5 1299.8 140.5 1299.8 134.0 1307.1 134.0 1307.1 134.0 1314.4 134.0 1314.4 132.3 1321.7 132.3 1321.7 121.0 1329.0 121.0 1329.0 117.0 1336.3 117.0 1336.3 119.4 1343.6 119.4 1343.6 117.3 1350.9 117.3 1350.9 117.0 1358.2 117.0 1358.2 121.5 1365.5 121.5 1365.5 116.0 1372.8 116.0 1372.8 125.0 1380.1 125.0 1380.1 115.0 1387.4 115.0 1387.4 129.0 1394.7 129.0 1394.7 141.5 1402.0 141.5 1402.0 123.0 1409.3 123.0 1409.3 158.5 1416.6 158.5 1416.6 139.5 1423.9 139.5 1423.9 133.3 1431.2 133.3 1431.2 141.0 1438.5 141.0 1438.5 157.0 1445.8 157.0 1445.8 166.2 1453.1 166.2 1453.1 170.4 1460.4 170.4 1460.4 172.4 1467.7 172.4 1467.7 172.4 1475.0 172.4" fill="none" stroke="#9a4a1e" stroke-width="2" stroke-linejoin="miter"/><path d="M1114.0 148.0 1117.3 148.0 1117.3 163.0 1124.6 163.0 1124.6 166.0 1131.9 166.0 1131.9 166.0 1139.2 166.0 1139.2 166.0 1146.5 166.0 1146.5 165.0 1153.8 165.0 1153.8 165.0 1161.1 165.0 1161.1 165.0 1168.4 165.0 1168.4 165.0 1175.7 165.0 1175.7 162.0 1183.0 162.0 1183.0 158.0 1190.3 158.0 1190.3 158.0 1197.6 158.0 1197.6 156.0 1204.9 156.0 1204.9 156.0 1212.2 156.0 1212.2 158.0 1219.5 158.0 1219.5 157.0 1226.8 157.0 1226.8 157.0 1234.1 157.0 1234.1 161.0 1241.4 161.0 1241.4 161.0 1248.7 161.0 1248.7 159.0 1256.0 159.0 1256.0 159.0 1263.3 159.0 1263.3 174.0 1270.6 174.0 1270.6 152.0 1277.9 152.0 1277.9 160.0 1285.2 160.0 1285.2 153.0 1292.5 153.0 1292.5 153.0 1299.8 153.0 1299.8 151.3 1307.1 151.3 1307.1 151.0 1314.4 151.0 1314.4 148.0 1321.7 148.0 1321.7 144.0 1329.0 144.0 1329.0 145.0 1336.3 145.0 1336.3 136.0 1343.6 136.0 1343.6 133.0 1350.9 133.0 1350.9 131.0 1358.2 131.0 1358.2 134.0 1365.5 134.0 1365.5 136.4 1372.8 136.4 1372.8 141.0 1380.1 141.0 1380.1 139.0 1387.4 139.0 1387.4 139.5 1394.7 139.5 1394.7 140.5 1402.0 140.5 1402.0 111.0 1409.3 111.0 1409.3 144.0 1416.6 144.0 1416.6 127.0 1423.9 127.0 1423.9 132.3 1431.2 132.3 1431.2 126.0 1438.5 126.0 1438.5 136.0 1445.8 136.0 1445.8 146.0 1453.1 146.0 1453.1 153.0 1460.4 153.0 1460.4 157.5 1467.7 157.5 1467.7 153.0 1475.0 153.0" fill="none" stroke="#3a7cc8" stroke-width="2" stroke-linejoin="miter"/><path d="M1114.0 139.0 1117.3 139.0 1117.3 145.0 1124.6 145.0 1124.6 155.5 1131.9 155.5 1131.9 150.3 1139.2 150.3 1139.2 161.6 1146.5 161.6 1146.5 155.5 1153.8 155.5 1153.8 162.1 1161.1 162.1 1161.1 158.0 1168.4 158.0 1168.4 158.0 1175.7 158.0 1175.7 156.5 1183.0 156.5 1183.0 156.5 1190.3 156.5 1190.3 146.0 1197.6 146.0 1197.6 143.0 1204.9 143.0 1204.9 143.0 1212.2 143.0 1212.2 156.0 1219.5 156.0 1219.5 150.0 1226.8 150.0 1226.8 144.0 1234.1 144.0 1234.1 157.0 1241.4 157.0 1241.4 153.0 1248.7 153.0 1248.7 153.0 1256.0 153.0 1256.0 157.0 1263.3 157.0 1263.3 174.0 1270.6 174.0 1270.6 160.0 1277.9 160.0 1277.9 158.0 1285.2 158.0 1285.2 158.0 1292.5 158.0 1292.5 160.0 1299.8 160.0 1299.8 167.8 1307.1 167.8 1307.1 166.2 1314.4 166.2 1314.4 164.7 1321.7 164.7 1321.7 164.2 1329.0 164.2 1329.0 169.3 1336.3 169.3 1336.3 169.3 1343.6 169.3 1343.6 169.3 1350.9 169.3 1350.9 169.3 1358.2 169.3 1358.2 170.4 1365.5 170.4 1365.5 170.4 1372.8 170.4 1372.8 170.4 1380.1 170.4 1380.1 170.4 1387.4 170.4 1387.4 170.4 1394.7 170.4 1394.7 170.4 1402.0 170.4 1402.0 167.3 1409.3 167.3 1409.3 171.4 1416.6 171.4 1416.6 165.2 1423.9 165.2 1423.9 163.2 1431.2 163.2 1431.2 151.0 1438.5 151.0 1438.5 157.0 1445.8 157.0 1445.8 146.0 1453.1 146.0 1453.1 130.0 1460.4 130.0 1460.4 98.0 1467.7 98.0 1467.7 104.5 1475.0 104.5" fill="none" stroke="#3cb43c" stroke-width="2" stroke-linejoin="miter"/><path d="M1114.0 153.0 1117.3 153.0 1117.3 165.0 1124.6 165.0 1124.6 166.0 1131.9 166.0 1131.9 171.4 1139.2 171.4 1139.2 171.4 1146.5 171.4 1146.5 173.5 1153.8 173.5 1153.8 173.5 1161.1 173.5 1161.1 169.3 1168.4 169.3 1168.4 169.3 1175.7 169.3 1175.7 167.3 1183.0 167.3 1183.0 167.3 1190.3 167.3 1190.3 152.0 1197.6 152.0 1197.6 157.0 1204.9 157.0 1204.9 145.0 1212.2 145.0 1212.2 167.3 1219.5 167.3 1219.5 163.0 1226.8 163.0 1226.8 166.0 1234.1 166.0 1234.1 170.0 1241.4 170.0 1241.4 166.0 1248.7 166.0 1248.7 166.0 1256.0 166.0 1256.0 171.4 1263.3 171.4 1263.3 174.0 1270.6 174.0 1270.6 170.4 1277.9 170.4 1277.9 172.5 1285.2 172.5 1285.2 172.5 1292.5 172.5 1292.5 167.3 1299.8 167.3 1299.8 166.2 1307.1 166.2 1307.1 166.2 1314.4 166.2 1314.4 166.2 1321.7 166.2 1321.7 167.3 1329.0 167.3 1329.0 167.3 1336.3 167.3 1336.3 167.3 1343.6 167.3 1343.6 165.2 1350.9 165.2 1350.9 165.2 1358.2 165.2 1358.2 162.1 1365.5 162.1 1365.5 162.1 1372.8 162.1 1372.8 159.0 1380.1 159.0 1380.1 160.0 1387.4 160.0 1387.4 160.0 1394.7 160.0 1394.7 167.3 1402.0 167.3 1402.0 152.0 1409.3 152.0 1409.3 159.0 1416.6 159.0 1416.6 144.0 1423.9 144.0 1423.9 144.0 1431.2 144.0 1431.2 118.0 1438.5 118.0 1438.5 114.0 1445.8 114.0 1445.8 103.0 1453.1 103.0 1453.1 110.0 1460.4 110.0 1460.4 108.0 1467.7 108.0 1467.7 116.0 1475.0 116.0" fill="none" stroke="#7a28a8" stroke-width="2" stroke-linejoin="miter"/><path d="M1114.0 160.0 1117.3 160.0 1117.3 154.0 1124.6 154.0 1124.6 141.0 1131.9 141.0 1131.9 128.0 1139.2 128.0 1139.2 143.0 1146.5 143.0 1146.5 109.0 1153.8 109.0 1153.8 121.0 1161.1 121.0 1161.1 134.0 1168.4 134.0 1168.4 145.0 1175.7 145.0 1175.7 137.0 1183.0 137.0 1183.0 145.0 1190.3 145.0 1190.3 153.0 1197.6 153.0 1197.6 162.0 1204.9 162.0 1204.9 153.0 1212.2 153.0 1212.2 149.0 1219.5 149.0 1219.5 135.0 1226.8 135.0 1226.8 103.0 1234.1 103.0 1234.1 130.0 1241.4 130.0 1241.4 125.0 1248.7 125.0 1248.7 123.0 1256.0 123.0 1256.0 115.0 1263.3 115.0 1263.3 173.5 1270.6 173.5 1270.6 122.0 1277.9 122.0 1277.9 129.0 1285.2 129.0 1285.2 125.0 1292.5 125.0 1292.5 130.0 1299.8 130.0 1299.8 143.0 1307.1 143.0 1307.1 147.0 1314.4 147.0 1314.4 151.0 1321.7 151.0 1321.7 153.0 1329.0 153.0 1329.0 159.0 1336.3 159.0 1336.3 157.0 1343.6 157.0 1343.6 160.6 1350.9 160.6 1350.9 164.2 1358.2 164.2 1358.2 163.2 1365.5 163.2 1365.5 164.7 1372.8 164.7 1372.8 167.0 1380.1 167.0 1380.1 167.3 1387.4 167.3 1387.4 167.3 1394.7 167.3 1394.7 167.3 1402.0 167.3 1402.0 163.2 1409.3 163.2 1409.3 170.4 1416.6 170.4 1416.6 165.2 1423.9 165.2 1423.9 169.3 1431.2 169.3 1431.2 165.7 1438.5 165.7 1438.5 167.3 1445.8 167.3 1445.8 166.2 1453.1 166.2 1453.1 169.3 1460.4 169.3 1460.4 172.4 1467.7 172.4 1467.7 173.0 1475.0 173.0" fill="none" stroke="#e0141e" stroke-width="2" stroke-linejoin="miter"/><path d="M1114.0 130.0 1117.3 130.0 1117.3 64.3 1124.6 64.3 1124.6 70.5 1131.9 70.5 1131.9 75.0 1139.2 75.0 1139.2 124.0 1146.5 124.0 1146.5 97.0 1153.8 97.0 1153.8 105.5 1161.1 105.5 1161.1 89.0 1168.4 89.0 1168.4 109.0 1175.7 109.0 1175.7 91.0 1183.0 91.0 1183.0 121.5 1190.3 121.5 1190.3 144.0 1197.6 144.0 1197.6 123.5 1204.9 123.5 1204.9 128.0 1212.2 128.0 1212.2 163.0 1219.5 163.0 1219.5 149.0 1226.8 149.0 1226.8 145.0 1234.1 145.0 1234.1 158.0 1241.4 158.0 1241.4 162.0 1248.7 162.0 1248.7 162.0 1256.0 162.0 1256.0 162.0 1263.3 162.0 1263.3 173.5 1270.6 173.5 1270.6 163.0 1277.9 163.0 1277.9 167.0 1285.2 167.0 1285.2 169.0 1292.5 169.0 1292.5 170.0 1299.8 170.0 1299.8 171.0 1307.1 171.0 1307.1 172.0 1314.4 172.0 1314.4 172.0 1321.7 172.0 1321.7 172.0 1329.0 172.0 1329.0 172.0 1336.3 172.0 1336.3 172.0 1343.6 172.0 1343.6 172.0 1350.9 172.0 1350.9 172.5 1358.2 172.5 1358.2 172.5 1365.5 172.5 1365.5 172.5 1372.8 172.5 1372.8 172.5 1380.1 172.5 1380.1 172.5 1387.4 172.5 1387.4 172.5 1394.7 172.5 1394.7 172.0 1402.0 172.0 1402.0 172.0 1409.3 172.0 1409.3 172.0 1416.6 172.0 1416.6 172.0 1423.9 172.0 1423.9 172.0 1431.2 172.0 1431.2 172.0 1438.5 172.0 1438.5 172.0 1445.8 172.0 1445.8 172.0 1453.1 172.0 1453.1 172.0 1460.4 172.0 1460.4 172.0 1467.7 172.0 1467.7 160.0 1475.0 160.0" fill="none" stroke="#e3e31a" stroke-width="2" stroke-linejoin="miter"/>
<text x="1127" y="54" font-size="24">Trial 2</text>
<path d="M1113 238 V353.5 H1503" fill="none" stroke="#000" stroke-width="2.4"/><line x1="1108" y1="353.5" x2="1113" y2="353.5" stroke="#000" stroke-width="2"/><text x="1103" y="362" font-size="24" text-anchor="end">0</text><line x1="1108" y1="249.4" x2="1113" y2="249.4" stroke="#000" stroke-width="2"/><text x="1103" y="257.9" font-size="24" text-anchor="end">0.08</text><line x1="1113" y1="353.5" x2="1113" y2="358.5" stroke="#000" stroke-width="2"/><text x="1113" y="383.5" font-size="24" text-anchor="middle">0</text><line x1="1485" y1="353.5" x2="1485" y2="358.5" stroke="#000" stroke-width="2"/><text x="1485" y="383.5" font-size="24" text-anchor="middle">17500</text>
<path d="M1114.0 349.5 1117.3 349.5 1117.3 349.5 1124.6 349.5 1124.6 349.5 1131.9 349.5 1131.9 349.5 1139.2 349.5 1139.2 349.5 1146.5 349.5 1146.5 349.5 1153.8 349.5 1153.8 349.5 1161.1 349.5 1161.1 344.2 1168.4 344.2 1168.4 345.5 1175.7 345.5 1175.7 347.5 1183.0 347.5 1183.0 347.5 1190.3 347.5 1190.3 349.5 1197.6 349.5 1197.6 341.6 1204.9 341.6 1204.9 339.7 1212.2 339.7 1212.2 344.2 1219.5 344.2 1219.5 349.5 1226.8 349.5 1226.8 335.2 1234.1 335.2 1234.1 332.0 1241.4 332.0 1241.4 333.3 1248.7 333.3 1248.7 328.8 1256.0 328.8 1256.0 325.0 1263.3 325.0 1263.3 312.2 1270.6 312.2 1270.6 323.7 1277.9 323.7 1277.9 292.9 1285.2 292.9 1285.2 296.8 1292.5 296.8 1292.5 284.0 1299.8 284.0 1299.8 262.8 1307.1 262.8 1307.1 305.7 1314.4 305.7 1314.4 292.3 1321.7 292.3 1321.7 282.0 1329.0 282.0 1329.0 284.0 1336.3 284.0 1336.3 286.5 1343.6 286.5 1343.6 289.1 1350.9 289.1 1350.9 316.0 1358.2 316.0 1358.2 347.5 1365.5 347.5" fill="none" stroke="#9a4a1e" stroke-width="2" stroke-linejoin="miter"/><path d="M1114.0 344.2 1117.3 344.2 1117.3 349.3 1124.6 349.3 1124.6 349.3 1131.9 349.3 1131.9 349.3 1139.2 349.3 1139.2 349.3 1146.5 349.3 1146.5 348.7 1153.8 348.7 1153.8 348.7 1161.1 348.7 1161.1 349.9 1168.4 349.9 1168.4 349.9 1175.7 349.9 1175.7 349.9 1183.0 349.9 1183.0 349.9 1190.3 349.9 1190.3 349.9 1197.6 349.9 1197.6 349.9 1204.9 349.9 1204.9 349.9 1212.2 349.9 1212.2 349.9 1219.5 349.9 1219.5 349.9 1226.8 349.9 1226.8 349.9 1234.1 349.9 1234.1 349.9 1241.4 349.9 1241.4 349.9 1248.7 349.9 1248.7 349.9 1256.0 349.9 1256.0 349.9 1263.3 349.9 1263.3 349.9 1270.6 349.9 1270.6 349.9 1277.9 349.9 1277.9 349.9 1285.2 349.9 1285.2 349.9 1292.5 349.9 1292.5 349.9 1299.8 349.9 1299.8 349.9 1307.1 349.9 1307.1 349.9 1314.4 349.9 1314.4 349.9 1321.7 349.9 1321.7 349.9 1329.0 349.9 1329.0 349.9 1336.3 349.9 1336.3 349.9 1343.6 349.9 1343.6 349.9 1350.9 349.9 1350.9 342.3 1358.2 342.3 1358.2 340.3 1365.5 340.3" fill="none" stroke="#3a7cc8" stroke-width="2" stroke-linejoin="miter"/><path d="M1114.0 299.5 1117.3 299.5 1117.3 294.9 1124.6 294.9 1124.6 319.2 1131.9 319.2 1131.9 312.8 1139.2 312.8 1139.2 310.9 1146.5 310.9 1146.5 312.2 1153.8 312.2 1153.8 314.1 1161.1 314.1 1161.1 321.1 1168.4 321.1 1168.4 309.5 1175.7 309.5 1175.7 328.8 1183.0 328.8 1183.0 319.8 1190.3 319.8 1190.3 334.6 1197.6 334.6 1197.6 314.7 1204.9 314.7 1204.9 312.8 1212.2 312.8 1212.2 322.4 1219.5 322.4 1219.5 328.8 1226.8 328.8 1226.8 310.9 1234.1 310.9 1234.1 304.5 1241.4 304.5 1241.4 331.5 1248.7 331.5 1248.7 316.6 1256.0 316.6 1256.0 321.1 1263.3 321.1 1263.3 317.9 1270.6 317.9 1270.6 329.5 1277.9 329.5 1277.9 324.3 1285.2 324.3 1285.2 328.2 1292.5 328.2 1292.5 329.5 1299.8 329.5 1299.8 317.9 1307.1 317.9 1307.1 332.6 1314.4 332.6 1314.4 307.7 1321.7 307.7 1321.7 320.5 1329.0 320.5 1329.0 322.5 1336.3 322.5 1336.3 331.5 1343.6 331.5 1343.6 333.3 1350.9 333.3 1350.9 311.5 1358.2 311.5 1358.2 339.1 1365.5 339.1" fill="none" stroke="#3cb43c" stroke-width="2" stroke-linejoin="miter"/><path d="M1114.0 349.9 1117.3 349.9 1117.3 349.0 1124.6 349.0 1124.6 350.5 1131.9 350.5 1131.9 347.5 1139.2 347.5 1139.2 344.2 1146.5 344.2 1146.5 342.3 1153.8 342.3 1153.8 342.9 1161.1 342.9 1161.1 344.2 1168.4 344.2 1168.4 346.7 1175.7 346.7 1175.7 349.5 1183.0 349.5 1183.0 349.0 1190.3 349.0 1190.3 349.9 1197.6 349.9 1197.6 346.7 1204.9 346.7 1204.9 345.5 1212.2 345.5 1212.2 344.8 1219.5 344.8 1219.5 346.1 1226.8 346.1 1226.8 344.2 1234.1 344.2 1234.1 341.6 1241.4 341.6 1241.4 339.1 1248.7 339.1 1248.7 335.9 1256.0 335.9 1256.0 337.1 1263.3 337.1 1263.3 322.4 1270.6 322.4 1270.6 339.1 1277.9 339.1 1277.9 317.9 1285.2 317.9 1285.2 316.0 1292.5 316.0 1292.5 316.0 1299.8 316.0 1299.8 296.8 1307.1 296.8 1307.1 314.7 1314.4 314.7 1314.4 294.2 1321.7 294.2 1321.7 287.8 1329.0 287.8 1329.0 277.6 1336.3 277.6 1336.3 271.2 1343.6 271.2 1343.6 279.5 1350.9 279.5 1350.9 284.6 1358.2 284.6 1358.2 332.6 1365.5 332.6" fill="none" stroke="#7a28a8" stroke-width="2" stroke-linejoin="miter"/><path d="M1114.0 339.7 1117.3 339.7 1117.3 326.2 1124.6 326.2 1124.6 289.2 1131.9 289.2 1131.9 309.6 1139.2 309.6 1139.2 310.9 1146.5 310.9 1146.5 310.9 1153.8 310.9 1153.8 310.9 1161.1 310.9 1161.1 296.1 1168.4 296.1 1168.4 285.9 1175.7 285.9 1175.7 293.5 1183.0 293.5 1183.0 282.7 1190.3 282.7 1190.3 316.0 1197.6 316.0 1197.6 279.5 1204.9 279.5 1204.9 282.0 1212.2 282.0 1212.2 294.5 1219.5 294.5 1219.5 322.4 1226.8 322.4 1226.8 301.9 1234.1 301.9 1234.1 296.1 1241.4 296.1 1241.4 314.7 1248.7 314.7 1248.7 309.0 1256.0 309.0 1256.0 312.2 1263.3 312.2 1263.3 301.9 1270.6 301.9 1270.6 323.7 1277.9 323.7 1277.9 318.5 1285.2 318.5 1285.2 333.3 1292.5 333.3 1292.5 336.5 1299.8 336.5 1299.8 340.3 1307.1 340.3 1307.1 346.7 1314.4 346.7 1314.4 345.5 1321.7 345.5 1321.7 345.5 1329.0 345.5 1329.0 348.0 1336.3 348.0 1336.3 349.3 1343.6 349.3 1343.6 350.6 1350.9 350.6 1350.9 346.7 1358.2 346.7 1358.2 347.4 1365.5 347.4" fill="none" stroke="#e0141e" stroke-width="2" stroke-linejoin="miter"/><path d="M1114.0 241.7 1117.3 241.7 1117.3 266.0 1124.6 266.0 1124.6 312.2 1131.9 312.2 1131.9 321.1 1139.2 321.1 1139.2 318.5 1146.5 318.5 1146.5 308.3 1153.8 308.3 1153.8 316.0 1161.1 316.0 1161.1 322.5 1168.4 322.5 1168.4 329.5 1175.7 329.5 1175.7 346.7 1183.0 346.7 1183.0 336.5 1190.3 336.5 1190.3 347.5 1197.6 347.5 1197.6 336.5 1204.9 336.5 1204.9 339.1 1212.2 339.1 1212.2 340.3 1219.5 340.3 1219.5 346.7 1226.8 346.7 1226.8 341.6 1234.1 341.6 1234.1 337.1 1241.4 337.1 1241.4 340.3 1248.7 340.3 1248.7 344.2 1256.0 344.2 1256.0 341.6 1263.3 341.6 1263.3 345.5 1270.6 345.5 1270.6 348.0 1277.9 348.0 1277.9 348.0 1285.2 348.0 1285.2 349.9 1292.5 349.9 1292.5 349.3 1299.8 349.3 1299.8 349.3 1307.1 349.3 1307.1 349.3 1314.4 349.3 1314.4 349.3 1321.7 349.3 1321.7 349.3 1329.0 349.3 1329.0 349.3 1336.3 349.3 1336.3 349.3 1343.6 349.3 1343.6 349.3 1350.9 349.3 1350.9 333.3 1358.2 333.3 1358.2 335.2 1365.5 335.2" fill="none" stroke="#e3e31a" stroke-width="2" stroke-linejoin="miter"/>
<text x="1127" y="229.5" font-size="24">Trial 5</text>
<text x="0" y="0" font-size="24" text-anchor="middle" transform="translate(1045,205) rotate(-90)">Density</text>
<path d="M1114 481.5 V596 H1504" fill="none" stroke="#000" stroke-width="2.4"/><line x1="1109" y1="596" x2="1114" y2="596" stroke="#000" stroke-width="2"/><text x="1104" y="604.5" font-size="24" text-anchor="end">0</text><line x1="1109" y1="493.5" x2="1114" y2="493.5" stroke="#000" stroke-width="2"/><text x="1104" y="502" font-size="24" text-anchor="end">0.15</text><line x1="1114" y1="596" x2="1114" y2="601" stroke="#000" stroke-width="2"/><text x="1114" y="626" font-size="24" text-anchor="middle">0</text><line x1="1484" y1="596" x2="1484" y2="601" stroke="#000" stroke-width="2"/><text x="1484" y="626" font-size="24" text-anchor="middle">14000</text>
<path d="M1115.0 593.0 1117.2 593.0 1117.2 593.0 1124.7 593.0 1124.7 593.0 1132.2 593.0 1132.2 593.0 1139.7 593.0 1139.7 580.3 1147.2 580.3 1147.2 583.0 1154.6 583.0 1154.6 583.0 1162.1 583.0 1162.1 585.4 1169.6 585.4 1169.6 586.0 1177.1 586.0 1177.1 585.4 1184.6 585.4 1184.6 587.3 1192.1 587.3 1192.1 586.7 1199.6 586.7 1199.6 584.8 1207.1 584.8 1207.1 584.8 1214.6 584.8 1214.6 584.1 1222.0 584.1 1222.0 583.5 1229.5 583.5 1229.5 583.5 1237.0 583.5 1237.0 582.8 1244.5 582.8 1244.5 582.8 1252.0 582.8 1252.0 581.6 1259.5 581.6 1259.5 580.3 1267.0 580.3 1267.0 577.1 1274.5 577.1 1274.5 580.3 1282.0 580.3 1282.0 581.6 1289.5 581.6 1289.5 582.0 1297.0 582.0 1297.0 580.3 1304.4 580.3 1304.4 574.0 1311.9 574.0 1311.9 576.4 1319.4 576.4 1319.4 562.3 1326.9 562.3 1326.9 563.6 1334.4 563.6 1334.4 574.0 1341.9 574.0 1341.9 578.4 1349.4 578.4 1349.4 579.6 1356.9 579.6" fill="none" stroke="#9a4a1e" stroke-width="2" stroke-linejoin="miter"/><path d="M1115.0 593.0 1117.2 593.0 1117.2 593.0 1124.7 593.0 1124.7 593.0 1132.2 593.0 1132.2 593.0 1139.7 593.0 1139.7 593.0 1147.2 593.0 1147.2 593.0 1154.6 593.0 1154.6 593.0 1162.1 593.0 1162.1 593.0 1169.6 593.0 1169.6 593.0 1177.1 593.0 1177.1 593.0 1184.6 593.0 1184.6 593.0 1192.1 593.0 1192.1 593.0 1199.6 593.0 1199.6 593.0 1207.1 593.0 1207.1 593.0 1214.6 593.0 1214.6 593.0 1222.0 593.0 1222.0 593.0 1229.5 593.0 1229.5 593.0 1237.0 593.0 1237.0 593.0 1244.5 593.0 1244.5 593.0 1252.0 593.0 1252.0 593.0 1259.5 593.0 1259.5 593.0 1267.0 593.0 1267.0 593.0 1274.5 593.0 1274.5 593.0 1282.0 593.0 1282.0 593.0 1289.5 593.0 1289.5 593.0 1297.0 593.0 1297.0 593.0 1304.4 593.0 1304.4 593.0 1311.9 593.0 1311.9 593.0 1319.4 593.0 1319.4 593.0 1326.9 593.0 1326.9 593.0 1334.4 593.0 1334.4 592.0 1341.9 592.0 1341.9 590.5 1349.4 590.5 1349.4 590.0 1356.9 590.0" fill="none" stroke="#3a7cc8" stroke-width="2" stroke-linejoin="miter"/><path d="M1115.0 593.0 1117.2 593.0 1117.2 593.0 1124.7 593.0 1124.7 593.0 1132.2 593.0 1132.2 593.0 1139.7 593.0 1139.7 593.0 1147.2 593.0 1147.2 593.0 1154.6 593.0 1154.6 590.0 1162.1 590.0 1162.1 590.0 1169.6 590.0 1169.6 590.0 1177.1 590.0 1177.1 590.0 1184.6 590.0 1184.6 590.0 1192.1 590.0 1192.1 590.0 1199.6 590.0 1199.6 590.0 1207.1 590.0 1207.1 590.0 1214.6 590.0 1214.6 590.0 1222.0 590.0 1222.0 584.1 1229.5 584.1 1229.5 584.1 1237.0 584.1 1237.0 584.1 1244.5 584.1 1244.5 584.1 1252.0 584.1 1252.0 582.8 1259.5 582.8 1259.5 575.1 1267.0 575.1 1267.0 567.5 1274.5 567.5 1274.5 562.3 1282.0 562.3 1282.0 557.2 1289.5 557.2 1289.5 548.2 1297.0 548.2 1297.0 550.8 1304.4 550.8 1304.4 566.2 1311.9 566.2 1311.9 558.5 1319.4 558.5 1319.4 562.3 1326.9 562.3 1326.9 566.2 1334.4 566.2 1334.4 567.5 1341.9 567.5 1341.9 572.0 1349.4 572.0 1349.4 584.1 1356.9 584.1" fill="none" stroke="#3cb43c" stroke-width="2" stroke-linejoin="miter"/><path d="M1115.0 593.7 1117.2 593.7 1117.2 593.7 1124.7 593.7 1124.7 593.7 1132.2 593.7 1132.2 593.7 1139.7 593.7 1139.7 588.6 1147.2 588.6 1147.2 587.3 1154.6 587.3 1154.6 590.5 1162.1 590.5 1162.1 586.0 1169.6 586.0 1169.6 587.3 1177.1 587.3 1177.1 590.5 1184.6 590.5 1184.6 590.5 1192.1 590.5 1192.1 590.5 1199.6 590.5 1199.6 590.5 1207.1 590.5 1207.1 589.2 1214.6 589.2 1214.6 588.6 1222.0 588.6 1222.0 588.0 1229.5 588.0 1229.5 587.3 1237.0 587.3 1237.0 587.3 1244.5 587.3 1244.5 587.3 1252.0 587.3 1252.0 585.4 1259.5 585.4 1259.5 584.8 1267.0 584.8 1267.0 580.3 1274.5 580.3 1274.5 581.6 1282.0 581.6 1282.0 581.6 1289.5 581.6 1289.5 581.6 1297.0 581.6 1297.0 583.5 1304.4 583.5 1304.4 566.2 1311.9 566.2 1311.9 564.9 1319.4 564.9 1319.4 568.0 1326.9 568.0 1326.9 563.6 1334.4 563.6 1334.4 562.3 1341.9 562.3 1341.9 546.3 1349.4 546.3 1349.4 568.7 1356.9 568.7" fill="none" stroke="#7a28a8" stroke-width="2" stroke-linejoin="miter"/><path d="M1115.0 586.7 1117.2 586.7 1117.2 586.7 1124.7 586.7 1124.7 593.7 1132.2 593.7 1132.2 590.5 1139.7 590.5 1139.7 593.7 1147.2 593.7 1147.2 593.7 1154.6 593.7 1154.6 558.5 1162.1 558.5 1162.1 557.2 1169.6 557.2 1169.6 558.0 1177.1 558.0 1177.1 552.7 1184.6 552.7 1184.6 556.6 1192.1 556.6 1192.1 552.7 1199.6 552.7 1199.6 556.6 1207.1 556.6 1207.1 554.7 1214.6 554.7 1214.6 560.4 1222.0 560.4 1222.0 557.2 1229.5 557.2 1229.5 559.1 1237.0 559.1 1237.0 561.1 1244.5 561.1 1244.5 563.0 1252.0 563.0 1252.0 563.6 1259.5 563.6 1259.5 566.8 1267.0 566.8 1267.0 567.5 1274.5 567.5 1274.5 581.6 1282.0 581.6 1282.0 585.4 1289.5 585.4 1289.5 586.0 1297.0 586.0 1297.0 587.3 1304.4 587.3 1304.4 590.0 1311.9 590.0 1311.9 593.7 1319.4 593.7 1319.4 593.7 1326.9 593.7 1326.9 593.7 1334.4 593.7 1334.4 593.7 1341.9 593.7 1341.9 593.7 1349.4 593.7 1349.4 593.7 1356.9 593.7" fill="none" stroke="#e0141e" stroke-width="2" stroke-linejoin="miter"/><path d="M1115.0 520.0 1117.2 520.0 1117.2 484.2 1124.7 484.2 1124.7 501.0 1132.2 501.0 1132.2 501.5 1139.7 501.5 1139.7 545.7 1147.2 545.7 1147.2 566.2 1154.6 566.2 1154.6 586.7 1162.1 586.7 1162.1 592.5 1169.6 592.5 1169.6 592.5 1177.1 592.5 1177.1 592.5 1184.6 592.5 1184.6 592.5 1192.1 592.5 1192.1 592.5 1199.6 592.5 1199.6 592.5 1207.1 592.5 1207.1 592.5 1214.6 592.5 1214.6 592.5 1222.0 592.5 1222.0 592.5 1229.5 592.5 1229.5 592.5 1237.0 592.5 1237.0 592.5 1244.5 592.5 1244.5 590.0 1252.0 590.0 1252.0 590.0 1259.5 590.0 1259.5 590.0 1267.0 590.0 1267.0 592.5 1274.5 592.5 1274.5 592.5 1282.0 592.5 1282.0 592.5 1289.5 592.5 1289.5 592.5 1297.0 592.5 1297.0 592.5 1304.4 592.5 1304.4 589.2 1311.9 589.2 1311.9 586.7 1319.4 586.7 1319.4 583.0 1326.9 583.0 1326.9 579.0 1334.4 579.0 1334.4 576.4 1341.9 576.4 1341.9 572.6 1349.4 572.6 1349.4 572.6 1356.9 572.6" fill="none" stroke="#e3e31a" stroke-width="2" stroke-linejoin="miter"/>
<line x1="1364" y1="595" x2="1447" y2="595" stroke="#222" stroke-width="2"/>
<text x="1127" y="475" font-size="24">Trial 16</text>
<path d="M1114 658 V773 H1504" fill="none" stroke="#000" stroke-width="2.4"/><line x1="1109" y1="773" x2="1114" y2="773" stroke="#000" stroke-width="2"/><text x="1104" y="781.5" font-size="24" text-anchor="end">0</text><line x1="1109" y1="662.7" x2="1114" y2="662.7" stroke="#000" stroke-width="2"/><text x="1104" y="671.2" font-size="24" text-anchor="end">0.15</text><line x1="1114" y1="773" x2="1114" y2="778" stroke="#000" stroke-width="2"/><text x="1114" y="803" font-size="24" text-anchor="middle">0</text><line x1="1484" y1="773" x2="1484" y2="778" stroke="#000" stroke-width="2"/><text x="1484" y="803" font-size="24" text-anchor="middle">14000</text>
<path d="M1115.0 763.0 1116.9 763.0 1116.9 763.0 1124.4 763.0 1124.4 763.0 1131.9 763.0 1131.9 765.0 1139.3 765.0 1139.3 765.0 1146.8 765.0 1146.8 765.0 1154.3 765.0 1154.3 765.0 1161.7 765.0 1161.7 765.0 1169.2 765.0 1169.2 765.0 1176.7 765.0 1176.7 763.0 1184.2 763.0 1184.2 765.6 1191.6 765.6 1191.6 767.0 1199.1 767.0 1199.1 767.0 1206.6 767.0 1206.6 763.0 1214.0 763.0 1214.0 767.0 1221.5 767.0 1221.5 765.0 1229.0 765.0 1229.0 764.6 1236.4 764.6 1236.4 759.6 1243.9 759.6 1243.9 755.2 1251.4 755.2 1251.4 762.1 1258.9 762.1 1258.9 760.6 1266.3 760.6 1266.3 762.1 1273.8 762.1 1273.8 763.0 1281.3 763.0 1281.3 759.1 1288.7 759.1 1288.7 760.1 1296.2 760.1 1296.2 757.7 1303.7 757.7 1303.7 762.6 1311.1 762.6 1311.1 758.1 1318.6 758.1 1318.6 760.6 1326.1 760.6 1326.1 760.6 1333.5 760.6 1333.5 755.7 1341.0 755.7 1341.0 757.7 1348.5 757.7 1348.5 756.7 1356.0 756.7 1356.0 760.1 1363.4 760.1 1363.4 763.6 1370.9 763.6 1370.9 761.1 1378.4 761.1 1378.4 762.6 1385.8 762.6 1385.8 762.6 1393.3 762.6 1393.3 763.0 1400.8 763.0 1400.8 766.0 1408.2 766.0 1408.2 767.0 1415.7 767.0 1415.7 765.0 1423.2 765.0 1423.2 766.6 1430.7 766.6 1430.7 764.0 1438.1 764.0 1438.1 765.0 1445.6 765.0 1445.6 764.6 1453.1 764.6 1453.1 764.0 1460.5 764.0 1460.5 760.6 1468.0 760.6 1468.0 744.3 1475.5 744.3 1475.5 743.8 1483.0 743.8" fill="none" stroke="#9a4a1e" stroke-width="2" stroke-linejoin="miter"/><path d="M1115.0 770.0 1116.9 770.0 1116.9 770.0 1124.4 770.0 1124.4 770.0 1131.9 770.0 1131.9 770.0 1139.3 770.0 1139.3 770.0 1146.8 770.0 1146.8 770.0 1154.3 770.0 1154.3 770.0 1161.7 770.0 1161.7 770.0 1169.2 770.0 1169.2 770.0 1176.7 770.0 1176.7 770.0 1184.2 770.0 1184.2 770.0 1191.6 770.0 1191.6 770.0 1199.1 770.0 1199.1 770.0 1206.6 770.0 1206.6 770.0 1214.0 770.0 1214.0 770.0 1221.5 770.0 1221.5 770.0 1229.0 770.0 1229.0 770.0 1236.4 770.0 1236.4 770.0 1243.9 770.0 1243.9 770.0 1251.4 770.0 1251.4 770.0 1258.9 770.0 1258.9 770.0 1266.3 770.0 1266.3 770.0 1273.8 770.0 1273.8 770.0 1281.3 770.0 1281.3 770.0 1288.7 770.0 1288.7 770.0 1296.2 770.0 1296.2 770.0 1303.7 770.0 1303.7 770.0 1311.1 770.0 1311.1 770.0 1318.6 770.0 1318.6 770.0 1326.1 770.0 1326.1 767.0 1333.5 767.0 1333.5 766.0 1341.0 766.0 1341.0 764.0 1348.5 764.0 1348.5 754.7 1356.0 754.7 1356.0 747.3 1363.4 747.3 1363.4 754.2 1370.9 754.2 1370.9 740.0 1378.4 740.0 1378.4 743.8 1385.8 743.8 1385.8 731.4 1393.3 731.4 1393.3 728.0 1400.8 728.0 1400.8 725.0 1408.2 725.0 1408.2 741.3 1415.7 741.3 1415.7 719.6 1423.2 719.6 1423.2 722.0 1430.7 722.0 1430.7 725.0 1438.1 725.0 1438.1 747.3 1445.6 747.3 1445.6 712.0 1453.1 712.0 1453.1 725.0 1460.5 725.0 1460.5 730.4 1468.0 730.4 1468.0 735.4 1475.5 735.4 1475.5 759.6 1483.0 759.6" fill="none" stroke="#3a7cc8" stroke-width="2" stroke-linejoin="miter"/><path d="M1115.0 769.0 1116.9 769.0 1116.9 769.0 1124.4 769.0 1124.4 769.0 1131.9 769.0 1131.9 769.0 1139.3 769.0 1139.3 768.0 1146.8 768.0 1146.8 768.0 1154.3 768.0 1154.3 768.0 1161.7 768.0 1161.7 766.6 1169.2 766.6 1169.2 767.0 1176.7 767.0 1176.7 769.0 1184.2 769.0 1184.2 769.0 1191.6 769.0 1191.6 769.0 1199.1 769.0 1199.1 769.0 1206.6 769.0 1206.6 765.0 1214.0 765.0 1214.0 768.0 1221.5 768.0 1221.5 762.1 1229.0 762.1 1229.0 759.1 1236.4 759.1 1236.4 759.1 1243.9 759.1 1243.9 757.2 1251.4 757.2 1251.4 755.2 1258.9 755.2 1258.9 754.2 1266.3 754.2 1266.3 747.3 1273.8 747.3 1273.8 746.3 1281.3 746.3 1281.3 741.3 1288.7 741.3 1288.7 728.5 1296.2 728.5 1296.2 729.0 1303.7 729.0 1303.7 728.5 1311.1 728.5 1311.1 728.5 1318.6 728.5 1318.6 728.5 1326.1 728.5 1326.1 728.5 1333.5 728.5 1333.5 736.4 1341.0 736.4 1341.0 735.0 1348.5 735.0 1348.5 735.0 1356.0 735.0 1356.0 735.0 1363.4 735.0 1363.4 747.3 1370.9 747.3 1370.9 741.3 1378.4 741.3 1378.4 755.7 1385.8 755.7 1385.8 755.7 1393.3 755.7 1393.3 761.1 1400.8 761.1 1400.8 764.0 1408.2 764.0 1408.2 764.0 1415.7 764.0 1415.7 759.6 1423.2 759.6 1423.2 763.0 1430.7 763.0 1430.7 763.0 1438.1 763.0 1438.1 763.0 1445.6 763.0 1445.6 763.0 1453.1 763.0 1453.1 769.0 1460.5 769.0 1460.5 769.0 1468.0 769.0 1468.0 769.0 1475.5 769.0 1475.5 769.0 1483.0 769.0" fill="none" stroke="#3cb43c" stroke-width="2" stroke-linejoin="miter"/><path d="M1115.0 766.0 1116.9 766.0 1116.9 768.0 1124.4 768.0 1124.4 768.0 1131.9 768.0 1131.9 768.0 1139.3 768.0 1139.3 766.0 1146.8 766.0 1146.8 765.0 1154.3 765.0 1154.3 764.0 1161.7 764.0 1161.7 762.6 1169.2 762.6 1169.2 762.6 1176.7 762.6 1176.7 763.0 1184.2 763.0 1184.2 765.0 1191.6 765.0 1191.6 766.6 1199.1 766.6 1199.1 768.0 1206.6 768.0 1206.6 761.6 1214.0 761.6 1214.0 767.0 1221.5 767.0 1221.5 761.6 1229.0 761.6 1229.0 758.1 1236.4 758.1 1236.4 751.2 1243.9 751.2 1243.9 749.2 1251.4 749.2 1251.4 747.3 1258.9 747.3 1258.9 747.3 1266.3 747.3 1266.3 746.8 1273.8 746.8 1273.8 741.3 1281.3 741.3 1281.3 744.3 1288.7 744.3 1288.7 735.4 1296.2 735.4 1296.2 735.4 1303.7 735.4 1303.7 745.3 1311.1 745.3 1311.1 745.3 1318.6 745.3 1318.6 733.4 1326.1 733.4 1326.1 733.4 1333.5 733.4 1333.5 740.3 1341.0 740.3 1341.0 746.3 1348.5 746.3 1348.5 751.2 1356.0 751.2 1356.0 755.7 1363.4 755.7 1363.4 759.6 1370.9 759.6 1370.9 752.7 1378.4 752.7 1378.4 763.6 1385.8 763.6 1385.8 759.6 1393.3 759.6 1393.3 761.1 1400.8 761.1 1400.8 756.2 1408.2 756.2 1408.2 762.6 1415.7 762.6 1415.7 762.1 1423.2 762.1 1423.2 762.1 1430.7 762.1 1430.7 763.6 1438.1 763.6 1438.1 766.0 1445.6 766.0 1445.6 755.7 1453.1 755.7 1453.1 758.1 1460.5 758.1 1460.5 767.0 1468.0 767.0 1468.0 766.6 1475.5 766.6 1475.5 763.6 1483.0 763.6" fill="none" stroke="#7a28a8" stroke-width="2" stroke-linejoin="miter"/><path d="M1115.0 763.0 1116.9 763.0 1116.9 763.0 1124.4 763.0 1124.4 760.6 1131.9 760.6 1131.9 766.6 1139.3 766.6 1139.3 762.6 1146.8 762.6 1146.8 752.2 1154.3 752.2 1154.3 738.8 1161.7 738.8 1161.7 742.3 1169.2 742.3 1169.2 739.8 1176.7 739.8 1176.7 727.5 1184.2 727.5 1184.2 732.0 1191.6 732.0 1191.6 732.0 1199.1 732.0 1199.1 718.0 1206.6 718.0 1206.6 708.7 1214.0 708.7 1214.0 742.3 1221.5 742.3 1221.5 728.5 1229.0 728.5 1229.0 721.5 1236.4 721.5 1236.4 744.3 1243.9 744.3 1243.9 749.7 1251.4 749.7 1251.4 748.3 1258.9 748.3 1258.9 748.3 1266.3 748.3 1266.3 747.3 1273.8 747.3 1273.8 755.2 1281.3 755.2 1281.3 762.6 1288.7 762.6 1288.7 762.6 1296.2 762.6 1296.2 763.0 1303.7 763.0 1303.7 766.6 1311.1 766.6 1311.1 768.0 1318.6 768.0 1318.6 768.0 1326.1 768.0 1326.1 769.0 1333.5 769.0 1333.5 769.0 1341.0 769.0 1341.0 769.0 1348.5 769.0 1348.5 769.0 1356.0 769.0 1356.0 770.5 1363.4 770.5 1363.4 770.5 1370.9 770.5 1370.9 770.5 1378.4 770.5 1378.4 770.5 1385.8 770.5 1385.8 770.5 1393.3 770.5 1393.3 770.5 1400.8 770.5 1400.8 770.5 1408.2 770.5 1408.2 770.5 1415.7 770.5 1415.7 770.5 1423.2 770.5 1423.2 770.5 1430.7 770.5 1430.7 770.5 1438.1 770.5 1438.1 770.5 1445.6 770.5 1445.6 770.5 1453.1 770.5 1453.1 770.5 1460.5 770.5 1460.5 770.5 1468.0 770.5 1468.0 770.5 1475.5 770.5 1475.5 770.5 1483.0 770.5" fill="none" stroke="#e0141e" stroke-width="2" stroke-linejoin="miter"/><path d="M1115.0 686.0 1116.9 686.0 1116.9 690.0 1124.4 690.0 1124.4 689.0 1131.9 689.0 1131.9 661.0 1139.3 661.0 1139.3 675.0 1146.8 675.0 1146.8 710.6 1154.3 710.6 1154.3 741.3 1161.7 741.3 1161.7 744.3 1169.2 744.3 1169.2 746.3 1176.7 746.3 1176.7 767.0 1184.2 767.0 1184.2 769.0 1191.6 769.0 1191.6 769.0 1199.1 769.0 1199.1 769.0 1206.6 769.0 1206.6 769.0 1214.0 769.0 1214.0 769.0 1221.5 769.0 1221.5 769.0 1229.0 769.0 1229.0 769.0 1236.4 769.0 1236.4 765.0 1243.9 765.0 1243.9 765.0 1251.4 765.0 1251.4 765.0 1258.9 765.0 1258.9 766.0 1266.3 766.0 1266.3 768.0 1273.8 768.0 1273.8 768.0 1281.3 768.0 1281.3 768.0 1288.7 768.0 1288.7 768.0 1296.2 768.0 1296.2 769.0 1303.7 769.0 1303.7 769.0 1311.1 769.0 1311.1 769.0 1318.6 769.0 1318.6 769.0 1326.1 769.0 1326.1 769.0 1333.5 769.0 1333.5 769.0 1341.0 769.0 1341.0 769.0 1348.5 769.0 1348.5 769.0 1356.0 769.0 1356.0 769.0 1363.4 769.0 1363.4 769.0 1370.9 769.0 1370.9 769.0 1378.4 769.0 1378.4 769.0 1385.8 769.0 1385.8 769.0 1393.3 769.0 1393.3 769.0 1400.8 769.0 1400.8 769.0 1408.2 769.0 1408.2 769.0 1415.7 769.0 1415.7 769.0 1423.2 769.0 1423.2 769.0 1430.7 769.0 1430.7 769.0 1438.1 769.0 1438.1 769.0 1445.6 769.0 1445.6 769.0 1453.1 769.0 1453.1 769.0 1460.5 769.0 1460.5 769.0 1468.0 769.0 1468.0 766.0 1475.5 766.0 1475.5 766.0 1483.0 766.0" fill="none" stroke="#e3e31a" stroke-width="2" stroke-linejoin="miter"/>
<text x="1127" y="648" font-size="24">Trial 21</text>
<text x="0" y="0" font-size="24" text-anchor="middle" transform="translate(1045,625) rotate(-90)">Density</text>
<path d="M1113 904 V1021 H1503" fill="none" stroke="#000" stroke-width="2.4"/><line x1="1108" y1="1021" x2="1113" y2="1021" stroke="#000" stroke-width="2"/><text x="1103" y="1029.5" font-size="24" text-anchor="end">0</text><line x1="1108" y1="908.3" x2="1113" y2="908.3" stroke="#000" stroke-width="2"/><text x="1103" y="916.8" font-size="24" text-anchor="end">0.1</text><line x1="1113" y1="1021" x2="1113" y2="1026" stroke="#000" stroke-width="2"/><text x="1113" y="1051" font-size="24" text-anchor="middle">0</text><line x1="1452" y1="1021" x2="1452" y2="1026" stroke="#000" stroke-width="2"/><text x="1452" y="1051" font-size="24" text-anchor="middle">30000</text>
<path d="M1114.0 1016.4 1117.5 1016.4 1117.5 1016.4 1125.1 1016.4 1125.1 1016.4 1132.6 1016.4 1132.7 1016.4 1140.2 1016.4 1140.2 1016.4 1147.8 1016.4 1147.8 1016.4 1155.3 1016.4 1155.3 1016.4 1162.8 1016.4 1162.8 1016.4 1170.4 1016.4 1170.4 1016.4 1178.0 1016.4 1178.0 1016.4 1185.5 1016.4 1185.5 1016.4 1193.0 1016.4 1193.0 1016.4 1200.6 1016.4 1200.6 1016.4 1208.1 1016.4 1208.2 1016.4 1215.7 1016.4 1215.7 1016.4 1223.2 1016.4 1223.2 1011.3 1230.8 1011.3 1230.8 1006.1 1238.3 1006.1 1238.3 1003.0 1245.9 1003.0 1245.9 998.0 1253.5 998.0 1253.5 982.4 1261.0 982.4 1261.0 976.8 1268.5 976.8 1268.5 975.7 1276.1 975.7 1276.1 974.7 1283.6 974.7 1283.7 973.2 1291.2 973.2 1291.2 967.0 1298.8 967.0 1298.8 968.0 1306.3 968.0 1306.3 965.0 1313.8 965.0 1313.8 961.3 1321.4 961.3 1321.4 974.7 1329.0 974.7 1329.0 972.1 1336.5 972.1 1336.5 975.7 1344.0 975.7 1344.0 989.1 1351.6 989.1 1351.6 989.1 1359.1 989.1 1359.2 1016.4 1366.7 1016.4" fill="none" stroke="#9a4a1e" stroke-width="2" stroke-linejoin="miter"/><path d="M1114.0 1008.2 1117.5 1008.2 1117.5 1017.4 1125.1 1017.4 1125.1 1017.4 1132.6 1017.4 1132.7 1017.4 1140.2 1017.4 1140.2 1017.4 1147.8 1017.4 1147.8 1017.4 1155.3 1017.4 1155.3 1017.4 1162.8 1017.4 1162.8 1017.4 1170.4 1017.4 1170.4 1017.4 1178.0 1017.4 1178.0 1017.4 1185.5 1017.4 1185.5 1017.4 1193.0 1017.4 1193.0 1017.4 1200.6 1017.4 1200.6 1017.4 1208.1 1017.4 1208.2 1017.4 1215.7 1017.4 1215.7 1017.4 1223.2 1017.4 1223.2 1010.7 1230.8 1010.7 1230.8 1005.0 1238.3 1005.0 1238.3 1001.0 1245.9 1001.0 1245.9 1004.0 1253.5 1004.0 1253.5 991.7 1261.0 991.7 1261.0 993.2 1268.5 993.2 1268.5 993.8 1276.1 993.8 1276.1 997.4 1283.6 997.4 1283.7 1004.0 1291.2 1004.0 1291.2 1004.6 1298.8 1004.6 1298.8 1000.0 1306.3 1000.0 1306.3 1004.0 1313.8 1004.0 1313.8 1004.6 1321.4 1004.6 1321.4 998.9 1329.0 998.9 1329.0 998.9 1336.5 998.9 1336.5 1000.0 1344.0 1000.0 1344.0 998.9 1351.6 998.9 1351.6 1000.0 1359.1 1000.0 1359.2 1007.6 1366.7 1007.6" fill="none" stroke="#3a7cc8" stroke-width="2" stroke-linejoin="miter"/><path d="M1114.0 1002.5 1117.5 1002.5 1117.5 1011.3 1125.1 1011.3 1125.1 1006.1 1132.6 1006.1 1132.7 1003.5 1140.2 1003.5 1140.2 1001.5 1147.8 1001.5 1147.8 1000.0 1155.3 1000.0 1155.3 1000.0 1162.8 1000.0 1162.8 1003.0 1170.4 1003.0 1170.4 991.2 1178.0 991.2 1178.0 991.2 1185.5 991.2 1185.5 994.8 1193.0 994.8 1193.0 991.7 1200.6 991.7 1200.6 993.2 1208.1 993.2 1208.2 994.3 1215.7 994.3 1215.7 995.3 1223.2 995.3 1223.2 998.4 1230.8 998.4 1230.8 993.8 1238.3 993.8 1238.3 998.4 1245.9 998.4 1245.9 1001.0 1253.5 1001.0 1253.5 1007.6 1261.0 1007.6 1261.0 1005.6 1268.5 1005.6 1268.5 1005.6 1276.1 1005.6 1276.1 1005.6 1283.6 1005.6 1283.7 1007.6 1291.2 1007.6 1291.2 1005.0 1298.8 1005.0 1298.8 1011.3 1306.3 1011.3 1306.3 1012.3 1313.8 1012.3 1313.8 1013.3 1321.4 1013.3 1321.4 1006.1 1329.0 1006.1 1329.0 1009.7 1336.5 1009.7 1336.5 1004.0 1344.0 1004.0 1344.0 997.4 1351.6 997.4 1351.6 991.2 1359.1 991.2 1359.2 1005.0 1366.7 1005.0" fill="none" stroke="#3cb43c" stroke-width="2" stroke-linejoin="miter"/><path d="M1114.0 1014.3 1117.5 1014.3 1117.5 1016.4 1125.1 1016.4 1125.1 1016.4 1132.6 1016.4 1132.7 1016.4 1140.2 1016.4 1140.2 1016.4 1147.8 1016.4 1147.8 1016.4 1155.3 1016.4 1155.3 1016.4 1162.8 1016.4 1162.8 1015.0 1170.4 1015.0 1170.4 1015.0 1178.0 1015.0 1178.0 1015.0 1185.5 1015.0 1185.5 1015.0 1193.0 1015.0 1193.0 1009.7 1200.6 1009.7 1200.6 1010.7 1208.1 1010.7 1208.2 1010.7 1215.7 1010.7 1215.7 1010.7 1223.2 1010.7 1223.2 1000.4 1230.8 1000.4 1230.8 989.6 1238.3 989.6 1238.3 984.5 1245.9 984.5 1245.9 909.0 1253.5 909.0 1253.5 915.5 1261.0 915.5 1261.0 988.1 1268.5 988.1 1268.5 987.0 1276.1 987.0 1276.1 985.5 1283.6 985.5 1283.7 919.1 1291.2 919.1 1291.2 1007.6 1298.8 1007.6 1298.8 1000.0 1306.3 1000.0 1306.3 1001.5 1313.8 1001.5 1313.8 1012.3 1321.4 1012.3 1321.4 992.2 1329.0 992.2 1329.0 1009.7 1336.5 1009.7 1336.5 1003.5 1344.0 1003.5 1344.0 1002.5 1351.6 1002.5 1351.6 1007.6 1359.1 1007.6 1359.2 1010.7 1366.7 1010.7" fill="none" stroke="#7a28a8" stroke-width="2" stroke-linejoin="miter"/><path d="M1114.0 995.8 1117.5 995.8 1117.5 1017.4 1125.1 1017.4 1125.1 1017.4 1132.6 1017.4 1132.7 1017.4 1140.2 1017.4 1140.2 1017.4 1147.8 1017.4 1147.8 1017.4 1155.3 1017.4 1155.3 1017.4 1162.8 1017.4 1162.8 1017.4 1170.4 1017.4 1170.4 1017.4 1178.0 1017.4 1178.0 1017.4 1185.5 1017.4 1185.5 1017.4 1193.0 1017.4 1193.0 1017.4 1200.6 1017.4 1200.6 1017.4 1208.1 1017.4 1208.2 1017.4 1215.7 1017.4 1215.7 1017.4 1223.2 1017.4 1223.2 1015.4 1230.8 1015.4 1230.8 1012.3 1238.3 1012.3 1238.3 1012.8 1245.9 1012.8 1245.9 1011.3 1253.5 1011.3 1253.5 1015.0 1261.0 1015.0 1261.0 1008.2 1268.5 1008.2 1268.5 1008.2 1276.1 1008.2 1276.1 1008.2 1283.6 1008.2 1283.7 1012.3 1291.2 1012.3 1291.2 1013.3 1298.8 1013.3 1298.8 1014.3 1306.3 1014.3 1306.3 1014.3 1313.8 1014.3 1313.8 1014.3 1321.4 1014.3 1321.4 1008.2 1329.0 1008.2 1329.0 1013.3 1336.5 1013.3 1336.5 1006.1 1344.0 1006.1 1344.0 1002.5 1351.6 1002.5 1351.6 995.8 1359.1 995.8 1359.2 1003.0 1366.7 1003.0" fill="none" stroke="#e060c0" stroke-width="2" stroke-linejoin="miter"/><path d="M1114.0 1000.0 1117.5 1000.0 1117.5 1005.0 1125.1 1005.0 1125.1 1003.0 1132.6 1003.0 1132.7 999.4 1140.2 999.4 1140.2 987.0 1147.8 987.0 1147.8 983.5 1155.3 983.5 1155.3 980.4 1162.8 980.4 1162.8 974.2 1170.4 974.2 1170.4 964.4 1178.0 964.4 1178.0 957.2 1185.5 957.2 1185.5 955.2 1193.0 955.2 1193.0 957.7 1200.6 957.7 1200.6 964.0 1208.1 964.0 1208.2 957.7 1215.7 957.7 1215.7 952.6 1223.2 952.6 1223.2 952.6 1230.8 952.6 1230.8 970.0 1238.3 970.0 1238.3 972.7 1245.9 972.7 1245.9 992.7 1253.5 992.7 1253.5 1015.0 1261.0 1015.0 1261.0 1016.4 1268.5 1016.4 1268.5 1016.4 1276.1 1016.4 1276.1 1016.4 1283.6 1016.4 1283.7 1016.4 1291.2 1016.4 1291.2 1015.4 1298.8 1015.4 1298.8 1015.4 1306.3 1015.4 1306.3 1015.4 1313.8 1015.4 1313.8 1015.4 1321.4 1015.4 1321.4 1013.8 1329.0 1013.8 1329.0 1013.8 1336.5 1013.8 1336.5 1012.3 1344.0 1012.3 1344.0 1009.2 1351.6 1009.2 1351.6 1008.2 1359.1 1008.2 1359.2 1014.3 1366.7 1014.3" fill="none" stroke="#e0141e" stroke-width="2" stroke-linejoin="miter"/><path d="M1114.0 961.0 1117.5 961.0 1117.5 923.0 1125.1 923.0 1125.1 930.5 1132.6 930.5 1132.7 933.0 1140.2 933.0 1140.2 938.7 1147.8 938.7 1147.8 956.7 1155.3 956.7 1155.3 955.0 1162.8 955.0 1162.8 964.0 1170.4 964.0 1170.4 969.0 1178.0 969.0 1178.0 983.5 1185.5 983.5 1185.5 990.7 1193.0 990.7 1193.0 991.7 1200.6 991.7 1200.6 993.8 1208.1 993.8 1208.2 995.8 1215.7 995.8 1215.7 997.4 1223.2 997.4 1223.2 1002.5 1230.8 1002.5 1230.8 1003.0 1238.3 1003.0 1238.3 1010.2 1245.9 1010.2 1245.9 1016.4 1253.5 1016.4 1253.5 1018.0 1261.0 1018.0 1261.0 1018.0 1268.5 1018.0 1268.5 1018.0 1276.1 1018.0 1276.1 1018.0 1283.6 1018.0 1283.7 1018.0 1291.2 1018.0 1291.2 1017.4 1298.8 1017.4 1298.8 1017.4 1306.3 1017.4 1306.3 1017.4 1313.8 1017.4 1313.8 1017.4 1321.4 1017.4 1321.4 1017.4 1329.0 1017.4 1329.0 1017.4 1336.5 1017.4 1336.5 1017.4 1344.0 1017.4 1344.0 1017.0 1351.6 1017.0 1351.6 1017.4 1359.1 1017.4 1359.2 1017.4 1366.7 1017.4" fill="none" stroke="#e3e31a" stroke-width="2" stroke-linejoin="miter"/>
<line x1="1366" y1="1020" x2="1484" y2="1020" stroke="#222" stroke-width="2"/>
<text x="1127" y="896" font-size="24">Trial 6</text>
<path d="M1113 1080.6 V1196.5 H1503" fill="none" stroke="#000" stroke-width="2.4"/><line x1="1108" y1="1196.5" x2="1113" y2="1196.5" stroke="#000" stroke-width="2"/><text x="1103" y="1205" font-size="24" text-anchor="end">0</text><line x1="1108" y1="1107.4" x2="1113" y2="1107.4" stroke="#000" stroke-width="2"/><text x="1103" y="1115.9" font-size="24" text-anchor="end">0.1</text><line x1="1113" y1="1196.5" x2="1113" y2="1201.5" stroke="#000" stroke-width="2"/><text x="1113" y="1226.5" font-size="24" text-anchor="middle">0</text><line x1="1452" y1="1196.5" x2="1452" y2="1201.5" stroke="#000" stroke-width="2"/><text x="1452" y="1226.5" font-size="24" text-anchor="middle">30000</text>
<path d="M1114.0 1192.5 1117.9 1192.5 1117.9 1192.5 1125.4 1192.5 1125.4 1192.5 1132.9 1192.5 1132.9 1192.5 1140.4 1192.5 1140.4 1192.5 1147.9 1192.5 1147.9 1192.5 1155.4 1192.5 1155.4 1192.5 1162.9 1192.5 1162.9 1192.5 1170.4 1192.5 1170.4 1192.5 1177.9 1192.5 1177.9 1192.5 1185.4 1192.5 1185.4 1192.5 1192.9 1192.5 1192.9 1192.5 1200.4 1192.5 1200.4 1192.5 1207.9 1192.5 1207.9 1192.5 1215.4 1192.5 1215.4 1192.5 1222.9 1192.5 1222.9 1190.5 1230.4 1190.5 1230.4 1163.5 1237.9 1163.5 1237.9 1163.5 1245.4 1163.5 1245.4 1172.3 1252.9 1172.3 1252.9 1164.6 1260.4 1164.6 1260.4 1161.5 1267.9 1161.5 1267.9 1159.0 1275.4 1159.0 1275.4 1159.0 1282.9 1159.0 1282.9 1162.0 1290.4 1162.0 1290.4 1156.9 1297.9 1156.9 1297.9 1156.9 1305.4 1156.9 1305.4 1156.9 1312.9 1156.9 1312.9 1161.0 1320.4 1161.0 1320.4 1157.5 1327.9 1157.5 1327.9 1157.5 1335.4 1157.5 1335.4 1161.5 1342.9 1161.5 1342.9 1153.3 1350.4 1153.3 1350.4 1152.3 1357.9 1152.3 1357.9 1149.7 1365.4 1149.7 1365.4 1154.8 1372.9 1154.8 1372.9 1153.3 1380.4 1153.3 1380.4 1153.3 1387.9 1153.3 1387.9 1151.8 1395.4 1151.8 1395.4 1156.4 1402.9 1156.4 1402.9 1156.4 1410.4 1156.4 1410.4 1133.7 1417.9 1133.7 1417.9 1180.1 1425.4 1180.1 1425.4 1169.3 1432.9 1169.3 1432.9 1178.5 1440.4 1178.5 1440.4 1185.2 1447.9 1185.2 1447.9 1189.3 1455.4 1189.3 1455.4 1191.9 1462.9 1191.9 1462.9 1194.5 1470.4 1194.5 1470.4 1192.5 1477.9 1192.5 1477.9 1192.5 1485.4 1192.5" fill="none" stroke="#9a4a1e" stroke-width="2" stroke-linejoin="miter"/><path d="M1114.0 1192.5 1117.9 1192.5 1117.9 1192.5 1125.4 1192.5 1125.4 1192.5 1132.9 1192.5 1132.9 1187.3 1140.4 1187.3 1140.4 1187.3 1147.9 1187.3 1147.9 1187.3 1155.4 1187.3 1155.4 1187.3 1162.9 1187.3 1162.9 1184.2 1170.4 1184.2 1170.4 1188.3 1177.9 1188.3 1177.9 1181.1 1185.4 1181.1 1185.4 1185.5 1192.9 1185.5 1192.9 1185.5 1200.4 1185.5 1200.4 1185.5 1207.9 1185.5 1207.9 1185.5 1215.4 1185.5 1215.4 1183.5 1222.9 1183.5 1222.9 1183.5 1230.4 1183.5 1230.4 1183.5 1237.9 1183.5 1237.9 1181.5 1245.4 1181.5 1245.4 1181.5 1252.9 1181.5 1252.9 1180.5 1260.4 1180.5 1260.4 1178.5 1267.9 1178.5 1267.9 1178.5 1275.4 1178.5 1275.4 1178.5 1282.9 1178.5 1282.9 1178.5 1290.4 1178.5 1290.4 1179.0 1297.9 1179.0 1297.9 1179.0 1305.4 1179.0 1305.4 1176.5 1312.9 1176.5 1312.9 1176.5 1320.4 1176.5 1320.4 1177.5 1327.9 1177.5 1327.9 1177.0 1335.4 1177.0 1335.4 1177.0 1342.9 1177.0 1342.9 1177.0 1350.4 1177.0 1350.4 1177.0 1357.9 1177.0 1357.9 1173.4 1365.4 1173.4 1365.4 1169.3 1372.9 1169.3 1372.9 1173.9 1380.4 1173.9 1380.4 1169.3 1387.9 1169.3 1387.9 1166.2 1395.4 1166.2 1395.4 1173.4 1402.9 1173.4 1402.9 1173.4 1410.4 1173.4 1410.4 1144.5 1417.9 1144.5 1417.9 1175.5 1425.4 1175.5 1425.4 1147.1 1432.9 1147.1 1432.9 1148.2 1440.4 1148.2 1440.4 1148.2 1447.9 1148.2 1447.9 1150.7 1455.4 1150.7 1455.4 1153.3 1462.9 1153.3 1462.9 1162.0 1470.4 1162.0 1470.4 1168.7 1477.9 1168.7 1477.9 1163.6 1485.4 1163.6" fill="none" stroke="#3a7cc8" stroke-width="2" stroke-linejoin="miter"/><path d="M1114.0 1151.8 1117.9 1151.8 1117.9 1180.1 1125.4 1180.1 1125.4 1186.2 1132.9 1186.2 1132.9 1185.7 1140.4 1185.7 1140.4 1181.6 1147.9 1181.6 1147.9 1181.6 1155.4 1181.6 1155.4 1181.6 1162.9 1181.6 1162.9 1172.3 1170.4 1172.3 1170.4 1177.5 1177.9 1177.5 1177.9 1170.8 1185.4 1170.8 1185.4 1177.0 1192.9 1177.0 1192.9 1176.5 1200.4 1176.5 1200.4 1171.3 1207.9 1171.3 1207.9 1187.3 1215.4 1187.3 1215.4 1175.5 1222.9 1175.5 1222.9 1185.2 1230.4 1185.2 1230.4 1183.7 1237.9 1183.7 1237.9 1174.4 1245.4 1174.4 1245.4 1183.1 1252.9 1183.1 1252.9 1184.2 1260.4 1184.2 1260.4 1185.2 1267.9 1185.2 1267.9 1185.7 1275.4 1185.7 1275.4 1185.7 1282.9 1185.7 1282.9 1185.7 1290.4 1185.7 1290.4 1186.2 1297.9 1186.2 1297.9 1186.2 1305.4 1186.2 1305.4 1186.2 1312.9 1186.2 1312.9 1186.2 1320.4 1186.2 1320.4 1186.2 1327.9 1186.2 1327.9 1186.2 1335.4 1186.2 1335.4 1186.2 1342.9 1186.2 1342.9 1186.2 1350.4 1186.2 1350.4 1186.2 1357.9 1186.2 1357.9 1185.7 1365.4 1185.7 1365.4 1185.7 1372.9 1185.7 1372.9 1185.7 1380.4 1185.7 1380.4 1185.7 1387.9 1185.7 1387.9 1185.7 1395.4 1185.7 1395.4 1185.7 1402.9 1185.7 1402.9 1185.7 1410.4 1185.7 1410.4 1181.6 1417.9 1181.6 1417.9 1183.1 1425.4 1183.1 1425.4 1170.3 1432.9 1170.3 1432.9 1171.3 1440.4 1171.3 1440.4 1171.3 1447.9 1171.3 1447.9 1171.3 1455.4 1171.3 1455.4 1167.7 1462.9 1167.7 1462.9 1164.6 1470.4 1164.6 1470.4 1145.5 1477.9 1145.5 1477.9 1157.4 1485.4 1157.4" fill="none" stroke="#3cb43c" stroke-width="2" stroke-linejoin="miter"/><path d="M1114.0 1182.6 1117.9 1182.6 1117.9 1186.2 1125.4 1186.2 1125.4 1191.4 1132.9 1191.4 1132.9 1190.4 1140.4 1190.4 1140.4 1190.4 1147.9 1190.4 1147.9 1190.4 1155.4 1190.4 1155.4 1190.4 1162.9 1190.4 1162.9 1186.2 1170.4 1186.2 1170.4 1190.9 1177.9 1190.9 1177.9 1187.3 1185.4 1187.3 1185.4 1193.5 1192.9 1193.5 1192.9 1185.7 1200.4 1185.7 1200.4 1184.7 1207.9 1184.7 1207.9 1189.8 1215.4 1189.8 1215.4 1189.3 1222.9 1189.3 1222.9 1189.3 1230.4 1189.3 1230.4 1189.3 1237.9 1189.3 1237.9 1191.4 1245.4 1191.4 1245.4 1190.4 1252.9 1190.4 1252.9 1190.4 1260.4 1190.4 1260.4 1190.4 1267.9 1190.4 1267.9 1183.7 1275.4 1183.7 1275.4 1190.4 1282.9 1190.4 1282.9 1190.4 1290.4 1190.4 1290.4 1187.8 1297.9 1187.8 1297.9 1187.8 1305.4 1187.8 1305.4 1185.7 1312.9 1185.7 1312.9 1187.8 1320.4 1187.8 1320.4 1185.2 1327.9 1185.2 1327.9 1190.4 1335.4 1190.4 1335.4 1182.6 1342.9 1182.6 1342.9 1183.7 1350.4 1183.7 1350.4 1183.1 1357.9 1183.1 1357.9 1177.0 1365.4 1177.0 1365.4 1176.5 1372.9 1176.5 1372.9 1179.0 1380.4 1179.0 1380.4 1176.5 1387.9 1176.5 1387.9 1161.5 1395.4 1161.5 1395.4 1155.9 1402.9 1155.9 1402.9 1155.9 1410.4 1155.9 1410.4 1114.2 1417.9 1114.2 1417.9 1173.4 1425.4 1173.4 1425.4 1135.8 1432.9 1135.8 1432.9 1130.1 1440.4 1130.1 1440.4 1133.7 1447.9 1133.7 1447.9 1135.8 1455.4 1135.8 1455.4 1109.5 1462.9 1109.5 1462.9 1106.5 1470.4 1106.5 1470.4 1150.2 1477.9 1150.2 1477.9 1175.9 1485.4 1175.9" fill="none" stroke="#7a28a8" stroke-width="2" stroke-linejoin="miter"/><path d="M1114.0 1188.5 1117.9 1188.5 1117.9 1188.5 1125.4 1188.5 1125.4 1188.5 1132.9 1188.5 1132.9 1188.5 1140.4 1188.5 1140.4 1188.5 1147.9 1188.5 1147.9 1188.5 1155.4 1188.5 1155.4 1188.5 1162.9 1188.5 1162.9 1179.0 1170.4 1179.0 1170.4 1188.5 1177.9 1188.5 1177.9 1188.5 1185.4 1188.5 1185.4 1188.5 1192.9 1188.5 1192.9 1188.5 1200.4 1188.5 1200.4 1188.5 1207.9 1188.5 1207.9 1188.5 1215.4 1188.5 1215.4 1180.1 1222.9 1180.1 1222.9 1189.5 1230.4 1189.5 1230.4 1189.5 1237.9 1189.5 1237.9 1189.5 1245.4 1189.5 1245.4 1189.5 1252.9 1189.5 1252.9 1189.5 1260.4 1189.5 1260.4 1189.5 1267.9 1189.5 1267.9 1189.5 1275.4 1189.5 1275.4 1189.5 1282.9 1189.5 1282.9 1189.5 1290.4 1189.5 1290.4 1189.3 1297.9 1189.3 1297.9 1189.3 1305.4 1189.3 1305.4 1189.3 1312.9 1189.3 1312.9 1189.3 1320.4 1189.3 1320.4 1189.3 1327.9 1189.3 1327.9 1189.3 1335.4 1189.3 1335.4 1189.3 1342.9 1189.3 1342.9 1189.3 1350.4 1189.3 1350.4 1189.3 1357.9 1189.3 1357.9 1189.3 1365.4 1189.3 1365.4 1189.3 1372.9 1189.3 1372.9 1189.3 1380.4 1189.3 1380.4 1189.3 1387.9 1189.3 1387.9 1189.3 1395.4 1189.3 1395.4 1189.3 1402.9 1189.3 1402.9 1189.3 1410.4 1189.3 1410.4 1185.2 1417.9 1185.2 1417.9 1185.2 1425.4 1185.2 1425.4 1177.0 1432.9 1177.0 1432.9 1168.2 1440.4 1168.2 1440.4 1162.5 1447.9 1162.5 1447.9 1150.7 1455.4 1150.7 1455.4 1128.1 1462.9 1128.1 1462.9 1128.1 1470.4 1128.1 1470.4 1118.3 1477.9 1118.3 1477.9 1118.3 1485.4 1118.3" fill="none" stroke="#e060c0" stroke-width="2" stroke-linejoin="miter"/><path d="M1114.0 1181.1 1117.9 1181.1 1117.9 1180.1 1125.4 1180.1 1125.4 1181.1 1132.9 1181.1 1132.9 1180.1 1140.4 1180.1 1140.4 1173.4 1147.9 1173.4 1147.9 1161.5 1155.4 1161.5 1155.4 1170.8 1162.9 1170.8 1162.9 1156.4 1170.4 1156.4 1170.4 1162.0 1177.9 1162.0 1177.9 1122.9 1185.4 1122.9 1185.4 1168.2 1192.9 1168.2 1192.9 1135.3 1200.4 1135.3 1200.4 1122.5 1207.9 1122.5 1207.9 1157.4 1215.4 1157.4 1215.4 1120.4 1222.9 1120.4 1222.9 1160.5 1230.4 1160.5 1230.4 1162.5 1237.9 1162.5 1237.9 1129.1 1245.4 1129.1 1245.4 1156.9 1252.9 1156.9 1252.9 1162.0 1260.4 1162.0 1260.4 1159.5 1267.9 1159.5 1267.9 1159.0 1275.4 1159.0 1275.4 1166.7 1282.9 1166.7 1282.9 1167.7 1290.4 1167.7 1290.4 1167.7 1297.9 1167.7 1297.9 1173.9 1305.4 1173.9 1305.4 1168.2 1312.9 1168.2 1312.9 1170.8 1320.4 1170.8 1320.4 1173.4 1327.9 1173.4 1327.9 1177.0 1335.4 1177.0 1335.4 1177.0 1342.9 1177.0 1342.9 1177.0 1350.4 1177.0 1350.4 1183.1 1357.9 1183.1 1357.9 1188.3 1365.4 1188.3 1365.4 1188.3 1372.9 1188.3 1372.9 1188.3 1380.4 1188.3 1380.4 1188.3 1387.9 1188.3 1387.9 1188.3 1395.4 1188.3 1395.4 1188.3 1402.9 1188.3 1402.9 1192.5 1410.4 1192.5 1410.4 1192.5 1417.9 1192.5 1417.9 1192.5 1425.4 1192.5 1425.4 1190.9 1432.9 1190.9 1432.9 1190.9 1440.4 1190.9 1440.4 1193.5 1447.9 1193.5 1447.9 1193.5 1455.4 1193.5 1455.4 1193.5 1462.9 1193.5 1462.9 1193.5 1470.4 1193.5 1470.4 1193.5 1477.9 1193.5 1477.9 1193.5 1485.4 1193.5" fill="none" stroke="#e0141e" stroke-width="2" stroke-linejoin="miter"/><path d="M1114.0 1150.2 1117.9 1150.2 1117.9 1124.5 1125.4 1124.5 1125.4 1085.5 1132.9 1085.5 1132.9 1113.2 1140.4 1113.2 1140.4 1118.3 1147.9 1118.3 1147.9 1118.3 1155.4 1118.3 1155.4 1150.2 1162.9 1150.2 1162.9 1141.5 1170.4 1141.5 1170.4 1162.5 1177.9 1162.5 1177.9 1145.1 1185.4 1145.1 1185.4 1175.9 1192.9 1175.9 1192.9 1157.9 1200.4 1157.9 1200.4 1159.0 1207.9 1159.0 1207.9 1180.1 1215.4 1180.1 1215.4 1159.0 1222.9 1159.0 1222.9 1180.1 1230.4 1180.1 1230.4 1177.0 1237.9 1177.0 1237.9 1163.6 1245.4 1163.6 1245.4 1181.1 1252.9 1181.1 1252.9 1181.1 1260.4 1181.1 1260.4 1183.1 1267.9 1183.1 1267.9 1184.2 1275.4 1184.2 1275.4 1184.2 1282.9 1184.2 1282.9 1184.2 1290.4 1184.2 1290.4 1184.2 1297.9 1184.2 1297.9 1191.4 1305.4 1191.4 1305.4 1191.4 1312.9 1191.4 1312.9 1191.4 1320.4 1191.4 1320.4 1191.4 1327.9 1191.4 1327.9 1191.4 1335.4 1191.4 1335.4 1191.4 1342.9 1191.4 1342.9 1191.4 1350.4 1191.4 1350.4 1191.4 1357.9 1191.4 1357.9 1191.4 1365.4 1191.4 1365.4 1191.4 1372.9 1191.4 1372.9 1191.4 1380.4 1191.4 1380.4 1191.4 1387.9 1191.4 1387.9 1191.4 1395.4 1191.4 1395.4 1191.4 1402.9 1191.4 1402.9 1187.3 1410.4 1187.3 1410.4 1188.3 1417.9 1188.3 1417.9 1188.3 1425.4 1188.3 1425.4 1181.1 1432.9 1181.1 1432.9 1181.1 1440.4 1181.1 1440.4 1182.1 1447.9 1182.1 1447.9 1182.1 1455.4 1182.1 1455.4 1184.7 1462.9 1184.7 1462.9 1184.7 1470.4 1184.7 1470.4 1184.7 1477.9 1184.7 1477.9 1184.7 1485.4 1184.7" fill="none" stroke="#e3e31a" stroke-width="2" stroke-linejoin="miter"/>
<text x="1127" y="1075.7" font-size="24">Trial 10</text>
<text x="0" y="0" font-size="24" text-anchor="middle" transform="translate(1045,1052) rotate(-90)">Density</text>
<text x="1289.5" y="1241" font-size="24" text-anchor="middle">Rank</text>
<path d="M1594.0 345.0 1597.8 345.0 1597.8 345.0 1607.4 345.0 1607.4 345.0 1617.1 345.0 1617.1 345.0 1626.7 345.0 1626.7 345.0 1636.3 345.0 1636.3 345.0 1645.9 345.0 1645.9 345.0 1655.5 345.0 1655.5 345.0 1665.2 345.0 1665.2 345.0 1674.8 345.0 1674.8 345.0 1684.4 345.0 1684.4 345.0 1694.0 345.0 1694.0 342.7 1703.6 342.7 1703.6 342.7 1713.3 342.7 1713.3 340.6 1722.9 340.6 1722.9 336.3 1732.5 336.3 1732.5 330.0 1742.1 330.0 1742.1 323.5 1751.7 323.5 1751.7 315.0 1761.4 315.0 1761.4 303.2 1771.0 303.2 1771.0 268.0 1780.6 268.0 1780.6 265.8 1790.2 265.8 1790.2 254.0 1799.8 254.0 1799.8 220.0 1809.5 220.0 1809.5 201.6 1819.1 201.6 1819.1 186.6 1828.7 186.6 1828.7 179.2 1838.3 179.2 1838.3 179.2 1847.9 179.2 1847.9 160.0 1857.6 160.0 1857.6 174.0 1867.2 174.0 1867.2 160.0 1876.8 160.0 1876.8 184.5 1886.4 184.5 1886.4 228.3 1896.0 228.3 1896.0 239.0 1905.7 239.0 1905.7 268.0 1915.3 268.0 1915.3 296.8 1924.9 296.8 1924.9 302.0 1934.5 302.0 1934.5 314.0 1944.1 314.0 1944.1 327.8 1953.8 327.8 1953.8 336.3 1963.4 336.3 1963.4 339.5 1973.0 339.5 1973.0 341.7 1982.6 341.7 1982.6 343.8 1992.2 343.8 1992.2 343.8 2001.9 343.8 2001.9 343.8 2011.5 343.8 2011.5 343.8 2021.1 343.8 2021.1 345.0 2030.7 345.0 2030.7 345.0 2040.3 345.0 2040.3 345.0 2050.0 345.0 2050.0 345.0 2059.6 345.0 2059.6 345.0 2069.2 345.0 2069.2 351.5 2059.6 351.5 2059.6 351.5 2050.0 351.5 2050.0 351.5 2040.3 351.5 2040.3 351.5 2030.7 351.5 2030.7 351.5 2021.1 351.5 2021.1 351.5 2011.5 351.5 2011.5 351.5 2001.9 351.5 2001.9 351.5 1992.2 351.5 1992.2 351.5 1982.6 351.5 1982.6 350.7 1973.0 350.7 1973.0 348.5 1963.4 348.5 1963.4 345.3 1953.8 345.3 1953.8 336.8 1944.1 336.8 1944.1 323.0 1934.5 323.0 1934.5 311.0 1924.9 311.0 1924.9 305.8 1915.3 305.8 1915.3 277.0 1905.7 277.0 1905.7 248.0 1896.0 248.0 1896.0 237.3 1886.4 237.3 1886.4 193.5 1876.8 193.5 1876.8 169.0 1867.2 169.0 1867.2 183.0 1857.6 183.0 1857.6 169.0 1847.9 169.0 1847.9 188.2 1838.3 188.2 1838.3 188.2 1828.7 188.2 1828.7 195.6 1819.1 195.6 1819.1 210.6 1809.5 210.6 1809.5 229.0 1799.8 229.0 1799.8 263.0 1790.2 263.0 1790.2 274.8 1780.6 274.8 1780.6 277.0 1771.0 277.0 1771.0 312.2 1761.4 312.2 1761.4 324.0 1751.7 324.0 1751.7 332.5 1742.1 332.5 1742.1 339.0 1732.5 339.0 1732.5 345.3 1722.9 345.3 1722.9 349.6 1713.3 349.6 1713.3 351.5 1703.6 351.5 1703.6 351.5 1694.0 351.5 1694.0 351.5 1684.4 351.5 1684.4 351.5 1674.8 351.5 1674.8 351.5 1665.2 351.5 1665.2 351.5 1655.5 351.5 1655.5 351.5 1645.9 351.5 1645.9 351.5 1636.3 351.5 1636.3 351.5 1626.7 351.5 1626.7 351.5 1617.1 351.5 1617.1 351.5 1607.4 351.5 1607.4 351.5 1597.8 351.5 1597.8 351.5 1594.0 351.5Z" fill="#d6aa98" opacity="0.85"/><path d="M1594.0 345.0 1597.8 345.0 1597.8 345.0 1607.4 345.0 1607.4 345.0 1617.1 345.0 1617.1 345.0 1626.7 345.0 1626.7 345.0 1636.3 345.0 1636.3 345.0 1645.9 345.0 1645.9 345.0 1655.5 345.0 1655.5 340.6 1665.2 340.6 1665.2 338.4 1674.8 338.4 1674.8 336.3 1684.4 336.3 1684.4 334.2 1694.0 334.2 1694.0 331.0 1703.6 331.0 1703.6 324.5 1713.3 324.5 1713.3 322.4 1722.9 322.4 1722.9 322.4 1732.5 322.4 1732.5 310.7 1742.1 310.7 1742.1 301.0 1751.7 301.0 1751.7 300.0 1761.4 300.0 1761.4 297.0 1771.0 297.0 1771.0 295.7 1780.6 295.7 1780.6 291.4 1790.2 291.4 1790.2 277.5 1799.8 277.5 1799.8 273.2 1809.5 273.2 1809.5 262.5 1819.1 262.5 1819.1 263.6 1828.7 263.6 1828.7 260.4 1838.3 260.4 1838.3 247.6 1847.9 247.6 1847.9 234.7 1857.6 234.7 1857.6 246.5 1867.2 246.5 1867.2 243.3 1876.8 243.3 1876.8 239.0 1886.4 239.0 1886.4 235.8 1896.0 235.8 1896.0 233.7 1905.7 233.7 1905.7 235.8 1915.3 235.8 1915.3 234.7 1924.9 234.7 1924.9 250.8 1934.5 250.8 1934.5 249.7 1944.1 249.7 1944.1 261.5 1953.8 261.5 1953.8 262.5 1963.4 262.5 1963.4 289.3 1973.0 289.3 1973.0 281.8 1982.6 281.8 1982.6 317.0 1992.2 317.0 1992.2 311.7 2001.9 311.7 2001.9 324.5 2011.5 324.5 2011.5 335.2 2021.1 335.2 2021.1 341.7 2030.7 341.7 2030.7 342.7 2040.3 342.7 2040.3 343.8 2050.0 343.8 2050.0 343.8 2059.6 343.8 2059.6 345.0 2069.2 345.0 2069.2 351.5 2059.6 351.5 2059.6 351.5 2050.0 351.5 2050.0 351.5 2040.3 351.5 2040.3 351.5 2030.7 351.5 2030.7 350.7 2021.1 350.7 2021.1 344.2 2011.5 344.2 2011.5 333.5 2001.9 333.5 2001.9 320.7 1992.2 320.7 1992.2 326.0 1982.6 326.0 1982.6 290.8 1973.0 290.8 1973.0 298.3 1963.4 298.3 1963.4 271.5 1953.8 271.5 1953.8 270.5 1944.1 270.5 1944.1 258.7 1934.5 258.7 1934.5 259.8 1924.9 259.8 1924.9 243.7 1915.3 243.7 1915.3 244.8 1905.7 244.8 1905.7 242.7 1896.0 242.7 1896.0 244.8 1886.4 244.8 1886.4 248.0 1876.8 248.0 1876.8 252.3 1867.2 252.3 1867.2 255.5 1857.6 255.5 1857.6 243.7 1847.9 243.7 1847.9 256.6 1838.3 256.6 1838.3 269.4 1828.7 269.4 1828.7 272.6 1819.1 272.6 1819.1 271.5 1809.5 271.5 1809.5 282.2 1799.8 282.2 1799.8 286.5 1790.2 286.5 1790.2 300.4 1780.6 300.4 1780.6 304.7 1771.0 304.7 1771.0 306.0 1761.4 306.0 1761.4 309.0 1751.7 309.0 1751.7 310.0 1742.1 310.0 1742.1 319.7 1732.5 319.7 1732.5 331.4 1722.9 331.4 1722.9 331.4 1713.3 331.4 1713.3 333.5 1703.6 333.5 1703.6 340.0 1694.0 340.0 1694.0 343.2 1684.4 343.2 1684.4 345.3 1674.8 345.3 1674.8 347.4 1665.2 347.4 1665.2 349.6 1655.5 349.6 1655.5 351.5 1645.9 351.5 1645.9 351.5 1636.3 351.5 1636.3 351.5 1626.7 351.5 1626.7 351.5 1617.1 351.5 1617.1 351.5 1607.4 351.5 1607.4 351.5 1597.8 351.5 1597.8 351.5 1594.0 351.5Z" fill="#a0c4ea" opacity="0.85"/><path d="M1594.0 345.0 1597.8 345.0 1597.8 345.0 1607.4 345.0 1607.4 345.0 1617.1 345.0 1617.1 340.6 1626.7 340.6 1626.7 335.2 1636.3 335.2 1636.3 322.4 1645.9 322.4 1645.9 306.4 1655.5 306.4 1655.5 291.4 1665.2 291.4 1665.2 267.0 1674.8 267.0 1674.8 274.3 1684.4 274.3 1684.4 231.5 1694.0 231.5 1694.0 226.0 1703.6 226.0 1703.6 221.0 1713.3 221.0 1713.3 211.2 1722.9 211.2 1722.9 217.6 1732.5 217.6 1732.5 222.0 1742.1 222.0 1742.1 212.3 1751.7 212.3 1751.7 227.3 1761.4 227.3 1761.4 245.4 1771.0 245.4 1771.0 238.0 1780.6 238.0 1780.6 238.0 1790.2 238.0 1790.2 260.4 1799.8 260.4 1799.8 258.3 1809.5 258.3 1809.5 262.5 1819.1 262.5 1819.1 268.0 1828.7 268.0 1828.7 273.2 1838.3 273.2 1838.3 282.9 1847.9 282.9 1847.9 311.7 1857.6 311.7 1857.6 295.7 1867.2 295.7 1867.2 315.0 1876.8 315.0 1876.8 318.1 1886.4 318.1 1886.4 330.0 1896.0 330.0 1896.0 332.0 1905.7 332.0 1905.7 333.1 1915.3 333.1 1915.3 334.2 1924.9 334.2 1924.9 336.3 1934.5 336.3 1934.5 337.4 1944.1 337.4 1944.1 340.6 1953.8 340.6 1953.8 340.6 1963.4 340.6 1963.4 342.7 1973.0 342.7 1973.0 343.8 1982.6 343.8 1982.6 345.0 1992.2 345.0 1992.2 345.0 2001.9 345.0 2001.9 345.0 2011.5 345.0 2011.5 345.0 2021.1 345.0 2021.1 345.0 2030.7 345.0 2030.7 351.5 2021.1 351.5 2021.1 351.5 2011.5 351.5 2011.5 351.5 2001.9 351.5 2001.9 351.5 1992.2 351.5 1992.2 351.5 1982.6 351.5 1982.6 351.5 1973.0 351.5 1973.0 351.5 1963.4 351.5 1963.4 349.6 1953.8 349.6 1953.8 349.6 1944.1 349.6 1944.1 346.4 1934.5 346.4 1934.5 345.3 1924.9 345.3 1924.9 343.2 1915.3 343.2 1915.3 342.1 1905.7 342.1 1905.7 341.0 1896.0 341.0 1896.0 339.0 1886.4 339.0 1886.4 327.1 1876.8 327.1 1876.8 324.0 1867.2 324.0 1867.2 304.7 1857.6 304.7 1857.6 320.7 1847.9 320.7 1847.9 291.9 1838.3 291.9 1838.3 282.2 1828.7 282.2 1828.7 277.0 1819.1 277.0 1819.1 271.5 1809.5 271.5 1809.5 267.3 1799.8 267.3 1799.8 269.4 1790.2 269.4 1790.2 247.0 1780.6 247.0 1780.6 247.0 1771.0 247.0 1771.0 254.4 1761.4 254.4 1761.4 236.3 1751.7 236.3 1751.7 221.3 1742.1 221.3 1742.1 231.0 1732.5 231.0 1732.5 226.6 1722.9 226.6 1722.9 220.2 1713.3 220.2 1713.3 230.0 1703.6 230.0 1703.6 235.0 1694.0 235.0 1694.0 240.5 1684.4 240.5 1684.4 283.3 1674.8 283.3 1674.8 276.0 1665.2 276.0 1665.2 300.4 1655.5 300.4 1655.5 315.4 1645.9 315.4 1645.9 331.4 1636.3 331.4 1636.3 344.2 1626.7 344.2 1626.7 349.6 1617.1 349.6 1617.1 351.5 1607.4 351.5 1607.4 351.5 1597.8 351.5 1597.8 351.5 1594.0 351.5Z" fill="#a0d8a0" opacity="0.85"/><path d="M1594.0 342.5 1597.8 342.5 1597.8 342.5 1607.4 342.5 1607.4 342.5 1617.1 342.5 1617.1 342.5 1626.7 342.5 1626.7 342.5 1636.3 342.5 1636.3 342.5 1645.9 342.5 1645.9 342.5 1655.5 342.5 1655.5 340.2 1665.2 340.2 1665.2 338.0 1674.8 338.0 1674.8 338.0 1684.4 338.0 1684.4 335.9 1694.0 335.9 1694.0 332.7 1703.6 332.7 1703.6 327.3 1713.3 327.3 1713.3 325.2 1722.9 325.2 1722.9 323.0 1732.5 323.0 1732.5 317.7 1742.1 317.7 1742.1 309.2 1751.7 309.2 1751.7 297.5 1761.4 297.5 1761.4 289.9 1771.0 289.9 1771.0 288.8 1780.6 288.8 1780.6 286.7 1790.2 286.7 1790.2 261.0 1799.8 261.0 1799.8 254.5 1809.5 254.5 1809.5 226.8 1819.1 226.8 1819.1 220.5 1828.7 220.5 1828.7 225.8 1838.3 225.8 1838.3 199.0 1847.9 199.0 1847.9 184.1 1857.6 184.1 1857.6 186.2 1867.2 186.2 1867.2 190.5 1876.8 190.5 1876.8 188.5 1886.4 188.5 1886.4 208.7 1896.0 208.7 1896.0 217.2 1905.7 217.2 1905.7 231.1 1915.3 231.1 1915.3 268.5 1924.9 268.5 1924.9 289.9 1934.5 289.9 1934.5 296.3 1944.1 296.3 1944.1 310.2 1953.8 310.2 1953.8 311.3 1963.4 311.3 1963.4 324.1 1973.0 324.1 1973.0 334.8 1982.6 334.8 1982.6 335.9 1992.2 335.9 1992.2 340.2 2001.9 340.2 2001.9 342.3 2011.5 342.3 2011.5 342.3 2021.1 342.3 2021.1 342.3 2030.7 342.3 2030.7 342.3 2040.3 342.3 2040.3 342.3 2050.0 342.3 2050.0 343.5 2059.6 343.5 2059.6 343.5 2069.2 343.5 2069.2 351.5 2059.6 351.5 2059.6 351.5 2050.0 351.5 2050.0 351.5 2040.3 351.5 2040.3 351.5 2030.7 351.5 2030.7 351.5 2021.1 351.5 2021.1 351.5 2011.5 351.5 2011.5 351.5 2001.9 351.5 2001.9 351.5 1992.2 351.5 1992.2 347.9 1982.6 347.9 1982.6 346.8 1973.0 346.8 1973.0 336.1 1963.4 336.1 1963.4 323.3 1953.8 323.3 1953.8 322.2 1944.1 322.2 1944.1 308.3 1934.5 308.3 1934.5 301.9 1924.9 301.9 1924.9 280.5 1915.3 280.5 1915.3 243.1 1905.7 243.1 1905.7 229.2 1896.0 229.2 1896.0 220.7 1886.4 220.7 1886.4 200.5 1876.8 200.5 1876.8 202.5 1867.2 202.5 1867.2 198.2 1857.6 198.2 1857.6 196.1 1847.9 196.1 1847.9 211.0 1838.3 211.0 1838.3 237.8 1828.7 237.8 1828.7 232.5 1819.1 232.5 1819.1 238.8 1809.5 238.8 1809.5 266.5 1799.8 266.5 1799.8 273.0 1790.2 273.0 1790.2 298.7 1780.6 298.7 1780.6 300.8 1771.0 300.8 1771.0 301.9 1761.4 301.9 1761.4 309.5 1751.7 309.5 1751.7 321.2 1742.1 321.2 1742.1 329.7 1732.5 329.7 1732.5 335.0 1722.9 335.0 1722.9 337.2 1713.3 337.2 1713.3 339.3 1703.6 339.3 1703.6 344.7 1694.0 344.7 1694.0 347.9 1684.4 347.9 1684.4 350.0 1674.8 350.0 1674.8 350.0 1665.2 350.0 1665.2 351.5 1655.5 351.5 1655.5 351.5 1645.9 351.5 1645.9 351.5 1636.3 351.5 1636.3 351.5 1626.7 351.5 1626.7 351.5 1617.1 351.5 1617.1 351.5 1607.4 351.5 1607.4 351.5 1597.8 351.5 1597.8 351.5 1594.0 351.5Z" fill="#cca8de" opacity="0.85"/><path d="M1594.0 345.0 1597.8 345.0 1597.8 345.0 1607.4 345.0 1607.4 345.0 1617.1 345.0 1617.1 345.0 1626.7 345.0 1626.7 344.0 1636.3 344.0 1636.3 340.6 1645.9 340.6 1645.9 314.0 1655.5 314.0 1655.5 312.0 1665.2 312.0 1665.2 291.4 1674.8 291.4 1674.8 252.0 1684.4 252.0 1684.4 230.5 1694.0 230.5 1694.0 209.0 1703.6 209.0 1703.6 181.3 1713.3 181.3 1713.3 175.0 1722.9 175.0 1722.9 147.0 1732.5 147.0 1732.5 143.0 1742.1 143.0 1742.1 156.0 1751.7 156.0 1751.7 159.0 1761.4 159.0 1761.4 176.0 1771.0 176.0 1771.0 195.2 1780.6 195.2 1780.6 236.0 1790.2 236.0 1790.2 262.5 1799.8 262.5 1799.8 284.0 1809.5 284.0 1809.5 299.0 1819.1 299.0 1819.1 309.6 1828.7 309.6 1828.7 314.0 1838.3 314.0 1838.3 327.8 1847.9 327.8 1847.9 327.8 1857.6 327.8 1857.6 331.0 1867.2 331.0 1867.2 335.2 1876.8 335.2 1876.8 339.5 1886.4 339.5 1886.4 341.7 1896.0 341.7 1896.0 343.8 1905.7 343.8 1905.7 345.0 1915.3 345.0 1915.3 345.0 1924.9 345.0 1924.9 345.0 1934.5 345.0 1934.5 345.0 1944.1 345.0 1944.1 345.0 1953.8 345.0 1953.8 345.0 1963.4 345.0 1963.4 345.0 1973.0 345.0 1973.0 345.0 1982.6 345.0 1982.6 345.0 1992.2 345.0 1992.2 345.0 2001.9 345.0 2001.9 345.0 2011.5 345.0 2011.5 345.0 2021.1 345.0 2021.1 351.5 2011.5 351.5 2011.5 351.5 2001.9 351.5 2001.9 351.5 1992.2 351.5 1992.2 351.5 1982.6 351.5 1982.6 351.5 1973.0 351.5 1973.0 351.5 1963.4 351.5 1963.4 351.5 1953.8 351.5 1953.8 351.5 1944.1 351.5 1944.1 351.5 1934.5 351.5 1934.5 351.5 1924.9 351.5 1924.9 351.5 1915.3 351.5 1915.3 351.5 1905.7 351.5 1905.7 351.5 1896.0 351.5 1896.0 350.7 1886.4 350.7 1886.4 348.5 1876.8 348.5 1876.8 344.2 1867.2 344.2 1867.2 340.0 1857.6 340.0 1857.6 336.8 1847.9 336.8 1847.9 336.8 1838.3 336.8 1838.3 323.0 1828.7 323.0 1828.7 318.6 1819.1 318.6 1819.1 308.0 1809.5 308.0 1809.5 293.0 1799.8 293.0 1799.8 271.5 1790.2 271.5 1790.2 245.0 1780.6 245.0 1780.6 204.2 1771.0 204.2 1771.0 185.0 1761.4 185.0 1761.4 168.0 1751.7 168.0 1751.7 165.0 1742.1 165.0 1742.1 152.0 1732.5 152.0 1732.5 156.0 1722.9 156.0 1722.9 184.0 1713.3 184.0 1713.3 190.3 1703.6 190.3 1703.6 218.0 1694.0 218.0 1694.0 239.5 1684.4 239.5 1684.4 261.0 1674.8 261.0 1674.8 300.4 1665.2 300.4 1665.2 321.0 1655.5 321.0 1655.5 323.0 1645.9 323.0 1645.9 349.6 1636.3 349.6 1636.3 351.5 1626.7 351.5 1626.7 351.5 1617.1 351.5 1617.1 351.5 1607.4 351.5 1607.4 351.5 1597.8 351.5 1597.8 351.5 1594.0 351.5Z" fill="#ee98a0" opacity="0.85"/><path d="M1594.0 343.5 1597.8 343.5 1597.8 341.5 1607.4 341.5 1607.4 338.5 1617.1 338.5 1617.1 298.5 1626.7 298.5 1626.7 255.5 1636.3 255.5 1636.3 210.5 1645.9 210.5 1645.9 215.0 1655.5 215.0 1655.5 147.5 1665.2 147.5 1665.2 106.0 1674.8 106.0 1674.8 124.5 1684.4 124.5 1684.4 134.8 1694.0 134.8 1694.0 131.5 1703.6 131.5 1703.6 181.9 1713.3 181.9 1713.3 188.5 1722.9 188.5 1722.9 246.0 1732.5 246.0 1732.5 257.8 1742.1 257.8 1742.1 255.5 1751.7 255.5 1751.7 289.8 1761.4 289.8 1761.4 315.5 1771.0 315.5 1771.0 314.5 1780.6 314.5 1780.6 324.0 1790.2 324.0 1790.2 333.7 1799.8 333.7 1799.8 333.7 1809.5 333.7 1809.5 327.3 1819.1 327.3 1819.1 333.7 1828.7 333.7 1828.7 339.0 1838.3 339.0 1838.3 339.0 1847.9 339.0 1847.9 340.1 1857.6 340.1 1857.6 342.2 1867.2 342.2 1867.2 343.3 1876.8 343.3 1876.8 343.3 1886.4 343.3 1886.4 343.3 1896.0 343.3 1896.0 343.3 1905.7 343.3 1905.7 343.3 1915.3 343.3 1915.3 344.5 1924.9 344.5 1924.9 344.5 1934.5 344.5 1934.5 344.5 1944.1 344.5 1944.1 344.5 1953.8 344.5 1953.8 344.5 1963.4 344.5 1963.4 344.5 1973.0 344.5 1973.0 344.5 1982.6 344.5 1982.6 344.5 1992.2 344.5 1992.2 344.5 2001.9 344.5 2001.9 344.5 2011.5 344.5 2011.5 344.5 2021.1 344.5 2021.1 344.5 2030.7 344.5 2030.7 344.5 2040.3 344.5 2040.3 351.5 2030.7 351.5 2030.7 351.5 2021.1 351.5 2021.1 351.5 2011.5 351.5 2011.5 351.5 2001.9 351.5 2001.9 351.5 1992.2 351.5 1992.2 351.5 1982.6 351.5 1982.6 351.5 1973.0 351.5 1973.0 351.5 1963.4 351.5 1963.4 351.5 1953.8 351.5 1953.8 351.5 1944.1 351.5 1944.1 351.5 1934.5 351.5 1934.5 351.5 1924.9 351.5 1924.9 351.5 1915.3 351.5 1915.3 351.5 1905.7 351.5 1905.7 351.5 1896.0 351.5 1896.0 351.5 1886.4 351.5 1886.4 351.5 1876.8 351.5 1876.8 351.5 1867.2 351.5 1867.2 351.5 1857.6 351.5 1857.6 350.1 1847.9 350.1 1847.9 349.0 1838.3 349.0 1838.3 349.0 1828.7 349.0 1828.7 343.7 1819.1 343.7 1819.1 337.3 1809.5 337.3 1809.5 343.7 1799.8 343.7 1799.8 343.7 1790.2 343.7 1790.2 334.0 1780.6 334.0 1780.6 324.5 1771.0 324.5 1771.0 325.5 1761.4 325.5 1761.4 299.8 1751.7 299.8 1751.7 265.5 1742.1 265.5 1742.1 267.8 1732.5 267.8 1732.5 256.0 1722.9 256.0 1722.9 198.5 1713.3 198.5 1713.3 191.9 1703.6 191.9 1703.6 141.5 1694.0 141.5 1694.0 144.8 1684.4 144.8 1684.4 134.5 1674.8 134.5 1674.8 116.0 1665.2 116.0 1665.2 157.5 1655.5 157.5 1655.5 225.0 1645.9 225.0 1645.9 220.5 1636.3 220.5 1636.3 265.5 1626.7 265.5 1626.7 308.5 1617.1 308.5 1617.1 348.5 1607.4 348.5 1607.4 351.5 1597.8 351.5 1597.8 351.5 1594.0 351.5Z" fill="#ecee80" opacity="0.85"/>
<path d="M1594.0 349.5 1597.8 349.5 1597.8 349.5 1607.4 349.5 1607.4 349.5 1617.1 349.5 1617.1 349.5 1626.7 349.5 1626.7 349.5 1636.3 349.5 1636.3 349.5 1645.9 349.5 1645.9 349.5 1655.5 349.5 1655.5 349.5 1665.2 349.5 1665.2 349.5 1674.8 349.5 1674.8 349.5 1684.4 349.5 1684.4 349.5 1694.0 349.5 1694.0 347.2 1703.6 347.2 1703.6 347.2 1713.3 347.2 1713.3 345.1 1722.9 345.1 1722.9 340.8 1732.5 340.8 1732.5 334.5 1742.1 334.5 1742.1 328.0 1751.7 328.0 1751.7 319.5 1761.4 319.5 1761.4 307.7 1771.0 307.7 1771.0 272.5 1780.6 272.5 1780.6 270.3 1790.2 270.3 1790.2 258.5 1799.8 258.5 1799.8 224.5 1809.5 224.5 1809.5 206.1 1819.1 206.1 1819.1 191.1 1828.7 191.1 1828.7 183.7 1838.3 183.7 1838.3 183.7 1847.9 183.7 1847.9 164.5 1857.6 164.5 1857.6 178.5 1867.2 178.5 1867.2 164.5 1876.8 164.5 1876.8 189.0 1886.4 189.0 1886.4 232.8 1896.0 232.8 1896.0 243.5 1905.7 243.5 1905.7 272.5 1915.3 272.5 1915.3 301.3 1924.9 301.3 1924.9 306.5 1934.5 306.5 1934.5 318.5 1944.1 318.5 1944.1 332.3 1953.8 332.3 1953.8 340.8 1963.4 340.8 1963.4 344.0 1973.0 344.0 1973.0 346.2 1982.6 346.2 1982.6 348.3 1992.2 348.3 1992.2 348.3 2001.9 348.3 2001.9 348.3 2011.5 348.3 2011.5 348.3 2021.1 348.3 2021.1 349.5 2030.7 349.5 2030.7 349.5 2040.3 349.5 2040.3 349.5 2050.0 349.5 2050.0 349.5 2059.6 349.5 2059.6 349.5 2069.2 349.5" fill="none" stroke="#9a4a1e" stroke-width="2.2" stroke-linejoin="miter"/><path d="M1594.0 349.5 1597.8 349.5 1597.8 349.5 1607.4 349.5 1607.4 349.5 1617.1 349.5 1617.1 349.5 1626.7 349.5 1626.7 349.5 1636.3 349.5 1636.3 349.5 1645.9 349.5 1645.9 349.5 1655.5 349.5 1655.5 345.1 1665.2 345.1 1665.2 342.9 1674.8 342.9 1674.8 340.8 1684.4 340.8 1684.4 338.7 1694.0 338.7 1694.0 335.5 1703.6 335.5 1703.6 329.0 1713.3 329.0 1713.3 326.9 1722.9 326.9 1722.9 326.9 1732.5 326.9 1732.5 315.2 1742.1 315.2 1742.1 305.5 1751.7 305.5 1751.7 304.5 1761.4 304.5 1761.4 301.5 1771.0 301.5 1771.0 300.2 1780.6 300.2 1780.6 295.9 1790.2 295.9 1790.2 282.0 1799.8 282.0 1799.8 277.7 1809.5 277.7 1809.5 267.0 1819.1 267.0 1819.1 268.1 1828.7 268.1 1828.7 264.9 1838.3 264.9 1838.3 252.1 1847.9 252.1 1847.9 239.2 1857.6 239.2 1857.6 251.0 1867.2 251.0 1867.2 247.8 1876.8 247.8 1876.8 243.5 1886.4 243.5 1886.4 240.3 1896.0 240.3 1896.0 238.2 1905.7 238.2 1905.7 240.3 1915.3 240.3 1915.3 239.2 1924.9 239.2 1924.9 255.3 1934.5 255.3 1934.5 254.2 1944.1 254.2 1944.1 266.0 1953.8 266.0 1953.8 267.0 1963.4 267.0 1963.4 293.8 1973.0 293.8 1973.0 286.3 1982.6 286.3 1982.6 321.5 1992.2 321.5 1992.2 316.2 2001.9 316.2 2001.9 329.0 2011.5 329.0 2011.5 339.7 2021.1 339.7 2021.1 346.2 2030.7 346.2 2030.7 347.2 2040.3 347.2 2040.3 348.3 2050.0 348.3 2050.0 348.3 2059.6 348.3 2059.6 349.5 2069.2 349.5" fill="none" stroke="#3a7cc8" stroke-width="2.2" stroke-linejoin="miter"/><path d="M1594.0 349.5 1597.8 349.5 1597.8 349.5 1607.4 349.5 1607.4 349.5 1617.1 349.5 1617.1 345.1 1626.7 345.1 1626.7 339.7 1636.3 339.7 1636.3 326.9 1645.9 326.9 1645.9 310.9 1655.5 310.9 1655.5 295.9 1665.2 295.9 1665.2 271.5 1674.8 271.5 1674.8 278.8 1684.4 278.8 1684.4 236.0 1694.0 236.0 1694.0 230.5 1703.6 230.5 1703.6 225.5 1713.3 225.5 1713.3 215.7 1722.9 215.7 1722.9 222.1 1732.5 222.1 1732.5 226.5 1742.1 226.5 1742.1 216.8 1751.7 216.8 1751.7 231.8 1761.4 231.8 1761.4 249.9 1771.0 249.9 1771.0 242.5 1780.6 242.5 1780.6 242.5 1790.2 242.5 1790.2 264.9 1799.8 264.9 1799.8 262.8 1809.5 262.8 1809.5 267.0 1819.1 267.0 1819.1 272.5 1828.7 272.5 1828.7 277.7 1838.3 277.7 1838.3 287.4 1847.9 287.4 1847.9 316.2 1857.6 316.2 1857.6 300.2 1867.2 300.2 1867.2 319.5 1876.8 319.5 1876.8 322.6 1886.4 322.6 1886.4 334.5 1896.0 334.5 1896.0 336.5 1905.7 336.5 1905.7 337.6 1915.3 337.6 1915.3 338.7 1924.9 338.7 1924.9 340.8 1934.5 340.8 1934.5 341.9 1944.1 341.9 1944.1 345.1 1953.8 345.1 1953.8 345.1 1963.4 345.1 1963.4 347.2 1973.0 347.2 1973.0 348.3 1982.6 348.3 1982.6 349.5 1992.2 349.5 1992.2 349.5 2001.9 349.5 2001.9 349.5 2011.5 349.5 2011.5 349.5 2021.1 349.5 2021.1 349.5 2030.7 349.5" fill="none" stroke="#3cb43c" stroke-width="2.2" stroke-linejoin="miter"/><path d="M1594.0 348.5 1597.8 348.5 1597.8 348.5 1607.4 348.5 1607.4 348.5 1617.1 348.5 1617.1 348.5 1626.7 348.5 1626.7 348.5 1636.3 348.5 1636.3 348.5 1645.9 348.5 1645.9 348.5 1655.5 348.5 1655.5 346.2 1665.2 346.2 1665.2 344.0 1674.8 344.0 1674.8 344.0 1684.4 344.0 1684.4 341.9 1694.0 341.9 1694.0 338.7 1703.6 338.7 1703.6 333.3 1713.3 333.3 1713.3 331.2 1722.9 331.2 1722.9 329.0 1732.5 329.0 1732.5 323.7 1742.1 323.7 1742.1 315.2 1751.7 315.2 1751.7 303.5 1761.4 303.5 1761.4 295.9 1771.0 295.9 1771.0 294.8 1780.6 294.8 1780.6 292.7 1790.2 292.7 1790.2 267.0 1799.8 267.0 1799.8 260.5 1809.5 260.5 1809.5 232.8 1819.1 232.8 1819.1 226.5 1828.7 226.5 1828.7 231.8 1838.3 231.8 1838.3 205.0 1847.9 205.0 1847.9 190.1 1857.6 190.1 1857.6 192.2 1867.2 192.2 1867.2 196.5 1876.8 196.5 1876.8 194.5 1886.4 194.5 1886.4 214.7 1896.0 214.7 1896.0 223.2 1905.7 223.2 1905.7 237.1 1915.3 237.1 1915.3 274.5 1924.9 274.5 1924.9 295.9 1934.5 295.9 1934.5 302.3 1944.1 302.3 1944.1 316.2 1953.8 316.2 1953.8 317.3 1963.4 317.3 1963.4 330.1 1973.0 330.1 1973.0 340.8 1982.6 340.8 1982.6 341.9 1992.2 341.9 1992.2 346.2 2001.9 346.2 2001.9 348.3 2011.5 348.3 2011.5 348.3 2021.1 348.3 2021.1 348.3 2030.7 348.3 2030.7 348.3 2040.3 348.3 2040.3 348.3 2050.0 348.3 2050.0 349.5 2059.6 349.5 2059.6 349.5 2069.2 349.5" fill="none" stroke="#7a28a8" stroke-width="2.2" stroke-linejoin="miter"/><path d="M1594.0 349.5 1597.8 349.5 1597.8 349.5 1607.4 349.5 1607.4 349.5 1617.1 349.5 1617.1 349.5 1626.7 349.5 1626.7 348.5 1636.3 348.5 1636.3 345.1 1645.9 345.1 1645.9 318.5 1655.5 318.5 1655.5 316.5 1665.2 316.5 1665.2 295.9 1674.8 295.9 1674.8 256.5 1684.4 256.5 1684.4 235.0 1694.0 235.0 1694.0 213.5 1703.6 213.5 1703.6 185.8 1713.3 185.8 1713.3 179.5 1722.9 179.5 1722.9 151.5 1732.5 151.5 1732.5 147.5 1742.1 147.5 1742.1 160.5 1751.7 160.5 1751.7 163.5 1761.4 163.5 1761.4 180.5 1771.0 180.5 1771.0 199.7 1780.6 199.7 1780.6 240.5 1790.2 240.5 1790.2 267.0 1799.8 267.0 1799.8 288.5 1809.5 288.5 1809.5 303.5 1819.1 303.5 1819.1 314.1 1828.7 314.1 1828.7 318.5 1838.3 318.5 1838.3 332.3 1847.9 332.3 1847.9 332.3 1857.6 332.3 1857.6 335.5 1867.2 335.5 1867.2 339.7 1876.8 339.7 1876.8 344.0 1886.4 344.0 1886.4 346.2 1896.0 346.2 1896.0 348.3 1905.7 348.3 1905.7 349.5 1915.3 349.5 1915.3 349.5 1924.9 349.5 1924.9 349.5 1934.5 349.5 1934.5 349.5 1944.1 349.5 1944.1 349.5 1953.8 349.5 1953.8 349.5 1963.4 349.5 1963.4 349.5 1973.0 349.5 1973.0 349.5 1982.6 349.5 1982.6 349.5 1992.2 349.5 1992.2 349.5 2001.9 349.5 2001.9 349.5 2011.5 349.5 2011.5 349.5 2021.1 349.5" fill="none" stroke="#e0141e" stroke-width="2.2" stroke-linejoin="miter"/><path d="M1594.0 348.5 1597.8 348.5 1597.8 346.5 1607.4 346.5 1607.4 343.5 1617.1 343.5 1617.1 303.5 1626.7 303.5 1626.7 260.5 1636.3 260.5 1636.3 215.5 1645.9 215.5 1645.9 220.0 1655.5 220.0 1655.5 152.5 1665.2 152.5 1665.2 111.0 1674.8 111.0 1674.8 129.5 1684.4 129.5 1684.4 139.8 1694.0 139.8 1694.0 136.5 1703.6 136.5 1703.6 186.9 1713.3 186.9 1713.3 193.5 1722.9 193.5 1722.9 251.0 1732.5 251.0 1732.5 262.8 1742.1 262.8 1742.1 260.5 1751.7 260.5 1751.7 294.8 1761.4 294.8 1761.4 320.5 1771.0 320.5 1771.0 319.5 1780.6 319.5 1780.6 329.0 1790.2 329.0 1790.2 338.7 1799.8 338.7 1799.8 338.7 1809.5 338.7 1809.5 332.3 1819.1 332.3 1819.1 338.7 1828.7 338.7 1828.7 344.0 1838.3 344.0 1838.3 344.0 1847.9 344.0 1847.9 345.1 1857.6 345.1 1857.6 347.2 1867.2 347.2 1867.2 348.3 1876.8 348.3 1876.8 348.3 1886.4 348.3 1886.4 348.3 1896.0 348.3 1896.0 348.3 1905.7 348.3 1905.7 348.3 1915.3 348.3 1915.3 349.5 1924.9 349.5 1924.9 349.5 1934.5 349.5 1934.5 349.5 1944.1 349.5 1944.1 349.5 1953.8 349.5 1953.8 349.5 1963.4 349.5 1963.4 349.5 1973.0 349.5 1973.0 349.5 1982.6 349.5 1982.6 349.5 1992.2 349.5 1992.2 349.5 2001.9 349.5 2001.9 349.5 2011.5 349.5 2011.5 349.5 2021.1 349.5 2021.1 349.5 2030.7 349.5 2030.7 349.5 2040.3 349.5" fill="none" stroke="#e3e31a" stroke-width="2.2" stroke-linejoin="miter"/>
<path d="M1593 86 V352.5 H2090" fill="none" stroke="#000" stroke-width="2.4"/><line x1="1588" y1="352.5" x2="1593" y2="352.5" stroke="#000" stroke-width="2"/><text x="1583" y="361" font-size="24" text-anchor="end">0</text><line x1="1588" y1="116" x2="1593" y2="116" stroke="#000" stroke-width="2"/><text x="1583" y="124.5" font-size="24" text-anchor="end">0.1</text><line x1="1593" y1="352.5" x2="1593" y2="357.5" stroke="#000" stroke-width="2"/><text x="1593" y="382.5" font-size="24" text-anchor="middle">0</text><line x1="2039" y1="352.5" x2="2039" y2="357.5" stroke="#000" stroke-width="2"/><text x="2039" y="382.5" font-size="24" text-anchor="middle">16000</text>
<text x="0" y="0" font-size="24" text-anchor="middle" transform="translate(1558,221) rotate(-90)">Density</text>
<path d="M1594.0 762.1 1597.1 762.1 1597.1 762.1 1606.9 762.1 1606.9 764.2 1616.8 764.2 1616.8 764.2 1626.7 764.2 1626.7 764.2 1636.5 764.2 1636.5 761.0 1646.4 761.0 1646.4 756.6 1656.3 756.6 1656.3 752.3 1666.1 752.3 1666.1 749.0 1676.0 749.0 1676.0 747.9 1685.9 747.9 1685.9 743.5 1695.7 743.5 1695.7 741.5 1705.6 741.5 1705.6 726.1 1715.4 726.1 1715.4 723.9 1725.3 723.9 1725.3 730.5 1735.2 730.5 1735.2 715.2 1745.0 715.2 1745.0 721.8 1754.9 721.8 1754.9 713.1 1764.8 713.1 1764.8 709.8 1774.6 709.8 1774.6 691.3 1784.5 691.3 1784.5 693.5 1794.4 693.5 1794.4 679.3 1804.2 679.3 1804.2 656.5 1814.1 656.5 1814.1 630.3 1824.0 630.3 1824.0 649.9 1833.8 649.9 1833.8 634.7 1843.7 634.7 1843.7 639.0 1853.6 639.0 1853.6 635.7 1863.4 635.7 1863.4 619.5 1873.3 619.5 1873.3 628.1 1883.2 628.1 1883.2 644.5 1893.0 644.5 1893.0 648.8 1902.9 648.8 1902.9 654.3 1912.7 654.3 1912.7 667.3 1922.6 667.3 1922.6 705.5 1932.5 705.5 1932.5 683.7 1942.3 683.7 1942.3 703.3 1952.2 703.3 1952.2 717.5 1962.1 717.5 1962.1 732.7 1971.9 732.7 1971.9 743.5 1981.8 743.5 1981.8 744.6 1991.7 744.6 1991.7 752.3 2001.5 752.3 2001.5 761.0 2011.4 761.0 2011.4 759.9 2021.3 759.9 2021.3 761.0 2031.1 761.0 2031.1 763.1 2041.0 763.1 2041.0 763.1 2050.9 763.1 2050.9 763.1 2060.7 763.1 2060.7 763.1 2070.6 763.1 2070.6 764.5 2080.4 764.5 2080.4 772.0 2070.6 772.0 2070.6 772.0 2060.7 772.0 2060.7 772.0 2050.9 772.0 2050.9 772.0 2041.0 772.0 2041.0 772.0 2031.1 772.0 2031.1 770.0 2021.3 770.0 2021.3 768.9 2011.4 768.9 2011.4 770.0 2001.5 770.0 2001.5 761.3 1991.7 761.3 1991.7 753.6 1981.8 753.6 1981.8 752.5 1971.9 752.5 1971.9 741.7 1962.1 741.7 1962.1 726.5 1952.2 726.5 1952.2 712.3 1942.3 712.3 1942.3 692.7 1932.5 692.7 1932.5 714.5 1922.6 714.5 1922.6 676.3 1912.7 676.3 1912.7 663.3 1902.9 663.3 1902.9 657.8 1893.0 657.8 1893.0 653.5 1883.2 653.5 1883.2 637.1 1873.3 637.1 1873.3 628.5 1863.4 628.5 1863.4 644.7 1853.6 644.7 1853.6 648.0 1843.7 648.0 1843.7 643.7 1833.8 643.7 1833.8 658.9 1824.0 658.9 1824.0 639.3 1814.1 639.3 1814.1 665.5 1804.2 665.5 1804.2 688.3 1794.4 688.3 1794.4 702.5 1784.5 702.5 1784.5 700.3 1774.6 700.3 1774.6 718.8 1764.8 718.8 1764.8 722.1 1754.9 722.1 1754.9 730.8 1745.0 730.8 1745.0 724.2 1735.2 724.2 1735.2 739.5 1725.3 739.5 1725.3 732.9 1715.4 732.9 1715.4 735.1 1705.6 735.1 1705.6 750.5 1695.7 750.5 1695.7 752.5 1685.9 752.5 1685.9 756.9 1676.0 756.9 1676.0 758.0 1666.1 758.0 1666.1 761.3 1656.3 761.3 1656.3 765.6 1646.4 765.6 1646.4 770.0 1636.5 770.0 1636.5 772.0 1626.7 772.0 1626.7 772.0 1616.8 772.0 1616.8 772.0 1606.9 772.0 1606.9 771.1 1597.1 771.1 1597.1 771.1 1594.0 771.1Z" fill="#d6aa98" opacity="0.85"/><path d="M1594.0 765.5 1597.1 765.5 1597.1 765.5 1606.9 765.5 1606.9 765.5 1616.8 765.5 1616.8 765.5 1626.7 765.5 1626.7 765.5 1636.5 765.5 1636.5 765.5 1646.4 765.5 1646.4 765.5 1656.3 765.5 1656.3 765.5 1666.1 765.5 1666.1 765.5 1676.0 765.5 1676.0 765.5 1685.9 765.5 1685.9 765.5 1695.7 765.5 1695.7 765.5 1705.6 765.5 1705.6 765.5 1715.4 765.5 1715.4 765.5 1725.3 765.5 1725.3 765.5 1735.2 765.5 1735.2 757.7 1745.0 757.7 1745.0 765.5 1754.9 765.5 1754.9 761.0 1764.8 761.0 1764.8 765.5 1774.6 765.5 1774.6 759.9 1784.5 759.9 1784.5 759.9 1794.4 759.9 1794.4 758.8 1804.2 758.8 1804.2 757.7 1814.1 757.7 1814.1 752.3 1824.0 752.3 1824.0 753.5 1833.8 753.5 1833.8 750.1 1843.7 750.1 1843.7 749.0 1853.6 749.0 1853.6 745.7 1863.4 745.7 1863.4 735.9 1873.3 735.9 1873.3 728.3 1883.2 728.3 1883.2 725.0 1893.0 725.0 1893.0 710.9 1902.9 710.9 1902.9 673.9 1912.7 673.9 1912.7 658.6 1922.6 658.6 1922.6 626.0 1932.5 626.0 1932.5 610.7 1942.3 610.7 1942.3 595.5 1952.2 595.5 1952.2 557.5 1962.1 557.5 1962.1 546.5 1971.9 546.5 1971.9 548.6 1981.8 548.6 1981.8 549.7 1991.7 549.7 1991.7 567.2 2001.5 567.2 2001.5 606.5 2011.4 606.5 2011.4 633.5 2021.3 633.5 2021.3 653.2 2031.1 653.2 2031.1 660.8 2041.0 660.8 2041.0 674.9 2050.9 674.9 2050.9 729.5 2060.7 729.5 2060.7 747.9 2070.6 747.9 2070.6 759.9 2080.4 759.9 2080.4 768.9 2070.6 768.9 2070.6 756.9 2060.7 756.9 2060.7 738.5 2050.9 738.5 2050.9 683.9 2041.0 683.9 2041.0 669.8 2031.1 669.8 2031.1 662.2 2021.3 662.2 2021.3 642.5 2011.4 642.5 2011.4 615.5 2001.5 615.5 2001.5 576.2 1991.7 576.2 1991.7 558.7 1981.8 558.7 1981.8 557.6 1971.9 557.6 1971.9 555.5 1962.1 555.5 1962.1 566.5 1952.2 566.5 1952.2 604.5 1942.3 604.5 1942.3 619.7 1932.5 619.7 1932.5 635.0 1922.6 635.0 1922.6 667.6 1912.7 667.6 1912.7 682.9 1902.9 682.9 1902.9 719.9 1893.0 719.9 1893.0 734.0 1883.2 734.0 1883.2 737.3 1873.3 737.3 1873.3 744.9 1863.4 744.9 1863.4 754.7 1853.6 754.7 1853.6 758.0 1843.7 758.0 1843.7 759.1 1833.8 759.1 1833.8 762.5 1824.0 762.5 1824.0 761.3 1814.1 761.3 1814.1 766.7 1804.2 766.7 1804.2 767.8 1794.4 767.8 1794.4 768.9 1784.5 768.9 1784.5 768.9 1774.6 768.9 1774.6 772.0 1764.8 772.0 1764.8 770.0 1754.9 770.0 1754.9 772.0 1745.0 772.0 1745.0 766.7 1735.2 766.7 1735.2 772.0 1725.3 772.0 1725.3 772.0 1715.4 772.0 1715.4 772.0 1705.6 772.0 1705.6 772.0 1695.7 772.0 1695.7 772.0 1685.9 772.0 1685.9 772.0 1676.0 772.0 1676.0 772.0 1666.1 772.0 1666.1 772.0 1656.3 772.0 1656.3 772.0 1646.4 772.0 1646.4 772.0 1636.5 772.0 1636.5 772.0 1626.7 772.0 1626.7 772.0 1616.8 772.0 1616.8 772.0 1606.9 772.0 1606.9 772.0 1597.1 772.0 1597.1 772.0 1594.0 772.0Z" fill="#a0c4ea" opacity="0.85"/><path d="M1594.0 765.5 1597.1 765.5 1597.1 765.5 1606.9 765.5 1606.9 765.5 1616.8 765.5 1616.8 765.5 1626.7 765.5 1626.7 765.5 1636.5 765.5 1636.5 765.5 1646.4 765.5 1646.4 765.5 1656.3 765.5 1656.3 765.5 1666.1 765.5 1666.1 765.5 1676.0 765.5 1676.0 763.1 1685.9 763.1 1685.9 759.9 1695.7 759.9 1695.7 756.6 1705.6 756.6 1705.6 752.3 1715.4 752.3 1715.4 750.1 1725.3 750.1 1725.3 750.1 1735.2 750.1 1735.2 738.1 1745.0 738.1 1745.0 715.2 1754.9 715.2 1754.9 689.1 1764.8 689.1 1764.8 666.2 1774.6 666.2 1774.6 652.1 1784.5 652.1 1784.5 608.5 1794.4 608.5 1794.4 570.5 1804.2 570.5 1804.2 570.5 1814.1 570.5 1814.1 546.5 1824.0 546.5 1824.0 550.8 1833.8 550.8 1833.8 562.8 1843.7 562.8 1843.7 562.8 1853.6 562.8 1853.6 571.5 1863.4 571.5 1863.4 600.9 1873.3 600.9 1873.3 655.5 1883.2 655.5 1883.2 658.6 1893.0 658.6 1893.0 684.7 1902.9 684.7 1902.9 708.7 1912.7 708.7 1912.7 716.3 1922.6 716.3 1922.6 734.8 1932.5 734.8 1932.5 740.3 1942.3 740.3 1942.3 746.8 1952.2 746.8 1952.2 758.8 1962.1 758.8 1962.1 765.5 1971.9 765.5 1971.9 765.5 1981.8 765.5 1981.8 765.5 1991.7 765.5 1991.7 765.5 2001.5 765.5 2001.5 765.5 2011.4 765.5 2011.4 765.5 2021.3 765.5 2021.3 765.5 2031.1 765.5 2031.1 765.5 2041.0 765.5 2041.0 772.0 2031.1 772.0 2031.1 772.0 2021.3 772.0 2021.3 772.0 2011.4 772.0 2011.4 772.0 2001.5 772.0 2001.5 772.0 1991.7 772.0 1991.7 772.0 1981.8 772.0 1981.8 772.0 1971.9 772.0 1971.9 772.0 1962.1 772.0 1962.1 767.8 1952.2 767.8 1952.2 755.8 1942.3 755.8 1942.3 749.3 1932.5 749.3 1932.5 743.8 1922.6 743.8 1922.6 725.3 1912.7 725.3 1912.7 717.7 1902.9 717.7 1902.9 693.7 1893.0 693.7 1893.0 667.6 1883.2 667.6 1883.2 664.5 1873.3 664.5 1873.3 609.9 1863.4 609.9 1863.4 580.5 1853.6 580.5 1853.6 571.8 1843.7 571.8 1843.7 571.8 1833.8 571.8 1833.8 559.8 1824.0 559.8 1824.0 555.5 1814.1 555.5 1814.1 579.5 1804.2 579.5 1804.2 579.5 1794.4 579.5 1794.4 617.5 1784.5 617.5 1784.5 661.1 1774.6 661.1 1774.6 675.2 1764.8 675.2 1764.8 698.1 1754.9 698.1 1754.9 724.2 1745.0 724.2 1745.0 747.1 1735.2 747.1 1735.2 759.1 1725.3 759.1 1725.3 759.1 1715.4 759.1 1715.4 761.3 1705.6 761.3 1705.6 765.6 1695.7 765.6 1695.7 768.9 1685.9 768.9 1685.9 772.0 1676.0 772.0 1676.0 772.0 1666.1 772.0 1666.1 772.0 1656.3 772.0 1656.3 772.0 1646.4 772.0 1646.4 772.0 1636.5 772.0 1636.5 772.0 1626.7 772.0 1626.7 772.0 1616.8 772.0 1616.8 772.0 1606.9 772.0 1606.9 772.0 1597.1 772.0 1597.1 772.0 1594.0 772.0Z" fill="#a0d8a0" opacity="0.85"/><path d="M1594.0 764.0 1597.1 764.0 1597.1 764.0 1606.9 764.0 1606.9 764.0 1616.8 764.0 1616.8 764.0 1626.7 764.0 1626.7 764.0 1636.5 764.0 1636.5 764.0 1646.4 764.0 1646.4 764.0 1656.3 764.0 1656.3 764.0 1666.1 764.0 1666.1 764.0 1676.0 764.0 1676.0 764.0 1685.9 764.0 1685.9 764.0 1695.7 764.0 1695.7 759.5 1705.6 759.5 1705.6 755.1 1715.4 755.1 1715.4 750.8 1725.3 750.8 1725.3 759.5 1735.2 759.5 1735.2 746.4 1745.0 746.4 1745.0 732.2 1754.9 732.2 1754.9 716.0 1764.8 716.0 1764.8 718.0 1774.6 718.0 1774.6 722.4 1784.5 722.4 1784.5 709.4 1794.4 709.4 1794.4 688.7 1804.2 688.7 1804.2 683.2 1814.1 683.2 1814.1 642.0 1824.0 642.0 1824.0 631.0 1833.8 631.0 1833.8 593.0 1843.7 593.0 1843.7 613.6 1853.6 613.6 1853.6 578.7 1863.4 578.7 1863.4 534.0 1873.3 534.0 1873.3 540.6 1883.2 540.6 1883.2 569.0 1893.0 569.0 1893.0 569.0 1902.9 569.0 1902.9 621.2 1912.7 621.2 1912.7 665.8 1922.6 665.8 1922.6 682.2 1932.5 682.2 1932.5 724.6 1942.3 724.6 1942.3 722.4 1952.2 722.4 1952.2 736.6 1962.1 736.6 1962.1 740.0 1971.9 740.0 1971.9 748.6 1981.8 748.6 1981.8 756.2 1991.7 756.2 1991.7 758.4 2001.5 758.4 2001.5 764.0 2011.4 764.0 2011.4 757.3 2021.3 757.3 2021.3 761.6 2031.1 761.6 2031.1 761.6 2041.0 761.6 2041.0 764.0 2050.9 764.0 2050.9 764.0 2060.7 764.0 2060.7 764.0 2070.6 764.0 2070.6 764.0 2080.4 764.0 2080.4 772.0 2070.6 772.0 2070.6 772.0 2060.7 772.0 2060.7 772.0 2050.9 772.0 2050.9 772.0 2041.0 772.0 2041.0 772.0 2031.1 772.0 2031.1 772.0 2021.3 772.0 2021.3 769.3 2011.4 769.3 2011.4 772.0 2001.5 772.0 2001.5 770.4 1991.7 770.4 1991.7 768.2 1981.8 768.2 1981.8 760.6 1971.9 760.6 1971.9 752.0 1962.1 752.0 1962.1 748.6 1952.2 748.6 1952.2 734.4 1942.3 734.4 1942.3 736.6 1932.5 736.6 1932.5 694.2 1922.6 694.2 1922.6 677.8 1912.7 677.8 1912.7 633.2 1902.9 633.2 1902.9 581.0 1893.0 581.0 1893.0 581.0 1883.2 581.0 1883.2 552.6 1873.3 552.6 1873.3 546.0 1863.4 546.0 1863.4 590.7 1853.6 590.7 1853.6 625.6 1843.7 625.6 1843.7 605.0 1833.8 605.0 1833.8 643.0 1824.0 643.0 1824.0 654.0 1814.1 654.0 1814.1 695.2 1804.2 695.2 1804.2 700.7 1794.4 700.7 1794.4 721.4 1784.5 721.4 1784.5 734.4 1774.6 734.4 1774.6 730.0 1764.8 730.0 1764.8 728.0 1754.9 728.0 1754.9 744.2 1745.0 744.2 1745.0 758.4 1735.2 758.4 1735.2 771.5 1725.3 771.5 1725.3 762.8 1715.4 762.8 1715.4 767.1 1705.6 767.1 1705.6 771.5 1695.7 771.5 1695.7 772.0 1685.9 772.0 1685.9 772.0 1676.0 772.0 1676.0 772.0 1666.1 772.0 1666.1 772.0 1656.3 772.0 1656.3 772.0 1646.4 772.0 1646.4 772.0 1636.5 772.0 1636.5 772.0 1626.7 772.0 1626.7 772.0 1616.8 772.0 1616.8 772.0 1606.9 772.0 1606.9 772.0 1597.1 772.0 1597.1 772.0 1594.0 772.0Z" fill="#cca8de" opacity="0.85"/><path d="M1594.0 765.5 1597.1 765.5 1597.1 765.5 1606.9 765.5 1606.9 765.5 1616.8 765.5 1616.8 765.5 1626.7 765.5 1626.7 759.9 1636.5 759.9 1636.5 741.5 1646.4 741.5 1646.4 719.5 1656.3 719.5 1656.3 707.5 1666.1 707.5 1666.1 693.5 1676.0 693.5 1676.0 673.9 1685.9 673.9 1685.9 611.8 1695.7 611.8 1695.7 568.5 1705.6 568.5 1705.6 562.8 1715.4 562.8 1715.4 518.5 1725.3 518.5 1725.3 526.9 1735.2 526.9 1735.2 569.5 1745.0 569.5 1745.0 578.0 1754.9 578.0 1754.9 612.9 1764.8 612.9 1764.8 614.0 1774.6 614.0 1774.6 634.7 1784.5 634.7 1784.5 635.7 1794.4 635.7 1794.4 672.8 1804.2 672.8 1804.2 713.1 1814.1 713.1 1814.1 725.0 1824.0 725.0 1824.0 729.5 1833.8 729.5 1833.8 758.8 1843.7 758.8 1843.7 759.9 1853.6 759.9 1853.6 765.5 1863.4 765.5 1863.4 765.5 1873.3 765.5 1873.3 765.5 1883.2 765.5 1883.2 765.5 1893.0 765.5 1893.0 765.5 1902.9 765.5 1902.9 765.5 1912.7 765.5 1912.7 765.5 1922.6 765.5 1922.6 765.5 1932.5 765.5 1932.5 765.5 1942.3 765.5 1942.3 765.5 1952.2 765.5 1952.2 765.5 1962.1 765.5 1962.1 765.5 1971.9 765.5 1971.9 765.5 1981.8 765.5 1981.8 765.5 1991.7 765.5 1991.7 765.5 2001.5 765.5 2001.5 765.5 2011.4 765.5 2011.4 765.5 2021.3 765.5 2021.3 765.5 2031.1 765.5 2031.1 765.5 2041.0 765.5 2041.0 765.5 2050.9 765.5 2050.9 772.0 2041.0 772.0 2041.0 772.0 2031.1 772.0 2031.1 772.0 2021.3 772.0 2021.3 772.0 2011.4 772.0 2011.4 772.0 2001.5 772.0 2001.5 772.0 1991.7 772.0 1991.7 772.0 1981.8 772.0 1981.8 772.0 1971.9 772.0 1971.9 772.0 1962.1 772.0 1962.1 772.0 1952.2 772.0 1952.2 772.0 1942.3 772.0 1942.3 772.0 1932.5 772.0 1932.5 772.0 1922.6 772.0 1922.6 772.0 1912.7 772.0 1912.7 772.0 1902.9 772.0 1902.9 772.0 1893.0 772.0 1893.0 772.0 1883.2 772.0 1883.2 772.0 1873.3 772.0 1873.3 772.0 1863.4 772.0 1863.4 772.0 1853.6 772.0 1853.6 768.9 1843.7 768.9 1843.7 767.8 1833.8 767.8 1833.8 738.5 1824.0 738.5 1824.0 734.0 1814.1 734.0 1814.1 722.1 1804.2 722.1 1804.2 681.8 1794.4 681.8 1794.4 644.7 1784.5 644.7 1784.5 643.7 1774.6 643.7 1774.6 623.0 1764.8 623.0 1764.8 621.9 1754.9 621.9 1754.9 587.0 1745.0 587.0 1745.0 578.5 1735.2 578.5 1735.2 535.9 1725.3 535.9 1725.3 527.5 1715.4 527.5 1715.4 571.8 1705.6 571.8 1705.6 577.5 1695.7 577.5 1695.7 620.8 1685.9 620.8 1685.9 682.9 1676.0 682.9 1676.0 702.5 1666.1 702.5 1666.1 716.5 1656.3 716.5 1656.3 728.5 1646.4 728.5 1646.4 750.5 1636.5 750.5 1636.5 768.9 1626.7 768.9 1626.7 772.0 1616.8 772.0 1616.8 772.0 1606.9 772.0 1606.9 772.0 1597.1 772.0 1597.1 772.0 1594.0 772.0Z" fill="#ee98a0" opacity="0.85"/><path d="M1594.0 759.4 1597.1 759.4 1597.1 763.7 1606.9 763.7 1606.9 673.4 1616.8 673.4 1616.8 606.0 1626.7 606.0 1626.7 562.3 1636.5 562.3 1636.5 554.7 1646.4 554.7 1646.4 554.7 1656.3 554.7 1656.3 523.0 1666.1 523.0 1666.1 540.5 1676.0 540.5 1676.0 585.2 1685.9 585.2 1685.9 638.5 1695.7 638.5 1695.7 606.0 1705.6 606.0 1705.6 640.7 1715.4 640.7 1715.4 634.2 1725.3 634.2 1725.3 668.0 1735.2 668.0 1735.2 710.4 1745.0 710.4 1745.0 717.0 1754.9 717.0 1754.9 704.0 1764.8 704.0 1764.8 715.0 1774.6 715.0 1774.6 732.2 1784.5 732.2 1784.5 749.6 1794.4 749.6 1794.4 747.4 1804.2 747.4 1804.2 747.4 1814.1 747.4 1814.1 753.0 1824.0 753.0 1824.0 755.0 1833.8 755.0 1833.8 751.8 1843.7 751.8 1843.7 765.0 1853.6 765.0 1853.6 765.0 1863.4 765.0 1863.4 765.0 1873.3 765.0 1873.3 765.0 1883.2 765.0 1883.2 765.0 1893.0 765.0 1893.0 765.0 1902.9 765.0 1902.9 765.0 1912.7 765.0 1912.7 765.0 1922.6 765.0 1922.6 765.0 1932.5 765.0 1932.5 765.0 1942.3 765.0 1942.3 765.0 1952.2 765.0 1952.2 765.0 1962.1 765.0 1962.1 765.0 1971.9 765.0 1971.9 765.0 1981.8 765.0 1981.8 765.0 1991.7 765.0 1991.7 765.0 2001.5 765.0 2001.5 765.0 2011.4 765.0 2011.4 765.0 2021.3 765.0 2021.3 765.0 2031.1 765.0 2031.1 765.0 2041.0 765.0 2041.0 765.0 2050.9 765.0 2050.9 772.0 2041.0 772.0 2041.0 772.0 2031.1 772.0 2031.1 772.0 2021.3 772.0 2021.3 772.0 2011.4 772.0 2011.4 772.0 2001.5 772.0 2001.5 772.0 1991.7 772.0 1991.7 772.0 1981.8 772.0 1981.8 772.0 1971.9 772.0 1971.9 772.0 1962.1 772.0 1962.1 772.0 1952.2 772.0 1952.2 772.0 1942.3 772.0 1942.3 772.0 1932.5 772.0 1932.5 772.0 1922.6 772.0 1922.6 772.0 1912.7 772.0 1912.7 772.0 1902.9 772.0 1902.9 772.0 1893.0 772.0 1893.0 772.0 1883.2 772.0 1883.2 772.0 1873.3 772.0 1873.3 772.0 1863.4 772.0 1863.4 772.0 1853.6 772.0 1853.6 772.0 1843.7 772.0 1843.7 761.8 1833.8 761.8 1833.8 765.0 1824.0 765.0 1824.0 763.0 1814.1 763.0 1814.1 757.4 1804.2 757.4 1804.2 757.4 1794.4 757.4 1794.4 759.6 1784.5 759.6 1784.5 742.2 1774.6 742.2 1774.6 725.0 1764.8 725.0 1764.8 714.0 1754.9 714.0 1754.9 727.0 1745.0 727.0 1745.0 720.4 1735.2 720.4 1735.2 678.0 1725.3 678.0 1725.3 644.2 1715.4 644.2 1715.4 650.7 1705.6 650.7 1705.6 616.0 1695.7 616.0 1695.7 648.5 1685.9 648.5 1685.9 595.2 1676.0 595.2 1676.0 550.5 1666.1 550.5 1666.1 533.0 1656.3 533.0 1656.3 564.7 1646.4 564.7 1646.4 564.7 1636.5 564.7 1636.5 572.3 1626.7 572.3 1626.7 616.0 1616.8 616.0 1616.8 683.4 1606.9 683.4 1606.9 772.0 1597.1 772.0 1597.1 769.4 1594.0 769.4Z" fill="#ecee80" opacity="0.85"/>
<path d="M1594.0 766.6 1597.1 766.6 1597.1 766.6 1606.9 766.6 1606.9 768.7 1616.8 768.7 1616.8 768.7 1626.7 768.7 1626.7 768.7 1636.5 768.7 1636.5 765.5 1646.4 765.5 1646.4 761.1 1656.3 761.1 1656.3 756.8 1666.1 756.8 1666.1 753.5 1676.0 753.5 1676.0 752.4 1685.9 752.4 1685.9 748.0 1695.7 748.0 1695.7 746.0 1705.6 746.0 1705.6 730.6 1715.4 730.6 1715.4 728.4 1725.3 728.4 1725.3 735.0 1735.2 735.0 1735.2 719.7 1745.0 719.7 1745.0 726.3 1754.9 726.3 1754.9 717.6 1764.8 717.6 1764.8 714.3 1774.6 714.3 1774.6 695.8 1784.5 695.8 1784.5 698.0 1794.4 698.0 1794.4 683.8 1804.2 683.8 1804.2 661.0 1814.1 661.0 1814.1 634.8 1824.0 634.8 1824.0 654.4 1833.8 654.4 1833.8 639.2 1843.7 639.2 1843.7 643.5 1853.6 643.5 1853.6 640.2 1863.4 640.2 1863.4 624.0 1873.3 624.0 1873.3 632.6 1883.2 632.6 1883.2 649.0 1893.0 649.0 1893.0 653.3 1902.9 653.3 1902.9 658.8 1912.7 658.8 1912.7 671.8 1922.6 671.8 1922.6 710.0 1932.5 710.0 1932.5 688.2 1942.3 688.2 1942.3 707.8 1952.2 707.8 1952.2 722.0 1962.1 722.0 1962.1 737.2 1971.9 737.2 1971.9 748.0 1981.8 748.0 1981.8 749.1 1991.7 749.1 1991.7 756.8 2001.5 756.8 2001.5 765.5 2011.4 765.5 2011.4 764.4 2021.3 764.4 2021.3 765.5 2031.1 765.5 2031.1 767.6 2041.0 767.6 2041.0 767.6 2050.9 767.6 2050.9 767.6 2060.7 767.6 2060.7 767.6 2070.6 767.6 2070.6 769.0 2080.4 769.0" fill="none" stroke="#9a4a1e" stroke-width="2.2" stroke-linejoin="miter"/><path d="M1594.0 770.0 1597.1 770.0 1597.1 770.0 1606.9 770.0 1606.9 770.0 1616.8 770.0 1616.8 770.0 1626.7 770.0 1626.7 770.0 1636.5 770.0 1636.5 770.0 1646.4 770.0 1646.4 770.0 1656.3 770.0 1656.3 770.0 1666.1 770.0 1666.1 770.0 1676.0 770.0 1676.0 770.0 1685.9 770.0 1685.9 770.0 1695.7 770.0 1695.7 770.0 1705.6 770.0 1705.6 770.0 1715.4 770.0 1715.4 770.0 1725.3 770.0 1725.3 770.0 1735.2 770.0 1735.2 762.2 1745.0 762.2 1745.0 770.0 1754.9 770.0 1754.9 765.5 1764.8 765.5 1764.8 770.0 1774.6 770.0 1774.6 764.4 1784.5 764.4 1784.5 764.4 1794.4 764.4 1794.4 763.3 1804.2 763.3 1804.2 762.2 1814.1 762.2 1814.1 756.8 1824.0 756.8 1824.0 758.0 1833.8 758.0 1833.8 754.6 1843.7 754.6 1843.7 753.5 1853.6 753.5 1853.6 750.2 1863.4 750.2 1863.4 740.4 1873.3 740.4 1873.3 732.8 1883.2 732.8 1883.2 729.5 1893.0 729.5 1893.0 715.4 1902.9 715.4 1902.9 678.4 1912.7 678.4 1912.7 663.1 1922.6 663.1 1922.6 630.5 1932.5 630.5 1932.5 615.2 1942.3 615.2 1942.3 600.0 1952.2 600.0 1952.2 562.0 1962.1 562.0 1962.1 551.0 1971.9 551.0 1971.9 553.1 1981.8 553.1 1981.8 554.2 1991.7 554.2 1991.7 571.7 2001.5 571.7 2001.5 611.0 2011.4 611.0 2011.4 638.0 2021.3 638.0 2021.3 657.7 2031.1 657.7 2031.1 665.3 2041.0 665.3 2041.0 679.4 2050.9 679.4 2050.9 734.0 2060.7 734.0 2060.7 752.4 2070.6 752.4 2070.6 764.4 2080.4 764.4" fill="none" stroke="#3a7cc8" stroke-width="2.2" stroke-linejoin="miter"/><path d="M1594.0 770.0 1597.1 770.0 1597.1 770.0 1606.9 770.0 1606.9 770.0 1616.8 770.0 1616.8 770.0 1626.7 770.0 1626.7 770.0 1636.5 770.0 1636.5 770.0 1646.4 770.0 1646.4 770.0 1656.3 770.0 1656.3 770.0 1666.1 770.0 1666.1 770.0 1676.0 770.0 1676.0 767.6 1685.9 767.6 1685.9 764.4 1695.7 764.4 1695.7 761.1 1705.6 761.1 1705.6 756.8 1715.4 756.8 1715.4 754.6 1725.3 754.6 1725.3 754.6 1735.2 754.6 1735.2 742.6 1745.0 742.6 1745.0 719.7 1754.9 719.7 1754.9 693.6 1764.8 693.6 1764.8 670.7 1774.6 670.7 1774.6 656.6 1784.5 656.6 1784.5 613.0 1794.4 613.0 1794.4 575.0 1804.2 575.0 1804.2 575.0 1814.1 575.0 1814.1 551.0 1824.0 551.0 1824.0 555.3 1833.8 555.3 1833.8 567.3 1843.7 567.3 1843.7 567.3 1853.6 567.3 1853.6 576.0 1863.4 576.0 1863.4 605.4 1873.3 605.4 1873.3 660.0 1883.2 660.0 1883.2 663.1 1893.0 663.1 1893.0 689.2 1902.9 689.2 1902.9 713.2 1912.7 713.2 1912.7 720.8 1922.6 720.8 1922.6 739.3 1932.5 739.3 1932.5 744.8 1942.3 744.8 1942.3 751.3 1952.2 751.3 1952.2 763.3 1962.1 763.3 1962.1 770.0 1971.9 770.0 1971.9 770.0 1981.8 770.0 1981.8 770.0 1991.7 770.0 1991.7 770.0 2001.5 770.0 2001.5 770.0 2011.4 770.0 2011.4 770.0 2021.3 770.0 2021.3 770.0 2031.1 770.0 2031.1 770.0 2041.0 770.0" fill="none" stroke="#3cb43c" stroke-width="2.2" stroke-linejoin="miter"/><path d="M1594.0 770.0 1597.1 770.0 1597.1 770.0 1606.9 770.0 1606.9 770.0 1616.8 770.0 1616.8 770.0 1626.7 770.0 1626.7 770.0 1636.5 770.0 1636.5 770.0 1646.4 770.0 1646.4 770.0 1656.3 770.0 1656.3 770.0 1666.1 770.0 1666.1 770.0 1676.0 770.0 1676.0 770.0 1685.9 770.0 1685.9 770.0 1695.7 770.0 1695.7 765.5 1705.6 765.5 1705.6 761.1 1715.4 761.1 1715.4 756.8 1725.3 756.8 1725.3 765.5 1735.2 765.5 1735.2 752.4 1745.0 752.4 1745.0 738.2 1754.9 738.2 1754.9 722.0 1764.8 722.0 1764.8 724.0 1774.6 724.0 1774.6 728.4 1784.5 728.4 1784.5 715.4 1794.4 715.4 1794.4 694.7 1804.2 694.7 1804.2 689.2 1814.1 689.2 1814.1 648.0 1824.0 648.0 1824.0 637.0 1833.8 637.0 1833.8 599.0 1843.7 599.0 1843.7 619.6 1853.6 619.6 1853.6 584.7 1863.4 584.7 1863.4 540.0 1873.3 540.0 1873.3 546.6 1883.2 546.6 1883.2 575.0 1893.0 575.0 1893.0 575.0 1902.9 575.0 1902.9 627.2 1912.7 627.2 1912.7 671.8 1922.6 671.8 1922.6 688.2 1932.5 688.2 1932.5 730.6 1942.3 730.6 1942.3 728.4 1952.2 728.4 1952.2 742.6 1962.1 742.6 1962.1 746.0 1971.9 746.0 1971.9 754.6 1981.8 754.6 1981.8 762.2 1991.7 762.2 1991.7 764.4 2001.5 764.4 2001.5 770.0 2011.4 770.0 2011.4 763.3 2021.3 763.3 2021.3 767.6 2031.1 767.6 2031.1 767.6 2041.0 767.6 2041.0 770.0 2050.9 770.0 2050.9 770.0 2060.7 770.0 2060.7 770.0 2070.6 770.0 2070.6 770.0 2080.4 770.0" fill="none" stroke="#7a28a8" stroke-width="2.2" stroke-linejoin="miter"/><path d="M1594.0 770.0 1597.1 770.0 1597.1 770.0 1606.9 770.0 1606.9 770.0 1616.8 770.0 1616.8 770.0 1626.7 770.0 1626.7 764.4 1636.5 764.4 1636.5 746.0 1646.4 746.0 1646.4 724.0 1656.3 724.0 1656.3 712.0 1666.1 712.0 1666.1 698.0 1676.0 698.0 1676.0 678.4 1685.9 678.4 1685.9 616.3 1695.7 616.3 1695.7 573.0 1705.6 573.0 1705.6 567.3 1715.4 567.3 1715.4 523.0 1725.3 523.0 1725.3 531.4 1735.2 531.4 1735.2 574.0 1745.0 574.0 1745.0 582.5 1754.9 582.5 1754.9 617.4 1764.8 617.4 1764.8 618.5 1774.6 618.5 1774.6 639.2 1784.5 639.2 1784.5 640.2 1794.4 640.2 1794.4 677.3 1804.2 677.3 1804.2 717.6 1814.1 717.6 1814.1 729.5 1824.0 729.5 1824.0 734.0 1833.8 734.0 1833.8 763.3 1843.7 763.3 1843.7 764.4 1853.6 764.4 1853.6 770.0 1863.4 770.0 1863.4 770.0 1873.3 770.0 1873.3 770.0 1883.2 770.0 1883.2 770.0 1893.0 770.0 1893.0 770.0 1902.9 770.0 1902.9 770.0 1912.7 770.0 1912.7 770.0 1922.6 770.0 1922.6 770.0 1932.5 770.0 1932.5 770.0 1942.3 770.0 1942.3 770.0 1952.2 770.0 1952.2 770.0 1962.1 770.0 1962.1 770.0 1971.9 770.0 1971.9 770.0 1981.8 770.0 1981.8 770.0 1991.7 770.0 1991.7 770.0 2001.5 770.0 2001.5 770.0 2011.4 770.0 2011.4 770.0 2021.3 770.0 2021.3 770.0 2031.1 770.0 2031.1 770.0 2041.0 770.0 2041.0 770.0 2050.9 770.0" fill="none" stroke="#e0141e" stroke-width="2.2" stroke-linejoin="miter"/><path d="M1594.0 764.4 1597.1 764.4 1597.1 768.7 1606.9 768.7 1606.9 678.4 1616.8 678.4 1616.8 611.0 1626.7 611.0 1626.7 567.3 1636.5 567.3 1636.5 559.7 1646.4 559.7 1646.4 559.7 1656.3 559.7 1656.3 528.0 1666.1 528.0 1666.1 545.5 1676.0 545.5 1676.0 590.2 1685.9 590.2 1685.9 643.5 1695.7 643.5 1695.7 611.0 1705.6 611.0 1705.6 645.7 1715.4 645.7 1715.4 639.2 1725.3 639.2 1725.3 673.0 1735.2 673.0 1735.2 715.4 1745.0 715.4 1745.0 722.0 1754.9 722.0 1754.9 709.0 1764.8 709.0 1764.8 720.0 1774.6 720.0 1774.6 737.2 1784.5 737.2 1784.5 754.6 1794.4 754.6 1794.4 752.4 1804.2 752.4 1804.2 752.4 1814.1 752.4 1814.1 758.0 1824.0 758.0 1824.0 760.0 1833.8 760.0 1833.8 756.8 1843.7 756.8 1843.7 770.0 1853.6 770.0 1853.6 770.0 1863.4 770.0 1863.4 770.0 1873.3 770.0 1873.3 770.0 1883.2 770.0 1883.2 770.0 1893.0 770.0 1893.0 770.0 1902.9 770.0 1902.9 770.0 1912.7 770.0 1912.7 770.0 1922.6 770.0 1922.6 770.0 1932.5 770.0 1932.5 770.0 1942.3 770.0 1942.3 770.0 1952.2 770.0 1952.2 770.0 1962.1 770.0 1962.1 770.0 1971.9 770.0 1971.9 770.0 1981.8 770.0 1981.8 770.0 1991.7 770.0 1991.7 770.0 2001.5 770.0 2001.5 770.0 2011.4 770.0 2011.4 770.0 2021.3 770.0 2021.3 770.0 2031.1 770.0 2031.1 770.0 2041.0 770.0 2041.0 770.0 2050.9 770.0" fill="none" stroke="#e3e31a" stroke-width="2.2" stroke-linejoin="miter"/>
<path d="M1593 508 V773 H2087" fill="none" stroke="#000" stroke-width="2.4"/><line x1="1588" y1="773" x2="1593" y2="773" stroke="#000" stroke-width="2"/><text x="1583" y="781.5" font-size="24" text-anchor="end">0</text><line x1="1588" y1="517.6" x2="1593" y2="517.6" stroke="#000" stroke-width="2"/><text x="1583" y="526.1" font-size="24" text-anchor="end">0.1</text><line x1="1593" y1="773" x2="1593" y2="778" stroke="#000" stroke-width="2"/><text x="1593" y="803" font-size="24" text-anchor="middle">0</text><line x1="2073.7" y1="773" x2="2073.7" y2="778" stroke="#000" stroke-width="2"/><text x="2073.7" y="803" font-size="24" text-anchor="middle">14000</text>
<text x="0" y="0" font-size="24" text-anchor="middle" transform="translate(1558,625) rotate(-90)">Density</text>
<path d="M1596.5 1185.5 1598.8 1185.5 1598.8 1186.5 1608.5 1186.5 1608.5 1186.5 1618.3 1186.5 1618.3 1185.5 1628.0 1185.5 1628.0 1184.5 1637.7 1184.5 1637.7 1184.5 1647.4 1184.5 1647.4 1183.5 1657.1 1183.5 1657.1 1182.5 1666.9 1182.5 1666.9 1181.5 1676.6 1181.5 1676.6 1175.5 1686.3 1175.5 1686.3 1174.5 1696.0 1174.5 1696.0 1170.5 1705.7 1170.5 1705.7 1155.1 1715.5 1155.1 1715.5 1150.7 1725.2 1150.7 1725.2 1139.8 1734.9 1139.8 1734.9 1124.5 1744.6 1124.5 1744.6 1094.1 1754.3 1094.1 1754.3 1075.5 1764.1 1075.5 1764.1 1044.0 1773.8 1044.0 1773.8 1001.5 1783.5 1001.5 1783.5 975.5 1793.2 975.5 1793.2 970.0 1802.9 970.0 1802.9 949.3 1812.7 949.3 1812.7 946.0 1822.4 946.0 1822.4 947.1 1832.1 947.1 1832.1 941.7 1841.8 941.7 1841.8 970.0 1851.5 970.0 1851.5 986.5 1861.3 986.5 1861.3 1019.5 1871.0 1019.5 1871.0 1061.5 1880.7 1061.5 1880.7 1061.5 1890.4 1061.5 1890.4 1113.7 1900.1 1113.7 1900.1 1113.7 1909.9 1113.7 1909.9 1139.8 1919.6 1139.8 1919.6 1146.5 1929.3 1146.5 1929.3 1157.3 1939.0 1157.3 1939.0 1166.0 1948.7 1166.0 1948.7 1172.5 1958.5 1172.5 1958.5 1175.8 1968.2 1175.8 1968.2 1181.2 1977.9 1181.2 1977.9 1182.3 1987.6 1182.3 1987.6 1184.5 1997.3 1184.5 1997.3 1185.5 2007.1 1185.5 2007.1 1186.5 2016.8 1186.5 2016.8 1186.5 2026.5 1186.5 2026.5 1186.5 2036.2 1186.5 2036.2 1186.5 2045.9 1186.5 2045.9 1186.5 2055.7 1186.5 2055.7 1187.5 2065.4 1187.5 2065.4 1193.5 2055.7 1193.5 2055.7 1193.5 2045.9 1193.5 2045.9 1193.5 2036.2 1193.5 2036.2 1193.5 2026.5 1193.5 2026.5 1193.5 2016.8 1193.5 2016.8 1193.5 2007.1 1193.5 2007.1 1193.5 1997.3 1193.5 1997.3 1192.5 1987.6 1192.5 1987.6 1190.3 1977.9 1190.3 1977.9 1189.2 1968.2 1189.2 1968.2 1183.8 1958.5 1183.8 1958.5 1180.5 1948.7 1180.5 1948.7 1174.0 1939.0 1174.0 1939.0 1165.3 1929.3 1165.3 1929.3 1154.5 1919.6 1154.5 1919.6 1147.8 1909.9 1147.8 1909.9 1121.7 1900.1 1121.7 1900.1 1121.7 1890.4 1121.7 1890.4 1069.5 1880.7 1069.5 1880.7 1069.5 1871.0 1069.5 1871.0 1027.5 1861.3 1027.5 1861.3 994.5 1851.5 994.5 1851.5 978.0 1841.8 978.0 1841.8 949.7 1832.1 949.7 1832.1 955.1 1822.4 955.1 1822.4 954.0 1812.7 954.0 1812.7 957.3 1802.9 957.3 1802.9 978.0 1793.2 978.0 1793.2 983.5 1783.5 983.5 1783.5 1009.5 1773.8 1009.5 1773.8 1052.0 1764.1 1052.0 1764.1 1083.5 1754.3 1083.5 1754.3 1102.1 1744.6 1102.1 1744.6 1132.5 1734.9 1132.5 1734.9 1147.8 1725.2 1147.8 1725.2 1158.7 1715.5 1158.7 1715.5 1163.1 1705.7 1163.1 1705.7 1178.5 1696.0 1178.5 1696.0 1182.5 1686.3 1182.5 1686.3 1183.5 1676.6 1183.5 1676.6 1189.5 1666.9 1189.5 1666.9 1190.5 1657.1 1190.5 1657.1 1191.5 1647.4 1191.5 1647.4 1192.5 1637.7 1192.5 1637.7 1192.5 1628.0 1192.5 1628.0 1193.5 1618.3 1193.5 1618.3 1193.5 1608.5 1193.5 1608.5 1193.5 1598.8 1193.5 1598.8 1193.5 1596.5 1193.5Z" fill="#d6aa98" opacity="0.85"/><path d="M1596.5 1182.5 1598.8 1182.5 1598.8 1182.5 1608.5 1182.5 1608.5 1182.5 1618.3 1182.5 1618.3 1182.5 1628.0 1182.5 1628.0 1182.5 1637.7 1182.5 1637.7 1182.5 1647.4 1182.5 1647.4 1178.0 1657.1 1178.0 1657.1 1178.0 1666.9 1178.0 1666.9 1178.0 1676.6 1178.0 1676.6 1178.0 1686.3 1178.0 1686.3 1169.3 1696.0 1169.3 1696.0 1165.0 1705.7 1165.0 1705.7 1162.8 1715.5 1162.8 1715.5 1158.5 1725.2 1158.5 1725.2 1154.1 1734.9 1154.1 1734.9 1144.3 1744.6 1144.3 1744.6 1138.8 1754.3 1138.8 1754.3 1133.5 1764.1 1133.5 1764.1 1131.2 1773.8 1131.2 1773.8 1122.5 1783.5 1122.5 1783.5 1106.2 1793.2 1106.2 1793.2 1093.1 1802.9 1093.1 1802.9 1082.2 1812.7 1082.2 1812.7 1081.1 1822.4 1081.1 1822.4 1075.7 1832.1 1075.7 1832.1 1062.6 1841.8 1062.6 1841.8 1062.6 1851.5 1062.6 1851.5 1058.5 1861.3 1058.5 1861.3 1049.5 1871.0 1049.5 1871.0 1037.5 1880.7 1037.5 1880.7 1037.5 1890.4 1037.5 1890.4 1034.5 1900.1 1034.5 1900.1 1027.8 1909.9 1027.8 1909.9 1036.5 1919.6 1036.5 1919.6 1044.1 1929.3 1044.1 1929.3 1037.5 1939.0 1037.5 1939.0 1043.0 1948.7 1043.0 1948.7 1048.5 1958.5 1048.5 1958.5 1063.7 1968.2 1063.7 1968.2 1075.7 1977.9 1075.7 1977.9 1092.0 1987.6 1092.0 1987.6 1093.1 1997.3 1093.1 1997.3 1100.7 2007.1 1100.7 2007.1 1110.5 2016.8 1110.5 2016.8 1141.0 2026.5 1141.0 2026.5 1147.5 2036.2 1147.5 2036.2 1162.8 2045.9 1162.8 2045.9 1180.2 2055.7 1180.2 2055.7 1184.5 2065.4 1184.5 2065.4 1193.5 2055.7 1193.5 2055.7 1190.2 2045.9 1190.2 2045.9 1172.8 2036.2 1172.8 2036.2 1157.5 2026.5 1157.5 2026.5 1151.0 2016.8 1151.0 2016.8 1120.5 2007.1 1120.5 2007.1 1110.7 1997.3 1110.7 1997.3 1103.1 1987.6 1103.1 1987.6 1102.0 1977.9 1102.0 1977.9 1085.7 1968.2 1085.7 1968.2 1073.7 1958.5 1073.7 1958.5 1058.5 1948.7 1058.5 1948.7 1053.0 1939.0 1053.0 1939.0 1047.5 1929.3 1047.5 1929.3 1054.1 1919.6 1054.1 1919.6 1046.5 1909.9 1046.5 1909.9 1037.8 1900.1 1037.8 1900.1 1044.5 1890.4 1044.5 1890.4 1047.5 1880.7 1047.5 1880.7 1047.5 1871.0 1047.5 1871.0 1059.5 1861.3 1059.5 1861.3 1068.5 1851.5 1068.5 1851.5 1072.6 1841.8 1072.6 1841.8 1072.6 1832.1 1072.6 1832.1 1085.7 1822.4 1085.7 1822.4 1091.1 1812.7 1091.1 1812.7 1092.2 1802.9 1092.2 1802.9 1103.1 1793.2 1103.1 1793.2 1116.2 1783.5 1116.2 1783.5 1132.5 1773.8 1132.5 1773.8 1141.2 1764.1 1141.2 1764.1 1143.5 1754.3 1143.5 1754.3 1148.8 1744.6 1148.8 1744.6 1154.3 1734.9 1154.3 1734.9 1164.1 1725.2 1164.1 1725.2 1168.5 1715.5 1168.5 1715.5 1172.8 1705.7 1172.8 1705.7 1175.0 1696.0 1175.0 1696.0 1179.3 1686.3 1179.3 1686.3 1188.0 1676.6 1188.0 1676.6 1188.0 1666.9 1188.0 1666.9 1188.0 1657.1 1188.0 1657.1 1188.0 1647.4 1188.0 1647.4 1192.5 1637.7 1192.5 1637.7 1192.5 1628.0 1192.5 1628.0 1192.5 1618.3 1192.5 1618.3 1192.5 1608.5 1192.5 1608.5 1192.5 1598.8 1192.5 1598.8 1192.5 1596.5 1192.5Z" fill="#a0c4ea" opacity="0.85"/><path d="M1596.5 1185.5 1598.8 1185.5 1598.8 1185.0 1608.5 1185.0 1608.5 1170.5 1618.3 1170.5 1618.3 1167.2 1628.0 1167.2 1628.0 1164.0 1637.7 1164.0 1637.7 1154.2 1647.4 1154.2 1647.4 1138.9 1657.1 1138.9 1657.1 1140.0 1666.9 1140.0 1666.9 1120.5 1676.6 1120.5 1676.6 1120.5 1686.3 1120.5 1686.3 1099.7 1696.0 1099.7 1696.0 1073.5 1705.7 1073.5 1705.7 1080.1 1715.5 1080.1 1715.5 1082.3 1725.2 1082.3 1725.2 1078.0 1734.9 1078.0 1734.9 1081.2 1744.6 1081.2 1744.6 1059.5 1754.3 1059.5 1754.3 1055.1 1764.1 1055.1 1764.1 1054.0 1773.8 1054.0 1773.8 1030.1 1783.5 1030.1 1783.5 1048.5 1793.2 1048.5 1793.2 1048.5 1802.9 1048.5 1802.9 1036.5 1812.7 1036.5 1812.7 1054.0 1822.4 1054.0 1822.4 1062.5 1832.1 1062.5 1832.1 1066.0 1841.8 1066.0 1841.8 1073.5 1851.5 1073.5 1851.5 1078.0 1861.3 1078.0 1861.3 1056.2 1871.0 1056.2 1871.0 1098.7 1880.7 1098.7 1880.7 1088.9 1890.4 1088.9 1890.4 1092.1 1900.1 1092.1 1900.1 1100.8 1909.9 1100.8 1909.9 1129.1 1919.6 1129.1 1919.6 1135.7 1929.3 1135.7 1929.3 1124.8 1939.0 1124.8 1939.0 1140.0 1948.7 1140.0 1948.7 1136.8 1958.5 1136.8 1958.5 1145.5 1968.2 1145.5 1968.2 1142.2 1977.9 1142.2 1977.9 1157.5 1987.6 1157.5 1987.6 1156.4 1997.3 1156.4 1997.3 1157.5 2007.1 1157.5 2007.1 1171.6 2016.8 1171.6 2016.8 1172.7 2026.5 1172.7 2026.5 1178.1 2036.2 1178.1 2036.2 1181.5 2045.9 1181.5 2045.9 1182.5 2055.7 1182.5 2055.7 1183.5 2065.4 1183.5 2065.4 1193.5 2055.7 1193.5 2055.7 1193.5 2045.9 1193.5 2045.9 1193.5 2036.2 1193.5 2036.2 1190.1 2026.5 1190.1 2026.5 1184.7 2016.8 1184.7 2016.8 1183.6 2007.1 1183.6 2007.1 1169.5 1997.3 1169.5 1997.3 1168.4 1987.6 1168.4 1987.6 1169.5 1977.9 1169.5 1977.9 1154.2 1968.2 1154.2 1968.2 1157.5 1958.5 1157.5 1958.5 1148.8 1948.7 1148.8 1948.7 1152.0 1939.0 1152.0 1939.0 1136.8 1929.3 1136.8 1929.3 1147.7 1919.6 1147.7 1919.6 1141.1 1909.9 1141.1 1909.9 1112.8 1900.1 1112.8 1900.1 1104.1 1890.4 1104.1 1890.4 1100.9 1880.7 1100.9 1880.7 1110.7 1871.0 1110.7 1871.0 1068.2 1861.3 1068.2 1861.3 1090.0 1851.5 1090.0 1851.5 1085.5 1841.8 1085.5 1841.8 1078.0 1832.1 1078.0 1832.1 1074.5 1822.4 1074.5 1822.4 1066.0 1812.7 1066.0 1812.7 1048.5 1802.9 1048.5 1802.9 1060.5 1793.2 1060.5 1793.2 1060.5 1783.5 1060.5 1783.5 1042.1 1773.8 1042.1 1773.8 1066.0 1764.1 1066.0 1764.1 1067.1 1754.3 1067.1 1754.3 1071.5 1744.6 1071.5 1744.6 1093.2 1734.9 1093.2 1734.9 1090.0 1725.2 1090.0 1725.2 1094.3 1715.5 1094.3 1715.5 1092.1 1705.7 1092.1 1705.7 1085.5 1696.0 1085.5 1696.0 1111.7 1686.3 1111.7 1686.3 1132.5 1676.6 1132.5 1676.6 1132.5 1666.9 1132.5 1666.9 1152.0 1657.1 1152.0 1657.1 1150.9 1647.4 1150.9 1647.4 1166.2 1637.7 1166.2 1637.7 1176.0 1628.0 1176.0 1628.0 1179.2 1618.3 1179.2 1618.3 1182.5 1608.5 1182.5 1608.5 1193.5 1598.8 1193.5 1598.8 1193.5 1596.5 1193.5Z" fill="#a0d8a0" opacity="0.85"/><path d="M1596.5 1174.2 1598.8 1174.2 1598.8 1177.5 1608.5 1177.5 1608.5 1177.5 1618.3 1177.5 1618.3 1173.1 1628.0 1173.1 1628.0 1173.1 1637.7 1173.1 1637.7 1177.5 1647.4 1177.5 1647.4 1173.1 1657.1 1173.1 1657.1 1179.7 1666.9 1179.7 1666.9 1172.0 1676.6 1172.0 1676.6 1177.5 1686.3 1177.5 1686.3 1177.5 1696.0 1177.5 1696.0 1167.7 1705.7 1167.7 1705.7 1152.5 1715.5 1152.5 1715.5 1152.5 1725.2 1152.5 1725.2 1166.6 1734.9 1166.6 1734.9 1130.7 1744.6 1130.7 1744.6 1127.5 1754.3 1127.5 1754.3 1122.0 1764.1 1122.0 1764.1 1119.8 1773.8 1119.8 1773.8 1073.0 1783.5 1073.0 1783.5 1068.5 1793.2 1068.5 1793.2 1012.0 1802.9 1012.0 1802.9 1054.5 1812.7 1054.5 1812.7 1074.1 1822.4 1074.1 1822.4 1037.0 1832.1 1037.0 1832.1 1063.2 1841.8 1063.2 1841.8 1062.1 1851.5 1062.1 1851.5 1043.5 1861.3 1043.5 1861.3 1012.0 1871.0 1012.0 1871.0 1037.0 1880.7 1037.0 1880.7 980.5 1890.4 980.5 1890.4 1046.8 1900.1 1046.8 1900.1 1001.1 1909.9 1001.1 1909.9 985.9 1919.6 985.9 1919.6 995.7 1929.3 995.7 1929.3 1031.5 1939.0 1031.5 1939.0 1042.5 1948.7 1042.5 1948.7 1110.0 1958.5 1110.0 1958.5 1110.0 1968.2 1110.0 1968.2 1119.8 1977.9 1119.8 1977.9 1089.3 1987.6 1089.3 1987.6 1141.5 1997.3 1141.5 1997.3 1131.8 2007.1 1131.8 2007.1 1156.8 2016.8 1156.8 2016.8 1151.4 2026.5 1151.4 2026.5 1140.5 2036.2 1140.5 2036.2 1172.0 2045.9 1172.0 2045.9 1177.5 2055.7 1177.5 2055.7 1179.5 2065.4 1179.5 2065.4 1193.5 2055.7 1193.5 2055.7 1193.5 2045.9 1193.5 2045.9 1193.5 2036.2 1193.5 2036.2 1162.5 2026.5 1162.5 2026.5 1173.4 2016.8 1173.4 2016.8 1178.8 2007.1 1178.8 2007.1 1153.8 1997.3 1153.8 1997.3 1163.5 1987.6 1163.5 1987.6 1111.3 1977.9 1111.3 1977.9 1141.8 1968.2 1141.8 1968.2 1132.0 1958.5 1132.0 1958.5 1132.0 1948.7 1132.0 1948.7 1064.5 1939.0 1064.5 1939.0 1053.5 1929.3 1053.5 1929.3 1017.7 1919.6 1017.7 1919.6 1007.9 1909.9 1007.9 1909.9 1023.1 1900.1 1023.1 1900.1 1068.8 1890.4 1068.8 1890.4 1002.5 1880.7 1002.5 1880.7 1059.0 1871.0 1059.0 1871.0 1034.0 1861.3 1034.0 1861.3 1065.5 1851.5 1065.5 1851.5 1084.1 1841.8 1084.1 1841.8 1085.2 1832.1 1085.2 1832.1 1059.0 1822.4 1059.0 1822.4 1096.1 1812.7 1096.1 1812.7 1076.5 1802.9 1076.5 1802.9 1034.0 1793.2 1034.0 1793.2 1090.5 1783.5 1090.5 1783.5 1095.0 1773.8 1095.0 1773.8 1141.8 1764.1 1141.8 1764.1 1144.0 1754.3 1144.0 1754.3 1149.5 1744.6 1149.5 1744.6 1152.7 1734.9 1152.7 1734.9 1188.6 1725.2 1188.6 1725.2 1174.5 1715.5 1174.5 1715.5 1174.5 1705.7 1174.5 1705.7 1189.7 1696.0 1189.7 1696.0 1193.5 1686.3 1193.5 1686.3 1193.5 1676.6 1193.5 1676.6 1193.5 1666.9 1193.5 1666.9 1193.5 1657.1 1193.5 1657.1 1193.5 1647.4 1193.5 1647.4 1193.5 1637.7 1193.5 1637.7 1193.5 1628.0 1193.5 1628.0 1193.5 1618.3 1193.5 1618.3 1193.5 1608.5 1193.5 1608.5 1193.5 1598.8 1193.5 1598.8 1193.5 1596.5 1193.5Z" fill="#cca8de" opacity="0.85"/><path d="M1596.5 1177.0 1598.8 1177.0 1598.8 1177.0 1608.5 1177.0 1608.5 1177.0 1618.3 1177.0 1618.3 1177.0 1628.0 1177.0 1628.0 1177.0 1637.7 1177.0 1637.7 1177.0 1647.4 1177.0 1647.4 1177.0 1657.1 1177.0 1657.1 1177.0 1666.9 1177.0 1666.9 1177.0 1676.6 1177.0 1676.6 1177.0 1686.3 1177.0 1686.3 1166.2 1696.0 1166.2 1696.0 1168.3 1705.7 1168.3 1705.7 1161.8 1715.5 1161.8 1715.5 1155.3 1725.2 1155.3 1725.2 1153.1 1734.9 1153.1 1734.9 1148.7 1744.6 1148.7 1744.6 1144.5 1754.3 1144.5 1754.3 1137.8 1764.1 1137.8 1764.1 1133.5 1773.8 1133.5 1773.8 1144.5 1783.5 1144.5 1783.5 1124.8 1793.2 1124.8 1793.2 1107.5 1802.9 1107.5 1802.9 1098.7 1812.7 1098.7 1812.7 1089.9 1822.4 1089.9 1822.4 1083.5 1832.1 1083.5 1832.1 1079.1 1841.8 1079.1 1841.8 1081.2 1851.5 1081.2 1851.5 1083.5 1861.3 1083.5 1861.3 1084.5 1871.0 1084.5 1871.0 1075.8 1880.7 1075.8 1880.7 1087.8 1890.4 1087.8 1890.4 1068.2 1900.1 1068.2 1900.1 1079.1 1909.9 1079.1 1909.9 1083.5 1919.6 1083.5 1919.6 1081.2 1929.3 1081.2 1929.3 1104.1 1939.0 1104.1 1939.0 1046.5 1948.7 1046.5 1948.7 1066.0 1958.5 1066.0 1958.5 1068.2 1968.2 1068.2 1968.2 1046.5 1977.9 1046.5 1977.9 1074.7 1987.6 1074.7 1987.6 1023.5 1997.3 1023.5 1997.3 1018.1 2007.1 1018.1 2007.1 1047.5 2016.8 1047.5 2016.8 1036.5 2026.5 1036.5 2026.5 1066.0 2036.2 1066.0 2036.2 1108.5 2045.9 1108.5 2045.9 1148.7 2055.7 1148.7 2055.7 1165.1 2065.4 1165.1 2065.4 1177.1 2055.7 1177.1 2055.7 1160.7 2045.9 1160.7 2045.9 1120.5 2036.2 1120.5 2036.2 1078.0 2026.5 1078.0 2026.5 1048.5 2016.8 1048.5 2016.8 1059.5 2007.1 1059.5 2007.1 1030.1 1997.3 1030.1 1997.3 1035.5 1987.6 1035.5 1987.6 1086.7 1977.9 1086.7 1977.9 1058.5 1968.2 1058.5 1968.2 1080.2 1958.5 1080.2 1958.5 1078.0 1948.7 1078.0 1948.7 1058.5 1939.0 1058.5 1939.0 1116.1 1929.3 1116.1 1929.3 1093.2 1919.6 1093.2 1919.6 1095.5 1909.9 1095.5 1909.9 1091.1 1900.1 1091.1 1900.1 1080.2 1890.4 1080.2 1890.4 1099.8 1880.7 1099.8 1880.7 1087.8 1871.0 1087.8 1871.0 1096.5 1861.3 1096.5 1861.3 1095.5 1851.5 1095.5 1851.5 1093.2 1841.8 1093.2 1841.8 1091.1 1832.1 1091.1 1832.1 1095.5 1822.4 1095.5 1822.4 1101.9 1812.7 1101.9 1812.7 1110.7 1802.9 1110.7 1802.9 1119.5 1793.2 1119.5 1793.2 1136.8 1783.5 1136.8 1783.5 1156.5 1773.8 1156.5 1773.8 1145.5 1764.1 1145.5 1764.1 1149.8 1754.3 1149.8 1754.3 1156.5 1744.6 1156.5 1744.6 1160.7 1734.9 1160.7 1734.9 1165.1 1725.2 1165.1 1725.2 1167.3 1715.5 1167.3 1715.5 1173.8 1705.7 1173.8 1705.7 1180.3 1696.0 1180.3 1696.0 1178.2 1686.3 1178.2 1686.3 1189.0 1676.6 1189.0 1676.6 1189.0 1666.9 1189.0 1666.9 1189.0 1657.1 1189.0 1657.1 1189.0 1647.4 1189.0 1647.4 1189.0 1637.7 1189.0 1637.7 1189.0 1628.0 1189.0 1628.0 1189.0 1618.3 1189.0 1618.3 1189.0 1608.5 1189.0 1608.5 1189.0 1598.8 1189.0 1598.8 1189.0 1596.5 1189.0Z" fill="#f2a8d8" opacity="0.85"/><path d="M1596.5 1186.5 1598.8 1186.5 1598.8 1186.5 1608.5 1186.5 1608.5 1183.5 1618.3 1183.5 1618.3 1178.0 1628.0 1178.0 1628.0 1173.6 1637.7 1173.6 1637.7 1161.6 1647.4 1161.6 1647.4 1144.2 1657.1 1144.2 1657.1 1124.5 1666.9 1124.5 1666.9 1111.5 1676.6 1111.5 1676.6 1087.5 1686.3 1087.5 1686.3 1052.7 1696.0 1052.7 1696.0 1026.5 1705.7 1026.5 1705.7 987.5 1715.5 987.5 1715.5 971.1 1725.2 971.1 1725.2 950.5 1734.9 950.5 1734.9 966.7 1744.6 966.7 1744.6 978.7 1754.3 978.7 1754.3 977.5 1764.1 977.5 1764.1 986.5 1773.8 986.5 1773.8 980.9 1783.5 980.9 1783.5 1001.5 1793.2 1001.5 1793.2 1032.1 1802.9 1032.1 1802.9 1048.5 1812.7 1048.5 1812.7 1070.2 1822.4 1070.2 1822.4 1094.1 1832.1 1094.1 1832.1 1099.5 1841.8 1099.5 1841.8 1124.5 1851.5 1124.5 1851.5 1134.5 1861.3 1134.5 1861.3 1140.9 1871.0 1140.9 1871.0 1155.1 1880.7 1155.1 1880.7 1157.3 1890.4 1157.3 1890.4 1170.3 1900.1 1170.3 1900.1 1178.0 1909.9 1178.0 1909.9 1175.8 1919.6 1175.8 1919.6 1181.2 1929.3 1181.2 1929.3 1186.7 1939.0 1186.7 1939.0 1187.5 1948.7 1187.5 1948.7 1187.5 1958.5 1187.5 1958.5 1187.5 1968.2 1187.5 1968.2 1187.5 1977.9 1187.5 1977.9 1187.5 1987.6 1187.5 1987.6 1187.5 1997.3 1187.5 1997.3 1187.5 2007.1 1187.5 2007.1 1187.5 2016.8 1187.5 2016.8 1187.5 2026.5 1187.5 2026.5 1187.5 2036.2 1187.5 2036.2 1187.5 2045.9 1187.5 2045.9 1187.5 2055.7 1187.5 2055.7 1187.5 2065.4 1187.5 2065.4 1193.5 2055.7 1193.5 2055.7 1193.5 2045.9 1193.5 2045.9 1193.5 2036.2 1193.5 2036.2 1193.5 2026.5 1193.5 2026.5 1193.5 2016.8 1193.5 2016.8 1193.5 2007.1 1193.5 2007.1 1193.5 1997.3 1193.5 1997.3 1193.5 1987.6 1193.5 1987.6 1193.5 1977.9 1193.5 1977.9 1193.5 1968.2 1193.5 1968.2 1193.5 1958.5 1193.5 1958.5 1193.5 1948.7 1193.5 1948.7 1193.5 1939.0 1193.5 1939.0 1193.5 1929.3 1193.5 1929.3 1189.2 1919.6 1189.2 1919.6 1183.8 1909.9 1183.8 1909.9 1186.0 1900.1 1186.0 1900.1 1178.3 1890.4 1178.3 1890.4 1165.3 1880.7 1165.3 1880.7 1163.1 1871.0 1163.1 1871.0 1148.9 1861.3 1148.9 1861.3 1142.5 1851.5 1142.5 1851.5 1132.5 1841.8 1132.5 1841.8 1107.5 1832.1 1107.5 1832.1 1102.1 1822.4 1102.1 1822.4 1078.2 1812.7 1078.2 1812.7 1056.5 1802.9 1056.5 1802.9 1040.1 1793.2 1040.1 1793.2 1009.5 1783.5 1009.5 1783.5 988.9 1773.8 988.9 1773.8 994.5 1764.1 994.5 1764.1 985.5 1754.3 985.5 1754.3 986.7 1744.6 986.7 1744.6 974.7 1734.9 974.7 1734.9 958.5 1725.2 958.5 1725.2 979.1 1715.5 979.1 1715.5 995.5 1705.7 995.5 1705.7 1034.5 1696.0 1034.5 1696.0 1060.7 1686.3 1060.7 1686.3 1095.5 1676.6 1095.5 1676.6 1119.5 1666.9 1119.5 1666.9 1132.5 1657.1 1132.5 1657.1 1152.2 1647.4 1152.2 1647.4 1169.6 1637.7 1169.6 1637.7 1181.6 1628.0 1181.6 1628.0 1186.0 1618.3 1186.0 1618.3 1191.5 1608.5 1191.5 1608.5 1193.5 1598.8 1193.5 1598.8 1193.5 1596.5 1193.5Z" fill="#ee98a0" opacity="0.85"/><path d="M1596.5 1185.5 1598.8 1185.5 1598.8 1185.5 1608.5 1185.5 1608.5 1125.7 1618.3 1125.7 1618.3 1072.3 1628.0 1072.3 1628.0 1080.0 1637.7 1080.0 1637.7 1082.1 1647.4 1082.1 1647.4 1080.0 1657.1 1080.0 1657.1 1094.1 1666.9 1094.1 1666.9 1098.5 1676.6 1098.5 1676.6 1087.5 1686.3 1087.5 1686.3 1068.0 1696.0 1068.0 1696.0 1061.5 1705.7 1061.5 1705.7 1041.9 1715.5 1041.9 1715.5 1052.7 1725.2 1052.7 1725.2 1056.0 1734.9 1056.0 1734.9 1048.5 1744.6 1048.5 1744.6 1042.9 1754.3 1042.9 1754.3 1046.2 1764.1 1046.2 1764.1 1052.7 1773.8 1052.7 1773.8 1059.3 1783.5 1059.3 1783.5 1054.9 1793.2 1054.9 1793.2 1078.9 1802.9 1078.9 1802.9 1076.7 1812.7 1076.7 1812.7 1085.5 1822.4 1085.5 1822.4 1094.1 1832.1 1094.1 1832.1 1098.5 1841.8 1098.5 1841.8 1111.5 1851.5 1111.5 1851.5 1118.1 1861.3 1118.1 1861.3 1117.0 1871.0 1117.0 1871.0 1142.0 1880.7 1142.0 1880.7 1134.5 1890.4 1134.5 1890.4 1140.9 1900.1 1140.9 1900.1 1139.8 1909.9 1139.8 1909.9 1156.2 1919.6 1156.2 1919.6 1164.9 1929.3 1164.9 1929.3 1168.2 1939.0 1168.2 1939.0 1173.6 1948.7 1173.6 1948.7 1178.0 1958.5 1178.0 1958.5 1180.1 1968.2 1180.1 1968.2 1178.0 1977.9 1178.0 1977.9 1175.8 1987.6 1175.8 1987.6 1178.0 1997.3 1178.0 1997.3 1181.2 2007.1 1181.2 2007.1 1183.5 2016.8 1183.5 2016.8 1184.5 2026.5 1184.5 2026.5 1185.5 2036.2 1185.5 2036.2 1186.7 2045.9 1186.7 2045.9 1187.5 2055.7 1187.5 2055.7 1187.5 2065.4 1187.5 2065.4 1193.5 2055.7 1193.5 2055.7 1193.5 2045.9 1193.5 2045.9 1193.5 2036.2 1193.5 2036.2 1193.5 2026.5 1193.5 2026.5 1192.5 2016.8 1192.5 2016.8 1191.5 2007.1 1191.5 2007.1 1189.2 1997.3 1189.2 1997.3 1186.0 1987.6 1186.0 1987.6 1183.8 1977.9 1183.8 1977.9 1186.0 1968.2 1186.0 1968.2 1188.1 1958.5 1188.1 1958.5 1186.0 1948.7 1186.0 1948.7 1181.6 1939.0 1181.6 1939.0 1176.2 1929.3 1176.2 1929.3 1172.9 1919.6 1172.9 1919.6 1164.2 1909.9 1164.2 1909.9 1147.8 1900.1 1147.8 1900.1 1148.9 1890.4 1148.9 1890.4 1142.5 1880.7 1142.5 1880.7 1150.0 1871.0 1150.0 1871.0 1125.0 1861.3 1125.0 1861.3 1126.1 1851.5 1126.1 1851.5 1119.5 1841.8 1119.5 1841.8 1106.5 1832.1 1106.5 1832.1 1102.1 1822.4 1102.1 1822.4 1093.5 1812.7 1093.5 1812.7 1084.7 1802.9 1084.7 1802.9 1086.9 1793.2 1086.9 1793.2 1062.9 1783.5 1062.9 1783.5 1067.3 1773.8 1067.3 1773.8 1060.7 1764.1 1060.7 1764.1 1054.2 1754.3 1054.2 1754.3 1050.9 1744.6 1050.9 1744.6 1056.5 1734.9 1056.5 1734.9 1064.0 1725.2 1064.0 1725.2 1060.7 1715.5 1060.7 1715.5 1049.9 1705.7 1049.9 1705.7 1069.5 1696.0 1069.5 1696.0 1076.0 1686.3 1076.0 1686.3 1095.5 1676.6 1095.5 1676.6 1106.5 1666.9 1106.5 1666.9 1102.1 1657.1 1102.1 1657.1 1088.0 1647.4 1088.0 1647.4 1090.1 1637.7 1090.1 1637.7 1088.0 1628.0 1088.0 1628.0 1080.3 1618.3 1080.3 1618.3 1133.7 1608.5 1133.7 1608.5 1193.5 1598.8 1193.5 1598.8 1193.5 1596.5 1193.5Z" fill="#ecee80" opacity="0.85"/>
<path d="M1596.5 1189.5 1598.8 1189.5 1598.8 1190.5 1608.5 1190.5 1608.5 1190.5 1618.3 1190.5 1618.3 1189.5 1628.0 1189.5 1628.0 1188.5 1637.7 1188.5 1637.7 1188.5 1647.4 1188.5 1647.4 1187.5 1657.1 1187.5 1657.1 1186.5 1666.9 1186.5 1666.9 1185.5 1676.6 1185.5 1676.6 1179.5 1686.3 1179.5 1686.3 1178.5 1696.0 1178.5 1696.0 1174.5 1705.7 1174.5 1705.7 1159.1 1715.5 1159.1 1715.5 1154.7 1725.2 1154.7 1725.2 1143.8 1734.9 1143.8 1734.9 1128.5 1744.6 1128.5 1744.6 1098.1 1754.3 1098.1 1754.3 1079.5 1764.1 1079.5 1764.1 1048.0 1773.8 1048.0 1773.8 1005.5 1783.5 1005.5 1783.5 979.5 1793.2 979.5 1793.2 974.0 1802.9 974.0 1802.9 953.3 1812.7 953.3 1812.7 950.0 1822.4 950.0 1822.4 951.1 1832.1 951.1 1832.1 945.7 1841.8 945.7 1841.8 974.0 1851.5 974.0 1851.5 990.5 1861.3 990.5 1861.3 1023.5 1871.0 1023.5 1871.0 1065.5 1880.7 1065.5 1880.7 1065.5 1890.4 1065.5 1890.4 1117.7 1900.1 1117.7 1900.1 1117.7 1909.9 1117.7 1909.9 1143.8 1919.6 1143.8 1919.6 1150.5 1929.3 1150.5 1929.3 1161.3 1939.0 1161.3 1939.0 1170.0 1948.7 1170.0 1948.7 1176.5 1958.5 1176.5 1958.5 1179.8 1968.2 1179.8 1968.2 1185.2 1977.9 1185.2 1977.9 1186.3 1987.6 1186.3 1987.6 1188.5 1997.3 1188.5 1997.3 1189.5 2007.1 1189.5 2007.1 1190.5 2016.8 1190.5 2016.8 1190.5 2026.5 1190.5 2026.5 1190.5 2036.2 1190.5 2036.2 1190.5 2045.9 1190.5 2045.9 1190.5 2055.7 1190.5 2055.7 1191.5 2065.4 1191.5" fill="none" stroke="#9a4a1e" stroke-width="2.2" stroke-linejoin="miter"/><path d="M1596.5 1187.5 1598.8 1187.5 1598.8 1187.5 1608.5 1187.5 1608.5 1187.5 1618.3 1187.5 1618.3 1187.5 1628.0 1187.5 1628.0 1187.5 1637.7 1187.5 1637.7 1187.5 1647.4 1187.5 1647.4 1183.0 1657.1 1183.0 1657.1 1183.0 1666.9 1183.0 1666.9 1183.0 1676.6 1183.0 1676.6 1183.0 1686.3 1183.0 1686.3 1174.3 1696.0 1174.3 1696.0 1170.0 1705.7 1170.0 1705.7 1167.8 1715.5 1167.8 1715.5 1163.5 1725.2 1163.5 1725.2 1159.1 1734.9 1159.1 1734.9 1149.3 1744.6 1149.3 1744.6 1143.8 1754.3 1143.8 1754.3 1138.5 1764.1 1138.5 1764.1 1136.2 1773.8 1136.2 1773.8 1127.5 1783.5 1127.5 1783.5 1111.2 1793.2 1111.2 1793.2 1098.1 1802.9 1098.1 1802.9 1087.2 1812.7 1087.2 1812.7 1086.1 1822.4 1086.1 1822.4 1080.7 1832.1 1080.7 1832.1 1067.6 1841.8 1067.6 1841.8 1067.6 1851.5 1067.6 1851.5 1063.5 1861.3 1063.5 1861.3 1054.5 1871.0 1054.5 1871.0 1042.5 1880.7 1042.5 1880.7 1042.5 1890.4 1042.5 1890.4 1039.5 1900.1 1039.5 1900.1 1032.8 1909.9 1032.8 1909.9 1041.5 1919.6 1041.5 1919.6 1049.1 1929.3 1049.1 1929.3 1042.5 1939.0 1042.5 1939.0 1048.0 1948.7 1048.0 1948.7 1053.5 1958.5 1053.5 1958.5 1068.7 1968.2 1068.7 1968.2 1080.7 1977.9 1080.7 1977.9 1097.0 1987.6 1097.0 1987.6 1098.1 1997.3 1098.1 1997.3 1105.7 2007.1 1105.7 2007.1 1115.5 2016.8 1115.5 2016.8 1146.0 2026.5 1146.0 2026.5 1152.5 2036.2 1152.5 2036.2 1167.8 2045.9 1167.8 2045.9 1185.2 2055.7 1185.2 2055.7 1189.5 2065.4 1189.5" fill="none" stroke="#3a7cc8" stroke-width="2.2" stroke-linejoin="miter"/><path d="M1596.5 1191.5 1598.8 1191.5 1598.8 1191.0 1608.5 1191.0 1608.5 1176.5 1618.3 1176.5 1618.3 1173.2 1628.0 1173.2 1628.0 1170.0 1637.7 1170.0 1637.7 1160.2 1647.4 1160.2 1647.4 1144.9 1657.1 1144.9 1657.1 1146.0 1666.9 1146.0 1666.9 1126.5 1676.6 1126.5 1676.6 1126.5 1686.3 1126.5 1686.3 1105.7 1696.0 1105.7 1696.0 1079.5 1705.7 1079.5 1705.7 1086.1 1715.5 1086.1 1715.5 1088.3 1725.2 1088.3 1725.2 1084.0 1734.9 1084.0 1734.9 1087.2 1744.6 1087.2 1744.6 1065.5 1754.3 1065.5 1754.3 1061.1 1764.1 1061.1 1764.1 1060.0 1773.8 1060.0 1773.8 1036.1 1783.5 1036.1 1783.5 1054.5 1793.2 1054.5 1793.2 1054.5 1802.9 1054.5 1802.9 1042.5 1812.7 1042.5 1812.7 1060.0 1822.4 1060.0 1822.4 1068.5 1832.1 1068.5 1832.1 1072.0 1841.8 1072.0 1841.8 1079.5 1851.5 1079.5 1851.5 1084.0 1861.3 1084.0 1861.3 1062.2 1871.0 1062.2 1871.0 1104.7 1880.7 1104.7 1880.7 1094.9 1890.4 1094.9 1890.4 1098.1 1900.1 1098.1 1900.1 1106.8 1909.9 1106.8 1909.9 1135.1 1919.6 1135.1 1919.6 1141.7 1929.3 1141.7 1929.3 1130.8 1939.0 1130.8 1939.0 1146.0 1948.7 1146.0 1948.7 1142.8 1958.5 1142.8 1958.5 1151.5 1968.2 1151.5 1968.2 1148.2 1977.9 1148.2 1977.9 1163.5 1987.6 1163.5 1987.6 1162.4 1997.3 1162.4 1997.3 1163.5 2007.1 1163.5 2007.1 1177.6 2016.8 1177.6 2016.8 1178.7 2026.5 1178.7 2026.5 1184.1 2036.2 1184.1 2036.2 1187.5 2045.9 1187.5 2045.9 1188.5 2055.7 1188.5 2055.7 1189.5 2065.4 1189.5" fill="none" stroke="#3cb43c" stroke-width="2.2" stroke-linejoin="miter"/><path d="M1596.5 1185.2 1598.8 1185.2 1598.8 1188.5 1608.5 1188.5 1608.5 1188.5 1618.3 1188.5 1618.3 1184.1 1628.0 1184.1 1628.0 1184.1 1637.7 1184.1 1637.7 1188.5 1647.4 1188.5 1647.4 1184.1 1657.1 1184.1 1657.1 1190.7 1666.9 1190.7 1666.9 1183.0 1676.6 1183.0 1676.6 1188.5 1686.3 1188.5 1686.3 1188.5 1696.0 1188.5 1696.0 1178.7 1705.7 1178.7 1705.7 1163.5 1715.5 1163.5 1715.5 1163.5 1725.2 1163.5 1725.2 1177.6 1734.9 1177.6 1734.9 1141.7 1744.6 1141.7 1744.6 1138.5 1754.3 1138.5 1754.3 1133.0 1764.1 1133.0 1764.1 1130.8 1773.8 1130.8 1773.8 1084.0 1783.5 1084.0 1783.5 1079.5 1793.2 1079.5 1793.2 1023.0 1802.9 1023.0 1802.9 1065.5 1812.7 1065.5 1812.7 1085.1 1822.4 1085.1 1822.4 1048.0 1832.1 1048.0 1832.1 1074.2 1841.8 1074.2 1841.8 1073.1 1851.5 1073.1 1851.5 1054.5 1861.3 1054.5 1861.3 1023.0 1871.0 1023.0 1871.0 1048.0 1880.7 1048.0 1880.7 991.5 1890.4 991.5 1890.4 1057.8 1900.1 1057.8 1900.1 1012.1 1909.9 1012.1 1909.9 996.9 1919.6 996.9 1919.6 1006.7 1929.3 1006.7 1929.3 1042.5 1939.0 1042.5 1939.0 1053.5 1948.7 1053.5 1948.7 1121.0 1958.5 1121.0 1958.5 1121.0 1968.2 1121.0 1968.2 1130.8 1977.9 1130.8 1977.9 1100.3 1987.6 1100.3 1987.6 1152.5 1997.3 1152.5 1997.3 1142.8 2007.1 1142.8 2007.1 1167.8 2016.8 1167.8 2016.8 1162.4 2026.5 1162.4 2026.5 1151.5 2036.2 1151.5 2036.2 1183.0 2045.9 1183.0 2045.9 1188.5 2055.7 1188.5 2055.7 1190.5 2065.4 1190.5" fill="none" stroke="#7a28a8" stroke-width="2.2" stroke-linejoin="miter"/><path d="M1596.5 1183.0 1598.8 1183.0 1598.8 1183.0 1608.5 1183.0 1608.5 1183.0 1618.3 1183.0 1618.3 1183.0 1628.0 1183.0 1628.0 1183.0 1637.7 1183.0 1637.7 1183.0 1647.4 1183.0 1647.4 1183.0 1657.1 1183.0 1657.1 1183.0 1666.9 1183.0 1666.9 1183.0 1676.6 1183.0 1676.6 1183.0 1686.3 1183.0 1686.3 1172.2 1696.0 1172.2 1696.0 1174.3 1705.7 1174.3 1705.7 1167.8 1715.5 1167.8 1715.5 1161.3 1725.2 1161.3 1725.2 1159.1 1734.9 1159.1 1734.9 1154.7 1744.6 1154.7 1744.6 1150.5 1754.3 1150.5 1754.3 1143.8 1764.1 1143.8 1764.1 1139.5 1773.8 1139.5 1773.8 1150.5 1783.5 1150.5 1783.5 1130.8 1793.2 1130.8 1793.2 1113.5 1802.9 1113.5 1802.9 1104.7 1812.7 1104.7 1812.7 1095.9 1822.4 1095.9 1822.4 1089.5 1832.1 1089.5 1832.1 1085.1 1841.8 1085.1 1841.8 1087.2 1851.5 1087.2 1851.5 1089.5 1861.3 1089.5 1861.3 1090.5 1871.0 1090.5 1871.0 1081.8 1880.7 1081.8 1880.7 1093.8 1890.4 1093.8 1890.4 1074.2 1900.1 1074.2 1900.1 1085.1 1909.9 1085.1 1909.9 1089.5 1919.6 1089.5 1919.6 1087.2 1929.3 1087.2 1929.3 1110.1 1939.0 1110.1 1939.0 1052.5 1948.7 1052.5 1948.7 1072.0 1958.5 1072.0 1958.5 1074.2 1968.2 1074.2 1968.2 1052.5 1977.9 1052.5 1977.9 1080.7 1987.6 1080.7 1987.6 1029.5 1997.3 1029.5 1997.3 1024.1 2007.1 1024.1 2007.1 1053.5 2016.8 1053.5 2016.8 1042.5 2026.5 1042.5 2026.5 1072.0 2036.2 1072.0 2036.2 1114.5 2045.9 1114.5 2045.9 1154.7 2055.7 1154.7 2055.7 1171.1 2065.4 1171.1" fill="none" stroke="#e060c0" stroke-width="2.2" stroke-linejoin="miter"/><path d="M1596.5 1190.5 1598.8 1190.5 1598.8 1190.5 1608.5 1190.5 1608.5 1187.5 1618.3 1187.5 1618.3 1182.0 1628.0 1182.0 1628.0 1177.6 1637.7 1177.6 1637.7 1165.6 1647.4 1165.6 1647.4 1148.2 1657.1 1148.2 1657.1 1128.5 1666.9 1128.5 1666.9 1115.5 1676.6 1115.5 1676.6 1091.5 1686.3 1091.5 1686.3 1056.7 1696.0 1056.7 1696.0 1030.5 1705.7 1030.5 1705.7 991.5 1715.5 991.5 1715.5 975.1 1725.2 975.1 1725.2 954.5 1734.9 954.5 1734.9 970.7 1744.6 970.7 1744.6 982.7 1754.3 982.7 1754.3 981.5 1764.1 981.5 1764.1 990.5 1773.8 990.5 1773.8 984.9 1783.5 984.9 1783.5 1005.5 1793.2 1005.5 1793.2 1036.1 1802.9 1036.1 1802.9 1052.5 1812.7 1052.5 1812.7 1074.2 1822.4 1074.2 1822.4 1098.1 1832.1 1098.1 1832.1 1103.5 1841.8 1103.5 1841.8 1128.5 1851.5 1128.5 1851.5 1138.5 1861.3 1138.5 1861.3 1144.9 1871.0 1144.9 1871.0 1159.1 1880.7 1159.1 1880.7 1161.3 1890.4 1161.3 1890.4 1174.3 1900.1 1174.3 1900.1 1182.0 1909.9 1182.0 1909.9 1179.8 1919.6 1179.8 1919.6 1185.2 1929.3 1185.2 1929.3 1190.7 1939.0 1190.7 1939.0 1191.5 1948.7 1191.5 1948.7 1191.5 1958.5 1191.5 1958.5 1191.5 1968.2 1191.5 1968.2 1191.5 1977.9 1191.5 1977.9 1191.5 1987.6 1191.5 1987.6 1191.5 1997.3 1191.5 1997.3 1191.5 2007.1 1191.5 2007.1 1191.5 2016.8 1191.5 2016.8 1191.5 2026.5 1191.5 2026.5 1191.5 2036.2 1191.5 2036.2 1191.5 2045.9 1191.5 2045.9 1191.5 2055.7 1191.5 2055.7 1191.5 2065.4 1191.5" fill="none" stroke="#e0141e" stroke-width="2.2" stroke-linejoin="miter"/><path d="M1596.5 1189.5 1598.8 1189.5 1598.8 1189.5 1608.5 1189.5 1608.5 1129.7 1618.3 1129.7 1618.3 1076.3 1628.0 1076.3 1628.0 1084.0 1637.7 1084.0 1637.7 1086.1 1647.4 1086.1 1647.4 1084.0 1657.1 1084.0 1657.1 1098.1 1666.9 1098.1 1666.9 1102.5 1676.6 1102.5 1676.6 1091.5 1686.3 1091.5 1686.3 1072.0 1696.0 1072.0 1696.0 1065.5 1705.7 1065.5 1705.7 1045.9 1715.5 1045.9 1715.5 1056.7 1725.2 1056.7 1725.2 1060.0 1734.9 1060.0 1734.9 1052.5 1744.6 1052.5 1744.6 1046.9 1754.3 1046.9 1754.3 1050.2 1764.1 1050.2 1764.1 1056.7 1773.8 1056.7 1773.8 1063.3 1783.5 1063.3 1783.5 1058.9 1793.2 1058.9 1793.2 1082.9 1802.9 1082.9 1802.9 1080.7 1812.7 1080.7 1812.7 1089.5 1822.4 1089.5 1822.4 1098.1 1832.1 1098.1 1832.1 1102.5 1841.8 1102.5 1841.8 1115.5 1851.5 1115.5 1851.5 1122.1 1861.3 1122.1 1861.3 1121.0 1871.0 1121.0 1871.0 1146.0 1880.7 1146.0 1880.7 1138.5 1890.4 1138.5 1890.4 1144.9 1900.1 1144.9 1900.1 1143.8 1909.9 1143.8 1909.9 1160.2 1919.6 1160.2 1919.6 1168.9 1929.3 1168.9 1929.3 1172.2 1939.0 1172.2 1939.0 1177.6 1948.7 1177.6 1948.7 1182.0 1958.5 1182.0 1958.5 1184.1 1968.2 1184.1 1968.2 1182.0 1977.9 1182.0 1977.9 1179.8 1987.6 1179.8 1987.6 1182.0 1997.3 1182.0 1997.3 1185.2 2007.1 1185.2 2007.1 1187.5 2016.8 1187.5 2016.8 1188.5 2026.5 1188.5 2026.5 1189.5 2036.2 1189.5 2036.2 1190.7 2045.9 1190.7 2045.9 1191.5 2055.7 1191.5 2055.7 1191.5 2065.4 1191.5" fill="none" stroke="#e3e31a" stroke-width="2.2" stroke-linejoin="miter"/>
<path d="M1595.5 926.8 V1194.5 H2092" fill="none" stroke="#000" stroke-width="2.4"/><line x1="1590.5" y1="1194.5" x2="1595.5" y2="1194.5" stroke="#000" stroke-width="2"/><text x="1585.5" y="1203" font-size="24" text-anchor="end">0</text><line x1="1590.5" y1="954" x2="1595.5" y2="954" stroke="#000" stroke-width="2"/><text x="1585.5" y="962.5" font-size="24" text-anchor="end">0.07</text><line x1="1595.5" y1="1194.5" x2="1595.5" y2="1199.5" stroke="#000" stroke-width="2"/><text x="1595.5" y="1224.5" font-size="24" text-anchor="middle">0</text><line x1="2026" y1="1194.5" x2="2026" y2="1199.5" stroke="#000" stroke-width="2"/><text x="2026" y="1224.5" font-size="24" text-anchor="middle">30000</text>
<text x="0" y="0" font-size="24" text-anchor="middle" transform="translate(1558,1056) rotate(-90)">Density</text>
<text x="1822" y="1246" font-size="24" text-anchor="middle">Mean rank</text>
</svg></body></html>
